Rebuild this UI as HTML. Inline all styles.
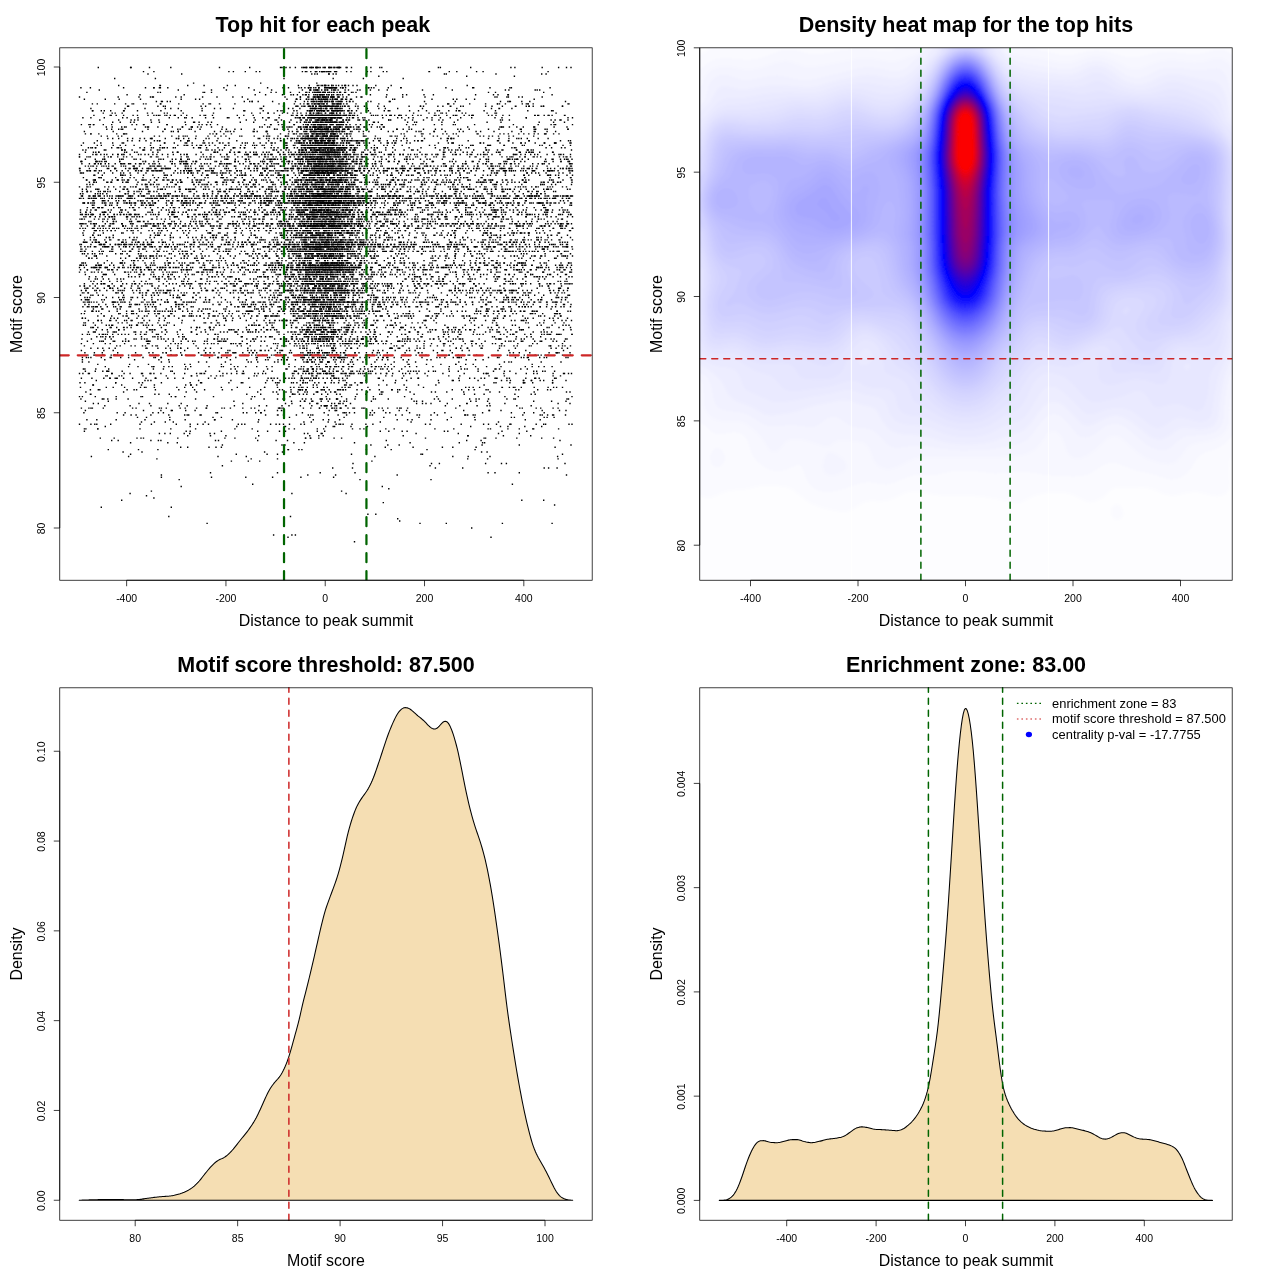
<!DOCTYPE html>
<html><head><meta charset="utf-8"><title>Motif enrichment plots</title>
<style>html,body{margin:0;padding:0;background:#fff}svg{display:block;will-change:transform}text{font-family:"Liberation Sans", sans-serif;fill:#000}</style>
</head><body>
<svg width="1280" height="1280" viewBox="0 0 1280 1280">
<rect width="1280" height="1280" fill="#fff"/>
<clipPath id="c1"><rect x="59.76" y="47.81" width="532.43" height="532.43"/></clipPath>
<g clip-path="url(#c1)">
<g stroke="#000" stroke-width="1.44" fill="none">
<path d="M294.7 67.58h1.4m5.1 0h1.4m7.5 0h1.4m4.1 0h2.4m6.5 0h1.4m2.6 0h1.4m3.5 0h1.4m3.6 0h1.4m5.6 0h1.4m163.4 0h1.4m2.6 0h1.4M142.8 71.61h1.4m111.3 0h1.4m44.8 0h1.4m3 0h1.4m2.6 0h1.4m3.6 0h1.4m12 0h1.4m0.1 0h1.4m4.5 0h1.4m91 0h1.9m25.9 0h1.4M147.3 73.91h1.4m162.4 0h1.4m4.1 0h1.4M402.5 78.53h1.4M159.2 85.44h1.9m42.3 0h1.4m29.8 0h1.4m72.6 0h1.4m10.5 0h1.4m0.1 0h1.4m4.1 0h1.9m6 0h1.4m8.1 0h1.4m44.2 0h1.4M89.7 87.75h1.4m67.6 0h2.4m6 0h1.4m139.6 0h1.4m0.6 0h1.4m6.6 0h1.4m4.5 0h1.4m1.6 0h1.4m0.1 0h1.4m0.1 0h5.3m0.1 0h1.4m5.1 0h1.4m24.4 0h1.4m30.9 0h1.9m70.1 0h2.4m14.9 0h1.4M210.8 90.05h1.4m13.5 0h1.4m82 0h2.4m4.1 0h1.4m4 0h1.4m4.1 0h1.4m28.9 0h1.4m1.1 0h1.4m9 0h1.4m7 0h1.4m72.1 0h1.4M159.7 92.35h1.4m109.3 0h1.4m18 0h1.4m14.9 0h1.4m9.6 0h1.4m1 0h1.4m1.6 0h1.4m15 0h1.4m154.5 0h1.4"/>
<path d="M139.3 94.66h1.4m42.8 0h1.4m117.3 0h1.4m15.4 0h2.9m6.6 0h1.4m3 0h1.4m7.6 0h1.4m62.6 0h1.4m100.4 0h1.4M241.6 96.96h1.4m65.1 0h1.4m7.1 0h2.4m3 0h1.4m4.1 0h1.4m9 0h1.4m21 0h1.4m134.6 0h1.4m23.9 0h1.4M104.6 99.27h1.4m12.5 0h1.4m175.8 0h1.4m2.6 0h1.4m4.5 0h1.4m11.1 0h2.3m2.6 0h1.4m7.1 0h1.4m7.5 0h2.9M160.7 101.58h1.4m4.5 0h1.4m83.5 0h1.4m41.8 0h1.4m19.5 0h1.4m3 0h1.4m2.6 0h1.4m0.1 0h2.4m3.1 0h1.4m5 0h1.4m7.1 0h1.4m2 0h1.4m19.5 0h1.4m135.6 0h1.4m56.2 0h1.4M91.7 103.88h1.4m20.9 0h1.4m17.5 0h1.4m43.8 0h1.4m98.8 0h1.4m20 0h1.4m6.5 0h1.9m4.1 0h1.4m3.6 0h1.4m2.5 0h1.4m2.1 0h1.4m4.6 0h1.4m1 0h1.4m2.1 0h1.4m0.6 0h1.4m105.8 0h1.4m48.3 0h1.4m27.4 0h1.4m0.6 0h1.4m39.3 0h1.4M126.9 106.19h1.4m34.4 0h1.4m0.5 0h1.4m34.4 0h1.4m105.8 0h1.4m0.1 0h1.4m1.6 0h1.4m1.6 0h1.9m7.5 0h1.4m6.1 0h2.8m2.6 0h1.9m44.3 0h1.4m34.8 0h1.4m1.6 0h1.4m13 0h1.4m46.3 0h1.4m28.4 0h1.9m9 0h1.4m15.5 0h1.4m17.9 0h1.4M124.4 108.49h1.4m44.3 0h1.4m127.7 0h1.4m9.5 0h1.4m0.1 0h1.4m1.6 0h1.4m0.1 0h1.4m2.5 0h1.9m3.1 0h2.4m4.1 0h1.4m3.5 0h1.4m11 0h1.4m16.5 0h1.4m16.5 0h1.4m11 0h1.4m23.4 0h1.4m75.1 0h1.9M160.2 110.8h1.4m18.9 0h1.4m80.6 0h1.4m45.7 0h1.4m7.6 0h1.4m1 0h1.4m0.1 0h2.4m1.6 0h1.4m6.5 0h1.9m1.1 0h1.4m0.1 0h1.4m0.1 0h1.4m1.6 0h1.4m2.5 0h2.4m16 0h1.4m0.6 0h1.4m14.5 0h1.4m4.1 0h1.4m57.6 0h1.4m77.6 0h1.4"/>
<path d="M102.6 113.1h1.4m17.5 0h1.4m43.7 0h1.4m14.5 0h1.4m28.9 0h1.4m36.8 0h1.4m21 0h1.4m46.2 0h1.4m9.1 0h1.4m3 0h1.4m11.5 0h1.4m62.7 0h1.4m25.9 0h1.4m113.8 0h1.4M155.7 115.4h1.4m0.6 0h1.4m10.5 0h1.4m2.6 0h1.4m103.8 0h1.4m21.5 0h1.4m6.5 0h1.4m0.1 0h1.4m1.1 0h2.4m0.1 0h1.4m2 0h1.4m0.6 0h1.9m0.6 0h1.4m0.6 0h1.4m1.1 0h1.4m0.6 0h2.4m1 0h1.4m0.1 0h2.4m0.1 0h1.4m0.1 0h1.4m0.6 0h1.4m0.6 0h1.4m45.7 0h1.4m25.4 0h1.4m27.4 0h1.4m21 0h1.4m1.1 0h1.4m0.1 0h1.4m13.9 0h1.4m6.1 0h1.4m37.3 0h1.9M268.4 117.71h1.4m24.9 0h1.9m2.1 0h2.4m2.1 0h1.4m2.5 0h1.4m1.6 0h1.4m0.1 0h3.4m1.1 0h2.9m2.5 0h2.9m1.1 0h1.4m1.6 0h1.4m0.6 0h1.4m4.5 0h1.4m0.1 0h1.9m61.2 0h1.4m23.9 0h1.4m3.6 0h1.4m16.9 0h1.4m74.6 0h1.4m40.3 0h1.4M118 120.01h1.4m38.8 0h1.4m114.8 0h1.4m38.8 0h4.4m2.5 0h1.9m0.6 0h1.4m1.1 0h2.4m0.6 0h1.9m11 0h1.4m2.1 0h1.4m10 0h1.4m0.1 0h1.4m4 0h1.4m24.4 0h1.4m20.5 0h1.4m86.5 0h1.4m58.1 0h1.4M112 122.32h1.4m80.5 0h1.4m44.3 0h1.4m36.3 0h1.4m28.9 0h1.4m0.6 0h1.4m5.1 0h2.4m1 0h1.4m6.6 0h1.4m1.6 0h1.4m2 0h1.4m5.6 0h3.4m33.3 0h1.4m27.9 0h1.4m5.6 0h1.4M93.2 124.62h1.4m36.8 0h1.4m10.5 0h1.4m21.9 0h1.4m17 0h1.4m23.4 0h1.4m5.6 0h1.4m52.2 0h1.4m21.9 0h1.4m7.6 0h1.4m6.5 0h1.4m0.6 0h1.4m6 0h1.4m0.1 0h1.4m0.1 0h1.4m1.1 0h1.4m2.6 0h1.4m0.1 0h1.4m3.5 0h1.4m1.6 0h2.4m4.1 0h1.4m2.5 0h1.4m4.6 0h1.4m24.9 0h1.4m58.2 0h1.4m31.3 0h1.4M89.2 126.93h1.4m15 0h1.4m4.5 0h1.4m11 0h1.4m46.3 0h1.4m9 0h1.4m8.1 0h1.4m66.1 0h1.4m21.4 0h1.4m8 0h1.4m10.1 0h1.4m2 0h1.4m2.1 0h1.4m2.6 0h2.9m1.6 0h3.8m6.6 0h1.4m4.5 0h1.4m1.6 0h1.4m0.1 0h1.4m6.6 0h2.3m3.6 0h1.4m4.1 0h1.4m3.5 0h1.4m14.5 0h1.4m120.3 0h1.4m0.5 0h1.4m4.6 0h1.4m6 0h1.4m5.1 0h1.4M118 129.24h1.4m1.1 0h1.4m12.5 0h1.4m11.5 0h1.4m15.5 0h1.4m55.6 0h1.4m30.9 0h1.4m45.3 0h1.4m5.5 0h1.4m0.6 0h2.4m0.1 0h1.4m1.1 0h1.4m1.6 0h2.4m5 0h1.4m0.1 0h2.9m6.5 0h1.4m1.1 0h1.4m18 0h1.4m0.6 0h1.4m6 0h1.4m12.5 0h1.4m151.5 0h1.4m11.5 0h1.4"/>
<path d="M170.6 131.54h1.4m57.7 0h1.4m35.3 0h1.4m35.4 0h1.4m0.1 0h2.8m2.6 0h2.4m0.1 0h1.4m0.1 0h1.4m6.5 0h1.4m1.1 0h1.9m0.1 0h1.4m0.1 0h1.4m2.6 0h1.9m1 0h1.4m2.1 0h1.9m2.1 0h1.4m6 0h1.4m7.1 0h1.4m27.9 0h1.4m17.4 0h1.4m25.9 0h1.4m40.3 0h1.4m43.8 0h1.4m24.4 0h1.4M84.7 133.85h1.4m38.3 0h1.4m141.1 0h1.4m25.4 0h1.4m0.6 0h1.4m8.5 0h1.4m0.1 0h1.9m3.6 0h1.4m1.6 0h1.9m4.5 0h2.9m1.1 0h2.4m1.6 0h1.4m1.1 0h2.8m13.5 0h1.4m12.5 0h1.4m65.2 0h1.4m11.5 0h1.4m12 0h1.4m42.3 0h1.4m27.4 0h1.4m14.9 0h1.4M121 136.15h1.4m48.7 0h1.4m12 0h1.4m9.5 0h1.4m10.5 0h1.4m11.6 0h1.4m75.5 0h1.4m9 0h1.4m1.6 0h2.4m3.1 0h2.4m3.5 0h1.4m0.1 0h1.4m1.6 0h1.4m2.6 0h1.4m0.1 0h1.9m2.5 0h1.4m8.6 0h1.4m14.9 0h1.4m1.1 0h1.4m27.9 0h1.4m101.9 0h1.4m33.8 0h1.4M126.9 138.45h1.4m36.3 0h1.4m12.1 0h1.4m3.5 0h1.4m81.5 0h1.4m9.5 0h1.4m8.6 0h1.4m13 0h1.4m2.5 0h3.4m1.1 0h1.4m0.6 0h1.4m0.1 0h2.4m0.6 0h1.4m1.5 0h2.9m0.6 0h1.4m4.1 0h2.4m0.6 0h1.9m1 0h1.4m1.1 0h1.4m2.6 0h1.4m32.4 0h1.4m1.5 0h1.4m69.1 0h1.4m2.1 0h1.4m0.6 0h1.4m43.8 0h1.4m8.5 0h1.4m8.5 0h1.4M159.2 140.76h1.4m26.4 0h1.4m14.5 0h1.4m91.4 0h1.4m1.1 0h1.4m10 0h1.4m4.6 0h3.4m0.5 0h2.4m6.1 0h2.4m1.6 0h3.3m11.1 0h1.4m4.5 0h1.4m2.6 0h1.4m56.2 0h1.4m2 0h1.4m2.1 0h1.4m24.4 0h1.4m60.2 0h1.4m18.5 0h1.4m40.3 0h1.4M112 143.06h1.4m9.5 0h1.4m49.3 0h1.4m11 0h1.4m16.5 0h1.4m13.5 0h1.9m1.5 0h1.4m18 0h1.4m22.4 0h1.4m4.6 0h1.4m1.6 0h1.4m9.5 0h1.4m12 0h1.4m0.6 0h1.9m4 0h1.4m1.1 0h1.9m1.1 0h2.4m0.6 0h1.4m11 0h1.4m2.6 0h1.4m14.9 0h1.4m6.6 0h1.4m1.6 0h1.4m3 0h1.4m15.5 0h1.4m6.1 0h1.4m2.5 0h1.4m2.1 0h1.4m56.2 0h1.4m66.1 0h1.4m3.1 0h1.4m43.3 0h1.4M159.7 145.37h1.4m38.3 0h1.4m0.1 0h1.4m2.6 0h1.4m2.5 0h1.4m4.1 0h1.4m12.5 0h1.4m24.4 0h1.4m6.1 0h1.4m29.8 0h1.4m7.6 0h1.4m2 0h1.4m2.6 0h1.4m0.6 0h1.4m4.6 0h1.4m2 0h1.4m2.1 0h1.4m0.1 0h1.4m1.1 0h1.4m2.1 0h5.8m12 0h1.4m6.1 0h1.4m15.5 0h1.4m8 0h1.4m87 0h1.4m14.5 0h3.3m13 0h1.4m43.8 0h1.4M87.7 147.68h1.4m70.1 0h1.4m1.1 0h1.4m0.6 0h1.4m9.5 0h1.4m21.9 0h1.4m0.1 0h1.4m22.9 0h1.4m7.6 0h1.4m0.1 0h1.4m8 0h1.4m18.9 0h1.4m8.1 0h1.4m26.4 0h1.4m0.6 0h1.4m0.1 0h1.4m2 0h1.9m1.6 0h1.9m0.1 0h1.4m4 0h1.4m2.6 0h1.4m3.6 0h3.4m0.1 0h1.4m0.5 0h1.4m2.6 0h2.4m1.1 0h1.4m12 0h1.4m0.6 0h1.4m62.6 0h1.4m22.5 0h1.4m19.9 0h1.4m46.8 0h1.4m35.8 0h1.4m12 0h1.4"/>
<path d="M105.1 149.98h1.4m17.4 0h1.4m147.1 0h1.4m11.5 0h1.4m18 0h1.4m10 0h1.4m1.1 0h1.4m0.5 0h1.4m5.6 0h1.4m0.6 0h1.4m2.5 0h1.4m6.1 0h1.9m0.6 0h1.4m4 0h1.4m17 0h1.4m5.6 0h1.4m35.3 0h1.4m0.1 0h1.4m25.4 0h1.4m10.5 0h1.4m2.6 0h1.4m0.6 0h1.4m29.8 0h1.4m26 0h1.4m10.5 0h1.4m1.5 0h1.4m38.9 0h1.4M84.7 152.29h1.4m6.6 0h1.4m1 0h1.4m1.6 0h1.4m52.7 0h1.4m23.5 0h1.4m21.9 0h1.4m11.5 0h2.4m22.9 0h1.4m9.5 0h1.4m26.9 0h1.4m11.1 0h1.4m9 0h1.4m0.6 0h2.4m1 0h1.4m4.6 0h1.4m1.1 0h1.4m0.6 0h1.4m1.5 0h1.4m1.6 0h2.4m0.6 0h1.4m0.6 0h1.4m2.6 0h3.8m0.1 0h1.4m6.1 0h1.4m47.7 0h1.4m49.3 0h1.4m0.1 0h1.4m41.8 0h1.4m40.3 0h1.4m21.4 0h1.4M78.8 154.59h1.4m14.9 0h1.4m7.1 0h1.4m7 0h1.4m9 0h1.4m5.6 0h1.4m9.5 0h1.4m10.5 0h1.4m26.4 0h1.4m5.1 0h1.4m46.3 0h1.4m8.5 0h1.4m1.1 0h2.4m30.3 0h1.4m10.1 0h1.4m1 0h1.4m1.1 0h1.4m2.6 0h1.4m0.6 0h1.9m1.5 0h1.4m3.6 0h1.4m0.1 0h2.4m0.1 0h2.4m0.6 0h1.4m0.1 0h2.8m0.1 0h3.9m0.1 0h2.9m0.1 0h1.4m1.6 0h1.4m1.5 0h1.4m0.1 0h1.9m1.1 0h1.4m1.6 0h1.4m2.1 0h1.4m0.1 0h1.4m1.5 0h1.4m6.1 0h1.4m28.9 0h3.8m11.1 0h1.4m12.5 0h1.4m8.5 0h1.4m9.5 0h1.4m4.1 0h1.4m15.4 0h1.4m19 0h1.4m1.6 0h1.4m0.1 0h1.4m5.5 0h1.4m31.9 0h1.4m27.4 0h1.4m3.5 0h1.4m3.1 0h1.4m5.6 0h1.4M78.8 156.9h1.4m30.3 0h1.4m11 0h1.4m1.6 0h1.4m29.9 0h1.4m8.5 0h1.4m98.9 0h1.4m35.9 0h1.4m1 0h4.4m2.1 0h1.4m0.6 0h2.4m2.5 0h1.4m2.1 0h1.4m1.6 0h2.4m0.1 0h2.4m1 0h4.4m0.1 0h1.4m14 0h1.4m6.6 0h1.8m1.6 0h1.4m11.5 0h1.4m2.6 0h1.4m10.5 0h1.4m20.5 0h1.4m8.5 0h1.4m7 0h1.4m1.1 0h1.4m37.3 0h2.4m6.1 0h1.4m3.5 0h1.4m29.9 0h1.4m16 0h1.4m28.4 0h1.4M102.1 159.2h1.4m54.7 0h1.4m12 0h1.4m14 0h1.4m37.3 0h1.4m39.3 0h1.4m6.6 0h1.4m1 0h1.4m7.1 0h1.4m14.5 0h2.4m3.5 0h4.9m0.6 0h1.4m1.6 0h1.4m0.1 0h1.4m0.1 0h4.8m0.1 0h1.4m4.6 0h1.9m0.6 0h1.4m2.5 0h1.4m2.1 0h1.4m1.1 0h1.4m2.6 0h1.4m18.4 0h1.4m5.6 0h1.4m7 0h1.4m26.9 0h1.4m15.5 0h1.4m81.5 0h1.4m3.6 0h1.4m35.8 0h2.4m10 0h1.4M80.7 161.5h1.4m13.5 0h1.4m0.1 0h1.4m20.5 0h1.4m24.4 0h1.4m46.2 0h1.4m1.1 0h2.4m36.9 0h1.4m9.5 0h1.4m2.5 0h1.4m11.6 0h1.4m8 0h1.4m15.5 0h1.4m7.5 0h1.4m1.1 0h1.4m1.1 0h1.4m3.5 0h2.4m5.1 0h1.4m1.1 0h1.4m0.5 0h1.9m1.6 0h1.9m1.1 0h1.4m6.5 0h1.4m2.6 0h1.4m1.1 0h3.9m2.6 0h1.4m4 0h1.4m0.1 0h1.4m6.1 0h1.4m25.4 0h1.4m4.5 0h1.4m11 0h1.4m16 0h1.4m63.1 0h1.4m15.5 0h1.4m7.6 0h1.4m28.8 0h1.4m15 0h1.4m5.6 0h1.4M81.2 163.81h1.4m6.1 0h1.4m14.5 0h1.4m8.5 0h1.4m4.1 0h1.4m18.9 0h1.4m10.5 0h1.4m0.6 0h1.4m15.5 0h1.9m12.5 0h1.4m17 0h1.4m20.4 0h1.4m1.1 0h1.9m9 0h1.4m9 0h1.4m12 0h1.4m6.6 0h1.4m1.1 0h1.4m0.6 0h1.4m24.9 0h1.4m4 0h1.4m0.6 0h2.9m1.1 0h1.4m1.1 0h1.4m1.1 0h1.4m0.5 0h1.4m0.1 0h1.4m2.6 0h2.4m13 0h1.4m0.6 0h1.9m0.1 0h1.4m1 0h1.4m0.6 0h1.4m5.1 0h1.4m1.6 0h1.4m5 0h3.4m3.1 0h1.4m7.5 0h1.4m25.4 0h1.4m3.1 0h1.4m7 0h1.4m4.1 0h1.4m17 0h1.4m52.7 0h1.4m11 0h1.4m6 0h1.4m22 0h1.4m0.6 0h1.4m3.5 0h1.4m19 0h1.4M87.7 166.11h1.4m7 0h1.4m60.2 0h1.4m30.9 0h1.4m31.3 0h1.4m1.6 0h1.4m18 0h1.4m22.9 0h1.4m9 0h1.4m10.5 0h1.4m1.6 0h1.4m8.1 0h1.4m7.5 0h1.4m0.1 0h3.9m0.1 0h1.4m1 0h2.4m0.6 0h1.9m0.6 0h2.4m0.1 0h1.4m0.6 0h3.3m4.1 0h1.9m0.1 0h1.4m0.6 0h1.4m5 0h1.4m53.2 0h1.4m25 0h1.4m19.4 0h1.4m5.6 0h1.4m8 0h1.4m23.4 0h1.9m23.9 0h1.4m4.1 0h1.4m41.8 0h1.4"/>
<path d="M79.3 168.42h1.4m8 0h1.4m16.5 0h2.8m4.6 0h1.4m9.5 0h1.4m3.1 0h1.4m3.6 0h1.4m0.1 0h1.4m4.5 0h1.4m4.6 0h1.9m11 0h1.9m2.5 0h1.4m20.5 0h2.4m13 0h1.4m7 0h1.4m12 0h1.4m30.4 0h2.4m8.5 0h1.4m5.6 0h1.4m10 0h1.4m4.5 0h1.4m0.1 0h1.4m2.6 0h1.4m7.5 0h2.4m3.1 0h1.4m1.1 0h1.9m0.1 0h1.4m2.5 0h1.4m1.1 0h2.4m2.6 0h1.4m2.6 0h1.4m0.1 0h1.8m2.6 0h1.4m0.6 0h1.4m1.1 0h1.4m2.1 0h1.4m3 0h1.9m8.1 0h1.4m6 0h1.4m5.6 0h1.4m25.9 0h1.4m7.5 0h1.4m11 0h1.4m27.4 0h1.4m7 0h1.9m3.6 0h1.4m6.6 0h1.4m4 0h1.4m9 0h1.4m1.6 0h2.4m5.1 0h1.4m0.1 0h3.3m0.1 0h1.4m3.6 0h1.4m17.5 0h1.4m36.3 0h1.4m1.1 0h1.4M87.2 170.73h1.4m0.6 0h1.4m4.5 0h1.4m2.1 0h1.4m21.5 0h1.4m17.4 0h1.9m4.1 0h1.4m4.5 0h1.4m29.9 0h1.4m3.1 0h1.4m17 0h1.4m3 0h1.9m17.5 0h1.4m7.5 0h1.4m16 0h1.4m11 0h1.4m0.1 0h1.4m10.5 0h1.4m2.6 0h1.4m14 0h1.4m1.6 0h2.8m6.1 0h1.4m0.6 0h1.9m0.1 0h3.3m0.6 0h1.9m1.6 0h1.4m0.1 0h5.4m1.5 0h2.4m1.1 0h1.4m0.6 0h1.4m1.6 0h1.4m1.1 0h1.4m8 0h1.4m1.1 0h1.4m70.1 0h1.4m5 0h1.4m8.1 0h1.4m4 0h1.4m0.6 0h1.4m4.6 0h1.4m5 0h1.4m5.6 0h1.4m20.4 0h1.4m10 0h1.4m5.6 0h1.4m10.5 0h1.4m8 0h1.4m0.6 0h1.4m13.5 0h1.4m1.6 0h1.4m4.1 0h1.4m12.5 0h1.4M79.8 173.03h2.8m29.4 0h1.4m70.1 0h1.4m2.1 0h1.4m2.1 0h1.4m29.8 0h1.4m51.8 0h1.4m1 0h1.4m21.5 0h1.4m7 0h1.4m2.1 0h1.9m1.1 0h1.4m3 0h1.4m0.6 0h3.4m2.1 0h1.4m0.1 0h2.9m0.1 0h1.9m6 0h2.4m76 0h1.4m39.9 0h1.4m6 0h1.4m28.9 0h1.4m6.5 0h1.4m20.5 0h1.4m34.3 0h1.4m5.6 0h1.4M121.5 175.34h2.3m39.9 0h1.4m26.9 0h1.4m7.5 0h1.4m4.5 0h1.4m8.1 0h1.4m24.4 0h1.4m0.6 0h2.4m14.5 0h2.4m2.5 0h1.4m3.1 0h1.4m6.5 0h1.4m0.6 0h1.4m5.1 0h1.9m6 0h1.4m7.1 0h1.4m3.5 0h2.4m6.1 0h2.4m9 0h1.4m3.5 0h1.4m2.6 0h2.4m2.6 0h1.4m0.6 0h1.4m5 0h1.4m4.6 0h1.4m5 0h1.4m22.5 0h1.4m12 0h1.4m9.5 0h1.4m7.5 0h1.4m10.1 0h1.4m41.7 0h1.4m19.5 0h1.4m17 0h1.4m8 0h1.4m14.5 0h1.4m14.5 0h1.4m15.5 0h1.4M82.7 177.64h1.4m58.2 0h1.4m10 0h1.4m10.5 0h1.4m26.9 0h1.4m26.9 0h1.9m10.1 0h2.3m5.1 0h1.4m36.8 0h1.4m20.5 0h1.4m7.5 0h1.9m4.1 0h1.4m2 0h2.4m7.1 0h2.4m0.1 0h1.4m0.5 0h1.4m4.1 0h2.4m11 0h1.9m22.4 0h1.4m49.8 0h1.4m30.3 0h1.4m4.1 0h1.4m13.5 0h2.4m87.5 0h1.4M94.6 179.95h1.4m20.5 0h1.4m5.5 0h1.4m25 0h1.4m28.8 0h1.4m10.1 0h1.4m10.5 0h1.4m28.4 0h1.4m9.5 0h1.4m8.5 0h1.4m7.5 0h1.4m33.9 0h1.4m0.6 0h1.9m3 0h1.4m0.1 0h4.9m2.1 0h1.4m0.1 0h1.4m0.6 0h1.4m3 0h1.4m3.6 0h1.4m1.1 0h2.4m2.5 0h2.9m3.6 0h1.9m0.6 0h1.4m0.6 0h1.4m8.5 0h1.4m1.1 0h1.4m7 0h1.4m9 0h1.4m13 0h1.4m0.6 0h1.9m16.5 0h1.4m2.1 0h1.4m0.6 0h1.4m36.3 0h1.4m28.9 0h1.4m15.9 0h1.4m8.1 0h1.4m12.5 0h1.4m25.9 0h1.4m8.5 0h1.4m7.1 0h1.9M88.7 182.25h1.4m5.5 0h1.4m56.7 0h1.4m40.8 0h1.4m1.1 0h1.4m8 0h1.4m6.6 0h1.9m15 0h1.4m4 0h1.4m2.6 0h1.4m6 0h1.4m4.6 0h1.4m37.3 0h1.4m5.1 0h1.4m2.1 0h1.4m3.5 0h1.4m0.1 0h1.4m2.6 0h2.4m0.1 0h1.4m1.5 0h1.4m2.6 0h1.4m3.6 0h1.4m0.6 0h1.4m2.5 0h1.4m8.1 0h1.4m5 0h1.4m0.6 0h2.4m11 0h1.4m21.5 0h1.4m17.4 0h1.4m21.5 0h1.4m3 0h1.9m16.5 0h1.4m22.4 0h1.4m3.6 0h1.4m12.5 0h1.4m4.5 0h1.4m15 0h1.4m20.5 0h1.4m11 0h1.4M149.8 184.55h1.4m15.4 0h1.4m6.6 0h1.4m17.4 0h1.4m6.6 0h1.4m22.9 0h1.4m20.5 0h1.4m4 0h1.4m32.4 0h1.4m9.5 0h1.4m3.1 0h2.4m2 0h1.4m0.1 0h1.4m1.6 0h1.9m1.1 0h2.4m0.6 0h2.4m1 0h1.4m1.1 0h1.4m3.1 0h1.4m6 0h1.4m0.6 0h1.4m0.1 0h1.4m6.1 0h1.4m0.5 0h2.4m0.6 0h1.4m0.6 0h2.4m9 0h1.4m10.5 0h2.4m2.1 0h1.4m4.6 0h1.4m0.1 0h1.4m9.5 0h1.9m1.6 0h1.4m17.9 0h1.4m12.5 0h1.4m15.5 0h1.4m3.1 0h1.4m33.8 0h1.4m46.3 0h1.4m2.1 0h1.4"/>
<path d="M78.8 186.86h1.4m9.5 0h1.4m21.9 0h1.4m18 0h1.4m1.1 0h1.4m37.3 0h1.4m4 0h1.4m20 0h1.4m2.6 0h1.9m7 0h1.4m21.4 0h1.4m17.5 0h1.4m5.1 0h1.4m5 0h1.4m10.5 0h1.4m19 0h1.4m5 0h1.4m1.6 0h1.4m1.6 0h1.4m2.1 0h1.4m1.5 0h1.4m0.6 0h1.9m8.1 0h1.4m1 0h1.4m5.6 0h1.4m1.1 0h1.4m1.1 0h1.4m0.1 0h1.4m4 0h1.4m12 0h1.4m14.5 0h1.4m2.1 0h1.4m2.1 0h1.4m16.9 0h1.4m1.6 0h1.4m23.4 0h1.4m11.5 0h1.4m5.6 0h1.4m5 0h1.4m3.1 0h1.4m26.9 0h1.4m51.7 0h1.4m13.5 0h1.4M95.1 189.16h1.4m42.3 0h1.4m2.1 0h1.4m3.6 0h1.4m8.5 0h1.4m1.1 0h1.4m0.6 0h1.4m30.8 0h1.4m21 0h1.4m11 0h1.4m61.6 0h1.4m0.6 0h1.4m4.1 0h2.4m1.1 0h1.4m3 0h1.4m2.6 0h1.4m4.6 0h1.4m1 0h1.4m0.1 0h1.4m0.1 0h1.4m3.6 0h1.4m1.1 0h1.4m0.6 0h1.4m0.5 0h1.9m0.1 0h1.4m1.6 0h1.4m0.1 0h2.9m1.6 0h1.4m6 0h1.4m8.5 0h1.9m90.5 0h1.4m1.1 0h1.4m9 0h1.4m26.4 0h1.4m12 0h1.4m22.9 0h1.4m11.5 0h1.4M81.7 191.47h1.4m3.6 0h1.4m2.1 0h1.4m27.4 0h1.4m17.9 0h1.4m1.1 0h1.4m36.8 0h1.4m31.4 0h1.4m51.2 0h1.4m6.1 0h1.4m2.6 0h2.8m3.1 0h1.4m0.1 0h1.4m8.5 0h1.4m6.1 0h1.4m14.5 0h1.4m0.1 0h1.4m3.5 0h5.9m0.1 0h2.4m2 0h1.4m3.1 0h1.4m6.1 0h2.4m21.4 0h3.4m12 0h1.4m3.5 0h1.4m19 0h1.4m3.6 0h1.4m9 0h1.4m33.8 0h1.4m14 0h1.4m24.9 0h2.4m7.6 0h1.4m17.9 0h1.4M79.8 193.78h1.4m15.9 0h1.4m7.6 0h1.4m19.9 0h1.4m19.5 0h1.4m16.9 0h1.4m25.4 0h1.4m44.8 0h1.4m4.6 0h1.4m4.5 0h2.4m28.4 0h1.4m10 0h1.4m8.1 0h1.4m7.5 0h1.4m2.1 0h1.4m0.6 0h1.4m0.5 0h1.4m8.6 0h1.9m9.5 0h1.4m5 0h1.4m6.6 0h1.4m19.9 0h1.4m9.1 0h1.4m46.7 0h1.4m1.1 0h1.4m42.3 0h1.4m53.2 0h1.4M80.7 196.08h2.4m6.1 0h1.4m20.9 0h1.4m4.6 0h1.4m1.1 0h1.4m0.1 0h1.4m5 0h1.4m0.1 0h2.4m0.1 0h1.4m16.9 0h1.9m6.1 0h1.4m1.1 0h1.4m9.5 0h1.4m2.6 0h1.9m15.4 0h1.4m8.1 0h1.4m0.1 0h1.4m6 0h1.4m3.1 0h1.9m18.4 0h1.4m0.1 0h1.4m2.6 0h1.4m3.6 0h1.4m8 0h1.4m1.1 0h2.4m21.4 0h1.4m2.6 0h1.4m13.5 0h1.4m4 0h1.9m0.1 0h1.4m0.1 0h3.4m1.1 0h6.8m0.6 0h2.4m0.1 0h1.4m1.1 0h2.4m1.1 0h4.8m0.6 0h1.9m0.1 0h1.9m0.6 0h1.9m0.6 0h1.4m0.6 0h1.4m1 0h1.4m4.1 0h1.4m2.6 0h1.9m1.6 0h1.4m0.5 0h2.4m1.1 0h1.4m3.1 0h1.4m9.5 0h1.4m5.6 0h1.4m0.5 0h1.4m4.6 0h1.4m1.6 0h2.4m0.6 0h1.9m21.9 0h1.9m1.1 0h1.4m1.1 0h3.3m24.5 0h1.4m11.5 0h1.4m4.5 0h1.4m0.6 0h1.4m12.5 0h1.4m7.5 0h1.4m5.1 0h1.4m4.6 0h1.4m0.5 0h1.4m5.1 0h1.4m3.1 0h1.4m26.9 0h1.4m2 0h1.4m4.6 0h2.4M88.7 198.39h1.4m4.5 0h1.4m4.1 0h1.4m10 0h1.4m5.1 0h1.4m1.1 0h1.4m4.5 0h1.9m5.6 0h1.4m12 0h1.4m1.5 0h1.4m20.5 0h1.4m3.1 0h1.4m6 0h1.4m21.4 0h1.4m6.1 0h1.4m5.5 0h1.4m8.1 0h1.4m23.9 0h1.4m2.1 0h1.4m3 0h1.4m4.6 0h1.4m9.5 0h1.4m8.6 0h1.4m8 0h1.4m1.6 0h1.4m2 0h1.4m0.6 0h2.4m2.1 0h1.4m0.6 0h1.4m1.6 0h6.8m0.1 0h2.4m0.6 0h4.4m0.1 0h2.3m0.1 0h1.9m1.1 0h1.4m0.1 0h1.4m4.1 0h1.4m1 0h5.4m2.1 0h1.4m0.1 0h4.4m3 0h1.4m0.1 0h1.4m0.6 0h1.9m3.6 0h1.4m0.6 0h1.4m3 0h1.4m3.1 0h1.4m4.1 0h1.4m5.5 0h1.4m0.1 0h1.4m8.5 0h1.4m11.5 0h1.9m0.6 0h1.9m6.1 0h1.4m9 0h1.4m2.6 0h1.8m1.1 0h1.4m6.6 0h1.4m1.6 0h1.4m0.5 0h1.4m3.6 0h1.4m7 0h1.4m5.1 0h1.4m0.1 0h1.4m17 0h1.4m0.5 0h1.4m9.1 0h1.4m0.1 0h1.9m4.5 0h1.4m6.6 0h1.4m18.4 0h1.4m4.1 0h1.4m6 0h1.4m4.6 0h1.4M102.6 200.69h1.4m33.3 0h1.4m7.6 0h1.4m28.9 0h1.4m0.1 0h1.4m1.5 0h1.4m32.4 0h1.4m5.5 0h1.4m2.6 0h1.4m10.5 0h1.4m2.6 0h1.4m17.5 0h1.4m5 0h1.4m1.1 0h1.4m6 0h1.4m0.6 0h1.9m7.1 0h1.4m2 0h1.4m7.1 0h1.4m1.1 0h1.4m6 0h1.4m1.6 0h1.4m1.1 0h1.4m0.6 0h1.9m3 0h1.4m4.1 0h3.4m4 0h1.4m0.6 0h2.4m1.1 0h1.9m2.6 0h1.4m1 0h2.4m1.1 0h1.4m0.6 0h1.4m2.6 0h1.9m44.7 0h1.4m0.6 0h1.4m36.9 0h1.4m0.1 0h1.4m29.3 0h1.4m0.1 0h1.4m21 0h1.4m11.5 0h1.4M83.2 203h1.9m2.1 0h1.4m1.6 0h1.4m0.6 0h1.4m10 0h1.4m11.5 0h1.4m5.5 0h1.4m0.6 0h1.9m1.6 0h1.4m0.6 0h1.4m2.6 0h1.4m13 0h1.4m19.9 0h2.4m7.5 0h1.4m0.6 0h1.4m1.1 0h1.4m12.5 0h2.4m9 0h1.4m1.1 0h1.4m1.1 0h1.4m6.5 0h1.4m2.6 0h1.4m0.1 0h1.4m0.6 0h1.4m28.4 0h1.4m0.6 0h2.3m3.6 0h1.4m8 0h1.4m2.1 0h1.4m1.6 0h1.4m2.6 0h1.4m5.5 0h1.9m1.6 0h1.9m2.1 0h1.9m0.1 0h1.4m2.5 0h3.4m0.6 0h1.4m1.1 0h1.4m1.6 0h1.4m0.5 0h3.9m2.1 0h2.9m0.1 0h2.4m1.1 0h3.3m0.1 0h1.4m0.1 0h3.4m6.1 0h2.8m3.1 0h1.9m2.1 0h1.4m0.6 0h2.4m5.5 0h1.4m0.1 0h1.4m7 0h1.4m33.9 0h1.4m0.6 0h1.4m13.5 0h1.4m0.1 0h2.8m9.6 0h1.4m19.4 0h1.4m14 0h1.4m3.1 0h1.4m0.6 0h1.4m10 0h1.4m7 0h1.4m1.1 0h1.4m0.6 0h1.9m5.5 0h1.4m5.6 0h1.4m13.5 0h1.4m0.1 0h1.4m4 0h2.4"/>
<path d="M91.7 205.3h1.4m23.4 0h1.4m31.9 0h1.4m14.9 0h1.4m14 0h1.4m3.1 0h1.4m72.6 0h1.4m5 0h1.4m0.1 0h1.4m6.1 0h1.4m0.5 0h1.4m14.5 0h2.4m2.6 0h1.4m4.1 0h1.4m0.5 0h1.4m1.6 0h1.9m9.5 0h1.4m2.1 0h2.4m1.1 0h1.9m8.5 0h1.4m3.1 0h1.4m1.1 0h1.4m2 0h1.9m9.1 0h1.4m5.5 0h1.4m27.4 0h1.4m11.5 0h1.4m1.6 0h2.4m19.9 0h1.4m21.5 0h1.4m8 0h1.4m4.6 0h1.4m39.8 0h1.4m8.5 0h1.4m18.5 0h1.4M86.7 207.6h1.4m9 0h1.4m0.1 0h1.4m13 0h1.4m14.5 0h1.4m26.9 0h1.4m11 0h1.4m55.2 0h1.4m67.6 0h1.4m0.6 0h1.4m5.6 0h1.4m3.5 0h1.4m0.6 0h2.4m2.1 0h1.4m2 0h1.4m0.1 0h1.4m2.6 0h1.4m2.1 0h1.4m2.6 0h1.4m0.5 0h1.4m2.1 0h1.4m0.6 0h1.4m5.6 0h1.4m8.5 0h1.4m38.3 0h1.4m14.5 0h1.4m7 0h1.4m3.6 0h1.4m4.6 0h1.4m57.6 0h1.4m69.6 0h1.4M86.2 209.91h1.4m7 0h2.4m23 0h2.9m10.5 0h1.4m30.8 0h1.4m6.6 0h1.4m40.8 0h1.4m15.5 0h1.4m19.9 0h1.4m16.5 0h1.9m6.5 0h1.4m14 0h2.4m0.1 0h1.4m7 0h1.4m5.1 0h1.4m0.1 0h2.4m1.1 0h2.3m0.1 0h1.9m3.6 0h1.4m0.1 0h2.4m3.5 0h1.4m3.1 0h1.4m3.1 0h1.4m1.6 0h1.9m3 0h2.4m1.6 0h1.4m10 0h1.4m27.9 0h1.4m15.5 0h1.4m8.5 0h1.4m0.6 0h1.4m39.8 0h1.4m24.4 0h1.4m2.1 0h1.9m4.6 0h1.4m32.8 0h1.4m4.1 0h1.4m16.9 0h1.4m2.1 0h1.4M89.7 212.21h1.4m12 0h1.4m103.8 0h1.4m19 0h1.4m4.1 0h1.4m5 0h1.4m20 0h1.4m32.3 0h1.4m0.1 0h1.4m0.1 0h1.4m0.6 0h2.4m0.1 0h1.4m4.5 0h3.4m1.1 0h1.4m0.1 0h1.4m0.6 0h4.8m1.1 0h6.4m1.1 0h1.4m0.1 0h1.4m4 0h1.4m0.1 0h1.4m1.1 0h2.4m5.5 0h1.4m6.1 0h1.9m1.6 0h2.3m13 0h2.4m4.1 0h1.4m5.1 0h1.4m8.5 0h1.4m4.5 0h1.4m65.2 0h1.4m73 0h1.4m0.1 0h1.4m3.1 0h1.4m15.5 0h1.4M79.8 214.52h1.4m10 0h1.9m9.5 0h1.4m9.5 0h1.4m11 0h1.4m1.1 0h1.9m4.1 0h1.4m9.5 0h1.4m3.5 0h1.4m35.4 0h1.4m9.5 0h2.9m3.1 0h1.4m0.1 0h1.9m7 0h1.4m23.9 0h1.4m13 0h1.4m8.5 0h1.4m0.6 0h2.4m2.1 0h1.4m1.6 0h1.4m4.5 0h1.4m12 0h1.4m5.1 0h1.4m3.1 0h2.8m0.1 0h1.4m3.1 0h3.4m0.1 0h3.4m3 0h2.4m1.1 0h2.4m0.6 0h1.4m0.1 0h1.4m2.5 0h2.4m0.6 0h1.4m0.1 0h1.4m1.6 0h1.4m4.1 0h1.4m1.5 0h1.9m1.6 0h2.9m2.6 0h1.4m2.5 0h1.4m15 0h1.4m2.1 0h1.9m7.5 0h1.4m3.1 0h1.4m0.6 0h1.4m1.1 0h1.4m5 0h1.4m8.6 0h1.4m10.5 0h1.4m0.6 0h1.4m6 0h1.4m2.6 0h1.4m21.9 0h1.4m22.9 0h1.4m10.6 0h1.4m2 0h1.4m22.5 0h1.4m1.5 0h1.4m13.5 0h1.4m14 0h1.4m7.1 0h1.4M104.6 216.82h1.4m20.9 0h1.4m13.5 0h1.4m30.9 0h2.4m0.1 0h1.4m24.9 0h1.4m26.9 0h1.4m43.8 0h1.4m6 0h1.4m7 0h1.4m1.6 0h1.9m5.1 0h1.4m4.5 0h2.4m1.1 0h1.4m0.1 0h1.4m1.1 0h1.4m4.5 0h3.4m1.6 0h1.4m2.1 0h2.4m2 0h1.4m3.1 0h1.4m1.6 0h1.4m0.1 0h1.4m1.6 0h1.4m5.5 0h1.4m3.6 0h1.4m1.1 0h1.4m1 0h2.4m10 0h2.4m21 0h1.4m16.9 0h1.4m12.1 0h1.4m12 0h1.4m10.5 0h1.4m13.5 0h1.4m14.5 0h1.4m4.5 0h2.4m0.1 0h1.4m1.6 0h1.4m2.5 0h1.4m6.6 0h1.4m14 0h1.4M93.7 219.13h1.4m8.5 0h1.4m24.9 0h1.4m29.4 0h1.4m2.5 0h1.4m12.1 0h1.4m12 0h1.4m15.4 0h1.4m33.9 0h1.4m10 0h1.4m2.1 0h1.9m1.6 0h2.8m5.6 0h1.4m31.4 0h1.4m2 0h2.9m0.1 0h1.4m0.1 0h1.4m2.1 0h2.9m0.1 0h1.4m7 0h3.9m0.1 0h3.4m1 0h2.4m0.1 0h1.9m0.6 0h1.9m7 0h2.4m0.6 0h1.4m3.1 0h1.4m1.1 0h2.9m0.5 0h1.4m3.6 0h1.4m19 0h1.4m4 0h1.4m2.1 0h1.4m9.5 0h1.4m6.6 0h1.4m7.5 0h1.4m1.6 0h1.4m109.8 0h1.4m1.1 0h1.4m15.5 0h1.4M113 221.44h1.4m16 0h1.4m31.9 0h1.4m8.5 0h1.4m20.4 0h1.4m2.1 0h1.4m36.3 0h1.4m41.8 0h1.4m4.6 0h1.4m16.5 0h1.4m0.5 0h2.4m9.1 0h1.4m2 0h3.4m0.1 0h2.4m1.1 0h1.9m0.1 0h1.4m2 0h1.4m4.1 0h1.4m3.6 0h1.9m1.6 0h1.4m3 0h1.4m5.6 0h1.4m8.5 0h1.4m9 0h2.4m5.6 0h1.4m3.5 0h1.4m22.5 0h1.4m4.5 0h1.4m94.9 0h1.4m17.5 0h1.4m28.4 0h1.4"/>
<path d="M94.1 223.74h1.4m16 0h1.4m32.4 0h1.4m13 0h1.4m9 0h1.4m2.6 0h1.4m0.1 0h1.4m17.9 0h1.9m12.5 0h1.4m23.9 0h1.4m12.6 0h1.4m6 0h1.4m1.1 0h1.4m2.6 0h1.4m7 0h1.4m12 0h1.4m1.6 0h1.4m0.1 0h1.4m6 0h1.4m2.1 0h1.4m0.6 0h3.4m4.5 0h1.4m1.6 0h1.4m0.1 0h3.9m3 0h2.4m0.6 0h1.4m0.6 0h4.4m2.5 0h2.4m2.1 0h1.4m2.6 0h1.4m0.1 0h1.4m6.5 0h1.4m5.6 0h1.4m10 0h1.4m5.5 0h1.4m14.5 0h1.4m2.1 0h1.4m31.9 0h1.4m6.5 0h1.4m8.5 0h1.4m19 0h1.4m4.1 0h1.4m3 0h2.4m12 0h1.4m21.5 0h1.9m6.5 0h1.9m4.1 0h1.4m1.5 0h1.4m27.9 0h1.4m4.6 0h1.4M98.6 226.05h1.4m8.5 0h1.4m26.4 0h1.4m7.6 0h1.4m8 0h1.9m8 0h1.4m3.1 0h1.4m7.1 0h1.4m3 0h1.4m19.5 0h1.4m6 0h1.4m1.6 0h1.4m1.6 0h1.4m15 0h1.4m45.7 0h1.4m5.6 0h1.4m3.5 0h1.4m4.6 0h1.4m3.1 0h2.4m2 0h1.4m0.1 0h1.4m0.6 0h1.4m0.6 0h2.4m0.1 0h2.9m2.5 0h4.4m0.6 0h1.4m3.1 0h2.9m1.5 0h1.4m1.1 0h4.9m1.1 0h2.4m9 0h1.4m2.6 0h1.4m2 0h1.4m11.6 0h1.4m6.5 0h1.4m12.5 0h1.4m19.9 0h1.4m3.1 0h1.4m7.6 0h1.4m26.9 0h1.4m15.4 0h1.4m10.1 0h1.4m9 0h1.4m1.1 0h1.4m0.5 0h1.4m16 0h1.4m9.5 0h1.4m7.6 0h1.4m0.1 0h1.4M79.3 228.35h1.4m1.5 0h1.4m8.1 0h1.4m0.1 0h1.4m2.5 0h1.4m10 0h1.4m2.1 0h1.4m2.6 0h1.4m0.6 0h1.4m7.5 0h1.4m22.4 0h1.4m13 0h1.4m45.8 0h1.4m5.1 0h1.4m4.5 0h1.4m1.1 0h1.4m7 0h1.4m32.4 0h1.4m4.1 0h1.4m8.5 0h1.4m2.6 0h3.4m0.5 0h1.4m6.6 0h1.4m3 0h2.4m3.1 0h4.4m0.1 0h1.4m0.1 0h1.4m3.5 0h1.4m0.1 0h1.9m1.1 0h1.4m2.1 0h1.4m0.6 0h1.4m2 0h1.4m0.6 0h1.4m1.1 0h1.4m1.1 0h1.4m1.1 0h1.4m4 0h1.4m1.6 0h1.4m5.1 0h1.4m9 0h1.4m7.5 0h1.4m14 0h1.4m3.1 0h1.4m6.5 0h1.4m8.6 0h2.3m37.4 0h1.4m1.6 0h1.4m8 0h1.4m8.5 0h1.4m10 0h1.4m8.6 0h1.4m51.7 0h1.4m6 0h1.4m10.1 0h1.4M83.2 230.65h1.4m9.1 0h2.3m3.1 0h1.4m6.1 0h1.4m2.5 0h1.4m14.5 0h1.4m20.5 0h1.4m2 0h1.4m8.1 0h1.4m4 0h1.4m8.6 0h1.4m33.8 0h1.4m40.8 0h1.4m28.4 0h1.4m1.6 0h1.4m0.1 0h1.4m5 0h1.4m0.1 0h1.9m6.1 0h1.4m1 0h2.4m0.6 0h1.4m3.6 0h1.4m1.6 0h1.9m4.5 0h1.4m11.5 0h1.4m3.1 0h1.4m3.6 0h1.4m3 0h2.4m1.6 0h1.4m23.9 0h1.4m32.9 0h1.4m26.4 0h1.4m10.5 0h1.4m11 0h1.4m4.1 0h1.4m6 0h1.4m30.9 0h1.4M102.6 232.96h1.4m28.4 0h1.4m6.5 0h1.4m28.9 0h1.4m37.8 0h1.4m23.9 0h1.4m4.1 0h1.4m8.5 0h1.4m23.5 0h1.4m14.4 0h1.4m3.1 0h1.4m5.1 0h1.4m5 0h1.4m0.1 0h1.4m4.6 0h1.4m2 0h1.4m1.1 0h1.4m0.1 0h1.4m1.6 0h1.4m0.1 0h1.4m1.1 0h1.4m1.5 0h1.4m0.1 0h1.4m0.6 0h1.4m1.6 0h1.4m5.6 0h1.4m2.5 0h1.4m13.5 0h1.4m27.4 0h1.4m20.5 0h1.4m18.4 0h1.4m3.1 0h1.4m5.5 0h1.4m36.4 0h2.4m19.4 0h1.4m4.1 0h1.4m13.5 0h1.4M82.7 235.26h1.4m65.7 0h1.4m90.9 0h1.4m42.3 0h1.4m6 0h1.4m1.1 0h1.4m9 0h1.4m4.6 0h1.4m2.6 0h2.9m0.5 0h1.4m2.1 0h1.4m2.1 0h1.4m3.6 0h1.4m9 0h1.4m8.5 0h1.4m17 0h1.4m7.5 0h1.4m21 0h1.4m5.5 0h1.4m12.5 0h1.4m15.5 0h1.4m9.5 0h1.4m3.1 0h1.4m25.9 0h1.9m12 0h1.4m6.5 0h1.4m7.6 0h1.4M108.5 237.57h1.4m2.6 0h1.4m56.2 0h1.4m1.1 0h1.4m18 0h1.4m2 0h1.4m13 0h1.4m1.1 0h1.4m20.5 0h1.4m19.4 0h1.4m20 0h1.4m17.9 0h1.4m3.6 0h1.4m9 0h2.4m2.6 0h1.4m1.5 0h2.9m2.6 0h1.4m8.5 0h1.4m0.6 0h1.4m41.3 0h1.4m9 0h1.4m0.6 0h1.4m9.6 0h1.4m10 0h1.4m38.8 0h1.4m6.5 0h1.4m25.4 0h1.4m70.6 0h1.4M94.6 239.88h1.9m21 0h1.4m6 0h1.4m5.6 0h1.4m17.4 0h1.4m95.5 0h1.4m41.3 0h1.4m11.5 0h3.3m3.1 0h1.4m2.1 0h1.4m0.1 0h1.4m2.1 0h2.3m3.1 0h1.4m0.1 0h1.9m0.6 0h1.4m6.5 0h1.9m2.6 0h1.9m19 0h1.4m21.4 0h1.4m2.1 0h1.4m19.4 0h1.4m15.5 0h1.4m84.5 0h1.4m2.6 0h1.4m6.5 0h1.4m16.5 0h1.4m4.5 0h1.4m11.5 0h1.4m11.1 0h1.4"/>
<path d="M85.2 242.18h2.4m7 0h1.4m1.6 0h1.4m6.6 0h1.4m15.4 0h1.4m1.6 0h1.4m4.6 0h1.4m4.5 0h1.4m4.1 0h1.4m2.6 0h1.4m3.5 0h1.4m33.9 0h1.4m5.5 0h1.4m3.1 0h1.4m25.9 0h1.4m0.6 0h1.4m12.5 0h1.4m5.6 0h1.4m7 0h1.4m10.5 0h1.4m7 0h1.4m2.1 0h1.4m1.6 0h1.4m3.6 0h1.4m2 0h1.4m7.6 0h1.4m0.6 0h1.4m5.5 0h1.9m5.6 0h2.8m4.6 0h1.4m1.6 0h1.4m6 0h1.4m1.6 0h4.9m4.5 0h1.4m0.1 0h1.4m1.1 0h1.4m6.6 0h4.3m8.1 0h1.4m9.5 0h1.4m14 0h2.9m5.5 0h1.4m23 0h1.4m16.9 0h1.4m8.5 0h1.4m36.4 0h1.4m10.5 0h1.4m2.1 0h1.4m9.5 0h1.4m14 0h1.4M98.6 244.49h1.4m0.1 0h1.4m2.1 0h1.4m14 0h1.4m9.5 0h1.4m0.1 0h1.4m7 0h1.4m7.6 0h1.4m11.5 0h1.4m2.5 0h1.4m53.7 0h1.4m5.1 0h1.9m17 0h1.4m5.5 0h1.4m1.1 0h1.4m17 0h1.4m4 0h1.4m2.1 0h1.4m3.1 0h2.4m0.6 0h1.4m2 0h1.4m1.6 0h2.4m7 0h1.4m0.1 0h1.4m3.6 0h1.4m0.6 0h1.4m0.1 0h1.9m0.6 0h3.3m2.1 0h3.9m0.1 0h1.4m1.6 0h2.9m3 0h1.4m0.1 0h1.4m0.1 0h1.4m1.6 0h1.4m0.6 0h1.4m5.5 0h1.4m3.6 0h1.4m3.5 0h1.4m0.1 0h1.4m5.6 0h1.4m2.1 0h1.4m2.5 0h1.4m0.6 0h1.4m9 0h1.4m2.1 0h1.4m7.6 0h1.4m2.5 0h1.4m3.1 0h1.4m0.6 0h2.4m0.1 0h1.4m29.8 0h1.4m5.6 0h1.4m2.1 0h1.4m38.8 0h1.4m1.1 0h1.4m17.9 0h1.4m32.4 0h1.4m5.5 0h1.4M87.2 246.79h1.4m1.1 0h1.4m4 0h1.4m8.1 0h1.4m16.9 0h1.4m1.1 0h1.4m12.5 0h1.4m18 0h1.4m0.1 0h1.4m5 0h2.4m29.4 0h1.4m36.8 0h1.4m3.6 0h2.4m23.4 0h1.4m13 0h1.4m2.1 0h1.4m1.6 0h1.4m2.5 0h1.9m11.5 0h1.4m2.6 0h1.4m1.1 0h2.9m0.6 0h1.4m0.1 0h4.3m1.1 0h1.9m0.6 0h2.9m0.6 0h1.4m3.5 0h1.4m1.1 0h1.4m0.1 0h1.9m1.6 0h2.4m0.1 0h1.4m3.5 0h1.4m8.1 0h1.4m2.5 0h1.4m9.6 0h1.4m6 0h1.4m4.1 0h1.4m5.5 0h1.4m12 0h1.4m14.5 0h1.4m0.6 0h1.4m0.6 0h1.4m0.1 0h1.9m9 0h1.4m0.1 0h1.4m6 0h1.4m5.1 0h1.4m1.1 0h1.4m5 0h1.4m2.6 0h1.4m5.6 0h2.8m16.5 0h1.9m8.5 0h2.4m6.6 0h1.4m8 0h1.9m22.9 0h1.4m7.6 0h1.4m9 0h1.4M131.9 249.1h1.4m85 0h1.4m10.5 0h1.4m21.4 0h1.4m24.4 0h1.4m6.6 0h1.4m20.9 0h2.4m3.6 0h1.4m1.6 0h1.4m8.5 0h1.4m5.5 0h1.4m3.6 0h2.4m2.6 0h1.4m0.1 0h2.3m32.9 0h1.4m13 0h1.4m6 0h1.4m8.6 0h1.4m17.9 0h1.4m23 0h2.4m25.9 0h1.4m14 0h1.4m2.5 0h1.4m35.4 0h2.9M81.2 251.4h1.4m1.1 0h1.9m13 0h1.4m9 0h1.4m14 0h1.4m4.1 0h1.4m14.5 0h1.4m6 0h1.4m2.6 0h2.4m6.5 0h1.4m19 0h1.4m30.4 0h1.9m5.5 0h1.4m55.7 0h1.4m6.6 0h1.4m4 0h2.4m0.1 0h1.4m0.6 0h1.9m0.1 0h1.4m0.6 0h2.8m2.1 0h1.4m2.6 0h1.4m0.1 0h3.4m0.1 0h7.3m0.1 0h1.4m2.6 0h1.4m1.1 0h3.8m0.6 0h2.4m2.1 0h1.4m0.6 0h1.4m8 0h1.4m1.6 0h1.4m9 0h1.4m2.1 0h1.4m1.1 0h1.4m15.9 0h1.4m25.5 0h2.8m34.9 0h1.4m2.1 0h1.4m19.9 0h1.4m34.9 0h1.4m2 0h2.4m31.4 0h1.4m11.5 0h1.4M81.7 253.7h1.4m0.6 0h1.4m16.5 0h1.4m12 0h1.4m3.6 0h1.4m5 0h1.4m10 0h1.4m31.4 0h1.4m14.5 0h1.4m3.1 0h1.4m8 0h1.4m15 0h1.4m28.9 0h1.4m3.5 0h1.4m30.9 0h1.4m14 0h1.4m3.1 0h2.3m3.1 0h3.4m4.1 0h1.4m0.5 0h1.4m3.1 0h1.4m0.6 0h1.4m1.6 0h1.4m3 0h1.4m5.1 0h1.4m1.1 0h1.4m3.6 0h1.4m2 0h1.4m14 0h1.4m33.9 0h1.4m18.9 0h1.4m23.9 0h1.4m6.6 0h1.4m8 0h1.4m79 0h1.4M93.7 256.01h1.4m0.5 0h1.4m61.7 0h1.4m41.3 0h1.4m61.6 0h3.4m9.5 0h1.4m29.4 0h1.4m2.1 0h1.4m1.6 0h1.4m9 0h1.4m1.6 0h1.4m0.6 0h2.4m5.5 0h1.4m1.1 0h2.4m4.1 0h1.4m5 0h1.4m0.1 0h1.4m1.1 0h1.4m15 0h1.4m1 0h1.4m0.1 0h1.4m11.5 0h1.4m13.5 0h1.4m27.9 0h1.4m18.5 0h1.4m7.5 0h1.4m17 0h1.4m14.5 0h1.4m14.5 0h1.4m1.5 0h1.4m26.4 0h1.4m17 0h1.4M120 258.31h1.4m14.5 0h1.8m15.5 0h1.4m78.6 0h1.4m17.9 0h1.4m24.4 0h1.4m1.6 0h1.4m8.1 0h1.4m5.5 0h1.4m6.5 0h2.9m1.1 0h1.4m1.1 0h1.4m9.5 0h1.4m4.6 0h1.4m0.6 0h1.4m9 0h1.4m6 0h1.4m4.6 0h1.4m14.5 0h1.4m27.9 0h1.4m1.1 0h1.4m33.8 0h1.4m9 0h1.4m5.1 0h1.4m22.9 0h1.4"/>
<path d="M130.9 260.62h1.4m5 0h1.4m67.2 0h1.4m78 0h1.4m17.5 0h1.4m3 0h1.4m6.6 0h1.9m13.5 0h1.4m3.5 0h1.4m27.9 0h1.4m8.5 0h1.4m6.1 0h1.4m50.2 0h1.4m47.3 0h1.4m5.5 0h1.4m0.1 0h1.4m20.5 0h1.4m17.4 0h1.4M81.2 262.92h1.4m0.1 0h1.4m0.6 0h1.4m11 0h1.4m21.5 0h2.4m1.5 0h1.4m27.9 0h1.4m9.6 0h1.4m12.9 0h1.4m4.1 0h1.4m4.1 0h1.4m34.3 0h1.4m13.5 0h1.4m16.5 0h1.4m17 0h2.8m9.1 0h1.4m1.5 0h1.4m10.6 0h1.4m4 0h1.9m5.1 0h1.4m4 0h2.9m1.6 0h3.4m1.1 0h2.9m0.5 0h1.4m1.6 0h1.4m2.6 0h1.4m1.1 0h1.4m1.6 0h1.4m6 0h1.4m5.1 0h2.4m51.2 0h1.4m55.2 0h1.4m3 0h1.4m4.1 0h1.4m21.9 0h1.4m12.5 0h1.4m0.1 0h1.4m0.6 0h1.4m0.1 0h2.4m19 0h1.4m0.5 0h1.4M79.8 265.23h1.4m27.8 0h1.4m34.9 0h1.4m3.1 0h1.4m1 0h1.4m0.6 0h1.4m48.3 0h1.4m7 0h1.4m4.6 0h1.4m27.4 0h1.4m22.9 0h2.4m6.5 0h1.4m5.1 0h1.4m4 0h1.4m3.6 0h2.4m5.5 0h1.4m2.1 0h2.4m1.1 0h1.4m0.6 0h1.4m5 0h1.4m1.6 0h5.9m0.1 0h1.4m1.1 0h2.8m0.6 0h5.4m0.1 0h1.4m0.1 0h1.4m1.1 0h1.4m4 0h1.4m0.1 0h1.4m26.4 0h1.4m5.1 0h1.4m25.4 0h1.4m22.4 0h1.4m16.5 0h1.4m2.6 0h1.4m1 0h1.4m1.1 0h1.4m4.6 0h1.4m15.5 0h1.4m3.5 0h1.4m6.6 0h1.4m8.5 0h1.4m10.5 0h1.4m39.3 0h1.4M90.7 267.54h1.4m1.1 0h1.4m10 0h1.4m11.5 0h2.4m2.1 0h1.4m4 0h1.4m39.8 0h1.4m30.9 0h1.4m13 0h1.4m1.6 0h1.9m2.5 0h1.4m20 0h1.4m22.9 0h1.4m5.1 0h1.4m1.5 0h1.4m7.1 0h1.4m4 0h1.4m2.6 0h1.4m0.1 0h1.4m0.6 0h1.4m4.5 0h3.9m0.1 0h1.9m1.1 0h1.4m1.1 0h4.9m0.5 0h6.9m0.1 0h1.9m0.1 0h3.4m1.5 0h1.4m3.1 0h3.9m0.1 0h1.4m5 0h1.4m2.6 0h1.4m1.1 0h2.4m1.1 0h1.4m10 0h1.4m25.4 0h1.4m21.4 0h1.4m9.1 0h1.4m6 0h1.4m3.6 0h1.4m4 0h1.4m1.1 0h1.4m26.9 0h1.4m13.5 0h1.4m41.3 0h1.4m0.1 0h1.4m19.9 0h2.4M86.7 269.84h1.4m8 0h1.4m0.6 0h1.4m12.5 0h1.4m18.5 0h1.4m7 0h1.4m12 0h1.9m31.4 0h1.4m20.9 0h1.4m1.1 0h1.4m17.5 0h1.4m7.5 0h1.4m4.1 0h1.4m1.1 0h1.4m24.9 0h1.4m0.6 0h1.4m8.5 0h1.4m6.5 0h1.4m1.1 0h1.4m1.6 0h1.9m2.1 0h1.4m1 0h1.4m0.1 0h1.4m0.1 0h1.4m0.6 0h1.4m1.1 0h1.4m0.1 0h1.9m2.5 0h1.9m2.1 0h2.9m1.1 0h3.9m0.6 0h1.4m1 0h1.4m1.6 0h2.4m0.1 0h1.4m1.1 0h1.4m0.1 0h1.4m1.1 0h3.3m3.6 0h1.4m7 0h1.9m15.5 0h1.4m11 0h1.4m4.1 0h1.4m1.1 0h1.4m30.9 0h1.4m29.8 0h1.4m14 0h2.4m6.6 0h1.4m2 0h1.4m12.5 0h1.4m0.1 0h1.4m11.5 0h1.4m36.4 0h1.4m1 0h1.4M78.8 272.15h1.4m10.5 0h1.9m34.8 0h1.4m11.5 0h1.4m9.5 0h1.4m9.6 0h1.4m2.5 0h1.4m4.1 0h1.4m27.9 0h1.4m4.1 0h1.4m1.5 0h1.4m41.3 0h1.4m9.1 0h1.8m35.4 0h1.9m3.5 0h1.4m0.1 0h1.4m0.6 0h1.4m0.1 0h1.9m0.1 0h1.4m3.1 0h3.8m1.6 0h1.4m0.6 0h2.9m3.1 0h2.4m6 0h1.4m2.6 0h1.4m4.5 0h1.4m5.6 0h1.4m20.9 0h1.4m17.5 0h1.4m51.7 0h1.4m118.3 0h1.4M170.1 274.45h1.4m13 0h1.4m30.4 0h1.4m4 0h1.4m19 0h1.4m19.4 0h1.4m27.4 0h1.9m4.1 0h2.4m2.1 0h1.4m1.1 0h2.8m0.1 0h2.4m2.1 0h1.4m2.1 0h1.9m3 0h2.4m2.1 0h2.9m2.1 0h4.3m1.1 0h1.4m0.1 0h1.9m1.1 0h1.4m2.1 0h1.4m16 0h2.8m7.1 0h1.4m4 0h1.4m2.6 0h1.4m10 0h1.4m1.6 0h1.4m3.6 0h1.4m82 0h1.4m10 0h1.4m28.9 0h1.4m20.9 0h1.4m8.6 0h1.4m6.5 0h2.4M88.7 276.75h1.4m68.1 0h1.4m14 0h1.4m33.3 0h1.4m8.1 0h1.4m10.5 0h1.4m0.1 0h1.4m26.4 0h1.4m0.1 0h1.4m3 0h1.4m1.1 0h1.4m16 0h1.4m1.1 0h1.4m2.1 0h1.4m10.5 0h1.4m4.5 0h1.4m6.1 0h1.4m5.5 0h1.4m5.6 0h1.9m2.5 0h1.4m0.6 0h1.9m13.5 0h1.4m15 0h1.4m0.6 0h1.4m9 0h1.4m36.8 0h1.4m48.8 0h1.4m9.5 0h1.4m16.5 0h2.4m24.4 0h2.4m6.5 0h1.4m0.6 0h1.4m2.1 0h1.4m27.9 0h1.4"/>
<path d="M94.6 279.06h1.4m0.6 0h1.4m18.5 0h1.4m30.9 0h1.4m5.5 0h1.4m1.6 0h1.4m8 0h1.4m30.4 0h1.4m33.8 0h1.4m19 0h1.4m32.4 0h1.4m13.5 0h1.4m4 0h2.4m1.6 0h1.4m4.5 0h1.4m1.1 0h1.4m4.1 0h1.4m15.5 0h1.4m2 0h1.4m0.6 0h1.4m17 0h1.4m41.8 0h1.4m1.1 0h1.4m22.9 0h1.4m2.6 0h1.4m13.5 0h1.4m15.9 0h1.4m46.3 0h1.4m20.4 0h1.4m20.5 0h1.4M145.3 281.36h1.4m74.5 0h1.4m11.6 0h1.4m3 0h1.4m17.5 0h1.4m14 0h1.4m3 0h1.4m4.1 0h1.4m3.1 0h1.4m4 0h1.4m11.5 0h2.4m2.6 0h1.4m4.1 0h1.4m0.1 0h2.8m1.1 0h1.4m1.1 0h1.9m0.6 0h2.4m8.5 0h1.4m0.6 0h1.4m3.1 0h2.4m5.5 0h1.9m13 0h1.4m33.9 0h1.4m8.5 0h1.4m3.1 0h1.4m18.4 0h1.4m1.6 0h1.4m2.1 0h1.4m65.1 0h1.4m14.5 0h1.4m30.9 0h1.4m1 0h1.4M100.6 283.67h1.4m23.9 0h1.4m11.5 0h1.4m9.1 0h1.4m0.5 0h1.4m10.1 0h1.4m11.5 0h1.4m4.5 0h1.4m8.1 0h1.4m24.9 0h1.4m5 0h1.9m18.5 0h1.9m4.5 0h1.4m5.6 0h1.4m6 0h1.4m14.5 0h1.4m13.5 0h2.4m2.6 0h2.4m0.1 0h1.4m2 0h1.9m0.1 0h3.9m0.1 0h2.4m2.6 0h2.8m0.1 0h2.4m1.1 0h1.4m0.6 0h2.9m0.6 0h1.9m2 0h2.9m1.1 0h1.4m0.1 0h1.4m1.6 0h1.4m7.5 0h2.4m8 0h1.4m0.6 0h1.4m0.1 0h1.4m5.6 0h1.4m4 0h1.4m18.5 0h1.4m1.6 0h1.4m12 0h1.4m21.9 0h1.4m5.1 0h1.4m15.4 0h1.4m1.1 0h1.4m48.8 0h1.4m0.6 0h1.4m53.2 0h1.4m0.6 0h1.4M79.3 285.98h1.4m27.8 0h1.4m69.1 0h1.4m3.6 0h1.4m14 0h1.4m33.4 0h1.4m20.4 0h1.4m33.4 0h1.4m9.5 0h1.4m11 0h1.4m0.1 0h1.4m4.5 0h1.4m1.6 0h2.4m5.1 0h2.3m6.1 0h1.4m3.1 0h1.4m7 0h1.4m7.5 0h1.4m1.1 0h1.4m7.6 0h1.4m7.5 0h1.4m3.6 0h1.4m17.9 0h1.4m11 0h1.4m100.4 0h1.4M87.2 288.28h1.4m15 0h1.4m4 0h1.4m13.5 0h1.4m13.5 0h1.4m64.2 0h1.4m15.9 0h1.4m41.8 0h1.4m0.1 0h1.4m11 0h1.4m9.1 0h1.4m9.5 0h1.4m10.5 0h1.9m3.1 0h1.4m6.5 0h1.4m2.1 0h1.4m4.5 0h1.4m2.1 0h1.4m1.1 0h1.4m15 0h1.4m8.5 0h1.4m2.6 0h1.4m15 0h1.4m12 0h1.4m18.9 0h1.4m47.8 0h1.4m0.6 0h1.4m7 0h1.4m21.4 0h1.4m13.5 0h1.4m47.8 0h1.4M119.5 290.59h1.4m41.8 0h1.4m42.7 0h1.4m26.9 0h1.4m10.1 0h1.4m4.5 0h1.4m10.5 0h1.4m20.5 0h2.4m1.1 0h1.4m0.5 0h1.4m2.1 0h1.9m5.1 0h1.4m0.6 0h2.3m0.1 0h1.4m1.6 0h1.4m9 0h2.4m1.1 0h1.9m0.1 0h2.4m2.6 0h3.8m3.6 0h1.9m1.1 0h1.4m1.1 0h1.9m1.6 0h2.8m4.1 0h1.4m2.6 0h1.4m7 0h1.4m16 0h1.4m14 0h1.4m7.5 0h1.4m45.3 0h1.4m2.1 0h2.8m1.1 0h1.4m2.1 0h1.4m9 0h1.4m27.4 0h1.4m4.1 0h3.4m13 0h1.4m3 0h1.4m25.9 0h1.4M87.2 292.89h1.4m7.5 0h1.4m17.5 0h1.4m5.1 0h1.4m29.3 0h1.4m11.5 0h2.4m18.5 0h1.4m42.3 0h1.4m6.5 0h1.4m39.8 0h1.4m9.1 0h1.4m16.4 0h1.4m2.6 0h1.4m3.1 0h1.4m6 0h1.4m1.1 0h1.4m6 0h1.4m1.1 0h1.4m0.6 0h1.4m2.6 0h1.4m5 0h1.4m6.6 0h1.4m4.5 0h1.4m8.6 0h1.4m24.9 0h1.4m52.2 0h1.4m3.1 0h1.4m9 0h1.4m1.6 0h1.4m29.4 0h1.4m14.9 0h1.4m5.1 0h1.4m0.1 0h1.4m35.3 0h1.4M79.8 295.2h1.4m16.4 0h1.4m83 0h1.4m93.9 0h1.4m1.6 0h1.4m9.1 0h2.3m5.6 0h1.4m9.5 0h1.4m10 0h1.4m2.6 0h1.4m0.1 0h1.4m8.5 0h1.4m7.1 0h1.4m6.5 0h1.4m16.5 0h1.4m74.5 0h1.4m108.4 0h1.4"/>
<path d="M86.7 297.5h1.4m17.5 0h1.4m5 0h1.4m10 0h1.4m7.1 0h1.4m39.3 0h1.4m4.5 0h1.4m12.1 0h1.4m11.5 0h1.4m81 0h1.4m3.5 0h1.4m3.6 0h1.4m0.1 0h1.4m6 0h1.4m4.6 0h1.4m0.6 0h1.4m5.5 0h1.4m12 0h1.4m5.1 0h1.4m0.1 0h1.4m8.5 0h1.4m8 0h1.4m7.1 0h1.4m1.6 0h1.4m2.5 0h1.4m9.1 0h1.4m13.5 0h1.4m13.4 0h1.4m52.3 0h1.4m21.4 0h1.4m8 0h1.4m1.6 0h1.4m4.1 0h1.4m27.9 0h1.4m14 0h1.4m7 0h1.4M80.7 299.8h1.4m2.6 0h1.4m0.1 0h1.4m13.5 0h1.4m18 0h1.4m29.3 0h1.4m4.6 0h1.4m8 0h1.4m103.4 0h1.4m8 0h1.4m13.5 0h1.4m6.1 0h2.4m0.5 0h2.4m8.6 0h1.4m0.1 0h2.3m5.6 0h1.4m14.5 0h1.4m8.5 0h1.4m16 0h1.4m17.5 0h1.4m23.4 0h1.4m10 0h1.4m10.5 0h1.4m2.6 0h1.4m17.4 0h1.4m19.5 0h1.4m39.8 0h1.4m7.5 0h1.4m5.6 0h1.4M86.7 302.11h1.4m0.1 0h1.4m24.4 0h1.4m4.6 0h1.4m3 0h1.4m25.9 0h1.4m1.6 0h1.4m11.5 0h1.4m5.6 0h1.9m6 0h1.4m2.1 0h1.4m7 0h1.4m8.1 0h1.4m3 0h1.9m31.4 0h1.4m14.5 0h1.4m1.1 0h1.4m1.1 0h1.4m5.5 0h1.4m17 0h1.4m2.5 0h1.4m2.6 0h2.4m0.1 0h1.4m3.1 0h1.4m3 0h1.4m4.6 0h2.9m1.1 0h1.4m1 0h2.9m0.6 0h1.9m1.1 0h1.4m1.6 0h1.4m3 0h1.4m0.1 0h1.4m1.6 0h2.4m0.6 0h1.4m1.1 0h1.4m1.6 0h2.3m0.1 0h1.9m0.1 0h1.4m4.6 0h1.4m0.1 0h1.4m15.4 0h1.4m5.6 0h1.4m3.6 0h1.4m6.5 0h1.4m25.9 0h1.4m17 0h2.4m28.9 0h1.4m34.8 0h1.4m1.6 0h1.4m2.6 0h1.4m4 0h1.4m6.6 0h1.4m15.9 0h1.4m20 0h1.4M128.9 304.41h1.4m44.8 0h1.4m4 0h1.4m0.1 0h1.4m28.9 0h1.4m16.5 0h1.4m9.5 0h1.4m19.5 0h1.4m1.5 0h1.4m19 0h1.4m15.5 0h1.4m4 0h1.4m2.6 0h1.4m1.1 0h1.4m2.6 0h1.4m1.5 0h1.4m2.6 0h1.4m6.1 0h1.4m2.5 0h1.4m0.6 0h1.4m2.6 0h1.4m3.5 0h1.4m2.6 0h1.4m1.6 0h1.4m5.1 0h1.4m9.5 0h1.4m0.1 0h1.4m4 0h1.4m3.6 0h1.4m11 0h1.4m22.4 0h1.4m19.5 0h1.4m5 0h1.4m6.6 0h1.4m15.5 0h1.4m12 0h1.4m59.6 0h1.4m16 0h1.4m5.1 0h1.4M82.2 306.72h1.4m7.6 0h1.4m3 0h2.4m2.1 0h1.4m18 0h1.4m7.5 0h1.4m18 0h1.4m41.3 0h1.4m34.3 0h1.4m51.2 0h2.4m18.5 0h1.4m9 0h1.4m5.6 0h1.4m1 0h1.4m1.1 0h2.4m2.1 0h1.4m0.6 0h2.4m2.5 0h1.4m0.1 0h1.9m2.6 0h1.4m3.6 0h1.4m0.1 0h1.9m4 0h1.4m8.5 0h1.4m16.5 0h2.4m8.5 0h1.4m25 0h1.4m16.9 0h1.4m25.4 0h1.4m76.1 0h1.4M101.1 309.02h1.4m17 0h1.4m44.7 0h1.4m4.6 0h1.4m25.4 0h1.4m2.6 0h1.4m21.4 0h1.4m27.4 0h1.4m7.5 0h1.4m4.6 0h1.4m26.4 0h1.4m5.1 0h1.4m0.1 0h1.4m14.4 0h1.4m6.1 0h1.4m0.6 0h1.4m8 0h1.4m4.1 0h1.9m38.3 0h1.4m101.8 0h1.4M92.2 311.33h1.4m4.5 0h1.4m31.4 0h1.4m0.1 0h1.4m11 0h1.4m18 0h1.4m21.4 0h1.4m36.3 0h1.4m2.6 0h1.4m16.5 0h1.4m2.5 0h1.4m48.8 0h2.4m0.1 0h1.4m11 0h1.4m3 0h1.4m0.1 0h1.4m4.6 0h1.4m3.1 0h1.9m2 0h1.9m0.1 0h2.4m3.1 0h1.4m1.6 0h1.9m27.8 0h2.4m50.3 0h1.4m10 0h1.4m15 0h1.4m3.5 0h1.4m41.8 0h1.4m14 0h1.4m1.6 0h2.4m8 0h1.4M100.6 313.64h1.4m45.8 0h1.4m8 0h1.4m11.5 0h1.4m17.5 0h1.4m12.5 0h1.4m3.5 0h1.4m12.5 0h1.4m8.6 0h1.4m15 0h1.4m54.2 0h1.4m3 0h1.4m0.6 0h1.4m0.6 0h1.4m4.1 0h1.4m1.5 0h1.4m4.1 0h1.4m1.1 0h1.4m1.1 0h1.4m1 0h1.4m11.1 0h1.4m6 0h1.4m18.5 0h1.4m12 0h1.4m5.5 0h1.4m7.6 0h1.4m3.5 0h1.4m0.1 0h1.4m66.1 0h1.4m2.1 0h1.4m4.6 0h1.4m42.3 0h1.4m11 0h1.4m11.5 0h1.4m0.1 0h1.4m1.5 0h1.4"/>
<path d="M103.1 315.94h1.9m41.3 0h1.4m34.3 0h1.9m12 0h1.4m2.1 0h1.4m37.3 0h1.4m11.5 0h1.4m12 0h1.4m0.1 0h1.4m4.6 0h1.4m1.6 0h1.4m2 0h1.4m13 0h1.4m0.1 0h1.4m2.1 0h1.4m9 0h1.4m15 0h2.4m0.6 0h1.4m6 0h1.4m3.1 0h1.4m6.1 0h1.4m16.9 0h1.4m8.5 0h1.9m2.6 0h1.4m28.9 0h1.4m16.5 0h1.4m2.5 0h1.4m2.6 0h1.4m28.9 0h1.4m16 0h1.4m2.6 0h1.4m8 0h1.4m39.8 0h1.4m20.9 0h1.4M81.7 318.25h1.4m53.2 0h1.4m101.9 0h1.4m23.9 0h1.4m29.4 0h2.4m2.1 0h1.4m8.5 0h1.4m2.6 0h1.4m11 0h1.4m7.5 0h2.4m2.1 0h1.4m8.5 0h1.4m79.1 0h1.4m61.6 0h1.4m2.1 0h1.4m4.5 0h1.4m20.5 0h1.4m22.9 0h1.4m2.1 0h1.4m3.6 0h1.4M100.6 320.55h1.4m123.2 0h1.4m5.1 0h1.4m12.5 0h1.4m16.4 0h1.4m4.1 0h1.4m8.5 0h1.4m1.1 0h1.4m31.9 0h1.4m6 0h1.4m1.6 0h1.4m5.1 0h2.4m19.4 0h1.4m22.4 0h1.4m44.8 0h1.4m0.1 0h1.4m99.4 0h1.4m16.5 0h1.4m16.4 0h1.4m8.1 0h1.4M84.7 322.85h1.4m35.4 0h1.4m14.9 0h1.4m1.1 0h1.4m0.1 0h1.4m73.6 0h1.4m79.5 0h1.4m7 0h1.4m18.5 0h2.4m4.1 0h1.4m23.4 0h1.4m3 0h1.4m48.3 0h1.4m57.7 0h1.4m67.1 0h1.4M130.9 325.16h1.4m4.5 0h1.4m9.6 0h1.4m16.4 0h1.4m48.3 0h1.4m31.4 0h1.4m1.5 0h1.4m6.6 0h1.4m11 0h1.4m30.4 0h1.4m4.5 0h1.9m2.6 0h1.4m0.6 0h1.4m12.5 0h1.9m22.9 0h1.4m16.5 0h1.4m18.4 0h1.4m71.1 0h1.4m15.5 0h1.4m68.6 0h1.4m9.5 0h1.4m1.6 0h1.4m1.6 0h1.4M91.7 327.46h2.4m21.9 0h1.4m79 0h1.4m11 0h1.4m35.4 0h1.4m69.1 0h1.4m0.6 0h1.4m2 0h2.4m6.1 0h1.4m1.1 0h1.4m10.5 0h1.4m7 0h1.4m21.9 0h1.4m7.6 0h1.4m13.5 0h2.4m16.9 0h1.4m5.1 0h1.4m19.4 0h1.4M118 329.77h1.4m29.4 0h1.4m14.4 0h1.4m43.8 0h1.4m19.5 0h1.9m5 0h1.4m16.5 0h1.4m3.6 0h1.4m5 0h1.4m5.6 0h1.4m23.9 0h1.4m1.1 0h1.4m0.6 0h1.4m4 0h1.4m2.6 0h1.4m2.6 0h1.4m4.5 0h1.9m0.6 0h1.9m3.1 0h1.4m15 0h1.4m50.7 0h1.4m28.9 0h1.4m39.3 0h1.4m38.8 0h1.4m7.5 0h1.4m0.6 0h1.4m0.1 0h1.4M107.1 332.08h1.4m26.4 0h1.4m9.5 0h1.4m4.5 0h1.4m13 0h1.4m23.5 0h1.4m54.7 0h1.4m3.5 0h1.4m23 0h1.4m0.5 0h1.4m7.6 0h1.4m5 0h1.4m10 0h1.4m6.6 0h1.4m8 0h1.4m6.6 0h1.4m0.6 0h1.4m5 0h1.4m20 0h1.4m56.1 0h1.4m8.1 0h1.4m16 0h1.4m5.5 0h1.4m0.6 0h1.4m5.5 0h1.4m11.1 0h1.4m40.8 0h2.3m15 0h1.4m6.6 0h1.4m1.6 0h1.4"/>
<path d="M86.7 334.38h1.4m55.7 0h1.4m36.8 0h1.4m12.5 0h1.4m105.9 0h1.4m0.1 0h1.4m3.5 0h1.9m0.1 0h1.4m1.6 0h1.9m0.6 0h1.4m1 0h1.4m0.6 0h1.4m0.6 0h1.4m1.1 0h1.4m5.1 0h1.4m11.5 0h1.4m26.4 0h2.4m4 0h1.4m40.8 0h1.4m20 0h1.4m3 0h1.4m23.5 0h1.4m5 0h1.4m22.9 0h1.4m5.1 0h1.4m1.1 0h1.4m10.5 0h1.4m23.4 0h2.4m9 0h1.4M100.1 336.69h1.4m3.6 0h1.4m2.5 0h1.4m106.9 0h1.4m21.9 0h1.4m66.1 0h1.4m1.6 0h1.4m6.5 0h1.4m1.1 0h1.9m0.6 0h1.4m2.6 0h1.4m0.6 0h1.4m1.1 0h1.4m7 0h1.4m32.8 0h1.9m10.1 0h1.4m31.8 0h1.4m26.4 0h1.4M81.2 338.99h1.4m8.1 0h1.4m41.3 0h1.4m11.5 0h1.4m15.5 0h1.4m20.9 0h1.4m26.9 0h1.4m8.5 0h1.4m21 0h1.4m4.5 0h1.4m1.6 0h1.4m28.9 0h1.4m9.5 0h1.4m10 0h1.4m2.6 0h1.4m4.6 0h1.4m0.5 0h1.4m5.1 0h1.4m5.1 0h1.4m6 0h1.4m11 0h1.4m7.1 0h1.4m12 0h1.4m31.3 0h1.4m5.1 0h1.4m14.5 0h1.4m7.5 0h1.4m19 0h1.4m37.8 0h2.4m66.1 0h1.4M122 341.3h1.4m1.5 0h1.4m1.6 0h1.4m91 0h1.4m1 0h1.4m17.5 0h1.4m17.5 0h1.4m23.4 0h1.4m16.5 0h1.9m2 0h1.4m13 0h1.4m3.1 0h1.4m0.6 0h1.4m7.5 0h1.4m10 0h1.4m6.1 0h1.4m23.9 0h1.4m3.1 0h1.4m22.4 0h1.4m4.6 0h1.4m22.9 0h1.4m9 0h1.4m53.2 0h1.4m2.1 0h1.4m3.6 0h1.4m24.9 0h1.4M80.7 343.6h1.4m27.4 0h1.4m35.9 0h1.4m0.1 0h1.4m43.2 0h1.4m19 0h1.4m15.5 0h1.4m1.1 0h1.4m5 0h1.4m67.1 0h1.4m20.5 0h2.9m0.5 0h1.4m0.1 0h1.4m7.6 0h1.4m9 0h1.4m0.6 0h1.4m13 0h1.4m11 0h1.4m6.5 0h1.4m31.4 0h1.4m6.1 0h1.4m10.5 0h1.4m31.3 0h1.4m4.1 0h1.4m18.5 0h1.4m59.6 0h1.4M167.6 345.9h1.4m91 0h1.4m15.4 0h1.4m21 0h1.4m5.5 0h1.4m12.5 0h1.4m2.1 0h1.4m4.6 0h1.4m33.3 0h1.4m30.4 0h1.4m4.1 0h1.4m79 0h1.4M90.2 348.21h1.4m16.9 0h1.4m4.6 0h1.4m49.2 0h1.4m20.5 0h1.4m115.3 0h1.4m1 0h1.4m10.1 0h1.4m12 0h1.4m17.9 0h1.9m4.6 0h1.4m39.3 0h1.4M112.5 350.51h1.4m56.2 0h1.4m57.7 0h1.4m16.5 0h1.4m25.9 0h1.4m3.5 0h1.4m9.1 0h1.4m27.4 0h1.4m88.9 0h1.4m22.4 0h1.4"/>
<path d="M84.2 352.82h1.4m16 0h1.4m49.2 0h1.4m8.6 0h1.4m69.6 0h1.4m7.5 0h1.4m56.7 0h1.4m0.6 0h1.4m3.5 0h1.4m1.1 0h1.4m7.6 0h1.4m2 0h1.4m0.6 0h1.4m1.1 0h1.9m29.9 0h1.4m18.9 0h1.4m37.8 0h1.4m17.5 0h1.4m91 0h1.4m17.9 0h1.4m6.6 0h1.4M102.1 355.12h2.4m44.8 0h1.4m4.5 0h1.4m19 0h1.9m22.9 0h1.4m5 0h1.4m6.1 0h1.4m14 0h1.4m13 0h1.4m29.4 0h1.4m30.3 0h1.4m2.6 0h1.4m3.1 0h1.4m1.1 0h1.4m7 0h1.4m5.5 0h1.4m3.1 0h1.4m1.1 0h1.4m25.9 0h1.4m0.1 0h1.4m2.1 0h1.4m2.5 0h1.4m71.1 0h1.4m7.6 0h1.4m47.7 0h1.4m19 0h1.4M81.7 357.43h1.4m4.6 0h1.4m21.4 0h1.4m30.4 0h1.4m9.5 0h1.4m112.3 0h1.4m0.6 0h1.4m30.9 0h1.4m9.5 0h1.4m9.5 0h1.4m0.1 0h1.4m14 0h1.4m0.1 0h2.4m2.6 0h1.4m11.5 0h1.4m3.5 0h1.4m17 0h1.4m3.1 0h1.4m47.7 0h1.4m108.3 0h1.4M133.9 359.74h1.4m175.3 0h1.4m7 0h1.4m15 0h1.4m4.1 0h1.4m8.5 0h1.4m29.4 0h1.4m4.1 0h1.4m19.4 0h1.4M88.2 362.04h1.4m167.4 0h1.4m48.7 0h1.4m2.6 0h1.4m8 0h1.4m5.6 0h1.4m11 0h1.4m10.5 0h1.4m53.2 0h1.4m7.1 0h1.4m144 0h1.4M147.8 364.35h1.4m40.3 0h1.4m97.4 0h1.4m35.8 0h1.4m57.7 0h1.4m4.5 0h1.4m16.5 0h1.4m45.3 0h1.4m8.5 0h1.4m65.1 0h1.4M127.9 366.65h1.4m23.9 0h1.4m30.4 0h1.4m21.9 0h1.4m27.4 0h1.4m72.1 0h1.4m13 0h1.4m0.1 0h1.4m6.5 0h1.4m7.1 0h1.4m19.4 0h1.4m5.6 0h1.4m3.5 0h1.4m16.5 0h1.4m21 0h1.4m31.3 0h1.4m74.6 0h1.4m17.5 0h1.4M95.1 368.95h1.4m90.5 0h1.4m97.9 0h1.4m24.4 0h1.4m2.6 0h1.4m11.5 0h1.4m10.5 0h1.4m17.5 0h1.4m25.4 0h1.4m72.5 0h1.4m2.1 0h1.4m1.1 0h1.4m52.2 0h1.4"/>
<path d="M94.6 371.26h1.4m6.1 0h1.4m66.6 0h1.4m33.4 0h1.4m65.1 0h1.4m34.3 0h1.4m13.5 0h1.4m1.1 0h1.4m2.6 0h1.4m6 0h1.4m0.1 0h1.4m76.6 0h1.4m15.9 0h1.4m14.5 0h1.4m7.6 0h1.4m74 0h1.4M87.7 373.56h1.4m22.4 0h1.4m83 0h1.4m2.1 0h1.4m0.1 0h1.4m39.3 0h2.9m20.4 0h1.4m26.9 0h1.4m7.6 0h1.4m7 0h1.4m5.1 0h1.4m6.5 0h1.4m14 0h2.4m2.1 0h1.4m4 0h1.4m12.5 0h1.4m0.1 0h1.4m1.1 0h1.4m10.5 0h1.4m23.4 0h1.4m79.1 0h1.4m16.4 0h1.4m28.4 0h1.4m33.4 0h1.4m1.6 0h1.4M118.5 375.87h1.4m45.7 0h1.4m29.4 0h1.4m24.4 0h1.4m29.9 0h1.4m1.1 0h1.4m134.1 0h1.4m55.2 0h1.4m38.8 0h1.4m70.1 0h1.4M80.7 378.18h1.4m21 0h1.4m5 0h1.4m3.6 0h1.4m0.1 0h1.9m5 0h1.4m21 0h1.4m35.8 0h1.4m30.4 0h1.4m69.1 0h1.4m7.5 0h1.4m11 0h1.4m2.6 0h1.4m1.6 0h1.4m1.1 0h1.4m1.1 0h1.4m14.9 0h1.4m144.6 0h1.4m2.1 0h1.4m9 0h1.4m38.3 0h1.4M95.6 380.48h1.4m50.3 0h1.4m1.5 0h1.4m114.8 0h1.4m76.6 0h1.4m36.8 0h1.4m74.6 0h1.4m40.8 0h1.4m7.5 0h1.4m40.8 0h1.4M84.2 382.79h1.4m29.4 0h1.4m21.9 0h1.4m21 0h1.4m27.4 0h1.4m10 0h1.4m76 0h1.4m22.5 0h1.4m20.9 0h1.4m12 0h1.4m21.9 0h1.4m75.6 0h1.4m53.7 0h1.4m27.9 0h1.4M92.7 385.09h1.4m26.9 0h1.4m62.6 0h1.4m4.1 0h1.4m120.7 0h1.4m72.1 0h1.4m47.7 0h1.4M123.9 387.4h1.4m20 0h1.4m29.4 0h1.4m86.4 0h1.4m27.9 0h1.4m54.7 0h1.4m55.2 0h1.4m61.2 0h1.4m9 0h1.4"/>
<path d="M89.7 389.7h1.4m6.5 0h1.4m132.2 0h1.4m46.2 0h1.4m19 0h1.4m1.1 0h1.4m2 0h1.4m14 0h1.4m6.6 0h1.4m7 0h1.4m0.1 0h1.4m2.6 0h1.4m53.2 0h1.4m89 0h1.4m29.3 0h1.4M122.9 392h1.4m61.2 0h1.4m98.4 0h1.4m17.5 0h1.4m10 0h2.4m48.7 0h1.4m78 0h1.4m15.5 0h1.4M246.1 394.31h1.4m29.8 0h1.4m48.3 0h1.4m11 0h1.4m38.3 0h1.4m150 0h1.4M81.7 396.61h1.4m92 0h1.4m149 0h1.4m77 0h1.4m98.9 0h1.4M80.2 398.92h1.4m33.9 0h1.4m165.4 0h1.4m0.1 0h1.4m19.9 0h1.4m4.1 0h1.4m14 0h1.4m8.5 0h1.4m100.4 0h1.4m29.9 0h1.4m5 0h1.4m37.9 0h1.4m50.2 0h1.4M84.7 401.22h1.4m204.7 0h1.4m11.5 0h1.4m40.8 0h1.4m66.1 0h1.4m24.4 0h1.4m34.8 0h1.4m74.1 0h1.4M92.7 403.53h1.4m148 0h1.4m72.6 0h1.4m20.4 0h1.4m0.1 0h1.4m9 0h1.4m79.1 0h1.4m14.9 0h1.4m56.2 0h1.4M129.4 405.84h1.4m150.5 0h1.4m17 0h1.4m29.4 0h1.4m144.5 0h1.4"/>
<path d="M90.2 408.14h1.4m0.1 0h1.4m42.3 0h1.4m28.8 0h1.4m12.5 0h1.4m40.3 0h1.4m7.1 0h1.4m22.9 0h1.4m23.4 0h1.4m1.1 0h1.4m56.7 0h2.4m5.5 0h1.4m12.5 0h1.4m1.6 0h1.4m169.9 0h1.4m15.5 0h1.4M142.8 410.45h1.4m16 0h1.4m10 0h1.4m85 0h1.4m4.5 0h1.4m17.5 0h1.4m50.2 0h1.4m127.2 0h1.4m24.4 0h1.4m10.1 0h1.4m39.8 0h1.4m15.9 0h1.4M162.7 412.75h1.4m90.9 0h1.4m4.1 0h1.4m82 0h1.4m8.5 0h1.4m14.5 0h1.4m73.1 0h1.4m65.1 0h1.4m31.4 0h1.4M130.4 415.05h1.4m36.3 0h1.4m138.1 0h1.4m3.1 0h1.4m123.2 0h1.4m103.4 0h1.4M220.7 417.36h1.4m87 0h1.4m107.8 0h1.4m54.2 0h1.4m78.1 0h1.4M231.7 419.66h1.4m79.5 0h1.4m82.5 0h1.4m76.5 0h1.4m63.7 0h1.4M327.5 421.97h1.4m5.5 0h1.4m43.8 0h1.4M175.6 424.28h1.4m30.8 0h1.4m60.7 0h1.4m32.4 0h1.4m190.7 0h1.4m38.3 0h1.4"/>
<path d="M541 426.58h1.4M83.7 428.89h1.4m231.5 0h1.4m5 0h1.4m165.4 0h1.4M83.7 431.19h1.4m135.6 0h1.4m44.8 0h1.4M169.6 433.5h1.4m150.5 0h1.4m92.5 0h1.4m40.8 0h1.4m38.8 0h1.4m19.4 0h1.4M187 435.8h1.4m314.3 0h1.4M140.3 438.1h1.4m35.4 0h1.4m55.7 0h1.4m69.5 0h1.4m34.4 0h1.4m141.1 0h1.4m56.2 0h1.4M160.2 440.41h1.4m53.2 0h1.4m40.8 0h1.4m207.6 0h1.4M167.1 442.71h1.4m240.9 0h1.4"/>
<path d="M208.3 447.32h1.4m11 0h1.4M107.6 449.63h1.4m48.2 0h1.4m267.7 0h1.4M263.9 451.94h1.4M129.9 454.24h1.4m104.3 0h1.4m39.8 0h1.4m72.6 0h1.4M90.7 456.55h1.4m35.8 0h1.4M564.3 463.46h1.4M429.3 465.76h1.4M332 468.07h1.4m101.3 0h1.4"/>
<path d="M319.5 472.68h1.4m173.4 0h1.4M160.7 474.99h1.4M300.2 477.29h1.4M430.3 479.6h1.4M388.1 488.81h1.4M150.7 491.12h1.4M291.2 493.42h1.4M145.8 495.73h1.4"/>
<path d="M170.6 507.25h1.4M168.1 516.48h1.4M206.4 523.39h1.4m293.9 0h1.4m48.3 0h1.4M272.9 534.92h1.4M287.3 537.22h1.4m201.6 0h1.4"/>
<path d="M129.9 67.58h1.4m17.5 0h1.4m19.9 0h1.4m113.8 0h1.4m18.4 0h1.4m13 0h1.4m1.6 0h1.4m0.1 0h1.4m2.6 0h1.4m0.6 0h1.4m2 0h1.4m2.6 0h1.4m31.4 0h1.4m7.5 0h1.4m161 0h1.4m22.9 0h1.4M259 71.61h1.4m22.9 0h1.4m29.9 0h1.4m3 0h1.4m1.1 0h1.9m2.1 0h1.4m19 0h1.4M314.1 73.91h1.4m12.5 0h1.4m36.3 0h1.4m178.3 0h1.4M466 76.22h1.4M332.5 78.53h1.4M192.9 83.14h1.4M318.1 85.44h1.4m4.5 0h2.4m4.6 0h1.4m134.1 0h1.4M80.2 87.75h1.4m41.3 0h1.4m20.5 0h1.4m7 0h1.4m68.6 0h1.4m57.7 0h1.4m20.5 0h1.4m2 0h1.4m17 0h1.4m1.6 0h1.4m12 0h1.4m29.4 0h1.4m174.8 0h1.4"/>
<path d="M270.9 90.05h1.4m37.3 0h1.4m5.6 0h1.4m9 0h1.4m93.4 0h1.4m113.3 0h1.4M203.9 92.35h1.4m5.5 0h1.4m92.9 0h1.4m5.6 0h1.4m1.6 0h1.4m6.5 0h1.4m0.1 0h1.4m3.1 0h1.4m3 0h1.4m5.1 0h1.4m146.5 0h1.4M254.5 94.66h1.4m36.8 0h1.4m19 0h1.4m2.1 0h1.4m4 0h1.4m2.6 0h1.4m3.6 0h1.4m7 0h1.4m82.5 0h1.4M78.8 96.96h1.4m37.3 0h1.4m19.4 0h1.4m10.1 0h1.4m23.9 0h1.4m25.4 0h1.4m28.9 0h1.4m50.7 0h1.4m14 0h1.4m6 0h1.4m5.1 0h1.4m1.6 0h1.9m6 0h1.4m4.6 0h3.8m4.1 0h1.4m6.1 0h1.4m147 0h1.4m22.4 0h1.4M180.5 99.27h1.4m17 0h1.4m95.4 0h1.4m9 0h1.4m5.1 0h1.4m3.6 0h1.4m5 0h1.4m1.1 0h1.9m3.6 0h1.4m1 0h1.4m0.6 0h1.4m3.6 0h1.4m51.2 0h1.4m70.1 0h1.4m66.6 0h1.4M155.7 101.58h1.4m86.5 0h1.4m6.5 0h1.4m4.6 0h1.4m54.2 0h2.4m0.6 0h1.4m3 0h2.4m4.1 0h1.4m3.1 0h2.4m5 0h1.4m0.1 0h1.4m7 0h1.4m2.1 0h1.4m13.5 0h1.4m20.9 0h1.4m138.2 0h1.4M131.4 103.88h1.4m10 0h1.4m15.5 0h1.4m47.2 0h1.4m0.1 0h1.4m23 0h1.4m75.5 0h1.9m3.1 0h2.4m0.5 0h1.4m0.1 0h1.4m1.1 0h1.4m9 0h1.4m1.6 0h1.4m1.6 0h1.4m128.2 0h1.4m26.4 0h1.4m0.6 0h1.4m4.5 0h1.4M295.2 106.19h1.4m0.6 0h1.4m2.6 0h1.4m10 0h1.4m4.6 0h2.3m2.1 0h1.4m0.6 0h2.4m2.6 0h1.4m10.5 0h1.4m5 0h1.4m5.1 0h1.4m7.5 0h1.4m12 0h1.4m29.9 0h1.4m50.2 0h1.4m29.9 0h1.4m35.9 0h1.4m2.5 0h1.4"/>
<path d="M164.6 108.49h1.4m35.4 0h1.4m29.9 0h1.4m53.7 0h1.4m24.4 0h1.4m24.9 0h1.4m0.1 0h1.4m113.3 0h1.4M92.2 110.8h1.4m16.4 0h1.4m12 0h1.4m118.3 0h1.4m62.1 0h1.4m2.6 0h1.4m1.6 0h1.4m1.6 0h1.4m5 0h1.4m2.6 0h1.4m3.6 0h2.3m1.1 0h1.4m0.6 0h1.4m1.6 0h1.4m5.5 0h1.4m2.1 0h1.9m56.2 0h1.4m26.4 0h1.4m0.6 0h1.4M163.7 113.1h1.4m102.3 0h1.4m13 0h1.4m13.5 0h1.4m11.5 0h1.4m2.1 0h1.4m1.1 0h1.4m0.1 0h1.4m14.4 0h1.4m1.6 0h1.4m2.1 0h1.4m2.6 0h1.4m120.2 0h1.4m27.9 0h1.4m0.1 0h1.4M110.5 115.4h1.4m3.6 0h1.4m15.5 0h1.4m3 0h1.4m9.1 0h1.4m4.5 0h1.4m50.3 0h1.4m30.3 0h1.4m14.5 0h1.4m46.8 0h1.4m3 0h1.4m2.6 0h1.4m0.1 0h3.4m1.1 0h1.9m0.1 0h1.9m2.5 0h1.4m0.6 0h1.9m1.1 0h1.9m0.1 0h1.4m2.6 0h2.3m1.6 0h1.4m0.1 0h1.4m0.1 0h1.4m2.1 0h1.4m1.1 0h1.4m2 0h2.4m19.5 0h1.4m0.6 0h1.4m3 0h1.4m3.1 0h1.4m2.6 0h1.4m12 0h1.4m34.8 0h1.4m16 0h1.4m2.1 0h1.4m14.5 0h1.4m28.8 0h1.4m39.9 0h1.4m3.5 0h1.4m1.6 0h1.4M90.2 117.71h1.4m12 0h1.4m21.4 0h1.4m9.5 0h1.4m38.9 0h1.4m6.5 0h1.4m39.8 0h1.4m0.1 0h1.4m37.8 0h1.4m9.5 0h1.4m17.5 0h1.4m0.6 0h1.4m1.6 0h1.4m7 0h1.4m1.1 0h1.4m3.6 0h2.8m0.6 0h1.4m1.6 0h1.4m1.6 0h1.4m1.6 0h2.4m1 0h1.4m4.1 0h2.4m11 0h1.4m10 0h1.4m16.5 0h1.4m117.8 0h1.4m69.1 0h1.4M150.2 120.01h1.4m102.9 0h1.4m20 0h1.4m3.5 0h1.4m17.5 0h2.4m14.5 0h1.4m3.5 0h1.9m0.1 0h1.4m1.1 0h1.9m2.1 0h1.4m0.1 0h1.4m12.5 0h1.4m91.4 0h1.4m2.6 0h1.4m58.1 0h1.4m51.3 0h1.4m4.5 0h1.4M119.5 122.32h1.4m9 0h1.4m2.1 0h1.4m49.7 0h1.4m67.1 0h1.4m41.8 0h1.4m6.1 0h1.4m0.5 0h1.4m2.1 0h1.4m1.6 0h2.4m0.1 0h1.4m4.5 0h2.4m7.1 0h2.9m2 0h1.4m2.1 0h1.9m32.4 0h2.4m40.8 0h1.4m36.3 0h1.4m83.5 0h1.4m13 0h1.4m9.5 0h1.4M80.7 124.62h1.4m10.6 0h1.4m104.3 0h1.4m6.1 0h1.4m56.6 0h1.4m41.3 0h2.4m5.1 0h1.9m1.1 0h1.4m0.5 0h1.4m0.6 0h1.4m1.6 0h1.4m0.1 0h1.9m13 0h1.9m63.6 0h1.4m7.6 0h1.4m17.4 0h1.4m19.5 0h1.4m97.4 0h1.4m0.1 0h1.4m15.5 0h1.4"/>
<path d="M121 126.93h1.4m22.4 0h1.4m0.6 0h1.4m52.2 0h1.4m59.7 0h1.4m6 0h1.4m27.9 0h1.4m0.1 0h1.4m3.1 0h3.3m1.6 0h1.9m2.1 0h1.4m0.1 0h1.4m0.1 0h2.4m2.5 0h1.4m0.1 0h1.4m2.1 0h1.4m1.6 0h1.9m2 0h1.4m0.1 0h1.4m3.1 0h1.4m9 0h1.4m7.1 0h1.4m23.4 0h1.4m182.3 0h1.4M122 129.24h1.4m56.1 0h1.4m18.5 0h1.4m24.9 0h1.4m46.8 0h1.4m8.5 0h1.4m15 0h1.4m13 0h2.9m0.1 0h1.4m1 0h3.4m0.6 0h1.9m0.1 0h1.4m0.1 0h1.9m6 0h1.4m0.6 0h1.4m3.1 0h1.4m0.6 0h1.4m1.6 0h2.8m58.7 0h1.4m50.2 0h1.4m36.9 0h1.4m67.6 0h1.4M227.2 131.54h1.4m4.6 0h1.4m17.9 0h1.4m2.6 0h1.4m7.5 0h1.4m24.9 0h1.4m3.1 0h1.4m16.5 0h1.4m4.5 0h2.4m4.1 0h1.4m0.1 0h1.4m1.1 0h2.4m3 0h1.9m0.6 0h1.4m1.6 0h1.4m1.1 0h1.4m47.2 0h1.4m24.4 0h1.4m38.9 0h1.4m74.5 0h1.4m19 0h1.4M98.1 133.85h1.4m123.7 0h1.4m55.2 0h1.4m32.4 0h1.4m1.6 0h1.4m0.1 0h2.8m10.6 0h2.8m0.1 0h1.4m0.6 0h1.4m8.1 0h2.4m2 0h1.4m100.9 0h1.4m83.5 0h1.4m5 0h1.4m0.1 0h1.4m11.5 0h1.4M100.6 136.15h1.4m15.5 0h1.4m34.8 0h1.4m3.6 0h1.4m81 0h1.4m11 0h1.4m8 0h1.4m1.6 0h1.4m10 0h1.4m7.6 0h1.4m11.5 0h1.4m2.6 0h1.4m2.5 0h1.4m1.6 0h1.4m0.1 0h1.9m2.6 0h1.4m6 0h1.4m0.1 0h2.9m2.6 0h1.4m1.5 0h2.9m1.1 0h1.4m3.6 0h1.4m30.9 0h1.4m27.8 0h1.4m16 0h1.4m10 0h1.4m23.5 0h1.4m29.3 0h1.4M112 138.45h1.4m4.6 0h1.4m24.4 0h1.4m4.6 0h2.8m23 0h1.4m17.9 0h1.4m32.4 0h1.4m27.4 0h1.4m0.1 0h1.4m19.4 0h1.4m12.5 0h1.4m6.6 0h1.4m1.1 0h1.9m1.5 0h1.4m2.1 0h1.4m2.1 0h1.4m4 0h3.4m2.6 0h1.4m0.6 0h2.9m2 0h1.9m2.1 0h1.4m3.6 0h1.4m3.6 0h1.4m3 0h1.4m26.9 0h1.4m24.9 0h1.4m16.5 0h1.4m25.4 0h1.4m68.6 0h1.4M96.6 140.76h1.4m28.9 0h1.4m3.1 0h1.4m6 0h1.4m46.8 0h1.4m110.8 0h1.4m2.1 0h1.4m0.1 0h1.4m9 0h1.4m4.5 0h1.4m2.6 0h1.4m2.1 0h1.9m3 0h1.4m15.5 0h2.4m3.6 0h1.4m5 0h1.4m9.1 0h1.4m5 0h1.4m15 0h1.4m9.5 0h1.4m9.5 0h1.4m109.9 0h1.4m29.8 0h1.4M82.7 143.06h1.4m66.1 0h1.4m39.9 0h1.4m34.8 0h1.9m29.9 0h1.4m9.5 0h1.4m27.4 0h2.4m8 0h1.4m2.1 0h1.4m0.6 0h1.4m0.1 0h5.3m1.6 0h2.9m0.1 0h2.9m1.6 0h3.8m7.6 0h1.4m2.1 0h1.4m58.6 0h1.4m44.8 0h1.4m90 0h1.8m8.6 0h1.9"/>
<path d="M112.5 145.37h1.4m5.6 0h1.4m56.2 0h1.4m46.7 0h1.4m25.4 0h1.4m40.8 0h1.4m5.1 0h1.4m0.6 0h1.9m2 0h1.9m1.6 0h1.4m0.1 0h1.4m5.1 0h2.8m0.1 0h1.4m6.6 0h2.4m1.1 0h1.8m5.1 0h1.4m1.1 0h2.4m5 0h1.4m13.5 0h1.4m35.9 0h1.4m31.3 0h1.4m34.4 0h1.4m31.8 0h1.4m19 0h1.4m14 0h1.4m21.9 0h1.4M90.2 147.68h1.4m3.5 0h1.4m24 0h1.4m21.9 0h1.4m47.7 0h1.4m11.6 0h1.4m10 0h1.4m20.9 0h1.4m13 0h1.4m38.3 0h1.4m9.1 0h1.4m1.5 0h1.4m0.6 0h1.4m0.1 0h1.4m8.5 0h1.4m2.6 0h1.4m0.1 0h1.4m2.1 0h3.4m6 0h1.4m2.6 0h2.9m0.1 0h1.4m6.5 0h1.4m15.5 0h1.4m1.6 0h1.4m1.5 0h1.4m56.7 0h1.4m8.6 0h1.4m1 0h1.4m19.5 0h1.4m41.8 0h1.4m2.6 0h1.4m28.8 0h1.4M85.2 149.98h1.4m34.9 0h1.4m1.5 0h1.4m81.5 0h1.4m5.6 0h1.4m3.1 0h1.4m60.1 0h1.4m17 0h1.9m0.6 0h1.4m2.5 0h1.4m3.6 0h1.4m2.6 0h3.4m5 0h1.4m2.6 0h1.9m5.5 0h1.9m1.6 0h1.4m3.1 0h1.4m9 0h1.4m0.6 0h1.4m8.5 0h1.4m19.5 0h1.4m61.6 0h1.4m51.8 0h2.3M98.1 152.29h1.4m24.4 0h1.4m8.6 0h1.4m21.9 0h1.4m75.1 0h1.4m2.5 0h1.4m6.1 0h1.4m16 0h1.4m4.5 0h1.4m28.4 0h1.4m16 0h1.4m8 0h2.4m0.6 0h5.4m0.5 0h1.4m27.4 0h1.4m5.6 0h1.4m3.1 0h1.4m3 0h1.4m39.3 0h1.4m33.9 0h1.4m6.5 0h1.4m2.6 0h1.4m15 0h1.4m13.5 0h1.4m0.1 0h1.4m18.9 0h1.4m18 0h1.4M96.1 154.59h1.4m25.9 0h1.4m13 0h1.4m5.1 0h1.4m40.3 0h1.4m22.9 0h1.4m14.5 0h1.4m26.4 0h1.4m0.6 0h1.4m10 0h1.4m10.5 0h1.4m7.6 0h1.4m3.5 0h1.4m2.6 0h1.4m2.1 0h1.4m1.6 0h2.4m6 0h1.4m6 0h1.4m5.6 0h1.4m0.1 0h1.4m0.1 0h1.4m0.1 0h1.4m1 0h1.4m0.1 0h1.4m0.6 0h1.9m0.1 0h1.9m5.1 0h1.4m1 0h1.4m3.6 0h1.4m28.9 0h1.4m5.5 0h1.4m1.6 0h1.4m4.6 0h1.4m35.8 0h1.4m16.5 0h2.4m19.9 0h1.4m34.4 0h1.4m15.9 0h1.4m5.6 0h1.4M86.2 156.9h1.4m16 0h1.4m5 0h1.4m74.6 0h1.4m0.1 0h1.4m17 0h1.4m6 0h1.4m12 0h1.4m13.5 0h1.4m20.9 0h1.4m7.1 0h1.4m1.6 0h1.4m7.5 0h1.4m0.1 0h1.4m17.9 0h1.4m3.6 0h2.4m1.1 0h1.4m2.6 0h2.8m0.1 0h1.4m7.6 0h1.4m0.6 0h1.4m1.5 0h1.4m2.1 0h1.4m4.6 0h1.4m0.1 0h1.4m1 0h1.4m2.6 0h1.4m10 0h1.4m41.8 0h1.4m1.1 0h1.4m6.6 0h1.4m25.9 0h1.4m23.4 0h1.4m38.8 0h1.4m1.6 0h1.4m11 0h1.4m6.5 0h2.4m30.4 0h1.4M104.1 159.2h1.4m16.9 0h1.4m9.6 0h1.4m0.6 0h1.4m25.9 0h1.4m16.4 0h1.4m6.6 0h1.4m9.5 0h1.4m9 0h1.4m13 0h1.4m1.1 0h1.9m6 0h1.4m26.9 0h1.4m30.9 0h1.4m1.1 0h1.9m1.6 0h1.4m3.5 0h1.4m4.6 0h3.9m0.6 0h1.4m1 0h2.9m0.1 0h1.4m0.6 0h1.4m0.1 0h1.4m0.1 0h4.4m0.6 0h1.4m5 0h1.4m1.6 0h1.4m13 0h1.4m28.4 0h1.4m7 0h1.4m17 0h1.4m6 0h1.4m8.1 0h1.4m11 0h1.4m42.3 0h1.9m0.5 0h1.4m70.6 0h1.4M80.2 161.5h1.4m14 0h1.4m2.1 0h1.4m3.6 0h1.4m0.1 0h1.4m12 0h1.4m51.2 0h1.4m6 0h1.4m2.1 0h1.4m0.6 0h1.4m0.1 0h1.4m26.9 0h1.4m4.6 0h1.4m38.3 0h1.4m8 0h1.4m10.5 0h1.4m9 0h1.4m12 0h1.4m0.6 0h3.4m0.1 0h1.4m1.6 0h1.4m3.1 0h4.8m1.6 0h3.4m2.1 0h1.4m0.6 0h1.4m5.5 0h1.4m15 0h1.4m21.9 0h1.4m18.5 0h1.4m31.8 0h2.4m21 0h1.4m8.5 0h1.4m5.1 0h1.4m5.5 0h1.4m6.1 0h1.4m15.9 0h1.4m1.6 0h1.4m61.2 0h1.4"/>
<path d="M93.7 163.81h1.4m5 0h1.4m6.5 0h1.4m18.5 0h1.4m0.1 0h1.9m12 0h1.4m14 0h1.4m14 0h1.4m4 0h1.9m9.6 0h1.4m26.9 0h1.4m0.5 0h1.4m1.1 0h1.4m52.2 0h1.4m22 0h1.4m5.5 0h1.4m1.1 0h1.9m1.6 0h1.4m0.6 0h1.4m0.1 0h1.4m0.5 0h1.4m1.1 0h1.4m0.6 0h1.9m1.1 0h1.9m1.1 0h4.8m2.1 0h1.4m1.6 0h1.4m0.6 0h1.4m0.1 0h1.4m0.6 0h1.4m10 0h1.4m3.1 0h1.4m80.5 0h1.4m17.9 0h1.4m1.1 0h1.4m11 0h1.4m31.4 0h1.4m20.9 0h1.4M84.7 166.11h1.4m15 0h1.4m3.1 0h1.4m4.5 0h2.4m18.5 0h2.4m4 0h1.4m9.1 0h1.4m9.5 0h1.4m2.6 0h1.4m9 0h1.4m9.5 0h1.4m0.6 0h1.4m12 0h2.4m4.5 0h1.4m17 0h1.4m6.6 0h2.3m11.6 0h1.4m5 0h1.4m0.6 0h1.4m2.1 0h1.4m4.5 0h1.4m4.1 0h1.4m0.6 0h1.4m31.3 0h1.9m2.1 0h1.9m1.1 0h1.4m1.1 0h1.4m0.6 0h2.8m1.1 0h1.9m3.1 0h3.4m1.6 0h1.4m1.5 0h1.4m3.6 0h1.9m1.1 0h1.4m0.1 0h1.4m6.5 0h1.4m13.5 0h1.4m4.1 0h1.4m8 0h1.4m18.5 0h1.4m8 0h1.4m11.5 0h1.4m1.6 0h1.4m1.6 0h1.4m14.4 0h1.4m26.5 0h1.4m2.5 0h1.4m8.1 0h1.4m2 0h1.4m40.3 0h1.4m3.1 0h1.4M114 168.42h1.4m18 0h1.4m1.5 0h1.4m12.5 0h1.4m2.6 0h1.4m11.5 0h1.4m22 0h1.4m33.8 0h1.4m0.6 0h1.4m32.9 0h1.4m3 0h1.4m16 0h1.4m12.5 0h2.4m2.6 0h1.4m1 0h1.4m2.6 0h1.4m0.6 0h1.4m0.1 0h2.9m0.1 0h3.4m0.5 0h2.9m1.6 0h1.4m0.6 0h1.4m0.1 0h4.9m2.5 0h2.4m0.6 0h3.4m0.1 0h1.4m5.5 0h1.4m3.6 0h1.4m3.6 0h1.4m17.4 0h1.4m8.1 0h1.4m8 0h1.4m4.6 0h3.8m26.4 0h1.4m1.6 0h1.4m25.4 0h1.4m4.6 0h1.4m59.2 0h1.4m23.9 0h1.4m13 0h1.4m1.6 0h1.4M93.7 170.73h1.4m20.9 0h1.4m10 0h1.4m12 0h1.4m5.1 0h1.4m8.5 0h1.4m1.1 0h1.4m0.1 0h1.4m26.4 0h1.4m7 0h1.4m6.1 0h1.4m2 0h1.4m26.4 0h1.4m26.9 0h1.4m11.5 0h1.4m0.6 0h1.4m1.6 0h1.4m0.6 0h1.4m5.5 0h1.4m9.1 0h2.4m5.5 0h1.4m1.1 0h1.4m0.1 0h3.9m3.5 0h3.4m0.6 0h3.4m3.6 0h3.3m0.6 0h1.9m0.6 0h1.4m0.6 0h1.4m0.1 0h1.4m1.6 0h3.4m6.5 0h2.4m2.1 0h1.4m3 0h1.4m3.1 0h1.9m5.5 0h1.4m1.6 0h1.4m4.6 0h1.4m0.6 0h1.4m7.5 0h1.4m5.1 0h2.8m9.1 0h1.4m8 0h1.4m3.1 0h1.4m10.5 0h1.4m17 0h1.4m15.9 0h1.4m21.5 0h1.4m4.5 0h2.9m1.6 0h1.4m10 0h1.4m25.4 0h1.4m5.1 0h1.4m14.5 0h1.4M97.6 173.03h1.4m4.6 0h1.4m111.3 0h1.4m5.5 0h1.4m0.6 0h1.4m2.1 0h1.4m10.5 0h1.4m18 0h1.4m31.8 0h1.4m7.1 0h1.4m7 0h1.4m2.6 0h2.4m0.1 0h1.4m0.6 0h1.4m0.5 0h1.4m0.1 0h1.9m0.1 0h1.9m1.1 0h1.9m1.6 0h1.4m1 0h1.4m5.1 0h1.4m8.5 0h1.4m1.1 0h1.4m7.1 0h1.4m21.4 0h1.4m6.5 0h1.4m8.6 0h1.4m14.5 0h1.4m6 0h1.4m25.9 0h1.4m15.5 0h1.4m23.9 0h1.4m0.6 0h1.4m48.2 0h1.4m11.5 0h1.4M120 175.34h1.4m30.8 0h1.4m13 0h1.4m39.3 0h1.4m12.5 0h1.4m7.6 0h1.4m7.5 0h1.4m9.5 0h1.4m7.6 0h1.4m6 0h1.4m11.5 0h1.4m6.1 0h1.4m15.5 0h1.4m1 0h1.9m0.1 0h2.4m7.6 0h1.4m3.5 0h1.9m1.6 0h3.4m3.5 0h1.4m1.6 0h1.4m0.6 0h1.4m2.1 0h1.4m1.6 0h1.4m0.1 0h1.4m2.5 0h1.4m20.5 0h1.4m17.4 0h1.9m41.3 0h1.4m4.6 0h1.4m8 0h1.4m38.8 0h1.4m13.5 0h1.4m41.8 0h1.4M98.1 177.64h1.4m1.1 0h1.4m27.4 0h1.4m2.6 0h1.4m22.9 0h1.4m4.1 0h1.4m42.7 0h1.4m17.5 0h1.4m36.8 0h1.4m2.1 0h1.4m6.6 0h1.4m4.5 0h1.4m8.5 0h1.4m9.1 0h1.4m0.1 0h1.4m0.5 0h1.4m3.1 0h1.4m1.1 0h1.4m4.6 0h1.4m1 0h2.4m2.1 0h1.4m2.6 0h2.4m0.6 0h1.4m3.5 0h1.4m0.6 0h2.4m4.6 0h1.4m2.5 0h1.9m40.3 0h1.4m32.4 0h1.4m35.3 0h1.4m2.6 0h1.4m89.9 0h1.4m10.1 0h1.4M85.7 179.95h1.4m7.5 0h1.4m7.1 0h1.4m12.5 0h1.4m8.5 0h1.4m13 0h1.4m2.6 0h1.4m15.5 0h1.4m31.8 0h1.4m0.1 0h1.4m26.9 0h1.4m0.6 0h1.4m1.1 0h1.4m12 0h1.4m6.5 0h1.4m17 0h1.4m32.4 0h1.4m1 0h1.4m1.6 0h1.4m1.1 0h1.4m2.1 0h1.4m3.5 0h1.4m2.1 0h1.4m0.6 0h1.4m0.6 0h1.4m3.6 0h3.3m1.6 0h3.4m6.6 0h1.4m2 0h1.4m2.1 0h1.4m9.5 0h1.4m7.6 0h1.4m17.4 0h1.4m4.1 0h1.4m4.5 0h1.4m17 0h2.4m7.5 0h1.4m3.1 0h1.4m4.1 0h1.4m5.5 0h1.4m5.1 0h1.4m11 0h1.4m14 0h1.4m0.1 0h1.4m3.5 0h1.4m0.6 0h1.4m57.7 0h1.4"/>
<path d="M93.2 182.25h1.4m15.9 0h1.9m9.6 0h1.4m2 0h1.4m0.6 0h1.4m48.3 0h1.4m1.5 0h1.4m10.6 0h1.4m21.4 0h1.4m6 0h2.4m7.1 0h1.4m4.5 0h1.4m10 0h1.4m22 0h1.4m12 0h1.9m4 0h1.4m2.6 0h1.4m7.6 0h1.4m5 0h1.4m5.1 0h1.9m9 0h1.4m4 0h1.4m0.6 0h1.4m0.1 0h3.4m3.6 0h1.4m2 0h1.4m10.1 0h1.4m4.5 0h1.4m2.1 0h1.4m24.4 0h1.4m37.8 0h1.4m6.1 0h1.4m0.6 0h1.4m34.8 0h1.4m0.6 0h1.4m24.4 0h1.4m5.6 0h1.4m8 0h1.4m0.6 0h1.4m15.5 0h1.4m13 0h1.9M136.3 184.55h1.4m7.1 0h1.4m0.1 0h1.4m45.2 0h1.4m11.1 0h1.4m9.5 0h1.4m4.5 0h1.4m28.9 0h1.4m0.6 0h1.4m47.8 0h1.4m1 0h1.4m4.6 0h1.4m8.5 0h2.4m5.6 0h3.9m2.5 0h1.4m0.1 0h1.4m2.6 0h1.4m46.2 0h1.4m4.1 0h1.4m7.5 0h1.4m31.9 0h1.4m1.1 0h1.4m20.4 0h1.4m37.4 0h1.4m38.3 0h1.4m0.6 0h1.4m11.5 0h1.4M119.5 186.86h1.4m3.5 0h1.4m9.6 0h1.4m34.3 0h1.4m73.6 0h1.4m4 0h1.4m9.1 0h1.9m11 0h1.4m8.5 0h1.4m2.1 0h1.4m6.5 0h2.4m0.1 0h1.4m1.6 0h1.4m2.5 0h1.4m7.1 0h2.9m1.1 0h4.8m2.1 0h1.4m4.1 0h1.4m2.5 0h1.9m4.1 0h1.9m0.1 0h1.4m2.1 0h2.4m2 0h1.4m30.9 0h1.4m17.5 0h1.4m16.9 0h2.4m6.1 0h1.4m32.8 0h1.4m2.6 0h1.4m1.1 0h1.4m15 0h1.4m32.8 0h1.4m3.6 0h1.9M85.7 189.16h1.4m35.3 0h2.4m20.5 0h1.4m14.5 0h1.4m16.9 0h1.4m4.1 0h2.4m5.5 0h1.4m10.6 0h1.4m24.4 0h1.4m0.1 0h1.4m4.5 0h1.4m8.1 0h1.4m10 0h1.4m8 0h1.4m15 0h1.4m2.1 0h1.4m12.5 0h1.4m3 0h1.4m1.6 0h1.4m0.1 0h1.4m2.1 0h1.9m4 0h1.4m0.1 0h1.9m0.1 0h2.9m1.1 0h1.9m0.1 0h1.4m0.6 0h1.4m1 0h1.4m2.6 0h1.4m0.6 0h1.9m5 0h3.4m16 0h1.4m8.5 0h1.4m38.4 0h1.4m15.9 0h2.4m31.9 0h4.4m12 0h1.4m5 0h1.4m2.6 0h1.4m6 0h1.4m3.1 0h1.4m1.6 0h1.4m2.6 0h1.4m35.3 0h1.4M99.6 191.47h1.4m32.4 0h1.4m1.5 0h1.4m10.6 0h1.4m3.5 0h1.4m41.3 0h1.4m27.4 0h1.4m21 0h1.4m0.5 0h1.4m1.6 0h1.4m36.9 0h1.4m3.5 0h1.4m9 0h2.4m0.6 0h1.4m0.6 0h1.4m0.1 0h1.4m8 0h1.4m0.1 0h1.9m0.1 0h1.4m5.1 0h2.8m1.6 0h1.4m1.1 0h1.4m0.1 0h1.4m0.1 0h1.9m15.5 0h1.4m8.5 0h1.4m20.4 0h1.4m25 0h1.4m83 0h1.4m24.4 0h2.4m25.4 0h1.4M82.2 193.78h1.4m11 0h1.4m3.6 0h1.4m23.9 0h1.4m7.1 0h1.4m5 0h1.4m5.1 0h1.4m20.4 0h1.4m12 0h1.4m42.8 0h1.9m6.6 0h1.4m3.5 0h1.4m12 0h1.4m11 0h1.4m2.1 0h1.4m17 0h1.4m2.1 0h1.4m10.5 0h1.4m0.6 0h2.3m4.1 0h1.4m1.1 0h1.4m0.1 0h1.4m1.1 0h1.4m0.5 0h1.4m0.1 0h1.4m0.1 0h1.4m1.1 0h1.4m0.6 0h1.4m0.1 0h1.4m6.5 0h1.4m0.1 0h1.4m120.3 0h1.4m13 0h1.4m12.5 0h1.4m2.5 0h1.4m43.8 0h1.4M88.2 196.08h1.4m4.5 0h1.4m11.1 0h1.4m7.5 0h1.4m5.5 0h1.4m14 0h1.4m3.1 0h1.4m0.1 0h1.4m15 0h1.4m1.6 0h2.8m2.1 0h1.4m5.6 0h1.4m10 0h1.4m18.9 0h1.4m12.1 0h2.3m2.1 0h1.4m1.1 0h1.4m4.6 0h1.4m6 0h1.4m12 0h2.4m3.1 0h1.4m1.6 0h1.4m7 0h1.4m2.6 0h1.4m4 0h1.4m1.1 0h1.4m4.1 0h1.4m0.1 0h1.4m0.5 0h1.4m1.1 0h2.4m1.1 0h1.4m1.6 0h1.4m0.6 0h1.4m1 0h1.4m0.1 0h1.4m0.1 0h1.4m2.1 0h1.4m0.1 0h2.9m0.1 0h7.8m0.1 0h1.4m0.1 0h1.4m1.1 0h1.9m1.6 0h3.3m0.6 0h1.9m2.1 0h3.4m1.6 0h2.4m0.1 0h2.8m0.1 0h1.4m0.6 0h1.9m2.6 0h1.4m18.9 0h1.4m0.6 0h1.4m1.6 0h1.4m1.6 0h1.4m9.5 0h1.4m1.6 0h1.4m9 0h1.4m0.1 0h1.4m24.9 0h1.4m2.1 0h1.9m1.1 0h1.9m3 0h1.4m5.6 0h1.4m20.4 0h1.4m4.1 0h1.4m16 0h1.4m3 0h2.4m22 0h2.4m0.5 0h1.4m3.1 0h1.4m0.6 0h1.4m5 0h1.4m0.6 0h1.4m18.5 0h1.4m3.1 0h2.4M78.8 198.39h1.4m10.5 0h1.9m0.6 0h1.4m13.9 0h1.4m1.1 0h1.4m19 0h1.4m12.5 0h1.4m40.8 0h1.4m2.1 0h1.4m23.4 0h1.4m6.5 0h1.4m8.1 0h1.4m5.5 0h1.4m5.6 0h2.4m1 0h1.4m7.6 0h1.9m4.5 0h1.4m25.4 0h1.4m0.6 0h1.9m0.1 0h1.4m1.1 0h1.4m1.1 0h1.4m0.1 0h1.4m4.5 0h2.4m0.6 0h2.9m0.6 0h1.9m0.6 0h3.3m2.6 0h2.9m0.1 0h2.4m0.6 0h1.4m1.5 0h1.4m0.6 0h1.4m1.6 0h1.4m0.1 0h3.9m2.1 0h1.4m1.5 0h1.4m4.6 0h1.4m2.6 0h1.4m0.1 0h2.4m2 0h1.9m3.1 0h1.4m2.6 0h1.4m7 0h1.4m0.6 0h1.4m11 0h1.4m1.1 0h1.4m4.5 0h1.4m2.1 0h1.4m1.6 0h1.4m2.1 0h1.4m1.5 0h1.4m19 0h1.4m2.1 0h1.4m5.5 0h1.4m8.1 0h1.4m5.5 0h1.9m5.6 0h1.9m2.5 0h1.4m5.1 0h1.4m32.3 0h1.4m7.6 0h1.4m3 0h1.4m8.6 0h1.9m4.5 0h1.4m7.1 0h1.4m5.5 0h1.4m5.6 0h1.4"/>
<path d="M101.6 200.69h1.4m15 0h1.4m5 0h1.4m3.1 0h1.4m10 0h1.4m0.6 0h1.4m8 0h1.4m28.4 0h1.4m3.1 0h1.4m17.5 0h1.4m6.5 0h1.4m3.1 0h1.4m1.6 0h1.4m0.5 0h1.4m17 0h1.4m12 0h1.4m8 0h1.9m5.1 0h1.4m0.6 0h1.4m31.3 0h3.4m0.1 0h1.9m7.6 0h3.8m0.6 0h1.4m0.1 0h1.9m0.1 0h1.4m2.1 0h1.4m3 0h1.4m3.6 0h1.4m3.1 0h1.4m0.6 0h1.4m4 0h1.4m10.5 0h1.4m0.1 0h1.4m7.1 0h1.4m24.9 0h1.4m38.8 0h1.4m2.6 0h1.4m1.5 0h1.4m10.1 0h1.4m2.5 0h2.4m21 0h1.4m73.5 0h1.4M87.7 203h1.4m4.6 0h1.4m46.7 0h1.4m1.1 0h1.4m2.1 0h1.4m3 0h1.4m0.6 0h1.4m27.9 0h1.4m24.4 0h1.4m6.1 0h1.4m11 0h1.4m9.5 0h1.4m1.1 0h1.4m4.6 0h2.8m13.5 0h1.4m11.5 0h1.4m0.6 0h1.4m10 0h1.4m0.6 0h1.4m0.6 0h1.4m0.6 0h1.4m0.6 0h1.9m3.1 0h2.8m4.6 0h1.4m0.6 0h2.4m0.6 0h1.4m0.6 0h2.8m0.1 0h3.9m0.1 0h1.4m0.1 0h3.9m0.6 0h2.4m1 0h1.4m0.1 0h1.4m1.6 0h5.9m2 0h1.4m2.1 0h1.9m0.6 0h3.4m6.5 0h1.4m1.6 0h2.4m2.1 0h1.4m2.6 0h1.4m7.5 0h1.4m18 0h1.4m14.9 0h1.9m7.6 0h1.4m11 0h1.4m1.6 0h1.4m16.4 0h1.4m26.4 0h1.4m0.1 0h1.4m6.1 0h1.4m6.5 0h1.4m5.1 0h1.4m21.9 0h2.4m3.6 0h1.4m9.5 0h1.4m3.5 0h1.4m11.1 0h1.4M93.2 205.3h1.4m10 0h1.4m24.4 0h1.4m10.5 0h1.4m90.5 0h1.4m29.8 0h1.4m14 0h1.4m20 0h1.9m3 0h1.4m1.6 0h2.4m3.6 0h2.4m5 0h1.4m5.6 0h3.4m1 0h1.4m1.1 0h1.4m9 0h1.4m1.1 0h1.4m6.1 0h1.4m6 0h1.4m3.6 0h1.4m2.6 0h1.4m18.9 0h1.4m1.1 0h1.4m15.5 0h1.4m17.4 0h1.4m9.6 0h1.4m27.9 0h1.4m13.9 0h2.4m2.6 0h1.4m17 0h1.4m4.5 0h1.9m24 0h1.4M101.6 207.6h1.9m34.8 0h1.4m22.5 0h1.4m33.3 0h1.4m75.1 0h1.4m4.5 0h1.4m5.1 0h1.4m8.5 0h1.9m27.4 0h1.4m4.6 0h1.4m5 0h1.4m0.1 0h1.4m12 0h1.4m14 0h1.4m2.6 0h1.4m18.9 0h1.4m23.5 0h1.4m1 0h1.4m14 0h1.4m33.4 0h1.4m21.9 0h1.4m5.6 0h1.4m4.5 0h1.9m37.3 0h1.4M90.2 209.91h1.4m18.9 0h1.4m22.5 0h1.4m15.9 0h1.4m34.4 0h2.4m1.1 0h1.4m27.4 0h1.4m10.5 0h1.4m49.7 0h1.4m0.6 0h1.4m3.1 0h1.4m0.5 0h1.4m5.1 0h1.4m0.1 0h1.4m2.1 0h1.4m0.1 0h1.4m6 0h1.9m0.6 0h1.4m0.1 0h1.4m0.1 0h1.4m1 0h1.9m2.1 0h1.4m0.6 0h1.9m0.1 0h1.4m1.1 0h2.4m3.5 0h1.4m4.6 0h1.4m3.6 0h1.4m10.5 0h1.4m27.4 0h1.4m2.5 0h1.4m1.6 0h1.4m0.6 0h1.4m1.1 0h1.4m9.5 0h1.4m26.9 0h1.4m12.5 0h1.4m43.8 0h1.4m10.5 0h1.4m12 0h1.4m22.9 0h1.4M79.8 212.21h1.4m4 0h1.4m17.5 0h1.4m43.8 0h1.4m1 0h1.4m18.5 0h1.4m0.1 0h2.4m2.1 0h1.4m6.5 0h1.4m25.9 0h1.4m4.6 0h1.4m3.5 0h1.4m3.1 0h1.4m15 0h1.4m7.5 0h1.4m15 0h1.4m3.6 0h1.4m2.5 0h1.4m10.6 0h1.4m6.5 0h1.4m3.6 0h1.4m4.5 0h1.4m0.6 0h2.4m2.6 0h5.3m0.6 0h1.4m0.6 0h1.4m4.1 0h5.8m0.6 0h1.4m1.1 0h1.4m9 0h1.4m22 0h1.4m2.5 0h1.4m0.1 0h2.4m20 0h1.4m19.9 0h1.4m10 0h1.4m4.6 0h1.4m1.1 0h1.4m6.5 0h1.4m7.6 0h1.4m5 0h1.4m0.6 0h1.4m1.1 0h1.4m22.9 0h1.4m0.1 0h1.4m4.1 0h1.4m1 0h1.4m0.6 0h1.4m18.5 0h1.4m17.4 0h1.4m21 0h1.4M81.2 214.52h1.4m24.5 0h1.4m11.5 0h1.4m8 0h1.4m6.5 0h2.4m13 0h1.4m3.6 0h1.4m8.5 0h1.4m2.6 0h1.4m0.1 0h1.4m7 0h1.4m11.5 0h1.4m20 0h1.4m1.1 0h1.4m44.7 0h2.4m12 0h1.4m10.1 0h1.4m8.5 0h2.9m9 0h2.9m5 0h2.4m0.1 0h1.4m3.6 0h2.4m0.1 0h1.4m0.1 0h1.4m0.5 0h1.9m1.1 0h1.4m0.1 0h1.4m1.6 0h1.4m0.1 0h1.4m0.6 0h1.9m1 0h1.4m3.1 0h1.4m4.6 0h1.4m3.5 0h1.4m8.1 0h1.4m0.6 0h1.4m14.4 0h1.4m11.6 0h1.4m10.5 0h1.4m15.9 0h1.4m34.9 0h1.4m10 0h1.4m2.6 0h1.4m5.5 0h1.4m3.1 0h1.4m20.9 0h1.4m19 0h1.4m5.5 0h1.4m11.6 0h1.8M83.2 216.82h1.4m23.9 0h1.4m2.1 0h1.4m0.6 0h1.4m10.5 0h1.4m11.5 0h1.4m16 0h1.4m29.9 0h1.4m14.5 0h1.4m12 0h1.4m3.5 0h1.4m16 0h1.9m4.6 0h1.4m15.5 0h2.3m26.4 0h1.4m4.1 0h1.4m2.1 0h1.4m4.5 0h1.9m0.6 0h1.4m2.6 0h3.4m0.6 0h1.4m3.5 0h1.9m1.6 0h1.4m3.1 0h1.4m7 0h1.4m0.1 0h1.4m0.6 0h1.4m10.5 0h1.4m10 0h1.4m4.6 0h1.4m12 0h1.4m28.9 0h1.4m28.9 0h2.8m7.6 0h1.4m38.3 0h1.4m6 0h1.4m63.2 0h1.4m3.6 0h1.4"/>
<path d="M81.2 219.13h1.4m1.1 0h1.4m13 0h1.4m7.6 0h1.4m3.5 0h1.4m92.5 0h1.4m4.5 0h1.4m5.6 0h1.4m32.3 0h1.4m0.1 0h1.4m16 0h1.4m15.5 0h1.4m1.1 0h1.4m2.5 0h1.4m2.1 0h1.4m9 0h1.4m1.6 0h1.4m8.5 0h2.4m7.1 0h2.4m42.2 0h1.4m8.6 0h1.4m35.3 0h1.4m3.1 0h1.4m6 0h1.4m10.5 0h1.9m6.6 0h1.4m20.9 0h1.4m9.5 0h1.4m22 0h1.4m18.9 0h1.4m10.6 0h1.4m15.9 0h1.9M102.1 221.44h1.4m9 0h1.4m17 0h1.4m10.5 0h1.9m2.6 0h1.4m44.2 0h1.4m4.6 0h1.4m6.5 0h1.4m9.1 0h1.4m13.5 0h1.4m44.7 0h1.4m14.5 0h1.4m5.6 0h1.4m4.5 0h1.4m2.1 0h1.4m3.6 0h1.4m2 0h3.4m1.6 0h2.4m3.1 0h2.4m0.6 0h2.3m0.6 0h1.4m1.6 0h1.4m10 0h1.4m0.1 0h1.4m3.6 0h1.4m0.6 0h1.4m3.5 0h1.4m12 0h1.4m7.1 0h1.4m3.5 0h1.4m23 0h1.4m2 0h1.4m8.1 0h1.4m56.7 0h1.4m13.5 0h1.4m29.3 0h1.4m24 0h1.4M83.2 223.74h1.4m5.6 0h1.4m29.9 0h1.4m8.5 0h1.4m14.5 0h1.4m1.5 0h1.4m1.1 0h1.4m13.5 0h1.4m20.5 0h1.4m10.5 0h1.4m2.1 0h1.4m1.5 0h1.4m10.1 0h1.4m0.5 0h1.4m5.6 0h1.4m0.1 0h1.4m0.6 0h1.4m5.5 0h1.4m2.6 0h1.4m2.1 0h1.4m1.5 0h1.4m10.1 0h1.4m9.5 0h1.4m7.5 0h1.4m0.1 0h1.4m1.1 0h1.4m2.1 0h2.4m2.5 0h1.4m5.1 0h1.9m3.1 0h3.3m2.1 0h2.4m1.1 0h1.4m2.6 0h1.4m0.1 0h3.8m1.6 0h1.4m0.1 0h1.9m0.1 0h2.4m1.6 0h2.8m2.1 0h1.4m1.6 0h1.4m0.1 0h1.9m0.6 0h1.4m0.1 0h1.4m1 0h1.4m0.1 0h1.4m5.6 0h1.4m2.6 0h1.4m5.5 0h1.4m23.9 0h1.4m0.6 0h1.4m31.4 0h1.4m26.4 0h1.4m4.5 0h1.4m4.1 0h1.4m9 0h1.4m17.5 0h1.4m32.9 0h1.4m13.9 0h1.4m1.1 0h1.4m11 0h1.4M93.7 226.05h1.4m14.4 0h1.4m11.5 0h1.4m29.4 0h1.4m3.1 0h1.4m25.4 0h1.9m15 0h1.4m17 0h1.4m31.3 0h1.4m11.5 0h1.4m14 0h1.9m5.6 0h1.4m2.5 0h1.4m4.1 0h1.9m1.1 0h1.4m0.6 0h3.4m1 0h1.4m0.1 0h2.4m1.6 0h2.4m2.1 0h1.4m2.5 0h3.9m4.1 0h4.4m2.5 0h1.4m0.6 0h3.4m4.1 0h1.9m9.5 0h2.4m0.6 0h3.3m5.6 0h1.4m13 0h1.4m2.1 0h1.4m15 0h2.8m12 0h1.4m21 0h1.4m1.1 0h1.4m18.9 0h1.4m17.5 0h1.4m5 0h1.4m4.6 0h1.4m8 0h1.4m10.6 0h1.4m0.5 0h1.4m2.6 0h2.4m4.1 0h1.4m11.5 0h1.4m6 0h1.4M93.2 228.35h1.4m8 0h1.4m9.5 0h1.4m9 0h1.4m3.6 0h1.4m0.6 0h1.4m39.8 0h1.4m19.4 0h1.4m3.1 0h1.4m12.5 0h1.4m7.1 0h1.4m18.4 0h1.4m4.6 0h1.4m15.9 0h1.4m24.5 0h1.4m5 0h1.4m0.1 0h1.4m16.5 0h1.4m2.6 0h1.4m1.5 0h2.4m3.6 0h1.4m1.1 0h1.9m0.6 0h1.8m0.6 0h1.4m1.1 0h2.4m0.1 0h2.9m2.1 0h1.4m6.5 0h2.4m8 0h2.4m10.5 0h2.4m28.9 0h1.4m6.1 0h1.4m0.6 0h1.4m15.9 0h1.4m49.8 0h1.4m13.5 0h1.4m7.5 0h1.4m49.7 0h1.4m0.1 0h1.4m8.6 0h1.4M102.1 230.65h1.4m28.9 0h1.4m48.2 0h1.4m1.6 0h1.4m2.6 0h1.4m5 0h1.4m52.7 0h1.4m15 0h1.4m19 0h1.4m2.6 0h1.4m12 0h3.3m0.1 0h1.4m4.6 0h1.4m9.5 0h1.4m17.5 0h1.4m2.1 0h2.8m9.1 0h1.9m15.9 0h1.4m0.1 0h1.4m12.5 0h1.4m11.5 0h1.4m143.6 0h1.4M122.4 232.96h1.4m29.9 0h1.4m2.1 0h1.4m1.1 0h1.4m21.9 0h1.4m3.6 0h1.4m19.4 0h1.4m7.6 0h1.4m49.2 0h1.4m9.5 0h1.4m16.5 0h1.4m4.1 0h1.9m0.5 0h1.4m0.6 0h1.4m0.1 0h1.4m0.6 0h2.4m2.1 0h1.4m2.1 0h1.8m4.1 0h1.4m3.1 0h2.4m6 0h1.4m1.1 0h1.4m2.1 0h1.4m3.5 0h1.4m0.6 0h1.4m5.6 0h2.4m6.5 0h1.4m7.5 0h1.4m8.1 0h1.4m0.6 0h1.4m35.3 0h1.4m28.4 0h1.4m65.1 0h1.4m2.6 0h1.9m18.4 0h1.4m12.1 0h2.8M92.2 235.26h1.4m6 0h1.4m11.5 0h1.4m87.5 0h1.4m21.4 0h1.4m0.6 0h1.4m25.9 0h1.4m24.9 0h1.4m15 0h1.4m1.1 0h1.4m1.1 0h1.4m2.5 0h1.4m3.6 0h3.4m0.1 0h2.4m1.6 0h2.8m1.1 0h1.4m5.1 0h3.4m0.1 0h1.4m1.5 0h1.9m2.6 0h1.9m0.6 0h1.9m7 0h1.4m10.5 0h1.4m8.1 0h1.4m10.5 0h1.4m108.3 0h1.4m0.6 0h1.4m3.1 0h1.4m55.2 0h1.4"/>
<path d="M109 237.57h1.4m23 0h1.4m14.5 0h1.4m18.9 0h1.4m41.8 0h1.4m1.1 0h1.4m5.5 0h1.4m32.9 0h1.4m25.9 0h1.4m1.6 0h1.4m9 0h1.4m0.1 0h1.4m4.1 0h2.8m1.1 0h1.4m0.1 0h1.4m3.1 0h2.4m2.1 0h1.4m2 0h1.4m0.1 0h2.9m1.6 0h1.4m1.6 0h1.4m5 0h1.4m19.5 0h1.4m10 0h1.4m15 0h1.4m10.5 0h1.9m96.9 0h1.4m1.1 0h1.9m36.3 0h1.4m8.5 0h1.4M83.7 239.88h1.4m8.1 0h1.4m9.5 0h1.4m3.5 0h2.4m24 0h1.4m60.1 0h1.4m1.6 0h1.4m5.1 0h1.4m13.4 0h1.4m7.6 0h1.4m15.5 0h1.4m10.5 0h1.4m0.1 0h1.4m11 0h1.4m11.5 0h1.4m0.1 0h1.4m4.5 0h1.4m25.4 0h1.4m0.1 0h1.4m4.1 0h1.4m0.1 0h2.9m1.1 0h1.4m3.5 0h1.4m1.1 0h1.4m0.1 0h1.4m1.6 0h1.4m3 0h1.4m2.6 0h1.4m2.1 0h1.9m101.3 0h1.4m2.1 0h1.4m20.5 0h1.4m23.4 0h1.4m5.5 0h1.4m4.1 0h1.4m27.4 0h1.4m6 0h1.4M82.7 242.18h1.4m7.6 0h1.4m27.9 0h1.4m12.5 0h1.4m2 0h1.4m13 0h1.4m4.1 0h1.4m2.1 0h2.4m8 0h1.4m11 0h1.4m16.5 0h1.4m69.1 0h1.4m21.9 0h1.4m5.1 0h1.4m0.1 0h3.3m3.6 0h1.9m0.6 0h1.4m0.1 0h1.4m4.5 0h1.9m2.1 0h1.9m0.6 0h2.4m0.6 0h1.4m2 0h1.4m0.1 0h1.4m1.1 0h2.4m2.1 0h1.4m6.5 0h1.9m2.1 0h1.9m3.6 0h1.4m39.3 0h1.4m23.9 0h1.4m23.9 0h1.4m29.9 0h1.4m9 0h1.4m9 0h1.9m15.5 0h1.4m44.8 0h1.4M80.7 244.49h1.4m18.5 0h1.4m13 0h1.4m1.1 0h1.4m5 0h1.4m0.6 0h1.4m15.5 0h1.4m2.6 0h1.4m24.4 0h1.4m9.5 0h1.4m8.5 0h1.4m4.6 0h1.4m2.6 0h1.4m5 0h1.4m0.6 0h1.4m27.9 0h1.4m0.1 0h1.4m6.5 0h2.4m23 0h1.4m6.5 0h1.4m0.6 0h1.4m8 0h1.4m4.6 0h1.4m1.1 0h2.8m1.1 0h1.4m0.6 0h1.9m0.6 0h1.9m1.1 0h1.9m2 0h1.9m1.6 0h1.4m0.1 0h2.4m0.1 0h1.4m3.1 0h2.4m1.5 0h1.4m0.6 0h1.4m0.6 0h2.9m4.1 0h2.8m2.6 0h1.4m7.6 0h1.4m1 0h1.4m6.6 0h2.4m4 0h1.4m12 0h1.4m42.3 0h1.4m15 0h1.4m53.7 0h1.9m4.6 0h1.4m1.6 0h1.4m8 0h1.9m12 0h1.4m11 0h1.9m1.6 0h1.4m11 0h1.4M84.2 246.79h1.4m21 0h1.4m16.9 0h1.4m2.6 0h1.4m6.5 0h1.4m12.5 0h2.4m1.1 0h1.4m9 0h1.4m8.1 0h1.4m1.1 0h1.4m6 0h1.4m0.6 0h1.4m2.1 0h1.4m16.9 0h1.4m1.6 0h1.4m5.1 0h1.4m0.6 0h1.4m42.2 0h1.4m3.6 0h1.9m2.6 0h2.4m0.1 0h1.4m9 0h1.4m5 0h1.4m0.6 0h1.4m0.1 0h1.4m2.6 0h1.4m1.6 0h2.9m2.5 0h3.9m0.1 0h1.4m0.1 0h2.4m0.6 0h1.4m0.1 0h1.4m1 0h1.4m0.1 0h1.9m0.1 0h1.4m0.1 0h2.4m0.1 0h1.4m0.1 0h1.4m3 0h1.9m0.1 0h1.4m1.1 0h1.4m0.1 0h1.9m0.1 0h1.4m0.1 0h1.4m3.5 0h1.4m0.6 0h1.4m15 0h1.4m6.6 0h1.4m11 0h1.4m5.5 0h1.4m8.1 0h1.4m3.5 0h1.4m3.1 0h1.4m21.9 0h1.4m16 0h1.4m1.6 0h1.4m16.9 0h1.4m6.1 0h1.4m4.1 0h1.4m4.5 0h1.4m14.5 0h1.4m5.1 0h1.4m12 0h1.4m8.5 0h1.4m1.1 0h1.4m2 0h1.4m1.1 0h1.4m4.1 0h1.4m17 0h1.4M80.2 249.1h2.4m2.6 0h1.4m44.8 0h1.4m22.9 0h1.4m2.1 0h1.4m13.5 0h1.4m49.7 0h1.4m44.3 0h1.4m6.5 0h1.4m13 0h1.4m2.6 0h1.4m0.1 0h2.4m2.1 0h2.4m8.5 0h3.4m2 0h1.4m6.6 0h1.4m0.1 0h1.4m1.1 0h1.4m1.5 0h1.4m0.1 0h1.9m0.6 0h1.4m3.6 0h1.4m1.6 0h2.3m1.1 0h1.4m21.5 0h2.4m8 0h1.4m15.5 0h1.4m7 0h1.4m11.5 0h1.4m44.3 0h1.4m36.3 0h1.4m0.1 0h1.4m9.5 0h1.4m25 0h1.4m2 0h1.4M84.2 251.4h1.4m17 0h1.4m24.9 0h2.4m26.9 0h1.4m18.5 0h1.4m13.9 0h1.4m18 0h1.4m13.5 0h1.9m22.9 0h1.9m9.5 0h1.4m8.1 0h1.4m6 0h1.4m5.6 0h1.4m2 0h2.4m0.6 0h1.4m0.1 0h1.9m1.6 0h1.4m1.1 0h1.4m2 0h1.9m0.1 0h1.4m0.6 0h2.4m1.6 0h1.4m0.6 0h1.4m4 0h3.4m0.6 0h7.4m1.5 0h2.4m3.6 0h1.4m3.6 0h1.4m0.6 0h1.4m1 0h1.4m0.6 0h2.4m6.6 0h1.4m4 0h1.4m0.6 0h1.4m2.6 0h1.4m17.9 0h1.4m0.1 0h1.4m10.5 0h1.4m48.8 0h1.4m14 0h1.4m33.8 0h1.4m0.1 0h1.4m1.1 0h1.4m0.1 0h1.4m0.6 0h1.4m23.4 0h1.9m19.4 0h1.4M87.2 253.7h1.4m10.5 0h1.4m68.1 0h1.4m9 0h1.4m1.6 0h1.4m7.1 0h1.4m35.3 0h1.4m10.5 0h1.4m4.6 0h1.4m45.2 0h1.4m3.1 0h1.4m18.5 0h1.4m6.5 0h1.4m4.1 0h1.4m1.1 0h1.9m1 0h1.4m0.6 0h1.4m0.6 0h1.4m54.7 0h1.4m1.6 0h1.4m70.6 0h1.4m51.7 0h1.4"/>
<path d="M95.6 256.01h1.4m31.9 0h1.4m8.5 0h3.4m13.5 0h1.4m3.6 0h1.4m2.1 0h1.4m8.5 0h1.4m8 0h1.4m2.6 0h1.4m19.4 0h1.4m38.9 0h1.4m11.5 0h1.4m24.9 0h1.9m8 0h2.4m8 0h1.4m7.6 0h2.4m2 0h1.4m1.1 0h2.4m4.1 0h1.4m11 0h2.4m6 0h1.4m13.5 0h1.4m6.1 0h1.4m56.6 0h1.4m11.6 0h1.4m8 0h1.4m15.5 0h2.4m57.6 0h1.4m2.1 0h1.4m4.1 0h1.4m19.9 0h1.4M124.9 258.31h1.4m29.9 0h1.4m9 0h1.9m12 0h1.4m14.5 0h1.4m21.5 0h1.4m32.3 0h1.4m33.9 0h1.4m5.5 0h1.4m2.6 0h1.4m4.1 0h1.4m1 0h1.4m4.1 0h1.4m3.1 0h1.4m5 0h1.4m1.6 0h1.9m5.5 0h3.4m1.1 0h2.4m6.1 0h1.4m9.5 0h1.4m2 0h1.4m0.6 0h1.4m28.4 0h1.4m37.8 0h1.4m11.6 0h1.4m74.5 0h1.4m43.8 0h1.4M133.9 260.62h1.4m7 0h1.4m22.9 0h1.4m8.1 0h1.4m18.4 0h1.4m0.1 0h1.4m11 0h1.4m31.9 0h1.4m48.2 0h1.9m1.1 0h1.4m5.1 0h1.4m3 0h1.4m16 0h1.9m12.5 0h1.4m2.1 0h1.4m17.5 0h1.4m1.5 0h1.4m28.9 0h1.4m4.1 0h1.4m2.5 0h1.4m91.5 0h1.4M121.5 262.92h1.4m27.8 0h1.4m39.4 0h1.4m16.4 0h1.4m21.5 0h1.4m10 0h1.4m8.5 0h1.4m17 0h1.4m5 0h1.9m0.6 0h1.4m20.5 0h2.4m4 0h2.9m10.5 0h2.4m1.1 0h1.4m0.1 0h2.4m1.1 0h2.4m1 0h1.4m0.1 0h1.4m1.6 0h1.4m0.6 0h3.4m1.1 0h1.4m0.5 0h2.9m0.1 0h1.4m2.1 0h1.4m5.1 0h1.4m9.5 0h1.4m2.1 0h1.4m12 0h1.4m14.4 0h1.4m48.3 0h1.4m27.9 0h1.4m11.5 0h1.4m13 0h1.4m7.5 0h1.4M80.7 265.23h1.4m0.6 0h1.4m1.6 0h1.4m13 0h1.4m11.5 0h1.4m8 0h1.4m40.8 0h1.4m1.6 0h1.4m33.4 0h1.4m22.9 0h1.4m8 0h1.4m10.1 0h1.4m25.9 0h1.4m1.5 0h1.4m1.1 0h1.4m6.1 0h1.4m1.1 0h1.4m4.5 0h1.4m1.6 0h1.4m2.1 0h1.4m1 0h1.4m1.6 0h2.9m1.6 0h1.4m6 0h1.4m0.1 0h1.4m1.1 0h2.4m0.1 0h2.4m0.6 0h5.3m2.1 0h2.9m3.1 0h1.4m0.1 0h1.4m1.1 0h1.4m10.5 0h1.4m43.2 0h1.4m9.6 0h1.4m6.5 0h1.4m8 0h1.4m26 0h1.4m23.4 0h1.4m7.5 0h1.4m22.4 0h1.4m4.1 0h1.4m7.5 0h1.9m25.9 0h1.4M78.8 267.54h1.4m12 0h1.4m5 0h1.4m6.6 0h1.4m15.4 0h1.4m12 0h1.4m1.6 0h1.4m18 0h1.4m1.1 0h1.4m6.5 0h1.4m7.1 0h1.4m6.5 0h1.4m12 0h1.4m11 0h1.4m0.1 0h1.4m22.9 0h1.4m2.6 0h1.4m28.4 0h1.4m13.5 0h1.4m2.6 0h1.9m12.5 0h1.4m3.5 0h1.4m3.6 0h2.4m0.6 0h1.4m0.5 0h1.4m0.1 0h2.9m1.1 0h1.4m1.1 0h3.4m2 0h2.4m0.6 0h1.9m0.6 0h1.9m1.6 0h1.4m0.6 0h1.9m0.6 0h1.4m0.5 0h1.4m1.6 0h2.4m0.1 0h1.4m0.1 0h1.4m1.1 0h1.4m7.5 0h1.4m25.4 0h1.4m0.1 0h1.4m9 0h1.4m5.1 0h1.4m10 0h1.4m8 0h1.4m9.1 0h1.4m11.5 0h1.4m2.5 0h1.4m10.6 0h1.4m20.4 0h1.4m0.6 0h1.9m12.5 0h1.4m10.5 0h1.4m16.5 0h1.4m0.1 0h1.4m5 0h1.4m7.1 0h1.4m8 0h1.4m2.6 0h1.4M107.1 269.84h1.4m23.4 0h1.4m2.1 0h1.4m21.9 0h1.4m0.6 0h1.4m18.9 0h1.4m28.9 0h1.4m34.9 0h1.4m4 0h1.4m1.6 0h1.4m8.5 0h1.4m4.6 0h1.4m17 0h1.4m5 0h1.4m0.6 0h2.4m0.1 0h1.4m0.6 0h4.3m0.1 0h1.9m1.6 0h1.4m4.1 0h2.4m6 0h2.4m1.6 0h2.4m0.1 0h1.4m2.5 0h1.9m0.1 0h1.4m2.1 0h1.4m2.6 0h1.9m4.5 0h1.4m0.6 0h1.4m15 0h1.4m30.4 0h1.4m19.4 0h1.4m40.3 0h1.4m11.5 0h1.4m27.4 0h1.4m6.1 0h1.4m15 0h1.4M101.1 272.15h1.4m21.9 0h1.9m3.6 0h1.4m43.3 0h1.4m5 0h1.4m15 0h1.9m12.5 0h1.4m3.1 0h1.4m36.8 0h1.4m18.5 0h1.4m10 0h1.4m10 0h1.4m6.5 0h1.9m4.6 0h1.4m1.1 0h1.4m0.6 0h1.4m1.1 0h1.4m1 0h1.4m0.1 0h1.4m3.1 0h1.9m2.1 0h1.4m3.5 0h2.4m7.1 0h4.3m0.1 0h1.4m0.6 0h1.4m20.5 0h1.4m14.9 0h1.4m46.3 0h1.4m15.5 0h1.4m34.3 0h1.4m7.6 0h1.4m17.9 0h2.4"/>
<path d="M102.6 274.45h1.4m46.2 0h1.4m69.6 0h1.4m54.7 0h1.4m6.1 0h1.4m0.6 0h1.4m4.5 0h2.4m10 0h1.4m5.1 0h3.4m0.1 0h1.9m6 0h1.4m2.1 0h1.4m0.1 0h2.4m1.6 0h1.4m10 0h2.4m7 0h1.4m6.1 0h1.4m5.5 0h1.4m20.9 0h1.4m12.5 0h1.4m7.1 0h1.4m0.6 0h1.4m9.5 0h1.4m3.1 0h1.4m24.9 0h1.4m11 0h1.4m17 0h1.4m16.9 0h1.4m23.9 0h1.4M130.9 276.75h1.4m20.4 0h1.4m0.6 0h1.4m5.6 0h1.4m5 0h1.4m42.3 0h1.4m1.1 0h1.4m11.5 0h1.4m0.6 0h1.4m26.4 0h1.4m33.8 0h1.9m1.1 0h1.4m2.1 0h1.4m4.6 0h1.4m3 0h1.4m2.1 0h2.9m3.5 0h1.4m2.1 0h1.4m2.1 0h1.4m5.5 0h1.9m1.6 0h1.4m5.6 0h1.4m1.1 0h1.4m4 0h1.4m19 0h1.4m11 0h1.9m30.9 0h1.4m12.5 0h2.8m10.6 0h1.4m91.4 0h1.4m3.6 0h1.4M157.7 279.06h1.4m5.1 0h1.4m17.9 0h1.4m3.1 0h1.4m35.8 0h1.4m49.3 0h1.4m11.5 0h2.4m4.5 0h1.4m4.1 0h1.4m0.1 0h1.4m0.6 0h1.4m1 0h1.4m1.6 0h1.4m11 0h1.4m1.1 0h1.4m6.1 0h2.3m4.6 0h1.4m11.5 0h1.4m2.1 0h2.4m2.1 0h1.4m8.5 0h1.4m32.8 0h1.4m14.5 0h1.4m4.6 0h1.4m77 0h1.4M90.2 281.36h1.4m9 0h1.4m14.5 0h1.4m2.6 0h1.4m65.1 0h1.4m6.5 0h1.4m10.1 0h1.4m20.4 0h1.4m56.2 0h1.4m10 0h1.9m7 0h1.4m1.1 0h1.4m1.1 0h1.4m17 0h1.4m163.4 0h1.4m12 0h1.4m55.2 0h1.4M83.7 283.67h1.4m7.1 0h1.4m17.9 0h1.4m9.1 0h1.4m11.5 0h1.4m8 0h1.4m26.4 0h1.4m14.5 0h1.4m9 0h1.4m1.6 0h1.4m30.4 0h1.4m12.5 0h1.4m15.9 0h1.4m3.6 0h1.4m6.5 0h1.4m9.6 0h1.4m12.5 0h1.4m1.1 0h1.4m1.5 0h1.4m1.1 0h1.4m0.1 0h1.4m0.6 0h1.4m2.1 0h2.4m1.5 0h1.4m2.1 0h2.4m0.6 0h1.4m0.6 0h2.9m2 0h1.4m0.1 0h1.9m1.1 0h1.4m1.1 0h1.4m0.1 0h5.8m1.6 0h1.4m1.1 0h1.4m0.1 0h1.4m0.1 0h2.4m16.5 0h1.4m8 0h1.4m1.1 0h1.4m2.5 0h1.4m35.9 0h1.4m7 0h1.4m2.6 0h1.4m2.6 0h1.4m7 0h1.4m4.6 0h1.4m2 0h1.4m0.6 0h1.4m7.6 0h1.4m55.6 0h1.4m15 0h1.4m1.1 0h1.4m3.1 0h1.4M89.2 285.98h1.4m22.9 0h1.4m6.1 0h1.4m14.9 0h1.4m2.6 0h1.4m8.5 0h1.9m5.1 0h1.4m66.6 0h1.4m5.1 0h1.4m0.1 0h1.4m9.5 0h1.4m9.5 0h1.4m10 0h2.4m10.5 0h3.9m9 0h1.4m21 0h1.4m2 0h1.4m9.1 0h1.4m0.6 0h1.4m5.5 0h1.4m6.1 0h1.4m6 0h1.4m14.5 0h1.4m30.9 0h1.4m51.7 0h1.4m6.5 0h1.4m11 0h1.4m23 0h1.4m38.3 0h1.4m7.5 0h1.4M86.2 288.28h1.4m21.9 0h1.4m26.4 0h1.4m100.9 0h1.4m72.6 0h2.9m7 0h1.4m2.1 0h2.4m1.6 0h1.4m4.5 0h1.9m2.1 0h2.4m28.9 0h1.4m19.4 0h1.4m22 0h1.4m4 0h1.4m14.5 0h1.4m15.5 0h1.4m33.8 0h1.4m68.6 0h1.4m6.1 0h1.4M95.6 290.59h1.4m9.1 0h1.4m15.9 0h1.4m14.5 0h1.4m7.1 0h1.4m11 0h1.4m5 0h1.4m1.1 0h1.4m90 0h1.4m7.5 0h1.9m3.1 0h1.4m7.5 0h1.4m19 0h1.4m3 0h1.4m0.6 0h1.4m1.6 0h2.4m2.1 0h4.8m2.1 0h1.4m2.6 0h1.4m2.1 0h1.4m1.5 0h1.4m0.1 0h2.4m0.6 0h2.9m0.1 0h3.4m1.1 0h1.4m2.5 0h1.4m12 0h1.4m11.5 0h1.4m0.6 0h1.4m18.5 0h1.4m26.4 0h1.4m60.1 0h1.4m7.1 0h1.4m0.6 0h1.4m0.1 0h1.4m2 0h1.4m7.6 0h1.4m8 0h1.4m29.4 0h1.4m3.6 0h1.4"/>
<path d="M81.7 292.89h1.4m32.9 0h1.4m21.4 0h1.4m5.1 0h1.4m12.5 0h1.4m2.1 0h1.4m1 0h1.4m2.6 0h1.4m10 0h1.4m11 0h1.4m3.1 0h2.4m19.5 0h1.4m21.4 0h1.4m3.6 0h1.4m2.5 0h1.4m6.1 0h1.4m13 0h1.4m7 0h1.4m7.6 0h1.4m11.5 0h2.4m7 0h1.4m2.6 0h1.4m3.5 0h1.4m1.1 0h1.4m2.1 0h1.4m4.5 0h1.4m0.6 0h1.4m3.1 0h1.4m1.1 0h2.9m1.6 0h1.4m0.5 0h1.4m2.6 0h1.4m2.1 0h1.9m23.9 0h1.4m1.1 0h1.4m90.9 0h1.4m5.1 0h1.4m4.5 0h1.4m0.1 0h1.4m25.4 0h1.4m8.6 0h2.4m19.9 0h1.4m3.1 0h1.4M90.2 295.2h1.4m10.5 0h1.4m54.2 0h1.4m114.3 0h1.4m17.9 0h1.4m1.1 0h1.4m3.1 0h1.4m0.6 0h1.4m8.5 0h1.4m2.6 0h1.4m4 0h1.4m0.6 0h1.4m5.6 0h1.4m2.5 0h1.4m3.6 0h1.4m18 0h1.4m8.5 0h1.4m3.6 0h1.4m43.7 0h1.4m107.9 0h1.4M118 297.5h1.4m11 0h1.4m10 0h1.4m8 0h1.4m24.5 0h1.4m13.9 0h1.4m5.6 0h1.4m19.9 0h1.4m11.1 0h1.4m42.2 0h1.4m6.6 0h1.4m7 0h1.4m0.1 0h1.4m7.1 0h1.4m0.1 0h1.4m4 0h1.4m0.1 0h1.4m0.6 0h1.4m3.6 0h1.4m0.5 0h1.4m0.6 0h1.4m0.6 0h1.4m0.1 0h1.4m2.6 0h1.4m43.3 0h2.3m16 0h1.4m12 0h1.4m23.9 0h1.4m0.6 0h1.4m33.9 0h1.4m9.5 0h1.4m24.9 0h1.4m53.7 0h1.4m3.6 0h1.4M103.6 299.8h1.4m75.5 0h1.4m13.5 0h1.4m12 0h1.4m35.4 0h1.4m28.9 0h1.4m2.5 0h1.4m4.1 0h1.4m2.1 0h1.4m13 0h1.4m4 0h1.4m2.6 0h1.4m1.1 0h1.9m5.5 0h2.4m5.1 0h1.4m0.1 0h1.4m2.5 0h1.4m3.1 0h1.4m0.1 0h1.9m0.6 0h1.4m30.3 0h1.4m28.4 0h1.4m98.4 0h1.4m9.5 0h1.4M84.2 302.11h1.4m5.1 0h1.4m1.1 0h1.4m7.5 0h1.4m11.5 0h1.4m12.5 0h1.4m10.5 0h1.4m24.4 0h1.4m6.6 0h1.4m11.5 0h1.4m14 0h1.4m1.6 0h1.4m19.4 0h1.4m1.6 0h1.4m8 0h1.4m12.5 0h1.4m9 0h1.4m11.1 0h1.4m1 0h1.4m7.6 0h1.4m2.1 0h1.8m1.1 0h2.9m0.1 0h1.4m2.1 0h1.4m2.1 0h2.4m3.5 0h1.4m2.6 0h1.4m1.1 0h2.9m4.5 0h1.4m5.6 0h1.4m1 0h1.4m1.6 0h1.4m0.1 0h1.9m8 0h1.9m1.6 0h1.4m0.6 0h1.4m0.6 0h1.4m6 0h1.4m3.1 0h1.4m10 0h1.4m12.5 0h1.4m3.6 0h1.4m5.5 0h1.4m7.1 0h1.4m7.5 0h1.4m5.1 0h1.4m25.9 0h1.4m3 0h1.4m3.6 0h1.4m21.5 0h1.4m1 0h1.4m11 0h1.9m3.6 0h1.4m24.4 0h1.9M84.2 304.41h1.4m19.5 0h1.4m6 0h1.4m20.5 0h1.4m3 0h1.4m4.1 0h1.4m4.1 0h1.4m1.5 0h1.4m65.2 0h1.4m30.3 0h1.4m0.6 0h1.4m16.5 0h1.4m36.8 0h1.4m4.6 0h1.4m7 0h1.4m2.1 0h1.4m5 0h1.4m5.1 0h1.4m35.8 0h1.4m1.1 0h1.4m22.9 0h1.4m80.6 0h1.4m75.5 0h1.4M92.7 306.72h1.4m61.1 0h1.4m26.4 0h1.4m8 0h1.4m40.4 0h1.4m1.5 0h1.4m15.5 0h1.4m7.5 0h1.4m7.1 0h1.4m4.5 0h1.4m5.1 0h1.4m26.4 0h5.4m2.5 0h1.9m0.6 0h3.4m2.1 0h1.4m1.1 0h1.4m6.5 0h1.4m5.1 0h1.4m0.1 0h3.3m0.6 0h1.4m0.6 0h1.4m23.9 0h2.4m11.5 0h1.4m7.6 0h1.4m14 0h1.4m4 0h1.4m14 0h1.4m0.1 0h1.4m5.6 0h1.4m56.6 0h1.4m5.6 0h1.4m13 0h1.4m5 0h1.4m19.5 0h1.4m2.1 0h1.4M116.5 309.02h1.4m68.6 0h1.4m17 0h1.4m74.5 0h1.4m2.6 0h1.4m4.1 0h1.4m6 0h1.4m15 0h1.4m3.5 0h1.4m0.6 0h1.4m11.5 0h1.4m1.1 0h1.4m3.6 0h1.4m8.5 0h1.4m6.1 0h1.4m1 0h1.4m4.1 0h1.4m3.6 0h1.4m113.3 0h1.4m15.4 0h1.4m45.8 0h1.4"/>
<path d="M84.2 311.33h1.4m5.6 0h1.4m3 0h1.4m19.5 0h1.4m20.9 0h1.4m8.1 0h1.4m4.5 0h1.4m6.1 0h1.4m4.5 0h1.4m0.6 0h1.4m20.5 0h1.4m8 0h1.4m13.5 0h1.4m20.9 0h1.4m9.5 0h1.4m0.6 0h2.4m5.1 0h1.4m3 0h1.4m5.1 0h1.4m8 0h1.4m3.1 0h1.4m5.1 0h1.4m1.5 0h1.4m0.6 0h1.9m1.6 0h1.4m1.6 0h1.9m3.5 0h1.4m2.1 0h1.4m1.1 0h1.4m0.1 0h1.4m0.6 0h2.4m0.5 0h1.4m4.1 0h1.4m3.1 0h2.4m2 0h1.9m2.6 0h1.4m4.6 0h1.4m6.5 0h2.4m1.1 0h1.4m0.6 0h1.4m10 0h1.4m4.6 0h1.4m11 0h1.4m62.1 0h1.4m34.9 0h1.4m9.5 0h1.4m15 0h1.4m19.9 0h2.4m18.5 0h1.4M83.7 313.64h1.4m34.4 0h1.4m5 0h1.4m43.8 0h1.4m18.5 0h1.4m26.4 0h1.4m24.4 0h1.4m37.8 0h1.4m5.1 0h1.4m1 0h1.4m2.1 0h2.4m4.1 0h2.4m9.5 0h2.4m3.5 0h1.4m2.1 0h1.4m3.1 0h1.9m7.5 0h1.4m1.1 0h1.4m93.9 0h1.4m0.6 0h1.9m90.9 0h1.4M162.7 315.94h1.4m3.5 0h1.4m15 0h1.4m7 0h1.4m5.6 0h1.4m12.5 0h1.4m16 0h1.4m11.5 0h1.4m22.4 0h1.4m1.6 0h1.4m4.6 0h1.4m21.4 0h1.4m0.6 0h1.4m5 0h1.9m0.6 0h1.4m3.6 0h1.4m0.6 0h1.4m5.5 0h2.4m3.1 0h2.4m0.6 0h1.4m0.5 0h1.9m1.6 0h1.4m0.6 0h2.4m6.5 0h2.4m2.1 0h1.4m26.9 0h1.4m5.6 0h1.4m13.9 0h1.4m2.1 0h1.4m37.3 0h1.4m21.5 0h1.4m73.5 0h1.4M113.5 318.25h1.4m26.9 0h1.4m34.9 0h1.4m23.9 0h1.4m19.9 0h1.4m76.6 0h1.4m8 0h1.4m0.6 0h1.4m1.6 0h1.4m1.5 0h1.4m1.6 0h1.4m17 0h1.4m18 0h1.4m32.8 0h1.4m0.6 0h1.4m9.5 0h1.4m1.6 0h1.4m51.2 0h1.4m5.1 0h1.4m0.6 0h1.4m1 0h1.4m19 0h1.4M87.7 320.55h1.4m8.5 0h1.4m26.9 0h1.4m4.1 0h1.4m16 0h1.4m8 0h1.4m4.1 0h1.4m90.9 0h1.4m28.9 0h1.4m2.1 0h1.4m27.4 0h1.4m2 0h1.4m3.6 0h1.4m17 0h1.4m26.4 0h1.4m15.9 0h1.4m33.4 0h1.4m58.2 0h1.4m7.5 0h1.4m25.4 0h1.4m1.1 0h1.4M83.2 322.85h1.4m8.1 0h1.4m7 0h1.4m43.8 0h1.4m9.5 0h1.4m44.8 0h1.4m0.1 0h1.4m59.1 0h1.4m44.8 0h1.4m5.6 0h1.4m8 0h1.4m18.9 0h1.4m16 0h1.9m7.1 0h1.4m41.2 0h1.4M82.7 325.16h1.4m24.4 0h1.4m26 0h1.4m14.4 0h1.4m6.1 0h1.4m2.6 0h1.4m9 0h1.4m48.7 0h1.4m26.4 0h1.4m63.2 0h1.4m4.5 0h1.4m5.6 0h1.4m17.4 0h1.4m0.6 0h1.4m12.5 0h1.4m25.4 0h1.4m119.8 0h1.4m1.6 0h1.4M146.3 327.46h1.4m13 0h1.4m33.8 0h1.4m11.5 0h1.4m73.1 0h1.4m6.1 0h1.4m3 0h1.4m4.6 0h1.4m4 0h1.4m6.1 0h1.4m4.5 0h3.4m1.6 0h1.4m1.1 0h1.4m12 0h1.4m5 0h2.9m102.9 0h1.4m7.5 0h1.4m55.2 0h1.4m8.1 0h1.4m16.9 0h1.4m0.6 0h1.4"/>
<path d="M101.6 329.77h1.4m20.4 0h1.4m26.9 0h1.4m12 0h1.4m37.9 0h1.4m27.4 0h1.4m78 0h1.4m1.6 0h2.4m0.1 0h3.8m16 0h1.4m6.1 0h1.4m21.9 0h1.4m44.3 0h1.4m18.9 0h1.4m12 0h1.4m1.6 0h1.4m6.6 0h1.4m4.5 0h1.4m2.6 0h1.4m18.9 0h1.4m29.9 0h1.4m21 0h1.4M92.7 332.08h3.3m18 0h1.4m18 0h1.4m41.8 0h1.4m22.4 0h1.4m18 0h1.4m2 0h1.4m10.5 0h1.4m5.6 0h1.4m46.8 0h2.3m2.6 0h1.4m10 0h1.4m13.5 0h1.4m0.1 0h1.9m6.1 0h2.4m2 0h1.4m8.6 0h1.9m3.5 0h1.4m17.5 0h1.4m17.5 0h1.4m18.4 0h1.9m86 0h1.4m53.2 0h1.4M88.7 334.38h1.4m14.5 0h1.4m11.5 0h1.4m5.5 0h1.4m9.1 0h1.4m19.4 0h1.4m7.5 0h1.4m51.3 0h1.4m64.6 0h1.4m12.5 0h1.9m5.1 0h2.8m1.6 0h1.4m24.4 0h1.4m8.6 0h1.4m20.9 0h1.4m21.9 0h1.4m52.3 0h1.4m13.5 0h1.4m81 0h1.4m28.9 0h1.4M109 336.69h1.4m30.4 0h1.4m10 0h1.4m0.6 0h1.4m1.6 0h1.4m83 0h1.4m47.8 0h1.4m11.5 0h1.9m21.4 0h1.4m1.1 0h1.4m0.1 0h1.4m0.5 0h1.4m15.5 0h1.4m18 0h1.4m50.7 0h1.4m15 0h1.4m52.7 0h1.4m13 0h1.4M110.5 338.99h1.4m48.8 0h1.4m44.7 0h1.4m8.6 0h1.4m8.5 0h1.4m24.9 0h1.4m36.4 0h1.4m9.5 0h1.4m4.5 0h1.4m6.6 0h1.4m2.5 0h1.4m0.6 0h1.4m3.1 0h1.9m3.1 0h1.4m24.4 0h1.4m2.6 0h2.8m7.1 0h1.4m29.9 0h1.4m13.9 0h1.4m14 0h1.4m11.1 0h1.4m8.5 0h1.4m5.5 0h1.4m35.9 0h2.4m13.5 0h1.4m36.8 0h1.4M99.1 341.3h1.4m27.4 0h1.4m16.5 0h2.9m38.8 0h1.4m28.4 0h1.4m0.1 0h1.4m4 0h2.4m80.5 0h1.4m3.1 0h1.4m3.6 0h1.4m4.5 0h2.9m6.6 0h1.4m8.5 0h1.4m6 0h1.4m6.1 0h2.4m10.5 0h1.4m4 0h1.4m9.6 0h1.4m10.5 0h2.4m18.4 0h1.4m50.3 0h1.4m12.5 0h1.4m24.4 0h1.4m22.4 0h1.4m17 0h1.4M92.7 343.6h1.4m80.5 0h1.4m27.4 0h1.4m2 0h1.4m2.6 0h1.4m22.9 0h1.4m3.6 0h1.4m4.6 0h1.9m24.9 0h1.4m15 0h1.4m4.5 0h1.4m11.5 0h1.4m13.5 0h1.4m2.1 0h1.4m34.3 0h1.4m7.1 0h1.4m0.6 0h1.4m30.3 0h1.4m38.4 0h1.4m18.9 0h1.4m51.2 0h1.4m18 0h1.4M151.7 345.9h1.4m2.1 0h1.4m84 0h1.4m7.5 0h1.4m30.4 0h1.4m2.6 0h1.4m7 0h1.4m7.1 0h1.4m30.3 0h1.4m67.2 0h1.4m25.9 0h1.4m5.5 0h1.4m11 0h1.4m21 0h1.4m6 0h1.4m20.5 0h1.4m1.5 0h1.4m25.4 0h1.4m26 0h1.4m2.5 0h1.4"/>
<path d="M102.1 348.21h1.4m42.8 0h1.4m29.4 0h1.4m1.5 0h1.4m39.3 0h1.4m25 0h1.4m21.9 0h1.4m4.6 0h1.4m21.4 0h1.4m15.5 0h1.4m32.8 0h1.4m37.4 0h3.8m26.4 0h1.4m34.9 0h1.4m3 0h1.4m19 0h1.4m73.6 0h1.4M184 350.51h1.4m18 0h1.4m49.2 0h1.4m4.1 0h2.4m6 0h1.4m62.2 0h2.4m11 0h1.4m31.3 0h1.4m26.9 0h1.4m42.3 0h1.4m10.5 0h1.4m45.3 0h1.4m15.5 0h1.4M93.7 352.82h1.4m53.2 0h1.4m15.9 0h1.4m13 0h1.4m27.9 0h1.4m21.5 0h1.4m22.4 0h1.4m31.4 0h1.4m26.4 0h1.4m10.5 0h1.4m1.6 0h1.4m11 0h1.4m9 0h1.4m10 0h1.4m4.6 0h1.4m13.5 0h1.4m16.4 0h1.4m45.8 0h1.4m56.2 0h1.4m8 0h1.4m35.4 0h1.4M101.6 355.12h1.4m7.5 0h1.4m2.6 0h1.4m54.2 0h1.4m13.5 0h1.4m15 0h1.4m52.2 0h1.4m19 0h2.4m2.5 0h1.9m0.6 0h1.9m0.6 0h1.4m10 0h1.4m0.1 0h1.4m15 0h1.4m17.9 0h1.4m1.6 0h1.4m6.1 0h2.9m1 0h1.4m17.5 0h1.4m79.5 0h1.4m18 0h1.4m54.7 0h1.4m15.5 0h1.4m2.5 0h1.4M109.5 357.43h1.4m49.3 0h1.4m64.6 0h1.4m7.5 0h1.4m63.7 0h1.4m0.6 0h1.4m0.1 0h1.4m12 0h1.4m0.5 0h1.4m1.1 0h1.4m2.1 0h1.4m12.5 0h1.4m3.1 0h1.4m8 0h1.4m67.1 0h1.4m16.5 0h1.4m16 0h1.4m29.8 0h1.4m7.6 0h1.4m24.9 0h1.4m3.1 0h1.4M81.7 359.74h1.4m75.1 0h1.4m105.3 0h1.4m14.5 0h1.4m4.1 0h1.4m34.3 0h1.4m20 0h1.4m12 0h1.4m17.9 0h1.4m150.6 0h1.4M205.9 362.04h1.4m17.4 0h1.4m21.5 0h1.4m1.5 0h1.4m22 0h1.4m36.3 0h1.4m6.5 0h1.4m7.6 0h1.4m19.9 0h1.4M335.4 364.35h1.4m10.5 0h1.4m77.1 0h1.4"/>
<path d="M104.6 366.65h1.4m46.7 0h1.4m14 0h1.4m2.1 0h1.4m17 0h1.4m29.3 0h1.4m0.6 0h1.4m41.8 0h1.4m21 0h1.4m11 0h1.4m16.5 0h1.4m10 0h1.4m16.9 0h1.4m21.5 0h1.4m5.5 0h1.4m52.7 0h1.4m41.3 0h1.4m9.6 0h1.4m13 0h1.4m29.8 0h1.4M82.7 368.95h1.4m68.6 0h1.4m80.5 0h1.4m76.1 0h1.4m134.6 0h1.4m77.1 0h1.4M218.8 371.26h1.4m22.4 0h1.4m58.7 0h2.4m0.5 0h1.4m0.1 0h1.4m4.1 0h1.4m1.6 0h1.4m5.5 0h1.4m0.1 0h1.4m7.1 0h1.4m16.4 0h1.4m11 0h1.4m34.4 0h1.4m10 0h1.4m81.5 0h1.4m9.5 0h1.4m36.9 0h1.4M78.8 373.56h1.4m2 0h1.4m5.1 0h1.4m20.9 0h1.4m28.4 0h1.4m8 0h1.4m1.6 0h1.4m19 0h1.4m28.4 0h1.9m25.4 0h1.4m4 0h1.4m20 0h1.4m38.8 0h1.4m9 0h1.4m1.6 0h1.4m13.5 0h1.4m2.1 0h1.4m12.5 0h1.4m0.6 0h1.4m3.5 0h1.4m10.5 0h1.4m28.4 0h1.4m8.6 0h1.4m13 0h1.4m24.4 0h1.4m39.3 0h1.4m1.6 0h1.4m0.1 0h1.4m26.4 0h1.4m47.2 0h1.4M105.1 375.87h1.4m35.8 0h1.4m46.8 0h1.4m18.4 0h1.4m8.1 0h1.4m71 0h1.4m37.4 0h1.4m0.5 0h1.4m14.5 0h1.4m34.9 0h1.4m72.6 0h1.4M91.2 378.18h1.4m16.4 0h1.4m44.3 0h1.9m113.8 0h1.9m1.1 0h1.4m2 0h1.4m22.5 0h1.4m2.1 0h1.4m7.5 0h1.4m15.5 0h1.4m46.2 0h2.4m21.5 0h1.4m14.4 0h1.4m55.2 0h1.4m20 0h2.4m37.3 0h1.4M197.9 380.48h1.4m80 0h1.4m28.4 0h1.4m95.4 0h1.4m70.1 0h1.4m27.4 0h1.4m15.5 0h1.4m18.5 0h1.4M79.3 382.79h1.4m61.1 0h1.4m56.7 0h1.4m26.9 0h1.4m12.5 0h1.4m58.7 0h1.4m1.1 0h1.4m27.3 0h1.4m26.4 0h1.4m3.1 0h1.4m128.2 0h1.4m55.2 0h1.4"/>
<path d="M92.2 385.09h1.4m47.2 0h1.4m157.5 0h1.4m15 0h1.4m85.9 0h1.4M139.8 387.4h1.4m95.4 0h1.4m25.9 0h1.4m35.4 0h1.4m20.9 0h1.4m2.1 0h1.4m94.9 0h1.4m90 0h1.4m37.3 0h1.4m1.6 0h1.4M126.4 389.7h1.4m66.1 0h1.4m64.7 0h1.4m20.4 0h1.4m14.5 0h1.4m2.6 0h1.4m20.4 0h1.4m53.7 0h1.4m11.5 0h1.4m6.1 0h1.4m67.6 0h1.4m45.8 0h1.4m20.4 0h1.4m11.5 0h1.4M195.9 392h1.4m59.7 0h1.4m58.7 0h1.4m11.5 0h1.4m2.5 0h1.4m95.5 0h1.4m101.3 0h1.4m34.4 0h1.4M89.7 394.31h1.9m66.6 0h1.4m100.4 0h1.4m30.3 0h1.4m5.6 0h1.4m2.6 0h1.4m9 0h1.4m41.8 0h1.4m116.2 0h1.4m38.9 0h1.4M78.8 396.61h1.4m14.4 0h1.4m19.5 0h1.4m23.4 0h1.4m231 0h1.4m143.5 0h1.4M103.1 398.92h1.4m158.9 0h1.4m12 0h1.4m41.3 0h1.4m0.6 0h1.4m13 0h1.4m37.4 0h1.4m11.5 0h1.4m62.6 0h1.4m34.8 0h1.4m17 0h1.4M304.2 401.22h1.4m6.5 0h1.4m25.9 0h1.4m81 0h1.4"/>
<path d="M180.5 403.53h1.4m109.3 0h1.4m38.4 0h1.4m1.5 0h1.4m7.1 0h1.4m78 0h1.4m2.1 0h1.4M150.2 405.84h1.4m26.9 0h1.4m108.4 0h1.4m21.4 0h1.4m11.5 0h1.4m0.1 0h2.4m6.5 0h1.4m123.3 0h1.4m55.6 0h1.4M80.7 408.14h1.4m6.1 0h1.4m13 0h1.4m54.7 0h1.4m0.6 0h1.4m33.8 0h1.4m8.1 0h1.4m35.3 0h1.4m7 0h1.4m30.9 0h1.4m18.5 0h1.4m6 0h1.4m7.5 0h1.4m5.6 0h1.4m3.6 0h1.4m7.5 0h1.4m40.3 0h1.4m13.5 0h1.4m1.1 0h1.4m0.1 0h1.4m53.2 0h1.4m83.5 0h1.4M170.6 410.45h1.4m13 0h1.4m90.4 0h1.4m120.3 0h1.4M116.5 412.75h1.4m6.5 0h1.4m89.5 0h1.4m25.9 0h1.4m104.8 0h1.4m23.5 0h1.4m58.6 0h1.4m88.5 0h1.4m8 0h1.4M122.9 415.05h1.4m62.2 0h1.4m94.9 0h1.4m43.3 0h1.4m66.1 0h1.4m33.9 0h1.4M169.1 417.36h1.4m340.2 0h1.4M144.3 419.66h1.4m23.4 0h1.4m43.8 0h1.4m112.3 0h1.4m82 0h1.4m17.5 0h1.4"/>
<path d="M410.4 421.97h1.4M139.3 424.28h1.4m10 0h1.4m37.4 0h1.4m6 0h1.4m4.1 0h1.4m33.8 0h1.4m49.8 0h1.4m48.2 0h1.4m11.5 0h1.4m19.5 0h1.4m136.6 0h1.4m31.4 0h1.4m0.5 0h1.4m22 0h1.4M283.8 426.58h2.4m46.3 0h1.4m16.4 0h1.4m148.1 0h1.4m6 0h1.4M97.1 428.89h1.4m71.6 0h1.4m23.4 0h1.4m55.2 0h1.4m40.8 0h1.4m64.2 0h1.4m92.4 0h1.4m52.7 0h1.4m23.4 0h1.4M278.8 431.19h1.4m4.6 0h1.4m37.8 0h1.4m81 0h1.4m35.9 0h1.4m2 0h1.4M209.3 433.5h1.4m3.1 0h1.4M309.1 435.8h1.4m7.6 0h1.4m83 0h1.4m63.6 0h1.4M113.5 438.1h1.4m195.2 0h1.4m173.4 0h1.4"/>
<path d="M286.8 440.41h1.4M458.6 442.71h1.4m23.9 0h1.4M387.1 445.02h1.4M187 447.32h1.4m366 0h1.4M137.8 449.63h1.4m226.5 0h1.4M480.9 451.94h1.4M266.4 454.24h1.4m294 0h1.4M374.2 456.55h1.4"/>
<path d="M156.2 458.85h1.4m399.8 0h1.4M371.2 461.15h1.4M352.3 463.46h1.4m77.1 0h1.4M221.7 465.76h1.4M543.5 468.07h1.4m11.5 0h1.4M334.9 474.99h1.4M160.7 477.29h1.4m83 0h1.4m25.4 0h1.4M180.5 486.51h1.4m199.7 0h1.4"/>
<path d="M129.4 493.42h1.4M543 500.34h1.4M367.2 514.17h1.4M289.8 516.48h1.4M399 521.08h1.4M471 528h1.4"/>
<path d="M249 67.58h1.4m29.4 0h1.4m0.1 0h1.4m6.6 0h1.4m12 0h1.4m2 0h1.4m1.6 0h1.4m0.6 0h1.4m2.6 0h1.4m0.1 0h1.4m17.4 0h1.4m2.1 0h2.4m5.1 0h1.4m89.9 0h1.4m0.6 0h1.4m28.9 0h1.4m98.9 0h1.4M244.6 71.61h1.4m75.5 0h2.9m2.1 0h1.4m0.1 0h1.4m4.5 0h1.4m15 0h1.4m15 0h1.4m2.1 0h1.4m11 0h1.4m2.1 0h1.4m159.9 0h1.4M328.5 73.91h1.4m2.6 0h1.4m161.4 0h1.4M378.1 76.22h1.4M362.7 78.53h1.4M316.1 83.14h1.4M187 85.44h1.4m38.3 0h1.4m88.5 0h1.4m6 0h1.4m7.1 0h1.4m10.5 0h1.4m29.3 0h1.4M153.2 87.75h1.4m93.5 0h1.4m17.4 0h1.4m32.4 0h1.4m8 0h1.4m1.6 0h1.4m3.6 0h1.4m11 0h1.4m0.1 0h1.4m1.5 0h1.4m5.6 0h1.4m1.6 0h1.4m21.9 0h1.4m18 0h1.4m121.7 0h1.4"/>
<path d="M98.6 90.05h1.4m77.6 0h1.4m122.7 0h1.4m10 0h1.4m0.1 0h1.4m0.6 0h1.4m6 0h2.4m4.6 0h1.4m0.5 0h1.4m13.5 0h1.4m37.4 0h1.4m120.2 0h1.4m29.4 0h1.4M157.2 92.35h1.4m100.4 0h1.4m53.2 0h1.4m1.1 0h1.4m0.6 0h1.4m0.5 0h1.4m3.1 0h1.4m5.1 0h1.4m11.5 0h2.4m6 0h1.4m1.6 0h1.4m186.3 0h1.4M264.9 94.66h1.4m39.3 0h1.4m1.1 0h1.4m10 0h1.9m64.7 0h1.4m45.2 0h1.4m40.8 0h1.4m21 0h1.4m8.5 0h1.4M152.7 96.96h1.4m26.4 0h1.4m34.4 0h1.4m82 0h1.4m11.5 0h1.4m1.1 0h1.4m3 0h1.4m1.6 0h2.4m0.1 0h1.4m1.1 0h1.4m1.1 0h1.9m29.3 0h1.4m145.1 0h1.4M83.7 99.27h1.4m109.8 0h1.4m111.8 0h1.4m1.1 0h1.4m0.1 0h1.9m1.1 0h1.4m4 0h1.9m0.1 0h1.4m1.6 0h2.4m1.6 0h1.4m14 0h2.4m44.7 0h1.4m62.7 0h1.4m16.4 0h1.4M169.6 101.58h1.4m78 0h1.4m53.3 0h1.4m2 0h1.4m4.1 0h1.4m3.6 0h4.3m0.1 0h1.4m0.6 0h1.4m1.6 0h1.4m0.6 0h1.4m1.6 0h1.9m1.5 0h1.4m87 0h1.4m74.6 0h1.4m7.5 0h1.4m11 0h1.4M96.6 103.88h1.4m26.9 0h1.4m176.9 0h1.4m2 0h1.4m6.6 0h1.4m2.1 0h1.4m7 0h1.4m8.5 0h3.4m3.1 0h1.4m11 0h1.4m90.4 0h1.4m4.6 0h1.4m67.1 0h1.4m9.5 0h1.4M157.2 106.19h1.4m104.3 0h1.4m47.8 0h1.4m1.6 0h1.4m2.1 0h1.8m0.1 0h1.4m1.6 0h2.4m1.6 0h2.4m1.1 0h1.9m3 0h1.4m6.6 0h1.4m2 0h1.4m8.6 0h1.4m61.1 0h1.4m21 0h1.4m6 0h1.9m11 0h1.4"/>
<path d="M90.2 108.49h1.4m52.7 0h1.4m31.9 0h1.4m40.8 0h1.4m38.3 0h1.4m0.1 0h1.4m29.8 0h1.4m18 0h4.4m3 0h1.4m0.1 0h1.4m0.6 0h1.4m0.6 0h2.4m2.6 0h2.4m0.1 0h1.4m1 0h1.9m3.1 0h1.4m37.3 0h1.4m131.7 0h1.4M103.6 110.8h1.4m17.9 0h1.4m119.8 0h1.4m36.8 0h1.4m9.5 0h1.4m14 0h1.4m1.6 0h1.4m3.1 0h1.4m6.5 0h1.4m5.6 0h1.9m0.5 0h1.4m2.1 0h1.4m3.6 0h1.4m44.3 0h1.4m28.8 0h1.4m6.6 0h1.4m30.9 0h2.4m22.9 0h1.4m66.1 0h1.4m0.1 0h1.4M114.5 113.1h1.4m30.9 0h1.4m111.3 0h1.4m6.5 0h1.4m18 0h1.4m4 0h1.4m16.5 0h1.4m6.1 0h3.3m4.1 0h1.4m2.6 0h2.4m0.1 0h2.8m5.1 0h1.4m10 0h1.4m89.5 0h1.4m2.5 0h1.4m39.4 0h1.4M109.5 115.4h1.4m55.2 0h1.4m7.1 0h1.4m4.5 0h1.4m110.3 0h1.4m14.5 0h1.4m0.1 0h2.4m0.6 0h1.4m3.6 0h1.4m0.5 0h2.9m0.1 0h1.4m1.1 0h1.4m3.1 0h3.4m2 0h1.9m3.1 0h1.4m2.6 0h2.9m1.5 0h1.4m2.1 0h1.4m0.1 0h1.9m33.9 0h2.3m2.6 0h1.4m2.6 0h2.4m5 0h1.4m5.1 0h1.4m41.3 0h1.4m35.3 0h1.4m44.3 0h2.4m8 0h1.4m15 0h1.9M82.2 117.71h1.4m38.4 0h1.4m45.2 0h1.4m21.5 0h1.4m19.9 0h1.4m24.4 0h1.4m67.6 0h2.9m1.6 0h1.4m5.1 0h1.4m3 0h2.4m0.1 0h1.9m2.1 0h3.9m0.5 0h1.9m1.1 0h1.4m1.1 0h1.4m8 0h1.4m109.8 0h1.4M99.1 120.01h1.4m29.9 0h1.4m133.6 0h1.4m38.3 0h2.9m9.6 0h3.3m0.1 0h1.4m0.1 0h2.4m4.1 0h1.4m0.1 0h1.4m10.5 0h1.4m5 0h1.4m18 0h1.4m18.5 0h1.4m14.9 0h1.4m25.5 0h1.4m24.4 0h1.4m50.2 0h1.4m40.3 0h1.4m15.5 0h1.4M158.7 122.32h1.4m32.8 0h1.4m16.5 0h1.4m76.6 0h1.4m24.4 0h1.4m0.1 0h1.4m3.5 0h1.4m2.1 0h2.9m0.6 0h2.4m2.1 0h2.3m0.6 0h1.4m3.6 0h1.4m24.4 0h1.4m73.6 0h1.4m43.8 0h1.4m12.5 0h1.4M201.4 124.62h1.4m3.1 0h1.4m62.6 0h1.4m6.5 0h1.4m3.6 0h1.4m9 0h1.4m10.5 0h1.4m1.1 0h1.4m4.6 0h1.4m2.6 0h2.8m0.1 0h1.4m4.1 0h1.4m9 0h2.9m3.1 0h1.4m2.1 0h1.4m24.4 0h1.4m7.5 0h1.4m30.4 0h1.4m38.8 0h1.4m58.7 0h1.4m23.4 0h1.4m11.5 0h1.4"/>
<path d="M196.9 126.93h1.4m99.4 0h1.4m7.5 0h1.4m3.6 0h1.4m1.6 0h1.9m2.1 0h1.8m3.6 0h1.4m0.1 0h2.4m0.1 0h1.4m0.1 0h1.4m5 0h1.9m1.6 0h1.9m3.6 0h1.4m3.5 0h1.9m31.9 0h1.4m82 0h1.4m30.9 0h1.4m32.3 0h1.4m19 0h1.4M111 129.24h1.4m51.8 0h1.4m11.5 0h1.4m55.7 0h1.4m60.6 0h1.4m6.1 0h1.4m0.5 0h1.4m10.6 0h1.9m4.5 0h1.4m1.1 0h2.4m1.1 0h1.4m1.5 0h1.4m1.1 0h3.9m3.6 0h1.4m3.5 0h1.4m6.6 0h1.4m39.3 0h1.4m4.6 0h1.4m37.3 0h1.4m14.5 0h1.4m29.3 0h1.4m30.4 0h2.4M177.6 131.54h1.4m15.4 0h1.4m29.4 0h1.4m70.6 0h1.4m11 0h1.4m0.1 0h1.4m0.6 0h3.4m4 0h1.4m3.6 0h1.4m0.1 0h3.4m0.6 0h1.4m0.1 0h1.4m7.5 0h1.4m8.5 0h1.4m15.5 0h1.4m63.6 0h1.4m10.1 0h1.4m16.4 0h1.4m16 0h1.4m12 0h1.4m16.5 0h1.4M90.2 133.85h1.4m31.3 0h1.4m88 0h1.4m2.1 0h1.4m13.5 0h1.4m55.7 0h1.4m3.5 0h1.4m9.6 0h1.4m6 0h1.9m2.6 0h1.4m0.1 0h1.4m1.5 0h1.4m0.1 0h2.4m0.1 0h1.4m4.6 0h1.4m2 0h2.4m3.6 0h1.4m3.1 0h1.4m58.1 0h1.4m41.3 0h1.4m28.9 0h1.4m55.7 0h1.4m18 0h1.4M182.5 136.15h1.4m2.6 0h1.4m37.3 0h1.4m42.3 0h1.4m14.5 0h1.4m1.6 0h1.4m13 0h1.4m1.5 0h1.4m1.1 0h1.4m1.6 0h2.4m3.1 0h1.4m0.6 0h1.4m3.5 0h2.9m0.1 0h1.9m1.1 0h2.4m4 0h1.4m0.1 0h1.9m7.1 0h1.4m2.5 0h1.4m38.3 0h1.4m0.1 0h1.4m22 0h1.4m20.9 0h1.4m10 0h1.4m29.9 0h1.4m2.1 0h1.4m28.4 0h1.4M139.3 138.45h1.4m10.5 0h1.4m25 0h1.4m29.3 0h1.4m58.7 0h1.4m21.9 0h1.4m3.1 0h2.4m6.5 0h1.4m1.1 0h1.4m0.6 0h1.9m0.1 0h2.4m0.1 0h3.9m3 0h3.4m1.1 0h1.4m0.1 0h1.4m5.5 0h1.4m7.6 0h2.4m21.9 0h1.4m81.5 0h1.4m64.6 0h1.4m20 0h1.4M145.3 140.76h1.4m12 0h1.4m26.9 0h1.4m107.8 0h1.4m11 0h1.4m5.1 0h1.4m0.6 0h1.4m2.5 0h2.4m3.6 0h1.4m0.1 0h1.4m0.1 0h1.4m1.5 0h1.4m7.6 0h1.4m0.6 0h1.4m1.1 0h1.4m10.5 0h1.4m5.5 0h1.4m20 0h1.4m108.8 0h2.4m8.5 0h1.4m58.7 0h1.4M93.7 143.06h1.4m69.1 0h1.4m18.9 0h1.4m67.1 0h1.4m29.9 0h1.4m12 0h1.4m4.6 0h1.4m11.5 0h1.4m2.5 0h2.4m0.6 0h1.4m0.6 0h1.9m1.6 0h2.4m0.1 0h1.4m1 0h1.4m0.6 0h2.4m4.6 0h1.4m1.6 0h1.4m10 0h2.4m78 0h1.4m40.8 0h1.4m1.6 0h1.4m15 0h1.4m53.2 0h1.4"/>
<path d="M80.7 145.37h1.4m14.5 0h1.4m2.6 0h1.4m47.8 0h1.4m34.3 0h1.4m4.6 0h1.4m70.5 0h1.4m6.1 0h1.4m31.4 0h2.4m7 0h1.4m0.1 0h1.4m0.1 0h2.4m5 0h3.4m0.6 0h2.4m0.6 0h1.9m0.1 0h1.4m1.5 0h1.4m2.6 0h1.4m5.1 0h1.4m4 0h1.4m0.1 0h1.4m12 0h1.4m19 0h1.4m40.8 0h1.4m28.4 0h1.4m1.5 0h1.4m24 0h1.4m1.5 0h1.4m30.4 0h1.4m46.8 0h1.4M91.7 147.68h1.4m1.5 0h1.4m15 0h1.4m4.1 0h1.4m21.4 0h1.4m10 0h1.4m10.1 0h1.4m3 0h1.4m31.9 0h1.4m42.8 0h1.4m24.9 0h1.4m14 0h1.4m17.5 0h1.4m0.5 0h1.4m1.1 0h1.4m2.1 0h1.4m0.1 0h1.4m3.1 0h2.8m0.1 0h1.4m1.6 0h1.4m0.6 0h2.4m0.6 0h2.4m0.6 0h1.4m2 0h2.4m0.1 0h2.9m1.6 0h1.4m1.1 0h1.9m2.5 0h1.4m2.6 0h1.4m36.8 0h1.4m65.2 0h1.4m100.8 0h1.4M82.2 149.98h1.4m20 0h1.4m16 0h1.4m19.9 0h1.4m6.5 0h1.4m7.6 0h1.4m44.8 0h1.4m23.4 0h1.4m41.8 0h1.4m27.4 0h1.4m1.1 0h1.4m4 0h1.4m5.1 0h2.4m3.5 0h1.9m0.1 0h1.4m1.1 0h1.4m2.6 0h1.4m5 0h1.9m1.1 0h1.4m2.1 0h1.4m4.5 0h1.4m1.6 0h1.4m0.6 0h1.4m17 0h1.4m28.8 0h1.4m55.2 0h1.4m11.6 0h1.4m11 0h1.4m10 0h1.4m17.9 0h1.4m9.1 0h1.4M125.9 152.29h1.4m9 0h1.4m34.4 0h1.4m43.3 0h1.4m11 0h1.4m8.5 0h1.4m12.5 0h1.4m1.1 0h1.4m20.4 0h1.4m26.9 0h1.4m1.1 0h1.4m1.6 0h1.9m2.1 0h1.4m3 0h1.4m0.1 0h1.4m2.1 0h1.4m0.6 0h1.4m0.1 0h1.4m0.1 0h1.4m3 0h2.4m0.1 0h1.4m0.6 0h1.4m2.1 0h2.4m1.6 0h1.4m6.5 0h1.4m6 0h1.4m87.5 0h1.4m100.9 0h1.4M92.2 154.59h1.4m23.9 0h1.4m2.1 0h1.4m25.4 0h1.4m7 0h1.4m15 0h1.4m21.4 0h1.4m29.4 0h1.4m18 0h1.4m9.5 0h1.4m3.1 0h1.4m1.5 0h1.4m6.1 0h1.4m18.9 0h1.4m5.6 0h1.4m7 0h1.4m0.6 0h1.9m10.5 0h1.4m0.1 0h1.4m0.1 0h4.9m4 0h1.4m0.1 0h1.4m1.1 0h2.9m3.1 0h2.9m3 0h1.4m4.6 0h1.4m4.1 0h1.4m8.5 0h1.4m26.9 0h1.4m9.5 0h1.4m13.5 0h1.4m5.1 0h1.4m19.4 0h1.4m13 0h1.4m3.1 0h1.4m14 0h1.4m11.5 0h1.4m12.5 0h1.4m0.1 0h1.4m4 0h1.4m12.5 0h1.4m11 0h1.4M89.7 156.9h1.4m16.5 0h1.4m71.5 0h1.4m18.5 0h1.4m8.5 0h1.4m9.5 0h1.4m5.6 0h1.4m18 0h1.4m9.5 0h1.4m5 0h1.4m23 0h1.4m7 0h1.4m0.1 0h1.4m2.1 0h1.4m1.5 0h2.4m0.6 0h1.9m2.1 0h1.4m2.6 0h1.9m1 0h1.4m0.1 0h2.4m5.6 0h1.4m5 0h1.4m0.6 0h1.4m0.1 0h1.9m1.6 0h1.9m1.1 0h1.4m3.5 0h1.4m10.5 0h1.4m79.1 0h1.4m80 0h1.4m14.5 0h1.4M84.7 159.2h1.4m8.5 0h1.4m23 0h1.4m84.5 0h1.4m3.5 0h1.4m33.4 0h1.4m2.1 0h1.4m21.4 0h1.4m8 0h1.4m13 0h1.4m2.1 0h1.4m1.6 0h1.4m3 0h1.4m4.6 0h2.4m2.1 0h2.9m2.5 0h1.4m5.1 0h1.4m2.1 0h1.4m2 0h1.4m6.6 0h1.4m3.5 0h1.4m0.1 0h1.4m2.1 0h1.4m2.1 0h1.4m1.6 0h1.4m0.5 0h1.4m4.6 0h1.4m35.3 0h1.4m0.6 0h1.4m45.3 0h1.4m25.4 0h1.4m26.9 0h1.4m7.5 0h1.9m9.1 0h1.4m36.8 0h1.4m0.1 0h1.4M81.2 161.5h1.4m12.5 0h1.4m4.6 0h1.4m55.2 0h1.4m21.4 0h1.4m3.6 0h1.4m28.9 0h1.4m17 0h1.4m2 0h1.4m23 0h1.4m0.5 0h1.4m23 0h1.9m16.9 0h1.4m4.1 0h1.4m0.6 0h1.4m0.6 0h4.3m2.1 0h1.4m5.6 0h1.4m0.6 0h2.8m1.1 0h2.4m0.6 0h1.4m1.1 0h1.9m1.1 0h2.4m4.5 0h1.4m0.1 0h1.4m1.6 0h1.9m17 0h1.4m12 0h1.9m8 0h1.4m32.3 0h1.4m18.5 0h1.4m67.1 0h1.4m38.8 0h1.4m6.6 0h1.4"/>
<path d="M94.6 163.81h1.4m4.1 0h1.4m19.5 0h1.4m60.6 0h1.4m0.1 0h1.4m0.6 0h1.4m6.5 0h1.4m4.6 0h1.4m8 0h1.4m8.1 0h1.4m6 0h1.4m2.1 0h1.4m11 0h1.4m10 0h1.4m2.1 0h1.9m7 0h1.4m10 0h1.4m12 0h1.4m1.6 0h1.4m2.1 0h1.9m0.1 0h1.4m0.6 0h1.4m5.5 0h3.9m2.1 0h1.4m2.6 0h2.3m1.1 0h1.4m0.6 0h1.4m2.1 0h2.4m2.1 0h3.8m2.6 0h1.4m2.1 0h1.4m1.6 0h1.4m0.6 0h1.4m2 0h1.4m2.6 0h1.4m18.5 0h1.4m21.4 0h1.4m87 0h1.4m3.5 0h1.4m22.5 0h1.4m26.4 0h1.4M90.2 166.11h1.4m0.6 0h1.9m9 0h1.4m3.5 0h1.4m11.1 0h1.4m1 0h1.4m32.4 0h1.4m0.6 0h1.4m24.4 0h1.4m13 0h1.4m14.5 0h1.4m38.3 0h1.4m3.6 0h1.4m18.9 0h1.4m13.5 0h1.4m0.6 0h1.4m6.1 0h1.4m2 0h1.4m2.1 0h1.4m2.6 0h1.9m0.6 0h1.4m1 0h1.9m1.6 0h2.9m3.1 0h3.4m0.5 0h1.4m3.1 0h1.4m5.6 0h2.4m27.8 0h1.4m3.6 0h1.4m37.3 0h1.4m6.1 0h1.4m9.5 0h1.4m4.6 0h1.4m0.6 0h1.4m14.9 0h1.4m33.9 0h1.4m0.6 0h1.4m15 0h1.4m54.2 0h1.4M78.8 168.42h1.4m15.4 0h1.4m35.9 0h2.4m19.4 0h1.9m4.6 0h1.4m2.5 0h2.4m0.6 0h1.4m0.1 0h1.4m14 0h1.4m8.5 0h1.4m17 0h1.4m20.4 0h1.4m7.6 0h1.4m3.1 0h1.4m12 0h1.4m2 0h1.4m17.5 0h1.4m1.1 0h1.9m1.1 0h1.4m1.5 0h1.4m3.6 0h1.4m1.6 0h1.4m6.5 0h1.4m1.1 0h4.4m2.1 0h2.8m0.6 0h1.4m0.1 0h5.9m0.6 0h8.3m2.6 0h2.4m2.6 0h1.4m0.6 0h2.3m2.1 0h2.4m9.5 0h2.4m5.1 0h1.4m11 0h1.4m3.1 0h2.4m9.5 0h1.4m13 0h2.9m2.5 0h1.4m16 0h1.4m11 0h2.4m6.1 0h1.4m16.9 0h1.4m11 0h1.4m21 0h1.4m9 0h1.4m0.6 0h1.4m11 0h1.9m24.9 0h1.4m2.1 0h1.4M137.8 170.73h1.4m17 0h1.4m1.1 0h1.4m14.5 0h1.4m7 0h1.4m5.6 0h2.4m4 0h1.4m14.5 0h1.4m22.9 0h1.4m2.6 0h1.4m11.5 0h1.4m9.5 0h1.4m31.9 0h1.4m1.6 0h1.4m0.6 0h1.4m1.5 0h1.4m0.1 0h1.4m2.6 0h1.4m4.6 0h1.4m0.1 0h1.4m2 0h1.4m0.6 0h4.4m2.1 0h2.4m1 0h1.4m0.1 0h1.9m0.1 0h1.4m1.6 0h1.4m3.1 0h2.4m11.5 0h1.4m3 0h1.4m3.6 0h1.4m13.5 0h1.4m12.5 0h1.4m8.5 0h1.4m6.1 0h1.4m23.4 0h1.4m29.9 0h1.4m11 0h1.4m6.5 0h1.4m18.5 0h1.4m0.6 0h1.4m0.6 0h1.4m15.4 0h1.4m10.1 0h1.4m4 0h1.4m1.1 0h1.4m19.5 0h1.4M120 173.03h1.4m1.5 0h1.4m5.1 0h1.4m14.5 0h1.4m26.4 0h1.4m2.6 0h1.4m12 0h1.4m27.9 0h1.4m13 0h1.4m9 0h1.4m14 0h1.4m6 0h1.4m9.5 0h1.4m18.5 0h1.4m1.1 0h1.4m8.5 0h2.4m2.6 0h3.4m4 0h1.4m0.1 0h2.9m2.1 0h2.4m1 0h1.9m0.1 0h1.9m7.6 0h1.4m1.1 0h2.3m12 0h1.4m38.4 0h1.4m21.9 0h1.4m2.1 0h1.4m25.9 0h1.4m74.5 0h1.4m5.6 0h1.4M94.1 175.34h1.4m24.5 0h1.4m3 0h1.4m95.4 0h1.4m18.5 0h1.4m2.1 0h1.4m31.3 0h1.4m25.5 0h1.4m1 0h1.4m0.6 0h1.4m0.6 0h5.4m2.1 0h2.3m0.6 0h1.4m1.1 0h1.4m3.6 0h1.4m24.4 0h1.4m34.3 0h1.4m14.5 0h1.4m0.6 0h1.4m34.9 0h1.4m1 0h1.4m11.5 0h1.4m67.2 0h1.4m17.4 0h1.4m1.6 0h1.4m15 0h1.4M99.1 177.64h1.4m14.5 0h1.4m70.6 0h1.4m114.8 0h1.4m4 0h1.4m3.1 0h2.4m3.5 0h1.4m2.1 0h1.4m0.6 0h1.4m0.1 0h1.4m2.6 0h1.4m9.5 0h1.4m0.1 0h1.4m1.6 0h1.4m1.5 0h1.4m5.1 0h1.4m7.5 0h1.4m29.9 0h1.4m20.9 0h1.4m105.4 0h1.4m32.4 0h1.4M86.2 179.95h1.4m23.9 0h1.4m15 0h1.4m6.1 0h1.4m5.5 0h2.4m11 0h1.4m9.5 0h1.4m0.1 0h1.4m2.1 0h1.9m6 0h1.4m18.5 0h1.4m22.9 0h1.4m6.1 0h1.4m11 0h1.4m10.5 0h1.4m4.1 0h1.4m15.4 0h1.4m15 0h1.4m0.1 0h1.9m0.1 0h1.4m13 0h2.4m0.1 0h1.4m4.5 0h1.9m3.1 0h2.9m0.1 0h1.4m2.1 0h1.9m0.5 0h1.4m2.6 0h1.4m0.1 0h1.4m0.1 0h1.4m3.1 0h1.4m17.9 0h1.4m19.5 0h1.4m4.5 0h1.4m24.9 0h1.4m8.1 0h1.4m7.5 0h1.4m8 0h1.4m30.4 0h1.4m42.8 0h1.4m25.4 0h1.4"/>
<path d="M106.1 182.25h2.4m2 0h1.4m14.5 0h1.4m9.5 0h1.4m9.6 0h1.4m21.9 0h1.4m8 0h1.4m84 0h1.4m2.6 0h1.4m22.9 0h1.4m1.1 0h1.4m2.1 0h1.4m4.5 0h1.9m8.6 0h1.4m0.1 0h1.8m2.1 0h1.9m1.1 0h1.4m2.6 0h1.4m1.1 0h2.3m1.1 0h1.4m0.6 0h1.4m1.1 0h1.4m0.6 0h1.4m0.6 0h1.4m15.5 0h1.4m2 0h1.4m24.4 0h1.4m12 0h1.4m5.1 0h1.4m12.5 0h1.4m20.4 0h1.4m38.4 0h1.4m3 0h1.4m61.2 0h1.4m6 0h1.4M86.2 184.55h1.4m1.6 0h1.4m1.6 0h1.4m47.7 0h1.4m2.1 0h1.4m12 0h1.4m16 0h1.4m20.9 0h1.4m4.1 0h1.4m33.8 0h1.4m3.1 0h1.4m1.1 0h1.4m24.9 0h1.9m7 0h1.4m9 0h1.4m0.6 0h1.4m2.6 0h1.4m1.1 0h1.4m1.6 0h1.4m1 0h1.4m0.1 0h1.4m2.6 0h1.4m2.6 0h1.4m0.1 0h1.4m4.5 0h1.4m4.1 0h1.4m2.1 0h2.9m0.5 0h1.4m1.6 0h1.4m10 0h1.4m1.1 0h1.9m13 0h1.4m27.4 0h1.4m4.6 0h1.4m19.4 0h1.4m1.1 0h1.4m18.5 0h1.4m23.4 0h1.4m10.5 0h1.4m13.5 0h1.4m23.9 0h1.4m48.3 0h1.4M86.2 186.86h2.4m15.5 0h1.4m24.4 0h1.4m15.5 0h1.4m5.5 0h1.4m39.8 0h1.4m11 0h1.4m31.9 0h1.4m8 0h1.9m17 0h1.4m0.1 0h2.4m11 0h1.4m13 0h2.4m4.1 0h1.4m0.5 0h1.4m2.1 0h1.4m2.6 0h1.4m2.6 0h1.4m1.5 0h1.4m0.1 0h1.4m2.1 0h1.4m1.1 0h1.4m3.5 0h1.4m3.1 0h1.4m6.1 0h1.4m1.5 0h2.4m1.6 0h1.4m1.6 0h2.4m20.9 0h1.4m1.1 0h1.4m11 0h1.4m54.7 0h1.4m1.1 0h1.4m12.5 0h1.4m12 0h1.4m3.1 0h1.4m10 0h1.4m20.9 0h1.4m16 0h1.4m13 0h1.4m1.1 0h1.4M96.6 189.16h1.4m28.9 0h1.4m50.2 0h1.4m11.6 0h1.4m32.8 0h1.4m2.6 0h1.4m34.8 0h1.4m3.1 0h1.4m3.6 0h1.4m18.4 0h1.4m1.1 0h1.4m2.1 0h1.4m0.6 0h1.9m1 0h1.4m0.1 0h1.4m6.1 0h3.9m1 0h1.4m2.1 0h1.9m6.1 0h1.4m9 0h1.4m3.1 0h2.3m4.1 0h1.4m2.1 0h1.4m0.1 0h1.9m1.5 0h1.4m18.5 0h1.4m1.6 0h1.4m6.5 0h1.4m6.6 0h1.4m8 0h1.4m11.5 0h1.4m3.6 0h1.4m20.9 0h1.4m5.1 0h1.4m15.5 0h1.4m10 0h1.4m15.5 0h1.4m22.9 0h1.4m19.9 0h1.4m18.5 0h1.4M86.7 191.47h1.4m9.5 0h1.4m4.1 0h1.4m0.1 0h1.4m1.1 0h1.4m1 0h1.4m17 0h1.4m26.9 0h1.4m17 0h1.4m12.5 0h1.4m0.1 0h1.4m20.4 0h1.4m4.1 0h1.4m5.5 0h1.4m39.3 0h1.4m7.6 0h1.4m18.9 0h1.4m4.6 0h1.4m7.5 0h1.9m0.6 0h1.4m11 0h1.9m0.6 0h1.9m1.1 0h1.9m1.1 0h1.4m0.5 0h1.4m1.6 0h1.4m0.1 0h1.9m3.1 0h1.4m1.6 0h1.4m14.4 0h1.4m31.4 0h1.4m9.5 0h2.4m9.5 0h1.4m2.1 0h1.4m31.4 0h1.4m20.9 0h1.4m8.1 0h1.4m14.4 0h1.4M124.4 193.78h1.4m37.4 0h1.4m47.2 0h1.4m4.1 0h1.4m31.8 0h1.4m45.3 0h1.4m2.1 0h1.4m3 0h1.4m10.6 0h2.4m0.5 0h1.9m1.1 0h1.4m7.1 0h1.4m1 0h1.4m2.1 0h1.4m5.6 0h1.4m0.1 0h1.4m1.5 0h2.4m35.9 0h1.4m5.5 0h1.4m18 0h1.4m7 0h1.4m21.5 0h1.4m9 0h1.4m6.5 0h1.4m24.9 0h1.4m0.6 0h1.4m14 0h1.4m6.1 0h1.4m7 0h1.4m6.5 0h1.4m8.1 0h1.9m2.5 0h1.4M81.7 196.08h1.4m9.6 0h1.4m0.5 0h1.4m2.6 0h1.4m17.5 0h1.4m0.1 0h1.4m17.4 0h1.4m3.6 0h1.4m12 0h1.4m1.1 0h1.4m5.5 0h1.4m0.6 0h1.4m12 0h2.4m13 0h1.4m9.5 0h1.4m6.6 0h1.4m11 0h1.4m14.5 0h1.4m1.6 0h1.4m6 0h1.4m14 0h1.4m6 0h1.4m8.1 0h1.4m3.1 0h2.3m2.6 0h1.4m0.6 0h4.9m2.5 0h3.4m0.1 0h1.4m3.6 0h1.4m0.1 0h2.4m0.1 0h1.4m0.5 0h1.4m0.1 0h1.4m0.1 0h1.4m2.6 0h4.4m0.6 0h4.8m4.1 0h1.9m1.1 0h1.4m1.1 0h2.8m0.6 0h2.4m0.1 0h1.4m0.6 0h1.4m3.1 0h1.4m2 0h1.4m4.1 0h1.4m0.6 0h2.4m11.5 0h1.4m1.6 0h1.4m2 0h1.4m2.1 0h1.4m5.1 0h1.4m18.9 0h1.4m23 0h1.4m18.9 0h1.4m0.6 0h1.4m1.1 0h1.4m4.5 0h1.4m3.1 0h1.9m34.8 0h2.4m8.1 0h1.4m0.6 0h1.4m1.5 0h1.4m1.1 0h3.4m10.5 0h1.4m3.6 0h1.4m3.1 0h1.4m3.5 0h1.4m0.6 0h1.4m4.1 0h1.4M80.2 198.39h1.4m9.1 0h1.4m1.1 0h1.4m1 0h1.4m4.6 0h1.4m12 0h1.4m1.6 0h1.4m10.5 0h1.4m15.5 0h1.4m2.5 0h2.4m2.1 0h1.4m3.1 0h1.4m1.1 0h1.9m1 0h1.4m4.6 0h1.4m11.5 0h1.4m0.1 0h1.4m2.1 0h1.4m3.5 0h1.4m0.1 0h1.4m0.6 0h1.4m17 0h1.4m7.5 0h1.4m0.6 0h1.4m1.1 0h2.4m10 0h1.4m1.6 0h1.4m1.1 0h1.4m0.1 0h1.4m3.5 0h1.4m11.5 0h1.4m5.6 0h1.4m0.6 0h1.4m5 0h1.4m3.6 0h1.4m0.6 0h1.4m2 0h2.4m4.6 0h1.4m1.1 0h1.4m0.6 0h1.9m1.5 0h2.4m2.1 0h4.4m0.1 0h1.9m2 0h1.9m0.6 0h2.4m1.6 0h1.9m0.6 0h2.9m2 0h2.9m4.1 0h1.4m0.1 0h1.4m0.1 0h1.4m1.1 0h2.8m2.6 0h1.9m5.6 0h1.4m0.5 0h1.4m0.6 0h3.4m9.5 0h2.4m0.6 0h1.4m8.1 0h1.4m1.5 0h1.4m5.6 0h1.4m2.1 0h1.4m13 0h1.4m2 0h1.4m14.5 0h1.9m7.6 0h1.4m2.5 0h1.4m2.6 0h1.4m1.1 0h1.4m8.5 0h1.4m7.5 0h1.4m14.5 0h1.4m5.6 0h1.9m5 0h1.4m1.6 0h2.4m9.5 0h1.4m0.1 0h1.4m9 0h1.4m2.1 0h1.4m2.1 0h1.4m4.1 0h1.4m7 0h1.4m0.6 0h1.4m10.5 0h1.4m1.6 0h1.4"/>
<path d="M92.2 200.69h2.4m45.2 0h1.4m10.5 0h1.4m15 0h1.4m11.5 0h1.4m2.1 0h1.4m7 0h1.4m36.4 0h1.4m0.6 0h1.4m5 0h1.4m11.5 0h1.4m12.5 0h1.4m0.6 0h1.9m1.1 0h1.4m6 0h1.4m3.1 0h1.4m8 0h1.4m1.6 0h1.4m0.6 0h1.4m10 0h1.4m0.1 0h1.9m2.1 0h1.4m1.1 0h1.4m1 0h2.4m0.1 0h1.4m0.1 0h1.4m3.6 0h1.4m1.6 0h1.4m2 0h1.4m2.6 0h1.4m0.6 0h1.4m1.1 0h1.4m5.5 0h1.4m5.6 0h2.4m0.1 0h1.9m8.5 0h1.4m3.1 0h1.4m19.9 0h1.4m12.5 0h1.4m17 0h1.4m70.6 0h1.4m24.4 0h1.4m19.4 0h1.4m19.5 0h1.4M82.2 203h1.4m0.1 0h1.4m24.4 0h1.4m6.1 0h1.4m8 0h1.4m1.1 0h1.4m4.1 0h1.4m18.9 0h1.4m14 0h1.4m12 0h1.4m1.1 0h1.4m0.1 0h1.9m2.6 0h1.8m5.1 0h1.4m0.6 0h1.4m1.6 0h1.9m26.4 0h1.4m10.5 0h1.9m8.5 0h1.4m4.1 0h1.4m9 0h1.9m13.5 0h1.4m3.1 0h1.4m1 0h1.9m4.1 0h1.4m0.6 0h3.9m0.5 0h2.4m0.6 0h3.4m1.1 0h1.4m2.6 0h1.4m0.1 0h1.4m0.5 0h2.4m0.6 0h3.9m1.1 0h3.9m0.6 0h4.3m0.1 0h2.9m0.6 0h1.4m0.1 0h1.4m0.1 0h2.4m0.1 0h1.4m1.5 0h1.4m3.1 0h2.4m5.1 0h1.4m0.5 0h1.4m3.1 0h1.4m2.6 0h1.4m8.5 0h1.4m4.6 0h1.4m8 0h1.4m15.5 0h1.4m21.4 0h1.4m0.6 0h1.4m1.6 0h1.4m11 0h1.4m0.6 0h1.4m2.1 0h1.4m5 0h1.4m11 0h1.4m2.6 0h2.4m17 0h1.4m27.8 0h1.4m0.6 0h1.4m4.1 0h1.4m2.1 0h1.4m6.5 0h2.4m18 0h1.4M109 205.3h1.4m24 0h1.4m10 0h1.4m4 0h1.4m18.5 0h1.4m10 0h1.4m5.6 0h1.4m6 0h1.4m19 0h1.4m0.1 0h1.4m18.4 0h1.4m38.8 0h1.4m16.5 0h1.4m9.5 0h1.4m0.1 0h1.4m3.6 0h3.9m3 0h1.4m2.6 0h1.4m0.6 0h1.4m0.1 0h1.9m2.1 0h1.4m1.5 0h1.4m2.6 0h1.4m2.6 0h1.4m8 0h1.4m11 0h1.4m17.5 0h1.4m7.5 0h1.4m36.4 0h1.4m22.4 0h1.4m10 0h1.4m5.1 0h1.4m15.4 0h1.4m12 0h1.4m45.3 0h1.4m20 0h1.4M92.2 207.6h1.4m4.5 0h1.4m1.6 0h1.4m17 0h1.4m11 0h2.4m10.5 0h1.4m26.4 0h1.4m0.1 0h1.4m8.5 0h1.4m16 0h1.4m11 0h1.4m19.9 0h1.4m21.5 0h1.4m1.6 0h1.4m18.4 0h1.4m1.6 0h1.4m6 0h1.4m6.6 0h1.4m0.1 0h1.4m2.6 0h2.8m2.1 0h1.4m1.1 0h3.4m2.1 0h1.4m2.5 0h2.4m3.6 0h1.9m3.1 0h1.4m0.5 0h1.4m0.1 0h1.4m5.1 0h1.4m0.1 0h2.9m2 0h1.4m24 0h1.4m7.5 0h1.4m26.4 0h1.4m5 0h1.4m46.3 0h1.4m3.1 0h1.4m5 0h1.4m56.2 0h1.4M107.6 209.91h1.4m15.9 0h1.4m24.9 0h1.4m41.8 0h1.4m15.5 0h1.4m10 0h1.4m7.1 0h1.4m1.1 0h1.4m23.4 0h1.4m3.5 0h2.4m7.1 0h1.4m0.1 0h1.4m6 0h1.4m10 0h1.4m7.1 0h1.4m1.6 0h1.4m7.5 0h1.4m0.6 0h1.4m3.5 0h1.4m0.1 0h1.9m0.1 0h1.4m1.1 0h1.4m14.5 0h1.4m0.6 0h1.4m5.5 0h1.4m17.5 0h1.4m17.9 0h1.4m9.1 0h1.4m25.9 0h1.4m16.9 0h1.4m9.6 0h2.4m6 0h1.4m17.5 0h1.4m7 0h1.4m0.1 0h1.4m1.1 0h1.4m15 0h1.4m2.5 0h1.9m7.1 0h1.4m18.9 0h1.4m0.1 0h1.4m15.5 0h1.4m1.1 0h1.4M101.6 212.21h1.4m1.1 0h2.4m3 0h1.4m10.1 0h1.4m46.2 0h1.4m1.6 0h1.4m30.9 0h1.4m3.5 0h1.4m4.6 0h1.4m9 0h1.9m15.5 0h1.4m4.6 0h1.4m3.5 0h1.4m6.6 0h1.4m8.5 0h2.4m8.5 0h1.4m16.5 0h1.4m1.1 0h1.4m8 0h1.4m2.1 0h2.4m6 0h1.4m1.1 0h1.4m0.1 0h1.4m0.1 0h2.4m0.6 0h1.4m0.5 0h3.4m5.6 0h1.4m4 0h1.4m11 0h1.4m2.6 0h1.4m22.5 0h1.4m4 0h1.4m5.6 0h1.4m16.9 0h1.4m25.4 0h1.4m30.9 0h1.4m2.1 0h1.4m8.5 0h1.4m1.6 0h1.4m21.9 0h1.4m42.8 0h1.4M91.7 214.52h1.4m6.5 0h1.4m2.6 0h1.4m8.5 0h1.4m4.6 0h1.4m2 0h1.9m46.3 0h1.4m20.9 0h1.4m47.8 0h1.4m1.1 0h1.4m10.5 0h1.4m18 0h1.4m1.5 0h1.4m3.6 0h1.4m0.1 0h1.4m10.5 0h1.9m0.1 0h1.4m0.6 0h1.4m0.6 0h1.4m1 0h1.9m1.1 0h1.4m0.6 0h2.4m2.1 0h3.4m0.5 0h1.9m1.1 0h1.9m1.6 0h4.4m0.1 0h2.4m0.5 0h2.4m0.1 0h2.4m0.1 0h2.9m4.1 0h2.9m25.9 0h1.4m4 0h1.4m2.6 0h1.4m1.1 0h1.4m0.6 0h1.4m5.5 0h1.4m4.1 0h1.9m24.9 0h1.4m38.3 0h1.4m0.6 0h1.4m5.5 0h1.4m2.6 0h1.4m4.1 0h1.4m29.8 0h1.9m2.6 0h1.4m4.1 0h1.4m1.6 0h1.4m11.5 0h1.4m1 0h1.4m23.5 0h1.4M94.6 216.82h1.4m3.1 0h1.4m8 0h1.4m16 0h1.4m9 0h1.4m36.4 0h1.4m11.5 0h1.4m3.1 0h1.4m55.2 0h1.4m41.3 0h1.4m10.5 0h1.4m3 0h1.4m6.6 0h1.4m2.5 0h1.9m3.1 0h1.4m5.1 0h1.4m3 0h1.9m1.1 0h1.4m11.5 0h1.4m1.1 0h1.4m15.5 0h1.4m32.3 0h1.4m31.4 0h1.4m16.5 0h1.4m4 0h1.4m0.1 0h1.4m17 0h1.4m43.8 0h1.4m11 0h1.4m7.5 0h1.4"/>
<path d="M79.3 219.13h1.4m0.5 0h1.4m30.9 0h1.4m35.8 0h2.4m3.1 0h1.4m11.5 0h1.4m23.9 0h1.4m8.6 0h1.4m0.1 0h1.4m13 0h1.4m19.4 0h1.4m2.1 0h1.4m12.5 0h1.4m16 0h1.4m5.5 0h1.4m1.1 0h1.4m7 0h1.9m2.1 0h1.4m9 0h1.4m2.1 0h3.9m3.5 0h1.4m3.6 0h1.4m0.1 0h1.4m0.1 0h2.4m1.6 0h2.4m1.5 0h1.4m3.6 0h1.4m1.6 0h1.9m2.1 0h1.4m2.5 0h2.4m4.1 0h1.4m5.5 0h1.4m18 0h1.4m46.3 0h1.4m5.5 0h1.4m5.1 0h1.9m23.9 0h1.4m20.4 0h1.4m43.8 0h1.4m22.9 0h1.4M88.2 221.44h1.4m0.6 0h1.4m23.9 0h1.4m12 0h1.4m6.5 0h3.9m30.4 0h1.4m7.5 0h1.4m20 0h1.4m3.6 0h1.4m34.3 0h1.4m5.5 0h1.4m2.6 0h1.4m7.6 0h1.4m16.4 0h2.4m17 0h1.4m7.5 0h1.4m4.1 0h1.9m10 0h1.4m2.1 0h1.4m3 0h1.4m2.1 0h1.4m3.1 0h1.4m4.5 0h1.4m1.6 0h1.4m9.1 0h1.4m4 0h1.4m3.6 0h1.4m7.5 0h1.4m3.6 0h1.4m12 0h1.4m16 0h1.4m17.4 0h1.4m28.4 0h1.4m6.1 0h1.4m27.9 0h1.4m22.9 0h1.4m19.9 0h1.4M79.3 223.74h3.8m2.1 0h1.4m6.1 0h2.4m14.4 0h1.4m2.1 0h1.4m6.6 0h1.9m7 0h1.4m1.1 0h1.4m15.5 0h1.4m7 0h1.4m9.5 0h1.4m9.5 0h1.4m8.6 0h1.4m8.5 0h1.4m26.9 0h1.4m24.4 0h1.4m7.6 0h1.4m6.5 0h2.9m3.5 0h1.4m0.6 0h1.4m2.1 0h1.4m3.1 0h1.4m4.5 0h1.4m4.1 0h1.4m0.1 0h1.4m2.1 0h1.4m6.5 0h1.4m0.6 0h1.9m1.1 0h1.4m1.5 0h1.9m0.1 0h2.4m0.6 0h1.4m1.1 0h2.4m2.1 0h1.4m11.5 0h2.4m1 0h2.9m2.1 0h1.4m0.6 0h1.4m2.6 0h2.4m1 0h1.4m19 0h1.4m0.1 0h1.4m5 0h1.9m0.6 0h1.4m4.1 0h1.4m11.5 0h1.4m10 0h1.4m0.6 0h1.4m4.1 0h1.4m9.5 0h2.9m1.6 0h1.4m5 0h1.4m3.6 0h1.4m5 0h1.4m5.6 0h1.4m5.5 0h1.4m5.1 0h1.4m3 0h1.4m2.1 0h1.4m2.6 0h1.4m12.5 0h1.4m0.6 0h1.4m3.1 0h1.4m2 0h1.4m3.1 0h1.4m25.4 0h1.4m2.6 0h1.4m1.6 0h1.4m1 0h1.9m0.6 0h1.4m2.6 0h1.4m0.1 0h1.4M94.1 226.05h1.4m6.1 0h1.4m0.1 0h1.4m17.9 0h1.4m7.6 0h1.4m11.5 0h1.4m0.6 0h1.4m26.9 0h1.4m7 0h1.4m6.6 0h1.4m8 0h1.9m33.8 0h1.4m10.6 0h1.4m4 0h1.4m11.5 0h1.9m15.5 0h1.4m3.6 0h1.4m3 0h1.4m6.1 0h1.4m2.6 0h1.4m2 0h2.4m0.6 0h1.4m2.1 0h2.4m0.6 0h1.9m1 0h1.9m0.6 0h1.4m3.1 0h1.4m1.6 0h4.8m0.6 0h1.4m1.6 0h2.4m3.6 0h1.4m0.6 0h1.4m1 0h2.9m5.1 0h1.4m3.5 0h1.4m17 0h1.4m14.5 0h1.4m6 0h1.4m3.1 0h1.4m1.6 0h1.4m14 0h1.4m11 0h1.4m5 0h1.4m2.6 0h2.4m15.5 0h1.4m21.4 0h1.4m26.9 0h1.4m23.5 0h1.4m14.4 0h1.4m5.1 0h1.4M105.1 228.35h1.4m34.3 0h1.4m14.5 0h1.4m4.6 0h1.4m9.5 0h1.4m4.5 0h1.4m7.1 0h1.4m5 0h1.4m30.4 0h1.4m7 0h1.4m13 0h1.4m1.1 0h1.4m16.5 0h1.4m1.6 0h1.4m9 0h1.4m16 0h1.4m4 0h2.4m1.6 0h1.4m0.1 0h2.9m2.1 0h2.4m0.1 0h2.3m1.1 0h1.4m1.1 0h1.4m0.1 0h1.4m0.6 0h1.9m1.1 0h1.4m0.5 0h2.9m0.1 0h1.9m2.1 0h1.4m12 0h1.4m10 0h1.4m2.1 0h1.4m37.8 0h1.4m17.5 0h1.4m0.1 0h1.9m27.4 0h1.4m18.9 0h1.4m7.6 0h1.4m2 0h1.4m12 0h1.4m11.5 0h1.4m9.1 0h1.4m9.5 0h2.4m12.5 0h1.4M95.6 230.65h1.4m17.5 0h1.4m21.4 0h1.4m22 0h1.4m95.9 0h1.4m24.9 0h1.4m0.1 0h1.4m4 0h1.4m9.6 0h1.4m6.5 0h1.4m6.6 0h1.4m5.5 0h1.9m0.6 0h1.4m0.1 0h1.4m1.1 0h1.4m1 0h1.4m2.6 0h1.4m1.6 0h2.4m0.6 0h1.4m11.5 0h1.4m8 0h1.4m17.5 0h1.4m11 0h1.4m6 0h1.4m45.3 0h1.4m1.1 0h2.4m27.4 0h1.4m49.7 0h1.4m33.4 0h1.4M93.2 232.96h1.4m26.4 0h1.4m96.9 0h1.4m13 0h1.4m51.7 0h1.4m10 0h2.4m6.5 0h1.4m1.1 0h1.4m0.6 0h1.4m3.1 0h1.4m0.1 0h1.4m3.5 0h1.4m3.6 0h1.4m6 0h1.4m2.6 0h1.4m0.6 0h1.4m3.1 0h2.4m4 0h1.4m0.1 0h1.4m29.4 0h1.4m23.4 0h1.4m11 0h1.4m61.7 0h2.4m3.5 0h1.4m19.5 0h1.4m1.1 0h1.4m5 0h1.4m6.6 0h1.4m9.5 0h1.4M92.2 235.26h1.4m61.1 0h1.4m59.7 0h1.4m7 0h1.4m28.9 0h1.4m44.8 0h1.4m9.5 0h1.4m3.1 0h1.9m9 0h2.9m19.4 0h1.4m3.6 0h1.4m0.6 0h1.4m16.5 0h1.4m8 0h1.4m3.1 0h1.4m43.7 0h2.4m5.6 0h1.4m8 0h1.4m38.8 0h1.4m35.9 0h1.4m17.4 0h1.4m18.5 0h1.4"/>
<path d="M93.7 237.57h1.4m10.5 0h1.4m21.9 0h1.4m6 0h1.4m41.8 0h1.4m6.6 0h1.4m12 0h1.4m13 0h1.4m4.5 0h1.4m4.6 0h1.4m45.3 0h1.4m6 0h1.4m8.1 0h1.4m2.5 0h1.4m4.1 0h1.9m0.1 0h1.4m0.1 0h2.4m0.5 0h2.4m1.1 0h1.4m1.1 0h3.4m4 0h3.4m3.6 0h1.4m0.1 0h1.4m0.1 0h1.9m0.6 0h1.4m8.5 0h1.4m0.1 0h1.4m10 0h1.4m68.1 0h1.4m27.9 0h1.4m6.5 0h1.4m3.6 0h1.4m21.4 0h1.9m31.9 0h1.4m15.5 0h1.4M132.9 239.88h1.9m78.5 0h1.4m11 0h1.4m7.5 0h1.4m26.9 0h1.4m7.1 0h1.4m4 0h1.4m11.1 0h1.4m9.5 0h1.4m0.1 0h1.4m0.1 0h2.4m2 0h1.4m7.6 0h1.4m3 0h3.4m2.1 0h1.9m2.1 0h1.4m0.6 0h1.4m1 0h1.4m3.1 0h1.4m2.1 0h1.4m5.5 0h1.9m0.1 0h1.4m5.6 0h2.4m1 0h2.4m2.6 0h1.4m3.1 0h1.4m2 0h1.4m10.6 0h1.4m60.1 0h1.4m14.5 0h1.4m4.6 0h1.4m11.5 0h1.4m4.5 0h1.4m4.1 0h1.4m3.1 0h1.4m35.3 0h1.4m0.1 0h1.4m5.5 0h1.4M98.6 242.18h1.4m5.1 0h1.4m44.2 0h1.4m12.5 0h1.4m41.8 0h1.4m2.1 0h1.4m16 0h1.4m3.1 0h1.4m3 0h1.4m5.1 0h2.4m3 0h1.4m2.6 0h1.4m4.6 0h1.4m3.5 0h1.4m10.6 0h1.4m20.9 0h1.4m10 0h1.4m0.6 0h2.4m1.6 0h1.4m5.5 0h2.4m0.1 0h1.9m5.1 0h2.8m4.6 0h1.4m1.1 0h1.4m2.6 0h2.3m7.6 0h1.4m7.5 0h1.4m8.5 0h1.4m26.5 0h1.4m9.5 0h1.4m7.5 0h2.4m3.1 0h1.4m1.6 0h1.4m4 0h1.4m11.5 0h1.4m26.4 0h1.4m1.6 0h1.4m0.6 0h1.4m4.5 0h1.4m5.6 0h1.4m12 0h1.4m6 0h1.4m21.5 0h1.4m4 0h1.4m2.1 0h1.4m10 0h1.4m1.1 0h1.4m1.1 0h1.4M90.2 244.49h1.4m11 0h1.4m5.5 0h1.4m3.6 0h1.4m4.6 0h1.4m2.5 0h1.4m2.6 0h1.4m6.5 0h1.4m4.1 0h1.4m0.1 0h1.4m3.6 0h1.4m29.8 0h1.4m0.6 0h1.4m8.1 0h1.4m13.5 0h1.4m24.9 0h1.4m17.9 0h1.4m0.1 0h1.4m22 0h2.8m5.1 0h1.4m3.6 0h1.4m1.5 0h1.4m0.1 0h1.4m8.6 0h4.3m6.6 0h1.9m0.1 0h4.3m3.1 0h1.4m0.6 0h1.4m0.6 0h2.4m0.6 0h3.8m2.1 0h2.4m6.1 0h1.4m0.5 0h1.9m1.6 0h1.4m6.1 0h2.9m1.5 0h1.4m2.6 0h1.4m9 0h1.4m0.6 0h1.4m13.5 0h1.4m3.1 0h1.4m0.1 0h1.4m2.5 0h1.4m5.1 0h1.4m36.3 0h1.4m1.1 0h1.4m9 0h2.4m1.1 0h1.4m18.5 0h1.4m15 0h1.9M93.7 246.79h1.4m8.5 0h1.9m0.6 0h1.4m4 0h1.4m20 0h1.4m10.5 0h1.9m2.6 0h1.4m15.9 0h1.4m50.3 0h1.4m19.9 0h1.4m21.5 0h1.4m1 0h1.4m14.5 0h1.4m3.1 0h1.4m1.6 0h1.4m3.5 0h2.4m6.1 0h2.9m0.5 0h2.4m0.1 0h1.4m0.1 0h1.4m2.6 0h3.9m0.1 0h9.8m0.6 0h1.4m1.6 0h4.8m0.6 0h1.4m1.6 0h1.4m1.1 0h1.4m0.1 0h1.4m3 0h3.4m0.1 0h1.4m2.1 0h1.4m2.6 0h2.4m3.5 0h1.4m0.6 0h1.4m0.6 0h1.4m8 0h2.4m2.6 0h1.4m9 0h1.4m0.6 0h1.4m1.6 0h1.4m1.6 0h1.4m3 0h1.4m2.6 0h1.4m8.5 0h1.4m12 0h1.4m7.6 0h2.9m3.5 0h1.4m5.6 0h1.4m7 0h1.4m2.1 0h1.4m13 0h1.4m5 0h1.9m0.1 0h1.4m2.1 0h2.4m22.9 0h1.9m5.6 0h1.4m7 0h1.4m0.6 0h1.9m5.5 0h1.4m1.6 0h1.4m9.1 0h1.4m5.5 0h1.4m1.1 0h1.4M100.1 249.1h1.4m9.5 0h2.4m6.6 0h1.4m16.9 0h1.4m2.6 0h1.4m35.8 0h1.4m76.1 0h1.4m18.4 0h1.4m8.1 0h1.4m2.6 0h2.8m1.6 0h1.4m3.6 0h1.4m2.6 0h1.4m1 0h1.4m4.6 0h1.4m2.1 0h1.9m0.1 0h4.8m0.6 0h1.4m1.6 0h2.4m1.6 0h1.4m1.1 0h1.8m0.1 0h1.9m0.6 0h1.4m2.6 0h2.4m0.6 0h1.4m12 0h1.4m0.1 0h1.4m9 0h1.4m20.9 0h1.4m11 0h1.4m16 0h1.4m25.9 0h1.4m17.5 0h1.4m50.2 0h1.4m14.5 0h1.4m5.6 0h1.4M79.8 251.4h1.4m30.8 0h1.4m8.6 0h1.4m14.4 0h1.9m23.5 0h1.4m8 0h1.4m7.5 0h1.4m1.6 0h1.9m26.9 0h1.4m14.5 0h1.4m10 0h1.4m2.1 0h1.4m7.5 0h1.4m14.5 0h1.4m6.1 0h1.4m5 0h1.4m15.5 0h1.4m2.1 0h1.4m3 0h1.4m7.1 0h2.4m0.5 0h2.4m1.6 0h2.9m0.1 0h1.9m2.1 0h1.4m0.6 0h2.3m0.1 0h1.4m0.6 0h2.9m2.1 0h1.4m5 0h1.4m0.1 0h1.4m3.1 0h1.4m14 0h1.4m1.6 0h1.4m3 0h1.4m4.1 0h4.9m3.5 0h1.4m6.6 0h1.4m7.5 0h1.4m3.6 0h1.4m9 0h1.4m5.1 0h1.4m2.5 0h1.4m35.4 0h1.4m2.5 0h1.4m3.1 0h1.4m12 0h1.9m11.5 0h1.4m1.1 0h1.4m13.5 0h1.4m28.9 0h1.4m3.1 0h2.3m7.6 0h1.4M156.2 253.7h1.4m107.8 0h1.4m16.5 0h1.4m3.6 0h1.4m3.5 0h1.9m9.1 0h3.3m4.1 0h1.4m5.6 0h2.8m0.1 0h1.4m1.1 0h1.4m3.6 0h2.9m9.5 0h1.4m10.5 0h2.4m1.6 0h1.4m0.6 0h1.4m7 0h1.4m31.9 0h1.4m18.4 0h1.4m54.2 0h1.4m3.1 0h1.4m43.8 0h1.4m42.3 0h1.4"/>
<path d="M95.6 256.01h1.4m9.1 0h1.4m37.8 0h1.4m2.6 0h2.3m32.4 0h1.4m44.3 0h1.4m19.4 0h1.4m24.5 0h1.4m5.5 0h1.4m8 0h1.4m1.6 0h2.4m0.6 0h1.4m0.1 0h1.4m5 0h1.4m8.6 0h2.4m1 0h1.4m0.1 0h2.4m0.1 0h1.4m0.1 0h1.4m0.6 0h1.4m0.1 0h1.9m0.6 0h2.4m1.5 0h1.4m3.1 0h2.9m18 0h1.4m1.5 0h1.4m4.6 0h1.4m68.1 0h1.4m5.5 0h1.4m54.7 0h1.4m19 0h1.4m17 0h1.4m14.5 0h1.4m6 0h1.4m1.1 0h1.4M88.2 258.31h1.4m6.5 0h1.4m41.8 0h1.4m3.1 0h1.4m0.6 0h1.4m23.4 0h1.4m11.5 0h1.4m1.6 0h1.4m74.6 0h1.4m25.4 0h1.4m10.5 0h1.4m2.5 0h1.4m3.6 0h1.9m0.1 0h1.4m5.5 0h1.4m2.1 0h1.4m0.6 0h1.9m2.1 0h1.4m3 0h1.4m4.1 0h1.4m7.5 0h1.9m8.1 0h1.4m14 0h1.4m13 0h1.4m5 0h1.4m35.4 0h1.4m72.5 0h1.4m24 0h1.4m22.9 0h1.4m0.1 0h1.4M153.2 260.62h1.4m52.7 0h1.4m2.6 0h1.4m3.1 0h1.4m0.6 0h1.4m1.5 0h1.4m2.6 0h1.4m22 0h1.4m26.4 0h2.8m2.6 0h1.4m10 0h1.4m5.1 0h1.4m3.1 0h1.9m11.5 0h1.4m6 0h1.4m1.1 0h1.4m12.5 0h1.4m3.1 0h1.4m0.1 0h1.4m8 0h1.4m2.1 0h1.4m62.1 0h1.4m7.5 0h1.4m35.9 0h1.4m4.5 0h1.4M144.3 262.92h1.4m21.9 0h1.4m0.6 0h1.4m2.1 0h1.4m7 0h1.4m10 0h1.4m4.1 0h1.4m54.2 0h1.4m15 0h1.4m18.5 0h1.9m3 0h1.4m1.6 0h1.9m0.6 0h1.4m0.1 0h1.4m15 0h1.4m5 0h1.9m3.6 0h1.4m0.1 0h2.8m5.6 0h1.4m5.1 0h1.4m10.5 0h1.4m3.5 0h1.9m2.6 0h1.4m5.1 0h2.8m23.5 0h1.4m6.5 0h1.4m21 0h1.4m46.2 0h1.4m15 0h1.4m7 0h1.4m16 0h1.4m2.1 0h1.4m42.3 0h1.4m0.6 0h1.4M79.3 265.23h1.4m17.9 0h1.4m0.6 0h1.4m27.9 0h1.4m2.1 0h1.9m46.2 0h1.4m47.8 0h1.4m1.1 0h1.4m2.5 0h1.4m11.5 0h1.4m0.6 0h1.4m10 0h1.4m5.1 0h1.4m10.5 0h1.4m4.1 0h1.4m7.5 0h3.9m2.6 0h1.4m5.5 0h1.4m0.6 0h1.9m3.1 0h2.4m2.5 0h4.9m9.5 0h3.4m1.6 0h1.4m8 0h1.9m2.6 0h1.4m1.6 0h1.4m32.8 0h1.4m52.2 0h1.4m0.1 0h1.4m26.9 0h1.4m8.6 0h1.4m19.9 0h1.4m8 0h1.4m6.6 0h1.4m15 0h1.4m13 0h1.4m14.5 0h1.4M93.7 267.54h1.4m0.5 0h1.9m1.6 0h2.4m4.6 0h1.4m6 0h1.4m15 0h1.4m1.6 0h1.4m1.6 0h1.4m0.5 0h1.4m8.1 0h1.4m8 0h1.4m5.1 0h1.4m10 0h1.4m0.1 0h1.4m14.5 0h1.4m10.5 0h1.4m35.8 0h1.4m38.3 0h1.4m4.6 0h2.4m1.6 0h2.8m4.6 0h1.4m2.6 0h1.4m1.5 0h1.4m1.1 0h2.9m0.1 0h1.4m0.1 0h2.4m0.1 0h1.4m1.1 0h3.8m1.1 0h1.9m0.6 0h2.4m1.6 0h1.9m0.6 0h3.3m0.1 0h2.4m2.6 0h1.4m1.1 0h1.4m0.6 0h1.4m4 0h1.4m7.6 0h1.4m0.1 0h1.4m9 0h1.4m0.1 0h1.4m8 0h1.4m25.4 0h1.4m31.4 0h1.4m28.4 0h1.4m23.4 0h1.4m3.1 0h1.4m12 0h1.4m21.4 0h1.4m8 0h1.4m15.5 0h1.4M79.8 269.84h1.4m5.5 0h1.4m20.4 0h1.4m6.6 0h1.4m21.9 0h1.4m2.6 0h1.4m2.6 0h1.4m15 0h1.4m17.4 0h1.4m1.6 0h1.4m3.1 0h1.4m11 0h1.4m3 0h1.4m1.1 0h1.4m45.3 0h1.4m9 0h1.4m11 0h1.4m11 0h1.9m1.1 0h1.4m0.1 0h1.4m3.6 0h1.4m7.5 0h1.4m2.1 0h2.9m0.1 0h1.4m1 0h1.4m1.6 0h4.4m0.1 0h1.4m3.1 0h1.4m0.5 0h1.4m1.1 0h1.4m2.6 0h2.4m1.1 0h1.4m4.5 0h1.4m5.6 0h1.4m39.8 0h1.4m11 0h1.4m7 0h1.4m4.1 0h1.4m0.1 0h1.4m0.1 0h1.4m1.6 0h1.4m17.9 0h1.4m17.5 0h1.4m2.1 0h1.4m1.5 0h1.4m41.3 0h1.4m2.6 0h1.4m21.9 0h1.4m3.1 0h1.4m9 0h1.4m4.1 0h1.4M84.2 272.15h1.4m12 0h1.4m13.5 0h1.4m20 0h1.4m0.6 0h1.4m3.5 0h1.4m30.9 0h1.4m12 0h1.4m8 0h1.4m4.6 0h2.4m12 0h1.4m2.1 0h1.4m1.5 0h1.4m6.1 0h1.4m1.6 0h1.4m9 0h1.4m4 0h1.4m5.1 0h1.4m6.5 0h2.4m7.6 0h1.4m16 0h1.4m7.5 0h1.4m8 0h1.4m2.6 0h1.4m1.6 0h1.4m0.6 0h1.4m1 0h1.4m2.1 0h1.9m0.6 0h1.4m2.1 0h1.4m5.5 0h1.4m0.6 0h1.4m1.6 0h1.4m1.1 0h1.4m3.5 0h1.4m12.5 0h1.4m6.6 0h1.4m11.5 0h1.4m18.9 0h1.4m16.5 0h1.4m13 0h1.4m14 0h1.4m1.6 0h1.4m10 0h1.4m29.4 0h1.4m27.9 0h1.4m14 0h2.4m15.9 0h1.4m0.1 0h1.4m6.1 0h1.4"/>
<path d="M103.6 274.45h2.4m8 0h1.4m22.9 0h2.4m2.1 0h1.4m18.5 0h1.4m3.5 0h1.4m18.5 0h1.4m2.6 0h1.4m0.5 0h1.4m6.6 0h1.4m41.3 0h1.4m29.9 0h1.4m13.5 0h1.4m8.5 0h1.4m5 0h2.4m1.6 0h1.4m3.1 0h1.4m0.1 0h3.8m6.1 0h1.4m2.1 0h1.4m20.4 0h2.4m4.6 0h1.4m6.5 0h1.4m14.5 0h1.4m41.3 0h1.4m18 0h2.3m0.1 0h1.4m19 0h1.4m4.1 0h1.4m5.5 0h1.4m26.9 0h1.4m4.1 0h1.4m16.9 0h1.4m16.5 0h1.4M101.6 276.75h1.4m24.9 0h1.4m9.5 0h1.4m26.9 0h1.4m16.5 0h1.4m24.9 0h1.4m50.7 0h1.4m2.1 0h1.4m3.6 0h1.4m4 0h1.4m6.6 0h1.4m11.5 0h1.4m9 0h1.4m6.1 0h1.4m2.5 0h1.4m0.1 0h1.9m2.6 0h1.4m14 0h3.4m16.4 0h1.4m33.4 0h1.4m16.5 0h1.4m0.1 0h1.4m2.5 0h1.4m17.5 0h1.4m16 0h1.4m39.3 0h1.4m54.7 0h1.4m6 0h1.4m10.1 0h1.4M122.9 279.06h1.4m45.8 0h1.4m3.1 0h1.4m24.9 0h1.4m35.8 0h1.4m27.9 0h1.4m20.5 0h1.4m8.5 0h1.4m5.5 0h1.4m2.1 0h1.4m2.1 0h1.4m0.6 0h1.4m5 0h1.9m1.6 0h1.4m1.1 0h1.4m0.1 0h1.4m0.1 0h1.9m4.5 0h1.4m7.6 0h1.4m17.9 0h2.4m52.2 0h1.4m46.3 0h1.4m0.6 0h1.4m0.6 0h1.4m13 0h1.4m7.5 0h1.4m7.5 0h1.4m5.1 0h1.4m26.9 0h1.4M93.2 281.36h1.4m14.4 0h1.4m23 0h1.4m6 0h1.4m16 0h1.4m6.5 0h1.4m13.5 0h1.4m0.6 0h1.4m29.4 0h1.4m24.9 0h1.4m34.9 0h1.4m19.4 0h1.4m3.1 0h1.4m0.6 0h2.4m4 0h1.4m0.6 0h1.4m2.6 0h1.4m1.5 0h1.4m1.6 0h1.9m2.1 0h1.4m0.6 0h1.9m1.1 0h1.4m3 0h1.4m1.1 0h1.4m1.1 0h1.4m1.1 0h1.4m4.5 0h1.4m1.6 0h1.4m2.1 0h1.4m56.2 0h1.4m6 0h1.4m10.5 0h1.4m16 0h1.4m5.6 0h1.4m12 0h1.4m23.9 0h1.4m40.8 0h1.4m27.4 0h1.4M102.6 283.67h2.9m77.5 0h1.4m5.1 0h1.4m14 0h1.4m2.5 0h1.4m19.5 0h1.4m5 0h1.4m10.6 0h1.4m13.9 0h1.4m3.6 0h1.4m6.6 0h1.4m0.5 0h1.4m5.1 0h1.4m3.1 0h1.4m0.1 0h1.4m2 0h1.4m7.1 0h1.4m6 0h1.4m0.1 0h1.4m7 0h2.4m0.1 0h2.9m0.6 0h3.9m0.6 0h4.8m1.6 0h1.4m2.6 0h1.4m0.6 0h1.4m25.9 0h1.4m6.5 0h1.4m7.6 0h1.4m1 0h1.4m0.1 0h1.4m8.1 0h1.4m15.9 0h1.4m7.6 0h2.4m5.5 0h1.4m10 0h1.4m26 0h1.4m3.5 0h1.4m3.6 0h1.4m18.4 0h2.4m4.1 0h1.4m9 0h1.4m17 0h1.4m20.4 0h1.4m4.6 0h1.4m0.6 0h1.4M83.7 285.98h1.4m80.5 0h1.4m22.5 0h1.4m87.9 0h1.4m9.6 0h1.4m13.5 0h1.4m0.5 0h2.4m5.1 0h2.4m1.6 0h2.3m9.1 0h1.4m2.5 0h1.9m2.1 0h1.4m2.6 0h1.9m5.5 0h1.4m36.9 0h1.4m25.9 0h1.4m10 0h1.4m48.2 0h1.4m64.7 0h1.4m17.9 0h1.4M84.2 288.28h1.4m31.4 0h1.4m12 0h1.4m22.4 0h1.4m1.6 0h1.4m33.4 0h1.4m7 0h1.4m13 0h1.4m4.1 0h1.4m2 0h1.4m70.6 0h1.4m4.1 0h1.4m1.1 0h1.4m3.5 0h1.4m2.1 0h1.4m4.6 0h2.8m2.6 0h1.4m2.6 0h1.4m2.6 0h2.4m5.5 0h1.4m3.6 0h1.9m14.5 0h1.4m0.5 0h1.4m2.6 0h1.4m1.6 0h1.4m3.6 0h1.4m14.4 0h1.4m23.5 0h1.9m40.3 0h1.4m27.9 0h1.4m48.2 0h1.4m10.5 0h1.4M80.7 290.59h1.4m3.1 0h1.4m7.5 0h1.4m62.7 0h1.4m7 0h2.4m1.1 0h1.4m29.4 0h1.4m3.1 0h1.4m5 0h2.4m3.1 0h1.4m21.4 0h1.4m45.3 0h2.4m1.6 0h2.3m3.6 0h1.4m2.1 0h1.4m2.6 0h2.8m4.6 0h1.4m0.1 0h1.9m2.1 0h4.3m4.1 0h1.4m1.6 0h1.9m2.5 0h1.4m0.6 0h1.4m3.1 0h1.4m0.6 0h1.4m4.1 0h1.4m2.5 0h1.4m0.1 0h1.4m8 0h1.4m8.6 0h1.4m3.5 0h1.4m24.5 0h1.4m45.2 0h1.4m0.1 0h1.4m20.5 0h1.4m4 0h1.4m2.6 0h1.4m2.1 0h1.4m5.5 0h1.4m4.6 0h1.4m5 0h1.4m2.6 0h1.4m4.1 0h1.4m33.3 0h1.9"/>
<path d="M83.2 292.89h1.4m3.1 0h1.4m32.4 0h1.4m16.4 0h1.4m1.1 0h1.4m10 0h1.4m2.1 0h1.4m74.6 0h1.4m13.5 0h1.4m0.5 0h1.4m15.5 0h1.4m7.6 0h1.4m3.5 0h1.4m24.4 0h1.9m1.1 0h1.4m10 0h1.4m2.1 0h1.9m1.6 0h1.4m6 0h1.4m4.1 0h1.9m1.1 0h1.4m7.5 0h1.9m5.6 0h1.4m2 0h1.4m27.9 0h1.4m5.6 0h1.4m11.5 0h1.4m1.1 0h1.4m11 0h1.4m12 0h1.4m18.4 0h1.4m22 0h1.4m11 0h1.4m2.1 0h1.4m0.1 0h1.4m8.5 0h1.4m25.4 0h1.4m10.5 0h1.4m12.5 0h1.4M92.2 295.2h1.4m60.1 0h1.4m14.5 0h1.4m12 0h2.4m32.9 0h1.4m50.2 0h1.4m64.6 0h1.4m3.1 0h1.4m12.5 0h1.9m97.9 0h1.4m26.4 0h1.4m6.5 0h1.4m30.9 0h1.4m1.6 0h1.4m16.5 0h1.4M89.2 297.5h1.4m88.4 0h1.4m32.9 0h1.4m23.4 0h1.4m11 0h1.4m9.6 0h1.4m5.5 0h1.4m4.1 0h1.4m10 0h1.4m1.1 0h1.4m13.5 0h2.4m6.5 0h1.4m3.6 0h1.4m1 0h1.4m1.6 0h1.9m2.6 0h1.4m2.6 0h1.4m1.5 0h2.9m0.6 0h1.4m1.1 0h1.4m3.1 0h1.4m36.8 0h1.4m2.6 0h1.4m7 0h1.4m4.1 0h1.4m13.5 0h1.4m10.5 0h1.4m7.5 0h1.4m19.5 0h1.4m55.7 0h2.4m12 0h1.4m25.9 0h1.4m1.1 0h1.4M87.2 299.8h1.4m55.2 0h1.4m15.5 0h1.4m42.8 0h1.4m2.5 0h1.4m27.4 0h1.4m6.6 0h1.4m51.2 0h1.4m0.6 0h1.4m1.6 0h1.4m3.5 0h1.4m0.1 0h2.4m3.1 0h2.4m0.1 0h1.9m4 0h1.4m7.6 0h1.8m4.1 0h3.9m10 0h1.4m3.1 0h1.4m9 0h1.4m4.6 0h1.4m0.5 0h1.4m5.6 0h1.4m2.1 0h1.4m13.5 0h1.4m32.8 0h1.4m6.6 0h1.4m6.5 0h1.4m33.4 0h1.4m9 0h1.4m14 0h1.4m52.2 0h1.4M111.5 302.11h1.4m0.1 0h1.4m2.6 0h1.4m5 0h1.4m21.5 0h1.4m0.6 0h1.4m5 0h1.4m8.1 0h1.4m1.5 0h1.4m6.6 0h1.4m12.5 0h1.4m0.6 0h1.4m0.5 0h1.4m23 0h1.4m25.9 0h1.4m7 0h1.4m4.6 0h1.4m4 0h1.4m9.1 0h1.4m8 0h1.9m10 0h1.4m4.6 0h1.4m1.5 0h1.9m1.1 0h1.4m1.1 0h1.9m0.6 0h2.4m0.1 0h1.4m2 0h2.9m0.1 0h1.4m1.1 0h4.4m0.6 0h1.4m0.1 0h1.4m1.5 0h1.4m0.6 0h2.4m4.1 0h1.4m0.1 0h1.4m1.1 0h2.3m4.6 0h1.9m6.5 0h1.4m6.6 0h1.4m1.6 0h1.4m27.4 0h1.4m15.9 0h1.4m0.1 0h1.4m2.6 0h1.9m19.9 0h1.4m4.1 0h2.4m0.1 0h1.4m22.9 0h1.4m8.5 0h1.4m9.6 0h1.4m0.6 0h2.8m29.4 0h1.4m3.6 0h1.4m12 0h1.4m0.1 0h1.4m0.6 0h1.4M118 304.41h1.4m16 0h2.8m21.5 0h1.4m14.5 0h1.4m41.3 0h1.4m11 0h1.4m11 0h1.4m2.1 0h1.4m7 0h1.4m16.5 0h1.4m16.9 0h1.4m0.1 0h1.4m2.6 0h1.4m5.6 0h1.4m6.5 0h1.4m0.1 0h1.9m5.5 0h1.4m0.1 0h1.9m1.1 0h1.4m2.6 0h2.4m1.5 0h1.4m18.5 0h1.4m11.5 0h1.9m24.9 0h1.4m3.1 0h1.4m124.7 0h1.4m1.6 0h1.4m27.9 0h1.4M86.7 306.72h1.4m0.1 0h1.4m17 0h1.4m12.5 0h1.4m8 0h1.4m13.5 0h1.4m24.4 0h1.4m66.1 0h1.4m25.9 0h1.9m17 0h1.4m7 0h1.4m4.6 0h2.4m9 0h1.4m11 0h1.9m1.6 0h1.4m1.6 0h1.4m0.1 0h1.4m1 0h1.4m0.6 0h1.9m18 0h1.4m9.5 0h1.4m4.6 0h1.4m17.4 0h1.4m13 0h1.4m1.6 0h2.4m34.4 0h1.4m1 0h1.4m32.9 0h1.4m8.5 0h1.4m25.4 0h1.9m4.6 0h1.4m1.6 0h1.4m31.3 0h1.4m1.6 0h1.4M102.1 309.02h1.4m41.8 0h1.4m8.5 0h1.4m52.7 0h1.4m45.3 0h1.4m3.6 0h1.4m28.8 0h1.4m0.6 0h1.4m3.6 0h1.4m23.4 0h1.4m4.6 0h1.4m9.5 0h1.4m14 0h1.4m25.4 0h1.4m116.8 0h2.8"/>
<path d="M125.9 311.33h1.4m14 0h1.4m11 0h1.4m4.1 0h1.4m11 0h1.4m9 0h1.4m17.5 0h1.4m43.3 0h1.4m0.6 0h1.4m14.4 0h1.4m13 0h1.4m3.1 0h1.4m16 0h1.4m1.1 0h1.4m3 0h1.4m0.6 0h1.4m2.6 0h1.4m2.1 0h1.9m2.5 0h1.4m3.1 0h1.4m2.6 0h1.4m6.5 0h1.4m7.6 0h1.4m12 0h1.4m0.5 0h1.4m9.6 0h1.4m5.5 0h1.4m38.3 0h1.4m44.8 0h1.4m9.5 0h1.4m0.6 0h1.4m6.1 0h1.4m6.5 0h1.4m2.1 0h1.4m12.5 0h1.4m19.4 0h1.4m23.5 0h1.4m9.5 0h1.4M80.7 313.64h1.4m35.9 0h1.4m11.5 0h1.4m0.1 0h1.9m1.6 0h1.4m20.9 0h1.4m49.2 0h1.4m37.4 0h1.4m9.5 0h1.4m12.5 0h1.4m3 0h1.4m24.5 0h1.4m0.1 0h1.4m2.5 0h1.4m2.6 0h1.9m0.1 0h1.4m0.6 0h1.4m18.4 0h1.9m1.1 0h1.4m0.1 0h1.4m4.6 0h1.4m9 0h1.4m0.6 0h1.9m0.1 0h1.4m0.5 0h2.4m3.1 0h1.4m17.5 0h1.4m8 0h1.4m7.5 0h1.4m27.4 0h1.4m7.1 0h1.4m29.8 0h1.4m40.4 0h1.4m39.3 0h1.4M97.1 315.94h1.4m12.5 0h1.4m10 0h1.4m14 0h1.4m29.4 0h1.4m18.5 0h1.4m0.6 0h1.4m22.4 0h1.4m1.6 0h1.4m7.5 0h1.4m28.4 0h2.4m6 0h1.4m4.6 0h1.4m4.1 0h1.4m15.4 0h1.4m10.1 0h1.4m7 0h1.4m0.1 0h2.4m3 0h1.4m11.1 0h2.8m7.1 0h1.4m13.5 0h1.4m22.4 0h1.4m15.5 0h1.4m6.5 0h1.4m3.1 0h1.4m25.4 0h1.4m30.4 0h1.4m33.8 0h1.9m16.5 0h1.4m30.4 0h1.4m4.5 0h1.4M110 318.25h1.4m5.6 0h1.4m185.8 0h1.4m36.8 0h1.4m1.1 0h1.4m4 0h1.4m4.1 0h1.4m1.1 0h1.4m7 0h1.4m26.4 0h1.4m39.3 0h1.4m38.8 0h1.4m50.3 0h1.4M97.1 320.55h1.4m31.9 0h1.4m49.7 0h1.4m10.5 0h1.4m79.1 0h1.9m10 0h1.4m9 0h1.4m15.5 0h1.4m2.1 0h1.4m1 0h1.4m3.6 0h1.4m37.8 0h1.4m1.6 0h1.4m15.5 0h1.4m48.7 0h1.4m34.4 0h1.4m21.9 0h1.4m17 0h1.4m2.1 0h1.4m37.3 0h1.4M126.4 322.85h1.4m38.8 0h1.4m13 0h1.4m27.9 0h1.9m6.1 0h1.4m49.7 0h1.4m0.6 0h1.4m0.6 0h1.4m15 0h1.4m1 0h1.4m14.5 0h1.4m3.6 0h1.4m13.5 0h2.4m0.6 0h1.4m1.5 0h1.4m1.6 0h1.4m16 0h1.4m0.6 0h1.4m36.8 0h1.4m3.6 0h1.4m20.9 0h1.4m131.2 0h1.4M84.7 325.16h1.4m24.9 0h2.4m15.5 0h1.4m15 0h1.4m119.7 0h1.4m46.3 0h1.4m1.6 0h1.4m0.1 0h1.8m37.9 0h1.4m10.5 0h1.4m1.1 0h1.4m15.4 0h1.4m53.3 0h1.4m28.3 0h1.4m20.5 0h2.4M90.2 327.46h1.4m5.5 0h1.4m12 0h1.4m11 0h1.9m5.6 0h1.4m58.7 0h1.4m17.4 0h1.4m52.2 0h1.4m31.9 0h1.4m10 0h1.4m4.6 0h1.4m9 0h1.4m18 0h1.4m20.4 0h1.4m34.4 0h1.4m0.1 0h1.4m6.5 0h1.4m35.8 0h1.4m28.9 0h1.4m8.1 0h1.4m14.4 0h1.4m53.7 0h1.4m10.1 0h1.4"/>
<path d="M118 329.77h1.4m30.8 0h1.4m2.1 0h1.9m23.9 0h1.4m14.5 0h1.4m15.5 0h1.4m14.5 0h1.4m19 0h1.4m15.9 0h1.4m2.6 0h1.4m4.6 0h1.4m28.3 0h2.9m0.1 0h1.4m6.6 0h1.4m1.5 0h1.4m4.1 0h1.4m8 0h1.9m1.6 0h1.4m8.5 0h1.4m24.5 0h1.4m60.1 0h1.4m37.3 0h1.4m16.5 0h1.4m12 0h1.4m63.7 0h1.4M87.7 332.08h1.4m51.2 0h1.4m63.2 0h1.4m27.9 0h1.4m27.8 0h1.4m41.3 0h1.4m3.1 0h1.4m2.1 0h1.4m6 0h1.4m4.6 0h1.4m0.6 0h1.4m1.6 0h3.8m7.1 0h1.4m29.9 0h1.4m15.4 0h1.4m49.8 0h1.4m13.5 0h1.4m25.9 0h1.4m3 0h1.4m16 0h1.4m38.3 0h1.4M106.6 334.38h1.4m4 0h1.4m7.6 0h1.4m5.5 0h1.4m10.5 0h1.4m16 0h1.9m18 0h1.4m17.9 0h1.4m16.5 0h1.4m62.6 0h1.4m12.5 0h1.4m1.1 0h1.4m3.1 0h1.4m5 0h1.4m8.1 0h1.4m2.1 0h3.3m9.1 0h1.4m1 0h1.4m2.1 0h1.4m3.1 0h1.4m1.1 0h1.4m6 0h1.4m15 0h1.4m35.3 0h1.9m11 0h1.4m57.7 0h1.4m4.6 0h1.4m16 0h1.4m12 0h1.4m15.4 0h1.4m16 0h1.4m7.6 0h1.4m0.1 0h1.4m12 0h1.4M96.1 336.69h1.4m86 0h1.4m71.6 0h1.4m2.6 0h1.4m3 0h1.4m5.1 0h1.4m22.9 0h1.4m8.5 0h3.4m4.6 0h1.4m0.6 0h1.4m5.5 0h2.9m0.1 0h1.4m9 0h1.9m19 0h1.4m98.9 0h1.4m67.6 0h1.4m12.5 0h1.4M104.6 338.99h1.4m18.9 0h1.4m9.1 0h1.4m4 0h1.4m15 0h1.4m14 0h1.4m8 0h1.4m29.9 0h1.4m65.6 0h1.4m2.1 0h1.4m0.6 0h1.4m4.5 0h1.4m2.6 0h1.4m4.6 0h1.4m8 0h1.4m1.1 0h3.4m1.1 0h2.8m3.6 0h1.4m6.1 0h1.4m11.5 0h1.4m2.5 0h1.4m12.5 0h1.4m10.6 0h1.4m28.3 0h1.4m3.6 0h1.4m67.6 0h1.4m15.5 0h1.4m23.9 0h1.4m1.6 0h1.4m7.5 0h1.4m16.5 0h1.4m13 0h1.4M102.6 341.3h1.4m10 0h1.4m49.7 0h1.4m25.5 0h1.4m1 0h1.4m8.1 0h1.4m48.2 0h1.4m9 0h1.4m22.5 0h1.4m4.5 0h1.4m7.6 0h1.4m7 0h2.4m1.1 0h1.4m4 0h1.4m7.1 0h1.4m15 0h1.4m19.4 0h1.4m0.1 0h1.4m7.5 0h1.4m19.5 0h1.4m3.1 0h1.4m3.5 0h1.4m16 0h1.4m22.4 0h1.4m23 0h1.4m47.2 0h1.4m0.1 0h1.4m40.3 0h1.4M104.6 343.6h1.4m64.1 0h1.4m6.1 0h1.4m95.9 0h1.4m17.9 0h1.4m2.6 0h1.4m6 0h1.4m6.1 0h1.4m2.6 0h1.4m14.9 0h1.4m4.6 0h1.4m4.1 0h4.8m1.1 0h1.4m7.6 0h1.4m7.5 0h1.4m15 0h1.4m56.7 0h1.4m8 0h1.4m21.4 0h1.4m18 0h1.4m5.1 0h1.4m29.3 0h1.4M83.7 345.9h1.4m45.3 0h1.4m2.6 0h1.4m6 0h1.4m93.4 0h1.4m28.4 0h1.4m28.4 0h1.4m5.6 0h1.4m12.5 0h1.4m2 0h1.4m4.1 0h1.4m12.5 0h1.4m3.1 0h1.4m2.5 0h1.4m66.7 0h1.4m5.5 0h1.4m18.5 0h1.4m68.6 0h1.4m35.3 0h1.4m13 0h1.4"/>
<path d="M97.1 348.21h1.4m46.8 0h1.4m22.9 0h1.4m9 0h1.4m16 0h1.4m6.1 0h1.4m3.5 0h1.4m91 0h1.4m14 0h1.4m12 0h1.4m0.1 0h1.4m1 0h1.4m10.1 0h1.4m60.6 0h1.4m6.6 0h1.4m5.5 0h1.4m41.8 0h1.4m13.5 0h1.4m67.6 0h1.4m15 0h1.4M227.2 350.51h1.4m77.5 0h1.4m2.1 0h1.4m10 0h1.4m10.1 0h2.8m59.2 0h1.4m18.5 0h1.4m52.7 0h1.4m92.9 0h1.4M134.9 352.82h1.4m29.3 0h1.4m30.9 0h1.4m5.6 0h1.4m20.9 0h1.4m23.4 0h1.9m22.9 0h1.4m12.6 0h1.4m15.4 0h1.9m2.1 0h1.4m0.6 0h1.4m2.6 0h1.4m5.5 0h1.4m10 0h1.4m39.3 0h1.4m178.4 0h1.4m11.5 0h1.4M113.5 355.12h1.4m21.9 0h1.4m2.6 0h1.4m28.4 0h1.4m9 0h1.4m24.9 0h1.4m42.3 0h1.4m14 0h1.4m30.4 0h1.4m3.6 0h1.4m0.1 0h3.3m0.6 0h3.4m3.6 0h2.4m9.5 0h1.9m5 0h1.4m66.7 0h1.4m58.1 0h1.4m12.5 0h1.4m57.2 0h1.4m25.9 0h1.4M85.7 357.43h1.4m3.1 0h1.4m9 0h1.4m106.8 0h1.4m7.1 0h1.9m1.5 0h1.4m34.4 0h1.4m50.2 0h1.4m3.1 0h1.9m6.5 0h1.4m8.1 0h1.4m1.5 0h1.9m1.6 0h1.4m0.1 0h2.4m12 0h1.4m23.4 0h1.4m7.1 0h1.4m6 0h1.4m49.3 0h1.4m13 0h1.4m66.6 0h1.4m37.3 0h1.4m0.6 0h1.4M104.1 359.74h1.4m62.6 0h1.4m86.5 0h1.4m37.3 0h1.4m18.5 0h1.4m49.2 0h1.4m35.9 0h1.4m71 0h1.4M168.6 362.04h1.4m27.9 0h1.4m78 0h1.4m24.5 0h1.4m1 0h1.4m6.6 0h1.4m6.5 0h1.4m4.1 0h1.4m6 0h1.4m122.3 0h1.4m81 0h1.4M128.9 364.35h1.4m90.4 0h1.4m93 0h1.4m54.2 0h1.4m68.1 0h1.4m13.5 0h1.4m42.3 0h1.4"/>
<path d="M137.3 366.65h1.4m95 0h1.4m36.3 0h1.4m21.4 0h1.4m7.6 0h1.4m11.5 0h1.4m9 0h1.4m1.6 0h1.4m3 0h1.4m2.6 0h1.4m2.6 0h1.4m7.5 0h1.4m22.5 0h1.4m4.5 0h1.4m2.1 0h1.4m152.5 0h1.4M84.2 368.95h1.4m22.4 0h1.4m75.1 0h1.4m44.3 0h1.4m35.3 0h1.4m17 0h1.4m19.9 0h2.4m3.6 0h1.4m5.5 0h1.4m0.6 0h1.4m10 0h1.4m29.9 0h1.4m1.6 0h1.4m5.6 0h1.4m4.5 0h1.4m9.5 0h1.4m101.9 0h1.4m3.1 0h1.4M84.7 371.26h1.4m20 0h1.4m0.5 0h1.4m12.1 0h1.4m48.7 0h1.4m120.7 0h1.4m47.3 0h1.4m15 0h1.4m7.5 0h1.4m38.3 0h1.4m19 0h1.4m5.5 0h1.4m73.1 0h1.4m33.8 0h1.4m8.1 0h1.4M123.4 373.56h1.4m4.6 0h1.4m11 0h1.4m6.1 0h1.4m9.5 0h1.4m22.4 0h1.4m36.8 0h1.4m2.6 0h1.4m26.4 0h1.4m36.3 0h1.4m4.6 0h1.4m9.5 0h1.4m2.1 0h1.4m6.5 0h1.4m4.6 0h1.4m1.1 0h1.4m3 0h1.4m14.5 0h1.4m2.1 0h1.4m16.5 0h1.4m3.5 0h1.4m9.1 0h1.4m37.3 0h1.4m99.9 0h1.4m25.4 0h1.4m9 0h1.4M106.6 375.87h1.4m83 0h1.4m23.4 0h1.4m98.4 0h1.4m15 0h2.3m10.6 0h1.4m0.6 0h1.4m15.4 0h1.4m61.7 0h1.4M131.9 378.18h1.4m74.5 0h1.4m38.9 0h1.4m17.9 0h1.4m32.9 0h1.4m4.5 0h1.4m13.5 0h1.4m9.5 0h1.4m1.1 0h1.4m0.6 0h1.4m2.6 0h1.4m3.1 0h1.4m70 0h1.4m38.9 0h1.4m49.2 0h1.4m15 0h1.4m12 0h1.4m14 0h1.4m0.1 0h1.4M230.2 380.48h1.4m71.1 0h1.4m7.5 0h1.4m18 0h1.4m6 0h1.4m2.6 0h1.4m107.8 0h1.4m69.6 0h1.4m7 0h1.4m7.1 0h1.4M240.6 382.79h1.4m50.7 0h1.4m12.5 0h1.4m6.1 0h1.4m30.4 0h1.4m12.5 0h1.4m162.9 0h1.4m26.4 0h1.4"/>
<path d="M190 385.09h1.4m4.5 0h1.4m146.6 0h1.4m0.1 0h1.4m2.5 0h1.4M143.8 387.4h1.4m8.5 0h1.4m36.9 0h1.4m55.6 0h1.4m47.8 0h1.4m2.6 0h1.4m19.4 0h1.4m17 0h1.4m1.6 0h1.4m2 0h1.4m115.8 0h1.4m67.1 0h1.4m12.5 0h1.4m13 0h1.4M133.4 389.7h1.4m19.9 0h1.4m47.8 0h1.4m93.9 0h1.4m20.9 0h1.4m0.6 0h1.4m15 0h1.4m3.6 0h1.4m10 0h1.4m3.5 0h1.4m28.4 0h1.4m59.2 0h1.4m8 0h1.4m84.5 0h1.4M272.4 392h1.4m2.1 0h1.4m13 0h1.4m14.9 0h1.4m126.7 0h1.4m53.2 0h1.4m75.1 0h1.4M154.2 394.31h1.4m136.6 0h1.4m71.6 0h1.4m14.5 0h1.4m81 0h1.4M289.3 396.61h1.4m64.1 0h1.4M107.1 398.92h1.4m18.9 0h1.4m121.7 0h1.4m77.1 0h1.4m6.5 0h1.4m16 0h1.4M107.6 401.22h1.4m124.2 0h1.4m181.3 0h1.4m148 0h1.4"/>
<path d="M167.1 403.53h1.4m116.3 0h1.4m22.9 0h1.4m246.9 0h1.4m10.5 0h1.4M186.5 405.84h1.4m18.5 0h1.4m50.7 0h1.4m60.6 0h1.4m1.6 0h1.4m0.6 0h1.4M277.8 408.14h1.4m0.1 0h1.4m37.9 0h1.4m15.9 0h1.4m15 0h1.4m0.1 0h1.4m7.5 0h1.4m42.8 0h1.4m110.8 0h1.4m1.1 0h1.4M84.7 410.45h1.4m194.7 0h1.4m46.3 0h1.4m52.7 0h1.4m21.9 0h1.4m81 0h1.4m75.6 0h1.4M83.2 412.75h1.4m132.2 0h1.4m27.9 0h1.4m12.5 0h1.4m62.1 0h1.4m17.5 0h1.4m1.6 0h1.4m135.1 0h1.4M135.4 415.05h1.4m13.4 0h1.4m36.4 0h1.4m11 0h1.4m63.1 0h1.4m29.4 0h1.4m13 0h1.4m25.9 0h1.4m32.9 0h1.4m28.4 0h1.4m13.5 0h1.4m1 0h1.4m43.8 0h1.4m7.1 0h1.4m90.9 0h1.4M136.8 417.36h1.4m74.1 0h1.4m75.1 0h1.4m53.2 0h1.4m105.8 0h1.4m91.5 0h1.4M96.1 419.66h1.4m18 0h1.4m141.1 0h1.4m63.1 0h1.4"/>
<path d="M153.7 421.97h1.4m102.4 0h1.4m44.3 0h1.4m193.2 0h1.4M94.1 424.28h1.4m14.5 0h1.4m132.7 0h1.4m29.9 0h1.4m65.6 0h1.4m85.5 0h1.4m52.2 0h1.4m87 0h1.4M189.5 426.58h1.4m45.2 0h1.4m87.5 0h1.4m7.5 0h1.4m188.8 0h1.4M85.2 428.89h1.4m52.7 0h1.4m147.6 0h1.4m62.1 0h1.4m10 0h1.4m154 0h1.4m13 0h1.4m23.5 0h1.4M316.6 431.19h1.4m61.6 0h1.4M158.7 433.5h1.4m4.1 0h1.4m17.9 0h1.4m4.1 0h1.4m113.3 0h1.4m2 0h1.4M209.8 435.8h1.4m14 0h1.4m31.4 0h1.4m270.6 0h1.4M136.3 438.1h1.4m117.3 0h1.4m48.3 0h1.4m3.5 0h1.4m22.4 0h1.4m160.5 0h1.4"/>
<path d="M117.5 440.41h1.4m31.3 0h1.4m6.1 0h1.4m321.3 0h1.4M129.9 442.71h1.4m172.4 0h1.4M398.5 445.02h1.4m81.5 0h1.4m35.8 0h1.4m50.3 0h1.4M384.6 447.32h1.4m26.4 0h1.4m27.9 0h1.4M287.3 449.63h1.4m9.5 0h1.4m90.9 0h1.4M122.4 451.94h1.4m17.5 0h1.4m139.1 0h1.4m203.2 0h1.4M420.3 454.24h1.4M217.3 456.55h1.4m270.6 0h1.4m66.2 0h1.4"/>
<path d="M276.8 458.85h1.4m208.7 0h1.4M247.6 461.15h1.4m10 0h1.4M484.9 463.46h1.4m14.5 0h1.4M351.8 468.07h1.4m108.8 0h1.4m84.5 0h1.4M276.8 472.68h1.4M396.5 474.99h1.4M252 484.2h1.4M340.9 491.12h1.4"/>
<path d="M153.2 498.04h1.4M121 500.34h1.4M382.6 502.65h1.4M553.9 504.95h1.4M397 518.78h1.4M419.3 523.39h1.4m24.9 0h1.4M291.2 534.92h1.4m2.1 0h1.4M353.8 541.83h1.4"/>
<path d="M97.6 67.58h1.4m31.4 0h1.4m87 0h1.4m63.1 0h1.4m19 0h1.4m0.5 0h1.4m4.1 0h1.4m0.1 0h1.4m1.6 0h1.4m1.1 0h1.4m9.5 0h1.4m0.6 0h1.4m4.5 0h1.4m0.1 0h1.4m11 0h1.4m28.9 0h1.4m175.4 0h1.4M153.2 71.61h1.4m73.6 0h1.4m3.1 0h1.4m70.6 0h1.4m10 0h1.4m3.5 0h1.4m1.6 0h1.4m9.5 0h1.4m112.3 0h1.4m25.9 0h1.4m5.1 0h1.4M181 73.91h1.4m153 0h1.4m106.9 0h1.4m0.5 0h1.4m94 0h1.4M513.7 76.22h1.4M114 78.53h1.4m39.3 0h1.4m127.2 0h1.4M260 83.14h1.4M118 85.44h1.4m178.3 0h1.4m25.4 0h1.9m4.6 0h1.4m5.5 0h1.4m2.1 0h1.4m1.1 0h1.4m2.5 0h1.4m3.1 0h1.4m2.6 0h1.4M287.8 87.75h1.4m9 0h1.4m8.5 0h1.4m5.6 0h1.4m1.6 0h1.4m5 0h1.9m2.1 0h1.4m0.6 0h1.4m2 0h3.4m2.6 0h1.4m24.4 0h1.4m3.6 0h1.4m73.1 0h1.4m62.6 0h1.4"/>
<path d="M253.5 90.05h1.4m63.2 0h1.4m14.4 0h2.4m1.1 0h1.4m5.6 0h1.4m158.9 0h1.4m28.4 0h1.4M86.2 92.35h1.4m114.8 0h1.4m71.6 0h1.4m21.9 0h1.4m8.5 0h1.4m4.1 0h1.4m1.6 0h2.9m2 0h1.4m0.6 0h1.4m1.6 0h1.4m0.1 0h1.4m3 0h1.4m2.1 0h1.4m1.6 0h1.4m10 0h1.4M126.4 94.66h1.4m154 0h1.4m7.1 0h1.4m5 0h1.4m6.6 0h1.4m8.5 0h1.9m0.6 0h1.4m3.5 0h1.4m0.1 0h1.4m2.6 0h1.4m2.1 0h1.4m4 0h2.4m9 0h1.9m20 0h1.4m30.9 0h1.4m89.4 0h1.4m57.2 0h1.4M151.7 96.96h1.4m161 0h1.4m2.1 0h2.8m1.1 0h3.4m1.1 0h1.4m4.6 0h2.8m2.1 0h1.4m4.1 0h1.4m12 0h1.4m28.4 0h1.4m15 0h1.4m20.9 0h1.4m80.5 0h1.4m33.9 0h1.4M139.8 99.27h1.4m105.9 0h1.4m37.8 0h1.4m8.5 0h1.4m17 0h1.4m2.1 0h1.4m1 0h1.4m3.1 0h1.4m5.6 0h1.4m1 0h3.4m12 0h2.4m79.1 0h1.4m19.9 0h1.4M161.7 101.58h1.4m108.8 0h1.4m37.3 0h1.4m0.1 0h1.4m11.5 0h1.4m5.1 0h1.4m4.5 0h1.4m1.1 0h2.9m45.8 0h1.4m64.6 0h1.4m53.7 0h1.4M145.3 103.88h1.4m13.5 0h1.4m40.8 0h1.4m15 0h1.4m73.5 0h1.4m12 0h1.4m5.1 0h1.9m2.1 0h1.4m2.5 0h1.4m0.6 0h1.4m6.6 0h2.8m2.1 0h1.4m2.6 0h1.4m4.1 0h1.9m30.3 0h1.4m45.8 0h1.4m21.4 0h1.4m35.4 0h1.4m40.8 0h1.4m38.8 0h1.4M127.9 106.19h1.4m75.6 0h1.4m76.5 0h1.9m11.5 0h1.4m5.6 0h2.4m3 0h1.4m0.1 0h1.4m8 0h1.4m0.6 0h1.4m3.6 0h3.4m2.6 0h1.4m0.5 0h1.9m0.1 0h2.4m1.1 0h1.4m3.1 0h1.4m155.9 0h1.4m25 0h1.4m11 0h1.4m1.1 0h1.4m17.4 0h1.4"/>
<path d="M213.8 108.49h1.4m94.4 0h1.4m4.1 0h1.4m1.1 0h1.4m1.5 0h1.4m4.1 0h1.4m3.6 0h1.4m2 0h1.4m0.1 0h2.4m0.1 0h1.4m17.5 0h1.4m132.1 0h1.4M91.7 110.8h1.4m7.5 0h1.4m34.8 0h1.4m63.2 0h1.4m74 0h1.4m2.1 0h1.4m1.6 0h1.4m11.5 0h1.4m11 0h1.4m0.1 0h1.4m6.1 0h4.8m0.6 0h1.4m3.6 0h1.4m3.5 0h1.4m2.1 0h1.4m18 0h1.4m98.4 0h1.4m37.8 0h1.4M111.5 113.1h1.4m38.8 0h1.4m147.1 0h1.4m4 0h1.4m2.1 0h1.4m2.1 0h1.4m3.6 0h1.4m5.5 0h1.4m4.6 0h1.4m17.4 0h1.4m3.1 0h1.4m5.1 0h1.4m8 0h1.4m57.2 0h1.4m4.5 0h1.4m25.9 0h1.4M93.2 115.4h1.4m28.3 0h1.4m34.9 0h1.4m3.6 0h1.4m20.4 0h1.4m12 0h1.4m2.6 0h1.4m7 0h1.4m29.9 0h1.4m46.3 0h1.4m3.5 0h2.4m8 0h1.4m3.6 0h1.4m2.6 0h1.9m0.1 0h2.9m1 0h1.9m4.1 0h2.4m1.6 0h3.8m1.6 0h1.9m7.6 0h1.4m9.5 0h1.4m16.9 0h1.4m24 0h1.4m18.4 0h1.4m12 0h1.4m3.1 0h1.4m23.9 0h1.4m43.8 0h1.4M184 117.71h1.4m19.5 0h1.4m47.2 0h1.4m7.1 0h1.4m40.3 0h1.4m9 0h1.9m3 0h2.4m0.1 0h1.4m2.1 0h1.4m3.6 0h4.8m0.1 0h1.4m3.1 0h1.4m0.1 0h1.4m4.1 0h1.4m4 0h1.4m4.1 0h1.4m3.5 0h1.4m33.4 0h1.4m9.5 0h1.4m3.1 0h1.4m25.9 0h1.4m29.9 0h1.4m21.9 0h1.4m29.9 0h1.4M133.9 120.01h1.4m2 0h1.4m106.9 0h1.4m43.3 0h1.4m17.4 0h1.4m0.1 0h1.4m12 0h1.4m0.1 0h1.4m2.6 0h1.4m5 0h1.9m10 0h1.4m13.5 0h1.4m24 0h1.4m33.3 0h1.4M150.7 122.32h1.4m46.3 0h1.4m7.5 0h1.4m91 0h1.4m3.1 0h1.4m10 0h1.4m0.6 0h1.4m0.5 0h1.4m1.6 0h1.4m0.6 0h1.9m0.1 0h1.4m1.6 0h1.9m0.6 0h1.4m0.5 0h1.4m0.1 0h2.4m1.6 0h1.4m0.1 0h1.4m0.6 0h1.4m2.6 0h1.4M88.2 124.62h1.4m0.1 0h1.4m11.5 0h1.4m7 0h1.4m23.5 0h1.4m5.5 0h1.4m21.9 0h1.4m113.8 0h1.4m24.4 0h1.4m4.1 0h1.4m0.6 0h1.4m0.6 0h1.9m1 0h1.4m2.1 0h1.4m5.1 0h1.4m0.6 0h2.4m2 0h1.4m0.1 0h2.4m2.6 0h1.4m16 0h1.4m7.5 0h1.4"/>
<path d="M125.4 126.93h1.4m21 0h1.4m8 0h1.4m22.9 0h1.4m7.6 0h2.4m17.9 0h1.4m9.5 0h1.4m43.8 0h1.4m18 0h1.4m0.6 0h2.4m9.5 0h1.4m3.5 0h1.4m6.1 0h2.9m4 0h2.9m6.6 0h1.9m8.5 0h1.4m0.6 0h1.4m3.1 0h1.4m9 0h1.4m6.5 0h1.4m5.1 0h1.4m4.5 0h1.4m30.4 0h1.4m91.5 0h1.4m31.3 0h1.4M106.1 129.24h1.4m81 0h1.4m0.6 0h1.4m48.7 0h1.4m31.9 0h1.4m1.1 0h1.4m4.5 0h1.4m3.6 0h1.4m12 0h1.4m12 0h1.4m1.6 0h4.3m0.6 0h1.4m0.1 0h1.4m0.6 0h1.4m0.6 0h1.4m1.6 0h1.4m0.6 0h2.3m0.6 0h1.4m1.6 0h1.4m4.1 0h1.4m8 0h1.4m25.9 0h1.4m14 0h1.4m13.5 0h1.4m10.5 0h1.4m10.5 0h1.4m32.4 0h1.4m65.1 0h1.4m8 0h1.4m21.5 0h1.4M83.7 131.54h1.4m27.4 0h1.4m27.9 0h1.4m19 0h1.4m9 0h1.4m3.6 0h1.4m34.8 0h1.4m4.6 0h1.4m32.3 0h1.4m11 0h1.4m21 0h1.4m20.4 0h1.4m4.1 0h1.4m0.1 0h3.8m0.1 0h1.4m0.1 0h3.4m0.6 0h1.4m2.6 0h1.4m0.6 0h2.3m1.1 0h1.4m1.6 0h1.4m22.4 0h1.4m51.3 0h1.4m3.5 0h1.4m111.8 0h1.4M90.2 133.85h1.4m24.4 0h1.4m6 0h1.4m1.1 0h1.4m82 0h1.4m5.1 0h1.4m82 0h1.4m0.1 0h1.9m2.5 0h1.4m5.6 0h1.4m2.1 0h1.4m1.6 0h1.4m1.5 0h1.4m0.6 0h1.4m0.6 0h1.4m3.6 0h1.4m1 0h1.4m6.1 0h1.4m4.1 0h1.4m53.2 0h1.4m18.9 0h1.4m0.1 0h1.4m53.7 0h1.4m24.4 0h1.4m3.1 0h1.4m9 0h1.4m3.6 0h1.4M106.6 136.15h1.4m70.1 0h1.4m34.8 0h1.4m23.4 0h1.4m26.9 0h1.4m16 0h1.4m19.9 0h1.9m4.1 0h1.4m1.1 0h1.9m0.6 0h2.4m0.5 0h1.4m0.1 0h2.4m0.6 0h1.4m0.6 0h1.4m2.1 0h2.9m1 0h1.4m1.1 0h2.4m24.9 0h1.4m31.4 0h1.4m93.9 0h1.4m15 0h1.4M107.1 138.45h1.4m23.4 0h1.4m54.7 0h1.4m16 0h1.4m10.5 0h1.4m54.7 0h1.4m15.5 0h1.4m8.5 0h1.4m0.1 0h2.4m0.1 0h1.4m1 0h3.4m3.6 0h1.9m0.1 0h1.4m4 0h1.9m2.1 0h1.4m1.6 0h1.9m0.1 0h1.4m1.1 0h2.3m1.6 0h1.4m2.1 0h1.4m2.6 0h1.4m50.7 0h1.4m5.6 0h1.4m35.8 0h1.4m5 0h1.4m39.8 0h1.4m37.4 0h1.4m19.4 0h1.4M153.7 140.76h1.4m1.6 0h1.4m21.9 0h1.4m7.1 0h1.4m26.4 0h1.4m18.4 0h1.4m30.4 0h1.4m10.5 0h1.9m8.6 0h1.4m7 0h1.4m3.1 0h1.4m5 0h1.4m0.1 0h1.4m1.6 0h1.9m0.1 0h1.4m3 0h1.4m0.1 0h3.4m16 0h1.4m5.5 0h1.4m4.6 0h1.4m1.1 0h1.4m2.1 0h2.3m0.6 0h1.4m13.5 0h1.4m13.5 0h1.4m6.1 0h1.4m19.9 0h1.4m44.3 0h1.4M100.1 143.06h1.4m20 0h1.4m40.8 0h1.4m37.3 0h1.4m4.5 0h1.4m2.1 0h1.4m31.4 0h1.4m0.6 0h1.4m38.3 0h1.4m6.5 0h1.4m0.6 0h1.4m5.1 0h1.4m2 0h1.4m2.1 0h1.4m0.6 0h1.4m1.6 0h1.9m1.6 0h2.3m1.1 0h1.4m1.1 0h1.4m0.1 0h1.9m4.1 0h3.3m5.1 0h1.9m7 0h1.4m15.5 0h1.4m1.6 0h1.4m16.5 0h1.4m6 0h1.4m14 0h1.4m36.8 0h1.4m2.1 0h1.4m26.9 0h1.4m31.4 0h1.4m7 0h1.4m12.5 0h1.4m8 0h1.4m9.6 0h1.9m13.5 0h1.4"/>
<path d="M124.9 145.37h1.4m7.1 0h1.4m48.7 0h1.4m2.1 0h1.4m7.5 0h1.4m26.9 0h1.4m14.5 0h1.4m3.1 0h1.4m10 0h1.4m27.9 0h2.4m13.5 0h1.4m5 0h1.4m1.1 0h1.4m2.6 0h2.4m1.1 0h2.8m1.6 0h3.4m0.1 0h1.9m2.6 0h1.4m1.5 0h2.4m2.1 0h1.4m12 0h1.4m6.6 0h1.4m33.3 0h1.4m77.6 0h1.4m67.6 0h1.4M118 147.68h1.4m33.3 0h1.4m18.5 0h1.4m58.7 0h1.4m43.2 0h1.4m7.1 0h2.4m8.5 0h1.4m2.6 0h1.4m8 0h1.4m2.6 0h1.4m0.1 0h1.9m0.6 0h2.8m2.6 0h3.9m0.1 0h1.4m3.1 0h1.4m2.5 0h1.4m2.1 0h2.4m0.1 0h1.4m0.1 0h1.4m6 0h1.4m1.6 0h1.4m21.4 0h1.4m7.1 0h1.4m21.9 0h1.4m33.4 0h1.4m40.3 0h1.4M131.4 149.98h1.4m10 0h2.4m11.5 0h1.9m52.7 0h1.4m9 0h1.4m52.8 0h1.4m11 0h1.4m8.5 0h1.4m1.6 0h2.4m2 0h1.4m3.1 0h2.4m0.1 0h2.9m1.1 0h4.3m0.6 0h1.4m1.6 0h1.4m3.6 0h2.4m0.1 0h2.8m1.1 0h1.9m0.6 0h2.4m3.6 0h1.4m8 0h1.4m39.3 0h1.4m21 0h1.4m24.9 0h1.4m41.3 0h1.4m45.2 0h1.4M176.6 152.29h1.9m35.8 0h1.4m1.1 0h1.4m11 0h1.4m35.3 0h1.4m15.5 0h1.4m3.6 0h1.4m5.5 0h1.4m2.6 0h1.4m1.6 0h1.4m6 0h1.4m2.1 0h2.4m0.1 0h1.4m2.1 0h3.3m0.1 0h2.4m0.6 0h2.4m1.1 0h2.4m0.1 0h1.9m4 0h1.9m0.6 0h1.4m1.6 0h1.4m2.1 0h1.4m5 0h1.4m26.9 0h1.4m89.5 0h1.4m22.9 0h1.4m21.4 0h1.4m5.6 0h1.4m1.1 0h1.4m1.5 0h1.4m0.1 0h1.4M100.1 154.59h1.4m4.6 0h1.4m9.5 0h1.4m43.3 0h1.4m4 0h1.4m15 0h1.4m17.5 0h1.4m16 0h1.4m25.9 0h1.4m4.5 0h1.4m0.6 0h1.4m8 0h1.4m4.1 0h2.4m10.5 0h1.4m0.1 0h1.4m14 0h1.9m3.1 0h1.4m0.5 0h1.9m13 0h1.4m0.6 0h1.4m0.6 0h2.4m0.1 0h2.4m0.6 0h1.4m0.5 0h1.9m2.1 0h1.4m6.1 0h1.9m7 0h1.4m6.1 0h1.4m2.5 0h3.4m3.6 0h1.4m0.1 0h1.4m0.5 0h1.4m26 0h1.4m3.5 0h1.4m5.1 0h1.4m6 0h1.4m12.5 0h1.4m6.6 0h1.4m24.9 0h1.4m45.2 0h1.4m42.3 0h1.9M78.8 156.9h1.4m8 0h1.4m27.4 0h1.4m13 0h1.4m17 0h2.3m3.6 0h1.4m45.8 0h1.4m5 0h1.4m13 0h1.4m12 0h1.4m11 0h1.9m28.9 0h1.4m8.1 0h1.4m2.5 0h1.4m2.6 0h1.4m3.1 0h2.4m5 0h1.4m0.1 0h1.9m2.1 0h1.4m1.1 0h1.4m0.5 0h2.9m0.6 0h1.9m1.1 0h1.9m0.6 0h1.4m7.5 0h1.4m1.1 0h1.9m2.1 0h1.9m4.5 0h1.4m4.6 0h2.4m3 0h1.4m10.6 0h1.4m5 0h1.4m6.6 0h1.4m15.9 0h1.4m94.5 0h1.4m3.5 0h1.4m3.1 0h1.4m46.7 0h1.4m2.6 0h1.4m5.6 0h1.4M103.6 159.2h1.4m16 0h1.4m17.4 0h1.4m19 0h1.4m13.5 0h1.4m3.5 0h1.4m25.9 0h1.4m36.9 0h1.4m21.4 0h1.4m0.1 0h1.4m1.1 0h1.4m0.1 0h1.4m9.5 0h1.4m8.5 0h1.4m0.1 0h1.9m1.6 0h2.9m2.5 0h1.4m4.1 0h1.4m2.6 0h1.4m0.1 0h1.9m1.5 0h2.9m1.1 0h1.4m1.1 0h2.4m1.6 0h1.4m0.1 0h1.4m8.5 0h2.4m2.1 0h1.4m59.1 0h1.4m98.9 0h1.4m0.1 0h1.4m2.1 0h1.4m2.6 0h2.3m3.6 0h1.4m21.9 0h1.4m25 0h1.4M142.3 161.5h1.4m1.1 0h1.4m7 0h1.4m15 0h1.4m10 0h1.4m13 0h1.4m37.8 0h1.4m33.9 0h1.4m15 0h1.4m0.6 0h1.4m10 0h1.4m1.1 0h1.4m3.5 0h1.4m3.6 0h1.4m8 0h1.4m2.1 0h1.9m1.6 0h1.9m1.1 0h1.4m2.5 0h1.4m2.6 0h1.9m11 0h1.4m6.1 0h1.4m2.5 0h1.4m15.5 0h1.4m67.1 0h1.4m22 0h1.4m50.2 0h1.4m19.9 0h1.4m5.6 0h1.4"/>
<path d="M97.6 163.81h1.4m23.4 0h1.4m0.1 0h1.4m9.6 0h1.4m2.5 0h1.9m7.6 0h1.4m37.3 0h1.4m18 0h1.4m42.7 0h1.4m1.1 0h1.4m12.5 0h1.4m16 0h1.4m2.1 0h1.4m6 0h1.4m2.1 0h1.4m1.1 0h1.4m1.1 0h1.4m2.5 0h1.4m5.6 0h1.9m1.1 0h2.8m0.6 0h1.4m1.6 0h2.4m0.6 0h1.4m1.6 0h1.4m1.1 0h1.4m1 0h1.4m1.6 0h1.4m0.1 0h1.4m0.1 0h1.4m2.1 0h1.4m0.1 0h1.4m12 0h1.4m14.4 0h1.4m45.8 0h1.4m29.4 0h1.4m11 0h1.4m15.5 0h1.4m1.1 0h1.4m5 0h1.4m7.1 0h1.4m2.5 0h1.4m0.6 0h1.4m30.4 0h1.4m30.9 0h1.4m0.1 0h1.4M124.9 166.11h1.4m7.1 0h1.4m15.4 0h1.4m0.6 0h1.4m0.1 0h1.4m63.2 0h1.4m14 0h1.4m34.3 0h1.4m0.6 0h1.4m8.5 0h1.4m10 0h1.4m5.6 0h1.9m1.6 0h1.4m2.5 0h2.4m4.1 0h1.4m1.6 0h1.9m9.5 0h1.4m0.6 0h2.4m0.5 0h1.4m2.1 0h4.4m8 0h1.4m3.1 0h1.4m4.1 0h1.4m1 0h1.9m0.6 0h1.4m7.1 0h1.4m27.9 0h1.4m10.5 0h1.4m10.5 0h1.4m6.5 0h1.4m6.1 0h1.4m3.1 0h1.4m6 0h1.4m3.1 0h1.4m4 0h1.4m13 0h1.4m12.5 0h1.4m2.6 0h1.4m7 0h1.4m5.6 0h1.4m18 0h1.4m15.4 0h1.4m9.6 0h1.4m11 0h1.4M115 168.42h1.4m12 0h1.4m6.5 0h1.4m8.6 0h1.4m0.1 0h1.4m14 0h1.4m12.5 0h1.4m6 0h1.4m14 0h1.9m7.5 0h1.4m36.9 0h1.4m4.5 0h1.4m1.6 0h1.4m5.5 0h1.4m1.1 0h1.4m23.9 0h1.4m4.6 0h2.4m4.1 0h1.4m7 0h1.4m0.6 0h1.4m1.1 0h1.9m0.5 0h1.9m0.1 0h2.9m0.6 0h1.4m0.6 0h1.4m0.6 0h2.4m0.6 0h2.8m0.6 0h1.4m0.1 0h2.4m1.6 0h1.9m0.6 0h1.4m0.6 0h1.9m4.5 0h1.4m5.6 0h1.4m0.1 0h1.4m29.8 0h1.4m0.1 0h1.4m1.1 0h1.4m5.6 0h1.4m5.5 0h1.4m6.1 0h3.3m2.6 0h1.4m25.4 0h2.4m24.9 0h1.4m23 0h1.4m6 0h1.9m1.1 0h1.4m14 0h1.4m3.5 0h1.4m14 0h1.4m1.6 0h1.4m8.5 0h1.4m1.1 0h1.4m5.6 0h1.4M79.3 170.73h1.4m5.5 0h1.4m2.1 0h1.4m9.5 0h1.4m8 0h1.4m23.5 0h1.9m14.4 0h1.4m0.6 0h1.4m0.6 0h1.4m23.4 0h1.4m4.6 0h1.4m1.1 0h1.4m9 0h1.4m12 0h1.4m6.6 0h1.4m4.5 0h1.4m1.1 0h1.4m19.9 0h1.4m12.5 0h1.4m7.1 0h1.4m1.6 0h1.4m4 0h1.4m5.1 0h1.4m12 0h1.4m1.1 0h1.4m1 0h1.4m0.6 0h1.4m0.6 0h1.4m2.6 0h1.4m0.6 0h4.4m0.5 0h3.4m1.6 0h2.9m1.6 0h4.3m0.1 0h3.9m3.6 0h2.9m2.5 0h1.4m2.6 0h1.4m2.1 0h2.9m24.9 0h1.9m1.6 0h1.4m20.4 0h1.4m21 0h1.4m3.5 0h1.9m14.5 0h1.4m10 0h1.4m31.9 0h1.4m5 0h1.4m0.6 0h1.4m19 0h1.4m6.5 0h1.4m13 0h1.4m0.6 0h1.4m17.5 0h1.4M82.7 173.03h1.4m53.2 0h1.4m24.5 0h1.4m15.4 0h1.4m6.1 0h1.4m3.5 0h1.4m3.1 0h1.4m3.6 0h1.4m7.5 0h1.4m0.1 0h1.4m0.1 0h1.9m45.8 0h1.4m47.2 0h1.4m3.1 0h1.4m0.6 0h2.9m0.5 0h3.4m4.1 0h1.4m1.1 0h1.4m15.5 0h1.4m1 0h2.4m15.5 0h1.4m4.1 0h1.4m5.5 0h1.4m17 0h1.4m19.4 0h1.4m15 0h1.4m54.2 0h1.4m33.9 0h1.4m7.5 0h1.4M93.2 175.34h1.4m7 0h1.4m26.9 0h1.4m11.5 0h1.4m20.9 0h1.4m4.1 0h1.4m33.9 0h1.4m29.3 0h1.4m34.4 0h1.4m4.5 0h1.4m3.1 0h1.9m14 0h1.4m3.1 0h1.4m0.1 0h2.8m2.6 0h1.4m2.1 0h1.4m1.6 0h1.4m8 0h1.4m0.6 0h1.4m4.5 0h1.4m1.6 0h1.4m1.6 0h1.4m3.1 0h2.4m3.5 0h1.4m0.1 0h1.4m0.6 0h2.4m7.5 0h1.4m4.6 0h1.4m5.5 0h1.4m34.4 0h1.4m45.7 0h1.4m21.5 0h1.4m3.1 0h1.4m35.3 0h1.4m24.4 0h1.4m7.1 0h1.4M100.6 177.64h1.4m19.5 0h1.4m81.5 0h1.4m14.5 0h2.8m29.4 0h1.4m42.8 0h1.4m11 0h1.4m1.6 0h2.4m3.6 0h1.4m0.5 0h1.4m3.1 0h1.4m3.6 0h2.4m5 0h1.4m1.6 0h2.4m0.6 0h2.4m6 0h1.4m25.4 0h1.4m43.8 0h1.4m20.5 0h1.4m10.5 0h1.4m4.5 0h1.4m59.7 0h1.4m23.9 0h1.4M92.7 179.95h2.4m22.4 0h1.4m2.6 0h1.4m33.3 0h1.4m5.6 0h1.4m7.5 0h1.4m2.1 0h1.4m23.9 0h1.4m63.1 0h1.4m22.5 0h1.4m9 0h1.4m0.1 0h1.4m4 0h1.4m4.6 0h1.4m2.1 0h1.4m2 0h2.4m4.6 0h1.9m0.6 0h1.4m5 0h1.4m2.6 0h2.4m2.6 0h1.4m10.5 0h1.4m39.3 0h1.4m3.1 0h1.4m2.5 0h1.4m51.8 0h1.9m6.5 0h1.4m1.1 0h1.4m17.4 0h1.4m1.6 0h1.9m12 0h2.4m14 0h1.9m4.6 0h1.4"/>
<path d="M93.2 182.25h1.4m75.5 0h1.4m9.5 0h1.4m9.1 0h1.4m6.5 0h1.4m15 0h1.4m8.5 0h1.4m28.4 0h1.4m14 0h1.4m8 0h1.4m3.6 0h1.4m9 0h1.4m22.9 0h3.9m2.1 0h1.4m1.1 0h1.4m2.1 0h1.4m2.5 0h1.4m1.1 0h1.4m1.1 0h1.4m2.1 0h1.4m0.1 0h1.4m24.9 0h1.4m1.1 0h1.4m0.5 0h1.9m42.3 0h1.4m3.6 0h1.4m20.9 0h1.4m0.6 0h1.9m7.1 0h1.4m15.4 0h1.4m2.6 0h1.4m2.1 0h1.4m5.5 0h1.4m4.6 0h1.4m13.5 0h1.4m12 0h1.4m17.5 0h1.4m2.5 0h1.4m11 0h1.4m10.1 0h1.4M150.2 184.55h1.4m1.1 0h1.4m2.1 0h1.4m49.2 0h1.4m2.1 0h1.4m41.3 0h1.4m4.1 0h1.4m14.5 0h1.4m7.5 0h1.4m17 0h2.4m1 0h1.4m5.1 0h2.4m0.1 0h2.4m2.5 0h1.4m1.1 0h1.4m4.1 0h2.9m6.5 0h1.9m11 0h1.4m3.6 0h1.4m19 0h1.4m6.5 0h1.4m0.6 0h1.4m2.6 0h1.4m13.4 0h1.4m16 0h1.4m29.9 0h2.4m39.3 0h2.4m10 0h1.4m43.3 0h1.4M108 186.86h1.4m14 0h1.4m20.5 0h2.4m9 0h1.4m5.1 0h1.4m1.5 0h1.4m1.1 0h1.4m8.5 0h1.4m50.8 0h1.4m13 0h1.4m7.5 0h1.4m29.9 0h1.4m3.1 0h1.4m3.5 0h1.9m5.6 0h1.4m9 0h1.4m1.6 0h1.9m0.6 0h1.4m1.5 0h1.4m5.1 0h1.4m2.1 0h2.4m2.5 0h2.9m7.1 0h1.4m9.5 0h1.9m1.6 0h1.4m11.5 0h1.4m28.4 0h1.4m9 0h1.4m48.2 0h1.4m11 0h1.4m24.5 0h1.4m12 0h1.4m6.5 0h1.4m7 0h1.4m3.1 0h1.4m0.6 0h1.4m26.9 0h1.4M81.7 189.16h1.4m15 0h1.4m7.6 0h1.4m6.5 0h1.4m10 0h1.4m12 0h1.4m23.4 0h1.4m22 0h1.4m0.1 0h1.4m12 0h1.4m4 0h1.4m9.6 0h1.4m13.9 0h1.4m0.6 0h1.4m1.6 0h1.4m6.6 0h1.9m18.4 0h1.4m2.1 0h1.4m11 0h1.9m2.6 0h1.4m16.9 0h1.4m0.1 0h1.4m4.1 0h1.4m3.6 0h2.8m0.6 0h1.4m0.6 0h1.4m1.1 0h1.4m0.6 0h1.9m0.1 0h1.4m0.6 0h1.4m5.5 0h1.4m1.1 0h1.4m1.6 0h1.4m1.5 0h2.4m7.6 0h1.4m2.5 0h1.4m1.1 0h1.4m5.6 0h1.4m8.5 0h1.4m0.1 0h1.4m12.5 0h1.4m1.6 0h1.4m48.7 0h1.4m2.1 0h1.4m9 0h1.4m18.5 0h1.4m1.6 0h1.4m16.9 0h1.4m14 0h1.4m21.5 0h1.4m3.5 0h1.4m20 0h1.4M86.2 191.47h1.4m39.8 0h1.4m19 0h1.4m0.1 0h1.4m67.6 0h1.4m0.1 0h1.4m2 0h1.4m4.1 0h1.4m10 0h1.4m15 0h1.4m12.5 0h1.4m0.1 0h1.4m4.5 0h1.4m11.6 0h1.4m1.5 0h1.4m3.1 0h1.9m3.1 0h1.4m1 0h1.9m0.6 0h1.4m7.6 0h1.4m5 0h1.9m5.1 0h1.4m0.6 0h1.8m2.1 0h1.4m7.1 0h1.4m3 0h1.4m6.1 0h2.9m8 0h1.4m0.6 0h1.4m25.9 0h1.4m18.9 0h2.4m13.5 0h1.4m7.1 0h1.4m13 0h1.4m33.3 0h1.4m26.4 0h1.4m16 0h1.4m0.1 0h1.4m5 0h1.4m7.6 0h1.4M102.1 193.78h1.4m54.7 0h1.4m10 0h1.4m31.9 0h1.4m2.1 0h1.4m36.3 0h1.4m24.9 0h1.4m18 0h2.8m3.1 0h1.4m12 0h1.4m1.6 0h2.4m2.1 0h3.8m2.1 0h1.4m0.1 0h3.9m1.1 0h2.9m11.5 0h1.4m0.6 0h1.4m10.5 0h1.4m67.1 0h1.4m26.4 0h1.4M92.7 196.08h1.4m3.5 0h1.4m0.6 0h1.4m2.6 0h1.4m4 0h1.4m19 0h1.4m10 0h1.4m10.5 0h1.9m18.5 0h1.4m2.1 0h1.4m0.5 0h1.4m4.1 0h1.4m12.5 0h1.4m4.1 0h1.4m15.9 0h1.4m2.6 0h1.4m7.1 0h1.4m10.5 0h2.4m1.1 0h2.3m0.1 0h1.4m1.6 0h1.4m1.6 0h1.4m7.5 0h1.4m0.1 0h1.4m11.5 0h1.4m7.6 0h1.4m1 0h1.4m3.6 0h1.4m1.1 0h4.9m0.6 0h2.3m4.6 0h2.9m0.6 0h7.8m0.6 0h1.4m1.6 0h1.4m0.6 0h1.4m0.6 0h6.3m0.6 0h1.9m0.1 0h2.9m1.6 0h3.4m1 0h1.4m12 0h1.4m1.6 0h1.4m0.6 0h1.4m2.6 0h1.4m10 0h1.4m4.6 0h2.4m1.5 0h1.9m0.1 0h1.4m0.1 0h1.4m12.5 0h1.4m12.5 0h1.4m5.6 0h1.4m4.5 0h1.4m3.1 0h1.4m3.1 0h1.4m2.5 0h1.4m0.1 0h1.9m2.6 0h1.4m34.3 0h2.4m3.6 0h1.4m5 0h1.4m13.5 0h1.4m11.5 0h1.4m1.1 0h1.4m3.6 0h1.4m14.5 0h2.4m5.5 0h1.4m3.6 0h1.4M82.7 198.39h1.4m3.6 0h1.4m14.5 0h1.4m22.4 0h4.4m17 0h1.4m3.5 0h1.4m0.1 0h1.4m0.1 0h1.4m2.1 0h1.4m0.1 0h1.9m19.9 0h1.4m14 0h1.4m3.1 0h1.4m5 0h1.4m0.6 0h1.4m2.6 0h1.4m3.5 0h1.4m2.6 0h1.4m13.5 0h1.4m15 0h1.4m6 0h1.4m0.6 0h1.4m1.1 0h1.4m3.6 0h1.9m8.5 0h1.4m4.1 0h1.4m4.5 0h1.9m0.1 0h1.4m2.1 0h1.4m0.1 0h1.9m1.1 0h2.8m1.1 0h2.9m2.1 0h3.9m1.1 0h2.3m4.1 0h1.4m0.1 0h3.4m2.1 0h5.3m0.1 0h1.4m2.1 0h1.4m1.1 0h2.9m5 0h1.9m0.1 0h1.4m3.1 0h1.4m2.5 0h1.4m1.6 0h1.4m13.5 0h1.4m6.6 0h1.4m3 0h2.4m2.6 0h1.4m7.5 0h1.4m1.1 0h1.4m0.1 0h1.4m20.4 0h1.4m7.1 0h1.9m0.1 0h1.4m2.5 0h1.4m9.6 0h1.4m1.5 0h1.4m4.6 0h1.4m8 0h1.4m2.1 0h1.4m3.1 0h1.4m5 0h1.4m4.6 0h1.4m0.6 0h2.4m5.5 0h1.4m1.1 0h1.4m5.1 0h1.4m9 0h1.4m8 0h1.4m9 0h1.4m6.6 0h1.4m0.1 0h1.4"/>
<path d="M104.1 200.69h1.4m2.1 0h1.4m6.5 0h1.4m6 0h1.4m33.4 0h1.4m7 0h1.4m4.6 0h1.4m16 0h1.4m1.5 0h1.4m44.8 0h1.4m20 0h1.4m8 0h1.4m18 0h1.4m2 0h1.9m0.6 0h1.4m2.6 0h1.4m4.1 0h2.3m5.6 0h1.4m2.1 0h2.4m0.1 0h2.3m0.1 0h3.9m1.1 0h1.4m1.1 0h1.4m4 0h1.4m1.1 0h1.4m0.6 0h1.4m0.1 0h2.4m8.5 0h1.4m0.6 0h2.4m5.1 0h1.4m1 0h1.4m11.5 0h1.4m8.1 0h1.4m15.5 0h1.4m12 0h1.4m2 0h1.4m5.1 0h1.4m11 0h1.4m56.2 0h1.4m28.4 0h1.4m36.8 0h1.4M101.6 203h1.4m2.1 0h1.4m5 0h1.4m16 0h1.4m3.1 0h1.4m6 0h1.4m1.6 0h1.4m9.5 0h1.4m9.5 0h1.4m22.5 0h1.4m4 0h1.4m16.5 0h1.9m9.5 0h1.4m1.6 0h1.4m6 0h1.4m22 0h1.4m4.5 0h2.4m2.1 0h1.4m5.1 0h1.4m4 0h1.4m2.1 0h1.9m1.1 0h1.4m6 0h1.9m0.6 0h2.4m2.6 0h1.4m4.5 0h2.4m4.1 0h1.4m0.1 0h2.4m2 0h5.9m0.1 0h1.4m0.1 0h3.9m0.6 0h2.3m0.1 0h2.4m1.1 0h3.4m1.6 0h1.4m2.1 0h2.8m0.1 0h1.4m0.1 0h1.4m5.6 0h1.4m11.5 0h1.4m20.9 0h2.4m2.6 0h2.9m9 0h1.4m7.5 0h1.4m11.5 0h1.4m9.6 0h1.4m1.5 0h1.4m2.6 0h1.4m5.6 0h1.4m0.1 0h1.4m0.5 0h1.4m0.1 0h1.9m9.1 0h1.4m6 0h1.4m1.6 0h1.4m0.1 0h1.4m6 0h1.4m7.6 0h1.4m5.5 0h1.4m8.5 0h2.4m9.1 0h1.4m8.5 0h1.9m14 0h1.4m7.5 0h1.4M105.1 205.3h1.4m4.5 0h1.4m28.4 0h1.4m6.6 0h2.4m1.5 0h1.4m44.3 0h1.4m11.5 0h1.4m2.6 0h1.4m31.4 0h1.4m17.9 0h1.4m38.8 0h5.9m4.1 0h2.8m10.6 0h3.3m0.1 0h1.4m2.6 0h1.4m5.6 0h2.4m5.5 0h1.9m0.1 0h1.4m2.1 0h1.4m1.5 0h1.4m62.2 0h1.4m0.1 0h1.9m29.4 0h1.4m25.4 0h1.4m3.5 0h1.4m15 0h1.4m61.7 0h1.4M92.2 207.6h2.4m23.4 0h1.4m30.4 0h1.4m11 0h1.4m14.9 0h1.4m32.4 0h1.4m30.4 0h1.4m32.3 0h1.4m0.6 0h1.4m10.5 0h1.4m10.1 0h1.4m3.5 0h3.4m1.1 0h1.9m1.1 0h1.4m3.5 0h1.9m2.1 0h1.4m0.1 0h1.4m0.1 0h1.4m0.6 0h1.4m8 0h1.4m1.1 0h1.4m3.1 0h2.4m6.5 0h1.4m9.5 0h1.4m12.5 0h1.4m9 0h1.4m35.9 0h1.4m25.9 0h1.4m0.1 0h1.4m7.5 0h1.4m1.1 0h1.4m12.5 0h1.4m18 0h1.4m13 0h1.4m9.5 0h1.4m15.5 0h2.8M79.8 209.91h1.4m79.5 0h1.4m6 0h1.4m25.9 0h1.4m19 0h1.4m16 0h1.4m12 0h1.4m2 0h1.4m49.3 0h1.4m3 0h3.4m1.1 0h1.4m1.1 0h2.9m3.1 0h3.8m1.6 0h1.4m2.6 0h1.4m0.6 0h1.4m5.5 0h1.4m2.6 0h1.4m1.1 0h1.4m1.1 0h1.4m0.5 0h1.4m0.1 0h1.4m0.1 0h1.4m0.1 0h1.4m4.6 0h1.4m7 0h1.4m3.1 0h1.4m20.9 0h1.4m12.5 0h1.4m66.6 0h1.4m26.4 0h1.4m40.8 0h1.4m5.6 0h1.4M85.2 212.21h1.4m32.4 0h1.4m7 0h1.4m18.5 0h1.4m9.5 0h1.4m12 0h1.4m9.5 0h1.4m1.6 0h1.4m28.9 0h1.4m20.9 0h1.4m15.5 0h1.4m10 0h1.4m10 0h1.4m18 0h1.4m4.1 0h1.4m6.5 0h1.4m1.6 0h1.4m2.6 0h1.4m6 0h1.4m0.6 0h1.4m2.6 0h2.9m0.5 0h1.9m8.6 0h1.4m2 0h2.4m2.6 0h1.4m12 0h1.4m18.5 0h1.4m0.1 0h1.4m45.7 0h1.4m0.6 0h1.4m74.1 0h1.4m7 0h1.4m40.3 0h1.4M81.7 214.52h1.4m1.6 0h2.4m0.6 0h1.4m1.1 0h1.4m1.1 0h1.4m5.5 0h1.4m15.5 0h1.4m12 0h1.9m2.1 0h1.4m0.1 0h1.4m17.9 0h1.4m2.1 0h1.4m42.3 0h1.4m3.5 0h1.4m2.6 0h1.4m4.1 0h1.4m1.6 0h1.4m3.5 0h1.4m18 0h1.4m22.4 0h1.4m20 0h1.4m7 0h1.9m0.1 0h2.4m2.1 0h5.3m0.1 0h3.4m0.6 0h2.9m4 0h2.4m0.6 0h1.9m1.1 0h1.4m0.1 0h1.4m0.1 0h2.4m0.6 0h1.4m2 0h2.4m2.6 0h1.4m1.6 0h2.9m2.5 0h1.9m1.1 0h1.4m18.5 0h1.4m0.1 0h1.4m6.5 0h1.4m2.1 0h1.4m4 0h1.4m2.6 0h1.4m31.9 0h1.4m2.6 0h1.4m8 0h1.4m3.1 0h1.4m14.4 0h1.4m8.1 0h1.4m0.6 0h1.4m13.9 0h1.4m0.1 0h1.4m34.9 0h1.4m0.1 0h1.4m5.5 0h1.4m24.4 0h1.4m6.6 0h1.4M85.2 216.82h1.4m2.6 0h1.9m17.9 0h1.4m0.6 0h1.4m19 0h1.4m0.6 0h1.4m34.3 0h1.4m3.1 0h1.4m13 0h1.4m6 0h1.4m9.1 0h1.4m26.4 0h1.4m2.5 0h1.4m11.5 0h1.4m36.9 0h1.4m15.9 0h1.4m1.6 0h2.4m2.1 0h1.4m0.6 0h1.4m0.1 0h1.4m2 0h1.4m3.1 0h1.9m1.6 0h1.4m0.6 0h1.4m2.5 0h1.4m0.1 0h1.4m0.1 0h1.9m1.6 0h1.4m0.6 0h1.4m0.1 0h1.9m0.6 0h2.3m3.1 0h1.4m4.1 0h1.4m78 0h1.4m17 0h1.4m40.3 0h1.4m4 0h1.4m30.4 0h1.4m14.5 0h1.4m3.6 0h1.4"/>
<path d="M102.1 219.13h1.4m10.5 0h1.4m11 0h1.4m7.6 0h1.4m111.3 0h1.4m39.3 0h1.4m6 0h1.4m1.6 0h1.4m1.6 0h1.9m0.1 0h1.4m1.5 0h1.4m0.1 0h1.4m1.6 0h2.9m5 0h1.4m2.1 0h1.4m7.6 0h3.8m3.1 0h1.4m20 0h1.4m9 0h1.4m39.3 0h1.4m1.1 0h1.4m1.6 0h1.4m3 0h2.4m0.6 0h1.4m12.5 0h2.4m17.5 0h1.4m32.3 0h1.4m7.6 0h1.4m0.5 0h1.4m1.6 0h1.4m0.1 0h1.9M106.6 221.44h1.4m82 0h1.4m24.9 0h1.4m66.1 0h1.4m2.1 0h1.4m12 0h1.4m0.1 0h1.4m6.5 0h1.4m1.6 0h2.4m2.1 0h1.4m2.5 0h1.4m2.1 0h1.4m3.6 0h1.4m0.1 0h4.8m4.1 0h2.4m44.3 0h1.4m14.9 0h1.4m25 0h1.4m1 0h1.4m24 0h1.4m52.7 0h1.4m39.3 0h1.4M95.6 223.74h1.4m7.6 0h1.4m38.8 0h1.4m7 0h1.4m2.1 0h1.9m3.6 0h1.9m6 0h1.4m13 0h1.4m46.3 0h2.4m1 0h1.4m6.6 0h1.4m13.5 0h1.4m6 0h1.4m0.1 0h1.4m8 0h1.4m4.1 0h1.4m5.6 0h1.4m13 0h1.4m2.5 0h1.4m1.1 0h1.9m3.1 0h2.4m0.1 0h1.4m1.5 0h1.9m0.1 0h1.4m0.1 0h1.4m0.6 0h1.4m1.1 0h1.4m0.1 0h2.9m0.5 0h1.4m0.1 0h1.4m1.6 0h1.9m0.1 0h1.4m3.6 0h2.4m1.5 0h1.4m3.6 0h1.4m0.6 0h1.4m1.1 0h1.9m14.5 0h1.8m16.5 0h1.4m10 0h1.4m5.1 0h1.4m22.4 0h1.4m12 0h1.4m3.6 0h1.4m0.6 0h1.4m3.5 0h2.4m4.1 0h1.4m3.1 0h1.4m0.1 0h1.4m6.5 0h1.4m34.3 0h1.4m9.1 0h1.4m42.8 0h1.4M80.7 226.05h1.4m4.6 0h1.4m33.9 0h1.4m1.5 0h1.4m14.5 0h1.4m0.6 0h1.4m8 0h1.4m0.1 0h1.4m8.1 0h1.4m23.4 0h1.4m7 0h1.4m12 0h1.4m1.1 0h1.4m5.1 0h1.4m7 0h1.4m9.5 0h1.4m14 0h1.4m0.1 0h1.4m13 0h1.4m6.5 0h1.9m5.6 0h1.4m3.6 0h1.4m8 0h1.4m0.1 0h1.4m1.6 0h1.4m1.5 0h1.4m0.1 0h2.9m0.1 0h1.4m0.1 0h2.4m0.1 0h1.4m0.6 0h4.3m1.1 0h1.4m0.1 0h1.4m2.6 0h2.4m0.6 0h3.3m0.1 0h1.9m7.6 0h1.4m1.1 0h2.3m1.6 0h1.9m5.1 0h1.4m1.6 0h1.4m4 0h1.4m13 0h1.9m25.4 0h1.4m44.8 0h1.4m14 0h1.4m8 0h1.4m16 0h1.4m19.4 0h1.4m25.9 0h1.9m3.1 0h1.4m9 0h2.4m0.1 0h1.4m2.1 0h1.4M84.7 228.35h1.4m13.5 0h1.4m33.4 0h1.4m0.5 0h1.9m20 0h2.4m5 0h1.4m6.1 0h1.4m5.5 0h1.4m36.9 0h1.4m37.3 0h1.4m0.1 0h1.4m18.9 0h1.4m2.6 0h1.4m6.1 0h1.4m3 0h1.4m11 0h1.4m3.6 0h1.4m0.6 0h1.4m7 0h1.4m1.6 0h1.4m0.6 0h2.4m1.6 0h3.3m0.6 0h2.4m0.1 0h2.4m11 0h2.4m6.1 0h1.4m2.5 0h1.4m23 0h1.4m28.8 0h1.4m0.6 0h1.4m4.1 0h1.4m6 0h1.4m36.4 0h1.4m3.5 0h1.9m5.1 0h1.4m2.6 0h1.4m4 0h1.4m0.1 0h1.4m13.5 0h1.4m12.5 0h1.4m12 0h1.4m4.6 0h1.4m20.9 0h1.4m6.1 0h1.4M110.5 230.65h1.4m18.5 0h1.9m25.9 0h1.4m46.3 0h1.4m28.3 0h1.4m4.6 0h1.4m22.4 0h1.4m2.6 0h2.4m21.9 0h1.4m4.1 0h1.9m1.6 0h1.4m2 0h1.4m1.1 0h2.4m5.1 0h1.4m5.5 0h1.4m1.6 0h1.4m8 0h1.4m10.1 0h2.3m5.1 0h1.4m43.8 0h1.4m86 0h1.4m11.5 0h1.4m15.9 0h1.4m24 0h1.4m24.9 0h1.4M82.2 232.96h1.4m123.7 0h1.4m1.1 0h1.4m15.5 0h1.4m52.7 0h1.4m8.6 0h1.4m9 0h1.4m13 0h1.4m3.5 0h1.4m1.1 0h1.9m0.6 0h1.4m0.6 0h1.4m2.6 0h1.4m2 0h1.4m0.6 0h2.9m7.1 0h2.3m0.1 0h1.4m5.6 0h1.4m4 0h1.4m23 0h1.4m9.5 0h1.4m55.7 0h1.4m9.5 0h1.4m16.5 0h1.4m5.5 0h1.4m24.9 0h1.4m3.6 0h1.4m6.1 0h1.4m6 0h1.4M97.6 235.26h1.4m57.7 0h3.4m4.1 0h1.4m4 0h1.4m15 0h1.4m24.4 0h1.4m0.1 0h1.4m35.8 0h1.4m28.9 0h1.4m0.1 0h1.4m6.1 0h1.4m3 0h1.4m0.1 0h1.4m3.1 0h1.9m16 0h1.4m0.5 0h1.4m1.1 0h1.4m3.6 0h2.4m11.5 0h1.9m82 0h1.4m19.9 0h1.4m38.9 0h1.4m15.9 0h1.4m3.6 0h1.4m39.8 0h1.9"/>
<path d="M89.7 237.57h1.4m62.6 0h1.4m46.3 0h1.4m1.6 0h1.4m28.8 0h1.4m12.6 0h1.4m10.5 0h1.4m30.8 0h1.4m18 0h1.4m5.5 0h1.4m3.6 0h1.4m1.1 0h1.9m2.1 0h1.4m16.9 0h1.4m24.9 0h1.4m2.1 0h1.4m8.1 0h1.4m8.5 0h1.4m16 0h1.4m26.9 0h1.4m90.9 0h1.4m32.4 0h1.4M89.7 239.88h1.4m4.5 0h1.4m21.5 0h1.4m2.5 0h1.4m21.5 0h1.4m14.5 0h1.4m7 0h1.4m21.9 0h1.4m11.1 0h1.4m15.4 0h1.4m37.9 0h1.4m1.5 0h1.4m9.1 0h1.4m8.5 0h1.4m1.1 0h1.4m16.9 0h1.4m6.6 0h1.4m11 0h1.9m3.6 0h1.9m2 0h1.9m3.6 0h1.9m2.1 0h1.9m0.5 0h1.4m1.1 0h1.9m14 0h1.4m3.6 0h1.4m12.5 0h1.4m2.1 0h1.4m2 0h1.4m1.6 0h1.4m31.4 0h1.4m45.2 0h1.4m6.6 0h1.4m9 0h1.4m30.4 0h1.4m2.1 0h1.4m1.5 0h1.4m5.6 0h1.4M83.2 242.18h2.4m9.5 0h1.9m25 0h1.4m14.4 0h1.4m53.7 0h1.4m47.3 0h1.4m46.3 0h1.4m1 0h1.4m11.1 0h2.3m7.1 0h1.9m5.5 0h3.4m2.1 0h1.4m0.1 0h1.4m1.6 0h1.4m4 0h1.4m0.1 0h1.4m1.1 0h1.4m2.1 0h1.9m9 0h1.4m3.1 0h1.4m2.5 0h1.4m4.1 0h1.4m40.3 0h1.4m37.8 0h1.4m4.1 0h1.4m14.5 0h1.4m18.9 0h1.4m13 0h1.4m2.6 0h1.4m2.6 0h1.4m0.6 0h1.4m6 0h1.4m9.5 0h1.4M79.3 244.49h1.4m18.9 0h1.9m2.6 0h1.4m12 0h1.4m4 0h2.4m8.6 0h1.4m12 0h1.4m1.5 0h1.9m16.5 0h1.4m6.6 0h1.4m0.5 0h1.4m9.6 0h1.9m10 0h1.4m2.6 0h1.4m16.9 0h2.4m3.1 0h1.4m7 0h1.4m29.4 0h1.4m0.1 0h1.4m5.1 0h1.4m0.5 0h1.4m8.6 0h1.4m8 0h1.9m2.1 0h1.4m1.6 0h1.4m1.5 0h2.9m0.6 0h1.4m5.1 0h5.8m0.6 0h6.4m2.1 0h2.3m0.6 0h1.4m0.1 0h1.4m2.6 0h2.4m3.1 0h1.4m1 0h1.4m1.1 0h4.4m2.1 0h1.4m1.6 0h1.4m1 0h1.4m0.1 0h1.4m1.1 0h1.4m6.1 0h1.4m3.5 0h1.4m1.1 0h1.4m3.1 0h1.4m44.2 0h1.4m1.1 0h1.4m0.6 0h1.4m0.1 0h1.4m16 0h1.4m2.1 0h1.4m20.9 0h1.4m5.5 0h1.4m9.6 0h1.4m10.5 0h1.4m16 0h1.4m4 0h1.4m13.5 0h1.4m11.5 0h1.4m2.6 0h1.4M80.2 246.79h1.4m20.5 0h1.4m4.5 0h1.4m2.6 0h1.4m5.1 0h1.4m16.9 0h2.4m4.6 0h1.4m6.5 0h1.4m11.1 0h1.4m5 0h1.4m2.1 0h1.4m17.4 0h1.4m3.1 0h1.4m13 0h1.4m19 0h1.4m17.4 0h1.9m10.5 0h1.4m2.1 0h1.4m13 0h1.4m5.1 0h1.4m7.5 0h1.4m0.1 0h1.4m6 0h6.9m0.1 0h2.4m0.1 0h5.3m0.1 0h1.4m2.1 0h1.4m1.6 0h5.4m3 0h1.9m4.6 0h2.4m1.6 0h1.9m2 0h1.9m1.6 0h1.4m3.6 0h1.4m10.5 0h1.4m3.1 0h1.4m3 0h1.4m2.6 0h1.4m3.6 0h1.4m7 0h1.4m11.5 0h1.4m1.6 0h2.4m15 0h1.4m18.4 0h1.4m23.9 0h1.4m0.1 0h1.4m8.1 0h1.4m7 0h1.4m13 0h1.4m0.1 0h1.4m50.7 0h1.4m2.6 0h1.9M142.3 249.1h1.4m0.6 0h1.4m25.4 0h1.4m2.6 0h1.4m13.5 0h1.4m8 0h1.4m5.1 0h1.4m7 0h2.4m9.5 0h1.4m0.6 0h1.4m5 0h1.4m21 0h1.4m1.1 0h1.4m8 0h1.4m16.5 0h1.4m1.1 0h1.4m6 0h1.4m3.1 0h1.9m0.6 0h3.3m1.6 0h2.4m0.1 0h3.4m0.1 0h1.4m0.6 0h1.4m1 0h4.4m4.1 0h1.4m0.6 0h3.4m1 0h1.4m0.6 0h2.4m0.6 0h1.4m1.6 0h1.4m6.5 0h1.4m1.1 0h1.4m4.6 0h1.4m1.1 0h1.4m37.3 0h1.4m3 0h1.4m16.5 0h1.4m20 0h1.4m2.5 0h1.4m6.6 0h1.4m11 0h1.4m14.5 0h1.4m2.1 0h1.4m2.5 0h1.4m31.9 0h1.4m17.5 0h1.4m27.4 0h1.4M91.7 251.4h1.4m8 0h1.4m8 0h1.4m17 0h1.4m26.4 0h1.4m23.9 0h1.4m10 0h1.4m7.1 0h1.4m19.4 0h1.4m1.1 0h1.4m41.8 0h1.4m11 0h1.4m5.1 0h2.4m0.1 0h2.8m0.6 0h1.4m0.1 0h1.4m2.6 0h1.4m4.6 0h1.4m1.5 0h1.4m0.1 0h1.4m0.6 0h1.9m1.1 0h1.4m1.1 0h1.9m0.1 0h4.3m1.1 0h1.9m2.1 0h1.4m0.1 0h1.9m0.6 0h2.8m0.6 0h2.4m0.1 0h2.9m5.1 0h3.3m20.5 0h1.4m2.6 0h1.4m23.9 0h1.4m24.4 0h1.4m4.1 0h1.4m1 0h1.4m6.1 0h1.4m2.1 0h1.4m21.9 0h1.4m1.1 0h1.4m15.5 0h1.4m2 0h1.4m0.1 0h1.4m5.6 0h1.4m4 0h1.4m7.1 0h1.4m11.5 0h1.4m2.1 0h1.4m1.5 0h1.9m0.6 0h1.4m8.1 0h1.4m4.5 0h1.4m5.6 0h1.4m6 0h1.4M91.7 253.7h1.4m1 0h1.4m26 0h1.4m17.4 0h1.4m43.8 0h1.4m40.3 0h1.4m18 0h1.4m7 0h1.4m1.6 0h2.4m15 0h1.4m4.5 0h1.4m12.5 0h1.4m1.6 0h1.4m5.5 0h1.4m1.1 0h2.4m0.6 0h1.4m0.6 0h1.4m3.1 0h2.9m4 0h1.4m1.6 0h1.4m2.1 0h1.4m1 0h1.4m5.1 0h1.4m6.5 0h1.4m0.6 0h1.4m1.1 0h1.4m5.6 0h1.4m14 0h1.4m27.8 0h1.4m50.3 0h1.4m22.4 0h1.4m3.6 0h1.4m35.3 0h1.4m38.3 0h1.9"/>
<path d="M85.7 256.01h1.4m41.3 0h1.4m13 0h1.4m5.6 0h1.4m0.5 0h2.4m41.8 0h1.4m7.1 0h1.4m14 0h1.4m13.4 0h1.4m20.5 0h1.4m7 0h1.4m9.6 0h1.4m21.9 0h1.4m4.1 0h1.4m4.5 0h1.9m0.1 0h2.9m0.6 0h1.4m0.1 0h1.4m2 0h1.4m6.1 0h1.9m1.6 0h2.8m0.6 0h1.4m0.1 0h1.4m1.1 0h2.4m0.1 0h1.4m7 0h1.4m3.6 0h1.4m13.5 0h1.4m24.9 0h1.4m112.3 0h1.4m2.1 0h1.4m18.4 0h1.4m29.9 0h1.4m5.6 0h1.4M88.2 258.31h1.4m1.6 0h1.4m47.2 0h1.4m8.1 0h1.4m43.2 0h1.9m5.1 0h1.4m0.1 0h1.4m18.9 0h1.4m32.9 0h1.4m10 0h1.9m33.4 0h1.4m3 0h2.4m1.6 0h1.4m7.5 0h1.4m3.6 0h2.4m2.1 0h1.4m2 0h1.4m4.1 0h1.4m9 0h1.4m20 0h1.4m1.6 0h1.4m17.4 0h1.4m13.5 0h1.4m66.6 0h1.4m6.1 0h1.4m3.5 0h1.4m28.4 0h1.4m20 0h1.4M106.6 260.62h1.4m14 0h1.4m9.5 0h1.4m107.8 0h1.4m12.5 0h1.4m19.4 0h1.4m20.5 0h1.4m10 0h1.4m3.6 0h2.4m0.6 0h1.4m17.4 0h2.9m4.1 0h2.4m87.9 0h1.4m8.6 0h1.4m7.5 0h1.4m7.5 0h1.4m62.2 0h1.4m20.9 0h1.4M103.6 262.92h1.4m6 0h1.4m7.1 0h1.4m12 0h1.4m34.3 0h1.4m32.9 0h1.4m14 0h1.4m13 0h1.4m11.5 0h1.4m18.4 0h1.4m7.6 0h1.4m24.9 0h1.4m1.6 0h1.9m1.5 0h1.4m1.1 0h1.9m5.1 0h1.4m2 0h2.4m1.6 0h3.9m6 0h2.4m0.1 0h1.9m0.1 0h2.4m1.6 0h1.4m4.5 0h1.4m37.9 0h1.4m0.5 0h1.4m3.1 0h1.4m4.1 0h1.4m2.5 0h1.4m7.1 0h1.4m3.6 0h1.4m11 0h1.4m22.4 0h1.4m9.5 0h1.4m9.5 0h1.4m7.6 0h1.4m3 0h1.4m6.6 0h1.9m1.1 0h1.4m38.8 0h1.4m19.4 0h1.4m6.1 0h1.4M95.1 265.23h1.9m0.6 0h1.4m34.9 0h1.4m44.7 0h1.4m5.1 0h1.4m0.1 0h1.4m64.1 0h1.4m1.1 0h1.4m7 0h2.4m1.1 0h2.4m8.5 0h1.4m18.5 0h1.4m3.6 0h1.4m1 0h1.4m3.1 0h2.4m0.6 0h2.9m1.6 0h1.4m1 0h2.9m1.6 0h1.4m0.6 0h1.4m1.1 0h1.4m0.1 0h1.4m2 0h1.9m4.6 0h1.9m16 0h1.4m0.1 0h1.4m16.4 0h1.9m9.1 0h1.4m33.3 0h1.4m3.1 0h1.4m15.5 0h1.4m3 0h1.4m0.6 0h1.4m33.9 0h1.4m9.5 0h1.4m14 0h1.9m10 0h1.4m19.4 0h1.4m13 0h1.4m5.1 0h1.4M83.7 267.54h1.4m9.5 0h1.4m8.6 0h1.4m27.4 0h1.4m11 0h1.4m0.1 0h1.9m0.6 0h1.4m8.5 0h1.4m0.6 0h1.4m2 0h1.4m6.1 0h1.4m7.5 0h1.4m7.1 0h1.4m35.8 0h1.4m13.5 0h1.4m30.4 0h1.4m10.5 0h1.4m2.6 0h1.4m10.5 0h1.9m6.5 0h3.4m0.1 0h1.4m0.1 0h1.4m2.5 0h1.4m0.6 0h1.9m0.6 0h1.4m0.6 0h1.4m0.1 0h1.9m0.1 0h1.4m2.5 0h1.4m0.6 0h5.9m0.1 0h1.4m3.1 0h2.9m0.5 0h1.4m0.6 0h1.4m1.6 0h1.4m2.1 0h1.4m23.9 0h1.9m0.1 0h1.4m2.1 0h1.4m24.9 0h1.4m14.5 0h1.4m4.5 0h1.4m4.1 0h1.4m1.6 0h2.8m30.4 0h1.4m58.7 0h1.4M111 269.84h1.4m36.4 0h1.4m0.5 0h1.4m12.5 0h1.4m14.5 0h1.4m3.6 0h1.4m1.6 0h1.4m14.5 0h2.9m4 0h1.4m11 0h1.4m14.5 0h1.4m17.5 0h1.4m10 0h1.4m0.6 0h1.4m6.5 0h1.4m5.1 0h1.9m7 0h1.4m8.1 0h1.4m0.5 0h2.4m3.6 0h1.4m4.6 0h1.4m1 0h1.4m0.1 0h2.9m1.6 0h2.4m0.1 0h1.4m4.5 0h2.4m0.6 0h3.9m4.6 0h2.8m0.6 0h1.9m0.1 0h1.4m10 0h1.4m5.6 0h1.4m8.5 0h1.4m16.5 0h1.4m13 0h1.4m3 0h1.4m58.2 0h1.4m17.5 0h1.4m18.5 0h2.8m5.1 0h1.4m5.5 0h1.4m3.6 0h1.4m26.4 0h1.4m6.1 0h1.4M93.7 272.15h1.4m28.8 0h1.4m27.4 0h1.4m14.5 0h1.4m6.6 0h1.4m19.4 0h1.4m18 0h1.4m19.4 0h1.4m10.5 0h1.4m20 0h1.4m12.5 0h1.4m3.6 0h1.4m6.5 0h1.4m8.5 0h1.9m4.1 0h1.9m0.6 0h1.4m0.6 0h1.4m1 0h1.4m6.6 0h1.4m1.6 0h4.8m0.6 0h1.4m1.1 0h1.4m2.1 0h1.4m0.6 0h1.4m4.5 0h1.4m0.1 0h1.4m5.1 0h1.4m5.5 0h1.4m5.1 0h1.4m7.5 0h1.4m2.6 0h1.4m15.5 0h1.4m10 0h1.4m20.4 0h1.4m18.5 0h1.4m6.5 0h1.4m12 0h1.4m12.5 0h1.4m4.1 0h1.4m23.9 0h1.4m5.1 0h1.4m13.5 0h1.4m9.5 0h1.4m16 0h1.4"/>
<path d="M84.7 274.45h1.4m19.5 0h1.4m20.9 0h1.4m14 0h1.4m8.5 0h1.4m17 0h1.4m33.8 0h1.4m70.6 0h2.4m3.1 0h1.4m19.9 0h1.4m0.1 0h1.4m1.1 0h1.4m8.5 0h1.4m3.6 0h1.4m4.1 0h1.4m3 0h1.4m3.6 0h1.4m1.6 0h1.4m5.5 0h2.4m9.5 0h1.4m8.6 0h1.4m0.6 0h1.9m7.5 0h1.4m24.9 0h1.4m12.5 0h1.4m39.3 0h1.4m43.8 0h1.4m19.9 0h1.4m17.5 0h1.4M95.1 276.75h1.4m37.9 0h1.4m42.7 0h1.4m43.3 0h1.4m39.8 0h1.4m18.5 0h1.4m3.1 0h1.4m15.4 0h1.4m0.6 0h1.4m16.5 0h2.4m4.1 0h2.3m8.6 0h1.4m3 0h1.4m2.1 0h2.4m11 0h1.4m42.3 0h1.4m52.7 0h1.4m29.9 0h1.4m17.5 0h1.4m31.8 0h1.4M88.2 279.06h1.4m13 0h1.4m4 0h1.4m10.6 0h1.4m85 0h1.4m27.8 0h1.4m1.1 0h1.4m10 0h1.4m2.1 0h1.4m29.9 0h1.4m8 0h1.4m4.6 0h1.4m8 0h1.4m9 0h1.4m0.1 0h1.4m31.9 0h1.4m49.7 0h1.4m23.5 0h1.4m10.5 0h1.9m52.7 0h1.4m18.4 0h1.4M181 281.36h1.4m26.9 0h1.4m5.1 0h1.4m23.4 0h1.4m11 0h1.4m9 0h1.4m21.5 0h1.4m7.5 0h1.4m12 0h1.4m2.6 0h1.9m3.1 0h1.4m1 0h1.4m1.1 0h1.4m3.1 0h1.4m5 0h1.4m0.1 0h1.9m1.1 0h1.4m0.6 0h1.4m5.6 0h1.4m9 0h1.4m13.5 0h1.4m64.6 0h1.4m2.1 0h1.4m25.9 0h1.4m34.8 0h1.4m5.1 0h1.4M96.6 283.67h1.4m2.6 0h1.4m29.4 0h1.4m1.1 0h1.4m11.5 0h1.4m20.4 0h1.4m16 0h1.4m12.5 0h1.4m24.4 0h1.4m4.1 0h1.4m3.5 0h1.4m8.1 0h1.4m4.5 0h1.4m2.6 0h1.4m15 0h1.4m14 0h1.4m16.9 0h2.4m1.6 0h5.4m0.6 0h1.4m3 0h1.4m0.6 0h1.4m4.1 0h1.4m1.6 0h1.4m0.6 0h1.8m2.6 0h1.9m2.1 0h1.4m1.1 0h1.4m1.6 0h1.4m14.4 0h1.9m17.5 0h1.4m34.3 0h1.4m0.1 0h1.4m3.1 0h2.4m1.1 0h1.4m8 0h1.4m2.1 0h1.4m70.6 0h1.4m8 0h1.4m0.1 0h1.4m1.1 0h1.4m12.5 0h1.4m9.5 0h1.4m13 0h1.4M83.7 285.98h1.4m9.5 0h1.4m11.1 0h2.8m10.1 0h1.4m9.5 0h1.4m110.3 0h1.4m10 0h1.4m1.1 0h1.4m26.4 0h1.4m1.1 0h1.4m9 0h1.4m0.6 0h1.4m21.9 0h1.4m1.1 0h1.4m5.1 0h1.4m6 0h1.4m6.1 0h1.4m15.9 0h1.4m11.5 0h1.4m7.1 0h1.4m2.1 0h1.4m1 0h1.4m21.5 0h1.4m15.5 0h1.4m9.5 0h1.4m104.3 0h1.4M92.2 288.28h1.4m3 0h1.9m11.5 0h1.4m0.6 0h1.4m59.7 0h1.4m14.5 0h1.4m50.2 0h1.4m14.5 0h1.4m5 0h1.4m40.4 0h1.4m1.5 0h1.4m4.1 0h1.4m8 0h1.4m1.6 0h1.4m2.6 0h1.4m6.5 0h2.4m13 0h1.4m2.1 0h1.4m96.9 0h1.4m24.4 0h1.4m76.1 0h2.3M85.2 290.59h1.4m12.5 0h1.4m12 0h1.4m3.6 0h1.4m2.6 0h1.4m9 0h1.4m2.6 0h1.4m9.5 0h1.4m7 0h1.4m17 0h1.4m2.6 0h1.4m26.9 0h1.4m4.5 0h1.4m13 0h1.4m5.1 0h1.9m5 0h1.4m3.1 0h1.4m13 0h1.4m16.5 0h2.8m5.6 0h1.4m2.1 0h1.4m1.1 0h2.8m3.6 0h1.4m1.1 0h1.4m2.6 0h1.4m2 0h1.4m3.1 0h1.9m4.1 0h1.4m5.5 0h3.9m0.1 0h4.4m4 0h1.4m5.6 0h3.9m6 0h1.4m2.6 0h1.4m0.1 0h1.4m26.4 0h1.4m25.4 0h1.4m33.3 0h1.4m4.1 0h1.4m13.5 0h1.4m15.5 0h1.4m7 0h1.4m15.5 0h1.4m3.1 0h1.4m45.7 0h1.4m2.6 0h1.4"/>
<path d="M117.5 292.89h1.4m14 0h1.4m11.5 0h1.4m9 0h1.4m6.6 0h2.8m16.5 0h1.4m8.5 0h1.4m21 0h1.4m12.5 0h1.4m9.5 0h1.4m0.6 0h1.4m8.5 0h1.4m38.8 0h1.4m6.6 0h1.4m1.6 0h1.4m4.5 0h1.4m0.1 0h1.4m1.1 0h1.4m3.1 0h2.8m6.1 0h1.4m5.5 0h1.4m3.6 0h1.4m4.1 0h2.4m0.1 0h1.4m9 0h1.4m2.1 0h1.4m21.9 0h1.4m22.9 0h1.4m0.1 0h1.4m8 0h1.4m48.3 0h1.4m1.1 0h1.4m27.4 0h1.4m7.5 0h1.4m1.1 0h1.4m16.9 0h1.4m26 0h1.4M122.9 295.2h1.4m17.5 0h1.4m2.1 0h1.4m4 0h1.4m20.5 0h1.4m3.1 0h1.4m16.9 0h1.4m47.8 0h1.4m13.5 0h1.4m17.9 0h1.4m53.2 0h1.4m0.6 0h1.9m3.1 0h1.4m6 0h1.4m18 0h1.4m4.1 0h1.4m58.6 0h1.4m31.4 0h1.4m38.3 0h1.4m27.4 0h1.4m31.9 0h1.4m0.1 0h1.4M84.2 297.5h1.4m36.4 0h1.4m13.4 0h1.4m37.9 0h1.4m86.9 0h1.4m6.1 0h1.4m0.6 0h1.4m18.9 0h1.4m1.6 0h1.4m2.1 0h1.4m0.1 0h1.4m9.5 0h1.9m1.1 0h1.4m10 0h1.4m13.5 0h1.4m0.6 0h1.4m2 0h1.4m9.6 0h1.4m15.9 0h1.4m12.5 0h1.4m37.9 0h1.4m43.2 0h1.4m11.1 0h1.4m19.9 0h1.4m10 0h1.4M88.2 299.8h1.4m29.4 0h1.4m2.5 0h1.4m6.1 0h1.4m92.9 0h1.4m42.3 0h1.4m34.9 0h1.4m8 0h2.4m11.5 0h2.4m4.5 0h1.4m20.5 0h1.4m35.3 0h1.4m6.6 0h1.4m79.5 0h1.4m19.4 0h1.4m3.1 0h1.4m3.6 0h1.4m3.5 0h1.4m21 0h2.4m8.5 0h1.4m8.5 0h1.4M82.7 302.11h1.4m4.6 0h1.4m6 0h1.4m14.5 0h2.4m7.1 0h1.4m19.4 0h1.4m8 0h1.4m0.1 0h1.4m9.6 0h1.4m17.9 0h1.4m5.6 0h1.4m28.8 0h1.4m20 0h1.4m8 0h1.4m20.5 0h1.4m18.4 0h1.4m2.1 0h1.4m1.6 0h1.4m2.6 0h1.4m5.5 0h2.9m1.6 0h1.4m6 0h1.4m7.1 0h1.4m0.5 0h1.4m0.6 0h1.4m2.1 0h1.4m0.1 0h1.4m1.1 0h1.4m0.6 0h1.4m1.1 0h2.8m2.6 0h1.4m0.6 0h1.4m0.6 0h1.4m2.6 0h1.4m2 0h1.4m0.1 0h1.4m7.6 0h1.4m3 0h1.9m2.6 0h2.4m5.5 0h1.4m14 0h1.4m8.1 0h1.4m2 0h1.4m5.6 0h1.4m4 0h1.4m12.5 0h2.4m2.1 0h1.4m8 0h1.4m3.6 0h1.4m5.6 0h1.4m9.5 0h1.4m6.5 0h1.4m21.5 0h1.4m6 0h1.4m1.1 0h1.4m2.6 0h1.4m11.5 0h1.4m5 0h1.4m7.1 0h1.4m0.1 0h1.4m2.5 0h1.4M88.2 304.41h1.4m8.5 0h1.4m30.9 0h1.4m15 0h1.4m29.4 0h2.3m6.1 0h1.4m57.2 0h1.4m4.5 0h1.4m17.5 0h2.4m19 0h2.3m1.6 0h1.4m0.6 0h1.4m10.5 0h1.4m2.1 0h1.4m6.5 0h1.4m5.6 0h1.4m1.1 0h2.4m21.4 0h1.4m7 0h1.4m2.6 0h1.9m59.2 0h2.4m9.5 0h1.4m17 0h1.4m7 0h1.4m18 0h1.4m29.4 0h1.4m15.4 0h1.4M94.6 306.72h1.4m17 0h1.4m0.6 0h1.4m35.3 0h1.4m1.1 0h1.4m19.5 0h1.4m1.6 0h1.4m62.6 0h1.4m0.1 0h1.4m2.6 0h3.8m9.1 0h1.4m26.4 0h1.4m4 0h1.4m9.6 0h1.4m11 0h1.4m8.5 0h2.4m0.1 0h1.4m16 0h2.3m10.6 0h1.4m1 0h1.4m22 0h1.4m93.4 0h1.4m14.5 0h1.4m10.5 0h1.4m12 0h1.4m16.5 0h1.4m5 0h1.4m22.5 0h1.4M92.7 309.02h1.4m44.2 0h1.4m38.4 0h2.8m25.9 0h1.4m15 0h1.4m32.9 0h1.4m31.9 0h1.4m17.4 0h1.9m8.5 0h1.4m4.1 0h1.4m1.1 0h1.4m2.1 0h1.4m32.8 0h1.4m59.2 0h1.4m12.5 0h1.4m34.3 0h1.4m8.6 0h1.4m23.4 0h1.4"/>
<path d="M91.7 311.33h1.4m15.4 0h1.4m36.4 0h1.4m9.5 0h1.4m16 0h1.4m21.4 0h1.4m14 0h1.4m21.9 0h1.4m12 0h1.4m31.9 0h1.4m8 0h1.4m9.1 0h1.4m4 0h1.4m0.1 0h1.4m3.6 0h3.9m7.5 0h1.4m0.1 0h1.4m5 0h2.4m5.1 0h1.4m18.4 0h1.4m1.1 0h1.4m7.1 0h1.4m5 0h1.4m28.9 0h1.4m65.1 0h1.4m3.1 0h1.4m5.1 0h2.4m12.9 0h1.4m7.1 0h1.4m8 0h1.4m11 0h1.4m36.4 0h1.4M118 313.64h1.4m34.8 0h1.4m3.1 0h1.4m47.7 0h1.4m19 0h1.4m12.5 0h1.4m50.7 0h1.4m8.6 0h2.8m8.6 0h1.4m4 0h2.4m3.6 0h1.4m5 0h1.4m77.6 0h1.4m23.9 0h1.4m12 0h1.4m40.3 0h1.4m4.1 0h1.4m12.5 0h1.4m18.4 0h1.4m1.1 0h1.4m18 0h1.4m3.5 0h1.4M125.4 315.94h2.4m16 0h1.4m10.5 0h1.4m16.5 0h1.4m15.5 0h1.4m16.4 0h1.4m2.6 0h1.4m9 0h1.4m41.3 0h1.4m6.6 0h1.4m31.3 0h1.9m0.1 0h1.4m5.6 0h1.4m5 0h1.4m2.6 0h1.4m0.1 0h1.4m0.6 0h1.4m1.1 0h2.8m0.1 0h1.4m0.1 0h1.9m5.6 0h1.4m1.6 0h1.4m6 0h1.4m0.1 0h1.4m1.6 0h1.4m28.4 0h1.4m11 0h1.9m10.5 0h1.4m11 0h1.4m0.1 0h1.4m20.9 0h1.4m2.1 0h1.4m7.5 0h1.4m0.1 0h1.4m20 0h1.4m18.4 0h1.4m3.6 0h1.4m29.4 0h1.4M81.7 318.25h1.4m1.6 0h1.4m41.8 0h1.4m29.4 0h1.4m4.5 0h1.4m41.3 0h1.4m14.5 0h1.4m7.6 0h1.4m16.4 0h1.4m47.3 0h1.4m22.4 0h1.4m7.6 0h1.9m4 0h1.4m3.1 0h1.4m189.2 0h1.4m32.9 0h1.4M109 320.55h2.4m4.1 0h1.4m7 0h1.4m18 0h1.4m71.1 0h1.4m8 0h1.4m55.7 0h1.4m1.6 0h1.4m6.5 0h1.4m0.1 0h1.4m17.5 0h1.4m0.1 0h1.4m1.6 0h2.3m1.6 0h1.4m1.6 0h1.4m1.6 0h1.4m2.1 0h1.4m43.2 0h1.4m96 0h1.4m47.2 0h1.4m41.8 0h1.4M117.5 322.85h1.4m49.7 0h1.4m83.5 0h1.4m14 0h1.4m21.4 0h1.4m16 0h1.4m11 0h1.4m20.5 0h1.9m18.4 0h1.4m29.4 0h1.4m39.8 0h1.4m54.7 0h1.4m2.6 0h1.4m27.9 0h1.4m1.1 0h1.4m14 0h1.4m18.9 0h1.4M94.6 325.16h1.4m9.6 0h1.4m29.3 0h1.4m5.1 0h1.4m74.6 0h1.4m33.3 0h1.4m0.6 0h1.4m1.1 0h1.4m26.4 0h1.4m3.6 0h1.4m13.4 0h1.4m25.5 0h1.4m12.5 0h1.4m16.4 0h1.4m5.6 0h1.4m14 0h1.4m7.5 0h1.4m8 0h1.4m18 0h1.4m110.8 0h1.4m2.6 0h1.4M109.5 327.46h1.4m15.5 0h1.4m71.1 0h1.4m9 0h1.4m2.6 0h1.4m56.7 0h1.4m0.1 0h1.4m33.8 0h1.4m0.6 0h1.9m10.5 0h1.4m5.1 0h1.4m15.5 0h1.4m10.5 0h1.4m3 0h1.4m2.1 0h1.4m25.9 0h1.4m19 0h1.4m5 0h1.4m33.9 0h1.4m34.3 0h1.4m6.1 0h1.4"/>
<path d="M95.6 329.77h1.4m9.6 0h1.4m10 0h1.4m109.8 0h1.4m15.5 0h1.4m7.5 0h1.4m45.8 0h1.4m2.5 0h1.4m10.1 0h1.9m13 0h2.8m2.1 0h2.4m0.6 0h1.4m4.6 0h1.4m4 0h1.9m50.7 0h1.4m25.9 0h1.4m9.1 0h1.4m11 0h1.4m2.1 0h1.4m36.8 0h1.4m65.1 0h1.4M112.5 332.08h1.4m1.6 0h1.4m44.3 0h1.4m27.9 0h1.4m34.8 0h1.4m8 0h1.4m10.6 0h1.4m0.5 0h1.4m3.6 0h1.4m1.6 0h1.4m40.3 0h1.4m0.1 0h1.4m5 0h1.4m0.6 0h1.4m0.6 0h1.4m1.6 0h1.4m4.5 0h1.4m4.6 0h1.4m0.1 0h1.4m1.1 0h1.9m0.1 0h1.4m0.5 0h1.4m11.1 0h1.4m3.5 0h1.4m1.6 0h1.4m9 0h1.4m7.1 0h1.4m12.5 0h1.4m19.9 0h1.4m6.6 0h1.4m11.5 0h1.4m15.9 0h1.4m49.3 0h2.4M81.7 334.38h1.4m15.5 0h1.4m1.6 0h2.4m41.3 0h1.4m60.6 0h1.4m6.1 0h1.4m20.9 0h1.4m65.2 0h1.4m18.9 0h1.4m1.1 0h1.4m5 0h1.4m66.7 0h1.4m57.6 0h1.4m50.8 0h1.4m16.4 0h1.4m12.1 0h1.4m1.5 0h1.4m8.1 0h1.4m1.5 0h1.4M102.1 336.69h1.4m9 0h1.4m46.3 0h1.4m16.5 0h1.4m2.5 0h1.4m85.5 0h2.4m12 0h1.4m7 0h1.4m27.4 0h1.4m15.5 0h1.4m1.6 0h1.4m20.4 0h1.4m1.1 0h1.4m6.6 0h1.4m22.4 0h1.4m9 0h1.4m34.4 0h1.4m49.7 0h1.4m20.5 0h1.4m13.4 0h1.4M143.8 338.99h1.4m22.4 0h1.4m16 0h1.4m34.8 0h1.4m51.3 0h1.4m4.5 0h1.4m18 0h1.4m22.4 0h1.4m2.6 0h1.4m0.6 0h1.4m8 0h1.4m0.6 0h1.4m12 0h1.4m6 0h1.4m7.1 0h1.4m36.3 0h1.4m24.4 0h1.4m18 0h1.4m6 0h1.4m83.5 0h1.4M86.7 341.3h1.4m13 0h1.4m10 0h1.4m33.9 0h1.4m0.1 0h1.4m21.9 0h1.4m6.5 0h1.4m24.5 0h1.4m42.2 0h1.4m34.4 0h1.4m10.5 0h1.4m1.6 0h1.4m16 0h2.8m5.1 0h1.4m1.1 0h1.4m2.1 0h1.4m17.9 0h1.4m22.9 0h1.4m22 0h1.4m3.5 0h1.4m57.2 0h1.4m77.1 0h1.4m13.5 0h1.4M123.9 343.6h1.4m55.2 0h1.4m35.4 0h1.4m12 0h1.4m6.5 0h1.4m37.3 0h1.4m23 0h1.4m2.5 0h1.4m4.1 0h1.4m1.6 0h1.9m14 0h1.4m10.5 0h1.4m3.1 0h1.4m2.5 0h1.4m4.6 0h1.4m4.5 0h1.4m14 0h1.4m64.2 0h1.4m26.4 0h1.4m19.4 0h1.4M116 345.9h1.4m2.1 0h1.4m23.9 0h1.4m10.5 0h1.4m19 0h1.4m16.9 0h1.4m130.7 0h1.4m4 0h1.4m24.5 0h1.4m6 0h1.4m25.9 0h1.4m66.1 0h1.4m36.4 0h1.4m16.4 0h1.4m10.6 0h1.4m18.4 0h1.4m0.1 0h1.4m18.5 0h1.4"/>
<path d="M157.2 348.21h1.4m173.9 0h1.4m56.1 0h1.9m7.1 0h1.4m55.2 0h1.4m10 0h1.4m30.4 0h1.4m14.5 0h1.4m45.2 0h1.4M80.7 350.51h1.4m21 0h1.4m146 0h1.4m12.5 0h1.4m15 0h2.4m89.5 0h1.4m8 0h1.4m57.7 0h2.4m53.7 0h1.4M117 352.82h1.4m86.5 0h1.4m7 0h1.4m3.6 0h1.4m5.5 0h1.4m7.6 0h2.3m12.1 0h1.4m29.3 0h1.4m41.3 0h1.4m2.6 0h1.4m12.5 0h1.4m1.6 0h1.4m10 0h1.4m62.1 0h1.4m2.1 0h1.4m90 0h1.4m44.2 0h1.4M87.2 355.12h1.4m4.6 0h2.3m18 0h1.4m1.6 0h1.4m10 0h1.4m51.7 0h1.4m79.6 0h1.4m7.5 0h1.4m1.1 0h1.4m10 0h1.4m13.5 0h1.4m1.6 0h1.4m0.1 0h1.4m4.5 0h2.4m5.1 0h1.4m3.5 0h2.4m2.1 0h1.4m1.6 0h2.4m2 0h3.9m6.6 0h1.4m18.9 0h1.4m13 0h1.4m34.4 0h1.4m8.5 0h1.4m42.3 0h1.4m67.1 0h1.4m8.5 0h1.4m21 0h1.4M120 357.43h1.4m6.5 0h1.4m25.4 0h1.4m4.6 0h1.4m55.2 0h1.4m36.8 0h1.4m24.9 0h1.4m4.1 0h1.4m14.5 0h1.4m7 0h1.4m20.9 0h1.4m2.6 0h2.4m4.1 0h1.4m22.9 0h1.4m12 0h1.4m17 0h1.4m50.7 0h1.4m4.1 0h1.4m1 0h1.4m36.4 0h1.4m15 0h1.4m4.5 0h1.4m17 0h1.4m3.1 0h1.4M229.7 359.74h1.4m15 0h1.4m19.9 0h1.4m8.5 0h1.4m7.6 0h1.4m14.5 0h1.4m3 0h1.4m1.1 0h1.4m22.4 0h1.4m92 0h1.4m2.6 0h1.4m33.8 0h1.4m15.5 0h1.4M81.7 362.04h1.4m77.6 0h1.4m145 0h1.4m18.5 0h2.4m13.5 0h1.4m17.9 0h1.4m10.6 0h1.4m17.9 0h1.4m108.8 0h1.4m3.1 0h1.4m1.1 0h1.4M97.1 364.35h1.4m85.5 0h1.4m44.8 0h1.4m86.5 0h1.4m28.3 0h1.4m3.6 0h1.4m53.2 0h1.4m63.7 0h1.4"/>
<path d="M151.2 366.65h1.4m10.6 0h1.4m80.5 0h1.4m9.5 0h1.4m53.2 0h1.9m17 0h1.4m5 0h1.4m14.5 0h1.4m34.4 0h1.4m15.4 0h1.4m3.1 0h1.4m49.7 0h1.4m90 0h1.4M162.7 368.95h1.4m134.1 0h1.4m0.6 0h1.4m1.1 0h1.4m7.5 0h1.4m34.8 0h1.4m32.9 0h1.4m17.5 0h1.4m75 0h1.4m16.5 0h1.4M106.6 371.26h1.4m128.1 0h1.4m25.4 0h1.4m29.9 0h1.4m0.1 0h1.4m54.7 0h1.4m3.1 0h1.4m12 0h1.4m0.6 0h1.4m15 0h1.4m23.4 0h1.4m4 0h1.4m57.7 0h1.4m57.2 0h1.4M262 373.56h1.4m41.7 0h1.4m10.1 0h1.4m0.6 0h1.4m3 0h1.4m2.1 0h1.4m2.6 0h1.9m20.9 0h1.4m3.1 0h1.4m0.6 0h1.4m24.9 0h1.4m21.4 0h1.4m53.2 0h1.4m71.6 0h1.4M121 375.87h1.4m178.3 0h1.4m9 0h2.4m2.6 0h1.4m85.5 0h1.4m99.3 0h1.4m47.3 0h1.4M154.7 378.18h1.4m11 0h1.4m5.6 0h1.4m112.8 0h1.4m1.5 0h1.4m8.1 0h1.4m13 0h1.4m10 0h1.4m5.5 0h1.4m75.6 0h1.4m57.2 0h1.4m35.8 0h1.4M144.3 380.48h1.4m126.2 0h1.4m26.4 0h1.4m1.6 0h1.4m61.1 0h1.4m28.4 0h1.4m41.3 0h1.4m13.5 0h1.4m76.5 0h1.4m33.4 0h1.4M115 382.79h1.4m148.5 0h1.4m8.6 0h1.4m0.5 0h1.4m12.6 0h1.4m4 0h1.4m20.5 0h1.4m5 0h1.4m4.6 0h1.4m22.4 0h1.4m38.8 0h1.4m113.3 0h1.4m12.5 0h1.4m7.5 0h1.4"/>
<path d="M153.7 385.09h1.4m121.3 0h1.4m73 0h1.4m4.6 0h1.4m19.9 0h1.4m38.3 0h1.4m64.2 0h1.4M79.8 387.4h1.4m24.4 0h1.4m5.5 0h1.4m70.1 0h1.4m35.3 0h1.4m54.7 0h1.4m11.6 0h1.4m15.4 0h1.4m4.6 0h1.4m2.6 0h1.4m49.2 0h1.4m103.9 0h1.4m27.4 0h1.8m5.6 0h1.4m2.6 0h1.4m6.5 0h1.4M99.1 389.7h1.4m35.4 0h1.4m40.8 0h1.4m42.2 0h1.4m67.2 0h1.4m8 0h1.4m4 0h1.9m35.4 0h1.4m25.4 0h1.4m34.8 0h1.4m66.7 0h1.4m10.5 0h1.4M85.2 392h1.4m210.6 0h1.4m26.4 0h1.4m8.5 0h1.4m44.3 0h1.4m0.1 0h1.4m13.5 0h1.4m11 0h1.4m88 0h1.4M168.6 394.31h1.4m122.2 0h1.4m0.6 0h1.4m10.5 0h1.4m13.5 0h1.4m13.5 0h1.4m76.1 0h1.4m68.6 0h1.4m49.7 0h1.4M141.8 396.61h1.4m27.4 0h1.4m2.6 0h1.4m8 0h1.4m27.4 0h1.4m37.3 0h1.4m1.1 0h1.4m85.5 0h1.4m93.9 0h1.4m133.7 0h1.4M101.6 398.92h1.4m91.9 0h1.4m105.4 0h1.4m17.4 0h1.4m24 0h1.4m25.4 0h1.4m36.8 0h1.4m21.4 0h1.4m43.3 0h1.4m33.4 0h1.4m53.2 0h1.4M299.7 401.22h1.4m10 0h1.4m8 0h1.4m5.6 0h1.4m14.5 0h1.4m25.9 0h1.4m97.9 0h1.4m15.5 0h1.4m44.7 0h1.4"/>
<path d="M97.6 403.53h1.4m39.3 0h1.4m9.1 0h1.4m166.9 0h1.4m97.4 0h1.4m48.7 0h1.9m20.9 0h1.4M104.1 405.84h1.4m128.2 0h1.4m30.8 0h1.4m57.2 0h1.4m10 0h1.4m7.6 0h1.9m97.9 0h1.4m40.3 0h1.4m1.5 0h1.4m39.8 0h1.4M131.9 408.14h1.4m51.2 0h1.4m20 0h1.4m16.4 0h1.4m106.9 0h1.4m0.5 0h1.4m42.8 0h1.4m7.6 0h1.4m168.9 0h1.4M194.4 410.45h1.4m139.6 0h1.9m34.4 0h1.4M152.2 412.75h1.4m4.1 0h1.4m142.6 0h1.4m82 0h1.4m2.6 0h1.4m18.4 0h1.4M184 415.05h1.4m14 0h1.4m76 0h1.9m67.2 0h1.4m21.9 0h1.4m94.4 0h1.4m0.6 0h1.4m6 0h1.4m46.3 0h1.4m16 0h1.4m6 0h1.4m3.6 0h2.4M145.8 417.36h1.4m235.9 0h1.4m129.2 0h1.4m31.3 0h1.4M86.2 419.66h1.4m96.9 0h1.4m27.9 0h1.4m123.7 0h1.4m66.6 0h1.4m38.3 0h1.4m76.6 0h1.4"/>
<path d="M140.8 421.97h1.4m22.4 0h1.4m6.6 0h1.4m30.4 0h1.4m104.8 0h1.4M78.8 424.28h1.4m10 0h1.4m4.5 0h1.4m143.6 0h1.4m36.3 0h1.4m2.6 0h1.4m16 0h1.4m33.8 0h1.4m3.1 0h1.4m23.9 0h1.4m58.2 0h1.4m34.3 0h1.4m25.9 0h1.4m20 0h1.4M104.6 426.58h1.4m260.7 0h1.4m101.9 0h1.4M97.1 428.89h1.4m135.7 0h1.4m149.5 0h1.4m7 0h1.4m39.3 0h1.4m51.8 0h1.4M185.5 431.19h1.4m2.6 0h1.4m66.1 0h1.4m129.7 0h1.4m12 0h1.4m98.4 0h1.4m23.4 0h1.4M320.5 433.5h1.4M322.5 435.8h1.4m143.1 0h1.4M99.6 438.1h1.4m41.8 0h1.4m80 0h1.4m92.5 0h1.4m105.3 0h1.4m89.9 0h1.4m35.4 0h1.4"/>
<path d="M111 440.41h1.4m105.4 0h1.4m56.2 0h1.4m108.8 0h1.4m172.3 0h1.4M176.6 442.71h1.4m115.2 0h1.4m59.2 0h1.4m126.7 0h1.4M221.7 445.02h1.4m58.2 0h1.4m1.6 0h1.4m84.5 0h1.4M180 447.32h1.4m33.9 0h1.4m235.4 0h1.4m21.9 0h1.4M287.8 449.63h1.4m12 0h1.4m171.8 0h1.4M421.8 454.24h1.4M245.6 456.55h1.4m205.1 0h1.4m14 0h1.4M250.5 458.85h1.4m215.1 0h1.4"/>
<path d="M230.7 461.15h1.4M438.7 463.46h1.4m65.6 0h1.4M209.8 472.68h1.4m143.1 0h1.4m131.7 0h1.4m29.8 0h1.4M307.1 474.99h1.4m257.3 0h1.4M210.8 477.29h1.4m120.7 0h1.4M178.5 479.6h1.4m179.4 0h1.4M511.7 484.2h1.4M345.4 493.42h1.4"/>
<path d="M521.1 500.34h1.4M100.6 507.25h1.4M375.1 514.17h1.4"/>
</g>
<path d="M59.76 355.3L592.19 355.3" stroke="#cd2626" stroke-width="2.25" stroke-dasharray="9 9" stroke-linecap="round" fill="none"/>
<path d="M284.02 580.24L284.02 47.81" stroke="#006400" stroke-width="2.25" stroke-dasharray="9 9" stroke-linecap="round" fill="none"/>
<path d="M366.44 580.24L366.44 47.81" stroke="#006400" stroke-width="2.25" stroke-dasharray="9 9" stroke-linecap="round" fill="none"/>
</g>
<rect x="59.76" y="47.81" width="532.43" height="532.43" fill="none" stroke="#000" stroke-width="0.75"/>
<path d="M126.64 580.24H523.82M126.64 580.24v5.98M225.94 580.24v5.98M325.23 580.24v5.98M424.52 580.24v5.98M523.82 580.24v5.98M59.76 528V67M59.76 528h-5.98M59.76 412.75h-5.98M59.76 297.5h-5.98M59.76 182.25h-5.98M59.76 67h-5.98" fill="none" stroke="#000" stroke-width="0.75"/>
<g font-size="10.5" text-anchor="middle">
<text x="126.64" y="601.54">-400</text>
<text x="225.94" y="601.54">-200</text>
<text x="325.23" y="601.54">0</text>
<text x="424.52" y="601.54">200</text>
<text x="523.82" y="601.54">400</text>
<text transform="translate(45.16 528.5) rotate(-90)">80</text>
<text transform="translate(45.16 413.25) rotate(-90)">85</text>
<text transform="translate(45.16 298) rotate(-90)">90</text>
<text transform="translate(45.16 182.75) rotate(-90)">95</text>
<text transform="translate(45.16 67.5) rotate(-90)">100</text>
</g>
<g font-size="15.94" text-anchor="middle">
<text x="325.98" y="625.54">Distance to peak summit</text>
<text transform="translate(22.3 314.02) rotate(-90)">Motif score</text>
</g>
<text x="322.9" y="31.8" font-size="21.5" font-weight="bold" text-anchor="middle">Top hit for each peak</text>
<clipPath id="c2"><rect x="699.76" y="47.81" width="532.43" height="532.43"/></clipPath>
<g clip-path="url(#c2)">
<filter id="hb" x="-5%" y="-5%" width="110%" height="110%"><feGaussianBlur stdDeviation="1.3"/></filter><g fill-rule="evenodd" stroke="none" filter="url(#hb)">
<rect x="693.76" y="41.81" width="544.43" height="544.43" fill="#fdfdff"/>
<path fill="#fafaff" d="M848.8 510.9l-4 0.6 -6 -0.3 -10 -1.8 -10 -2.8 -6 -2.5 -4 -2.2 -16 -12.4 -6 -2.4 -6 -1 -12 -0.9 -6 0.1 -4 0.6 -12 3.2 -16 1.1 -6 1.6 -12 5.3 -4 0.7 -4 -0.5 -2 -0.9 -9 -1.5 0 -438.6 13 -4.7 5.9 -9.8 525.5 0 0 412.1 -7.7 4.9 -1.1 4 -0.3 6 0.9 14 -1.2 6 -2 3.3 -2 1.8 -2 1.1 -4 1 -6 -0.3 -12 -3.3 -6 -0.8 -6 0.7 -12 2.8 -6 0.4 -6 -1.3 -12 -5.1 -6 -1.7 -6 -0.4 -12 0.7 -12 -0.3 -4.7 1.4 -2.7 2 -4.6 4.7 -4 3 -4 2 -4 1.2 -4 0.2 -2 -0.5 -12 -5.9 -6 -1.9 -6 -1.1 -8 -0.3 -10 0.8 -8 1.8 -5.2 2 -8.8 4.8 -2 0.6 -4 0.5 -4 -0.5 -14 -2.9 -18 -3.1 -8 -0.5 -32 -0.4 -8 -1 -14 -3.2 -6 -0.2 -4 0.7 -3.6 1.2 -10.4 5 -6 2.2 -6 0.9 -12 -0.1 -6 1.2 -4 1.9 -8 5.4 -4 1.6zM1118.8 519.6l-2 0.1 -2 -0.7 -2 -1.9 -1.2 -2.3 -0.5 -2 0.4 -4 1.3 -2.4 2 -1.5 2 -0.3 2 0.5 2.1 1.7 1.9 3.9 0.1 4.1 -0.8 2 -1.3 1.8 -2 1z"/>
<path fill="#f7f7ff" d="M834.8 491.2l-6 0.7 -6 -0.1 -6 -1.7 -4 -2.5 -2.9 -2.8 -2.7 -4 -1.8 -4 -2.6 -7.5 -1.5 -2.5 -0.5 -0.7 -2 -1.1 -2 0.1 -10 4.5 -6 1.4 -4 0.1 -4 -0.6 -4 -1.3 -4 -1.9 -6.4 -4.5 -2 -2 -3 -4 -2 -4 -4 -12 -2.6 -4 -2 -1.8 -4 -2.1 -4 -0.6 -5.8 0.5 -8.2 1.8 -4 -0.3 -4 -1.9 -4 -3.2 -4 -4 -11 -5.6 0 -349.4 9 -2.6 4 -3.8 4 -2.6 4 -1.7 4 -1.1 8 -0.5 18 1.8 8 -0.1 4 -0.6 6 -1.7 18 -6.9 4 -0.8 4 -0.2 6 0.6 14 3.7 6 0.7 8 -0.6 20 -3.9 12 -0.8 12 0.2 14 1.8 6 0.3 6 -0.7 6.8 -8.9 123.4 0 15.8 8.2 6 1.1 14 3.5 8 0.8 6 -0.7 16 -3.8 8 -0.7 10 1.2 18 5.1 4 0.8 4 0.3 6 -0.7 14 -3.6 8 -1.4 10 -0.2 18 2.1 6 0.2 6 -0.6 12 -2.8 6 -0.8 4 0.3 4 1.1 2.8 1.6 2.5 2 6.1 0.7 0 378.1 -7.4 3.6 -2.8 3.6 -3.2 3.1 -6 3.9 -4 1.7 -10 3.3 -4 2.2 -3.8 3.8 -6.2 10 -3.3 4 -2.7 2.3 -4 2.4 -6 1.8 -4 0.1 -4 -0.6 -16 -5.1 -16 -3.4 -16 -6.2 -4 -1 -4 -0.1 -4 0.8 -4 1.7 -10 6.4 -4 2.2 -4 1.4 -4 0.8 -8 0.3 -22 -1.1 -6.5 -0.7 -11.5 -2.1 -6 -0.6 -8 0 -24 1.4 -6 -0.5 -15.1 -2.2 -16.9 0 -6 0.8 -14 3.1 -6 0.3 -10 -0.4 -6 0.5 -8 2.3 -14 5.8 -6 1.3 -6 -0.2 -12 -2 -6 0.5 -4 1 -14 4.9 -10 2.5zM718.8 467.1l-2 0.2 -2 -0.4 -2 -1.4 -1.7 -2.7 -0.9 -4 0.4 -4 1.9 -4 2.3 -2.2 2 -0.7 2 0.2 2 1.1 1.5 1.6 1.3 2 1.3 4 -0.1 3.2 -1 2.8 -1.5 2 -1.5 1.3 -2 1z"/>
<path fill="#f4f4ff" d="M890.8 469l-4 0.2 -4 -0.9 -3.2 -1.5 -2.6 -2 -3.1 -4 -3.6 -10 -2.2 -4 -1.9 -2 -3.3 -2 -6.1 -1.4 -12 -1.1 -6 0.3 -4 1.4 -6 4.2 -2 0.6 -4 -0.5 -14 -5 -6 -1.6 -6 -0.8 -4 0.2 -4 1.1 -4 2.4 -6 7.1 -2 1.5 -2 0.6 -2 -0.2 -2 -1 -2 -1.9 -6.6 -9.9 -5.1 -6 -4.3 -4.1 -5.3 -3.9 -4.7 -2.3 -4 -1 -6 -0.4 -10 0.2 -6 -1 -3.5 -1.5 -2.5 -1.7 -2.3 -2.3 -2.6 -4 -2 -6 -0.5 -4 -0.5 -14 -0.9 -4 -8.2 -3.5 0 -288.9 7.9 -5.6 1.3 -4 1.8 -3.8 2 -2.8 2 -2.2 4 -2.9 4 -1.7 4 -0.9 4 -0.2 4 0.2 14 2.8 4 0.4 4 0 8 -1.4 18 -5.7 8 -1.6 6 0.6 14 4.8 6 0.5 12 -1.4 30 -6 8 -1.1 10 0.2 18 3 6 -0.2 4 -1 20 -7.5 9.2 -11.1 74.9 0 7.9 11 6 2.1 6 1.1 16 2.1 18 4 6 0.9 4 0 4 -0.6 18 -5.8 6 -0.8 4 0.1 4 0.5 6 1.8 5.9 2.6 12.1 6.3 4 1.4 4 0.5 6 -0.8 12 -4.9 6 -2 8 -1.4 8 0.1 16 2 6 0.2 6 -0.7 12 -2.9 4 -0.2 4 0.7 4 2.3 2 2.1 2 3.1 7.4 4.9 0 311.8 -8.2 17.5 -0.4 16 -0.6 6 -1.9 6 -2.6 4 -3.7 3.5 -6 3.2 -6 1.6 -12 2 -6 2.1 -2.4 1.6 -2.1 2 -5.7 8 -3.8 4.2 -4 2.3 -4 0.8 -6 -0.4 -6 -1.5 -6 -2 -6 -2.8 -6.9 -4.6 -15.9 -14 -3.2 -2 -4 -1.1 -4 0.6 -4 2.4 -12 11.3 -8 5.8 -6 2.5 -4 0.3 -2 -0.4 -2 -0.7 -2 -1.3 -2.9 -3.4 -1.8 -4 -3.3 -9.5 -2.7 -4.5 -3.3 -2.9 -2 -0.8 -2 -0.1 -2 0.6 -2 1.2 -2 1.9 -8 10.7 -4 4.2 -5.3 3.2 -6.7 2.2 -8 1.1 -22 1.5 -70 -0.6 -4 0.6 -4.4 1.2 -4.8 2 -12.8 6.4 -6 1.8zM836.8 474.8l-4 0.6 -4 -0.3 -2 -0.9 -1.9 -1.4 -1.2 -2 -0.9 -4 0.8 -6 1.2 -3.3 2 -3.6 2 -1.7 2 -0.2 2 0.6 6 3.1 3.8 3.1 1.8 2 1.2 2 0.8 2 0.1 2 -0.7 2 -1.4 2 -2.7 2 -4.9 2z"/>
<path fill="#f1f1ff" d="M1166.8 449.5l-4 0.8 -4 -0.2 -4 -1 -4 -1.8 -6 -3.9 -18 -15.3 -5.9 -3.3 -4.1 -1.1 -4 0 -4 1 -4.1 2.1 -9.9 7.2 -4 2.3 -4 1.3 -4 0 -4 -1.9 -2 -1.7 -10 -12 -4 -4 -4 -2.7 -4 -1.2 -4 0.4 -4.3 2.3 -5.6 6 -10.1 13.5 -4 3.6 -6 3.3 -6 1.6 -24 4.6 -10 0.7 -18 0.4 -18 -1.2 -18 -3.1 -6 -0.7 -8 0.2 -14 2.1 -4 -0.1 -2 -0.3 -4 -1.9 -2 -1.6 -8.6 -9.1 -5.4 -4.4 -2 -1 -4 -1.1 -10 -0.7 -4 -0.9 -4.4 -1.9 -9.6 -6.7 -4 -1.3 -3 0 -3 0.8 -4 2.3 -6.3 4.9 -3.7 1.7 -2 0.4 -6 -0.1 -12 -1.6 -6 -0.3 -14 1.3 -4 0 -4 -0.6 -4 -1.5 -12 -7.5 -6 -2.8 -6 -1.6 -14 -1.9 -4 -1.3 -2 -1.2 -2 -1.8 -2 -3.2 -1.2 -4 -1.6 -10 -1.9 -6 -3.3 -6 -13 -7.9 0 -258.6 11 -9.5 4 -15.2 2.5 -4.8 1.8 -2 3.7 -2.5 2 -0.8 4 -0.7 6 0.7 12 3.9 4 0.8 6 -0.1 18 -3.9 8 -0.6 6 0.6 16 3.5 6 0.5 4 -0.1 6 -0.9 12 -3.3 16 -3.4 16 -4.3 8 -1.2 8 0.6 16 3.4 4 0.3 4 -0.3 4 -1.2 4 -2 27.1 -26 63.3 0 11.6 15.2 4 2.3 6 2.4 8 1.8 34 5.7 6 0.2 4 -0.5 4 -1.2 14 -5.8 6 -1 4 0.1 4 0.7 6 2.4 4.7 2.7 11.9 8 5.4 2.3 4 0.9 4 0 4 -0.8 4 -1.6 12 -5.8 4 -1.3 6 -1.1 8 0.2 16 2.5 6 0.4 6 -0.5 8 -1.4 4 -0.2 2 0.4 3.5 2 3.1 4 1.4 2.9 1.6 5.1 2.8 12 7 11 0 259.7 -8.9 11.3 -2.3 10 -2.3 14 -1 18 -1 4 -2 4 -1.9 2.3 -2 1.7 -2 1.3 -4 1.6 -6 1.3 -14 0.6 -6.3 1.2 -3.7 1.9 -2 1.6 -8 7.1 -4 2.1z"/>
<path fill="#ededff" d="M984.8 443l-8 0.8 -10 0.5 -14 -0.8 -10 -1.9 -14 -4.4 -6 -1.4 -6 -0.9 -14 -0.8 -6 -1.3 -6 -2.9 -4 -3.4 -4.4 -5.7 -5.4 -10 -2.2 -2.3 -4 -1.9 -10 -2.2 -9.9 -3.6 -4.1 -0.8 -4 0 -4 0.5 -22 4.2 -7.5 2.1 -10.5 3.8 -10 2.2 -14 2.2 -4 0.1 -4 -0.7 -4 -1.5 -12 -6.6 -14 -5.2 -4.1 -2.3 -4 -4 -6.1 -12 -2.9 -4 -4.3 -4 -8.6 -6.7 -13 -6.2 0 -244.1 16 -15 5 -9.1 2 -3.1 2 -2.1 2 -1.3 4 -0.8 4 0.5 10 2.5 6 0.4 6 -0.7 14 -2.9 10 -0.7 12 0.5 18 1.5 6 0 6 -0.8 14 -4.3 8 -2 20 -4.1 8 -1 8 0.4 16 3.1 4 0.2 4 -0.3 6 -1.8 6.7 -4.1 14.5 -14 11.7 -17 19.1 0 36.6 0 15.4 20 4 2.9 4 2.1 8 2.7 16 2.8 20 2.5 6 0.2 4 -0.2 6 -1.5 10 -4.8 4 -1.6 4 -0.7 4 0.1 4 0.9 4 1.8 4 2.5 9.6 7.3 4.4 2.6 4 1.7 6 1.4 6 0.2 4 -0.7 4 -1.3 14 -6.6 6 -1.4 6 -0.2 8 1.1 18 4.2 12 1.5 4 1.5 2 1.6 2 2.2 3.5 6.2 2.1 6 3.7 20 8.1 8 0 225 -7.4 7 -5.3 14 -2.4 8 -3 16 -1.7 18 -0.9 4 -2 4 -1.8 2 -2.9 2.1 -6 1.9 -6 0.3 -14 -1.5 -4 0.4 -4 1.7 -8 6 -4 2.4 -4 1.1 -4 -0.1 -4 -1.3 -4 -2.3 -14 -11.6 -6 -4.2 -6 -2.9 -4 -1 -4 -0.2 -4 0.5 -6 2.1 -12 6.1 -4 0.9 -4 -0.5 -2 -0.8 -4 -2.8 -10 -11.1 -6 -5.2 -4 -2.2 -2 -0.6 -4 -0.5 -4 1 -2 1.1 -4 3.3 -4 4.8 -8 11.2 -4 4.3 -4 3 -4 2 -12 3.6 -13 5 -9 2.2z"/>
<path fill="#eaeaff" d="M974.8 437l-12 0.4 -10 -1.1 -8 -2.1 -14 -5.4 -6 -1.8 -6 -1.2 -14 -1.4 -6 -1.6 -4 -2.3 -3.3 -3.7 -2 -4 -3.9 -10 -2.8 -3.2 -4 -2 -14 -2.8 -10 -3.5 -4 -0.9 -4 -0.2 -4 0.5 -14 3.6 -16.6 2.5 -15.4 3.6 -8 1.4 -10 0.7 -4 -0.3 -4 -0.8 -20 -8.8 -3.5 -1.8 -2.5 -2 -2.5 -4 -1.8 -6 -1.8 -4 -1.4 -2 -2.5 -2.3 -3.3 -1.7 -2.7 -0.7 -10 -1.4 -6 -1.6 -6 -3.3 -5.1 -5 -7.9 -1.3 0 -231.4 11 -7.3 4 -5.4 6 -6.4 4 -3.4 4 -2.3 4 -1.2 18 -0.6 16 -3.1 8 -1.2 20 -1.2 20 1 6 -0.3 6 -1.3 12 -4.1 6 -1.6 8 -1.5 8 -1 8 -0.5 6 0.3 16 2.8 6 0.6 4 -0.1 4 -0.7 4 -1.3 4 -2 6 -4.5 5.1 -5 11.8 -14 6.1 -6 4.9 -11 49.7 0 7 13 11.4 11.5 6 4.7 6 2.8 12 2.9 10 1.5 18 1.7 12 0.5 4 -0.6 4 -1.3 8 -4 4 -1.6 4 -0.5 2 0.1 2 0.4 4 1.7 12 8.3 6 3.3 8 2.6 8 1 6 -0.2 4.4 -0.8 5.6 -2 8 -3.4 4 -1.3 4 -0.6 6 0.1 4 0.6 6 1.7 24 8.6 4 2.1 4 3.9 2 3.3 1.2 3 4.7 16 11.5 12.8 0 192 -7.1 15.2 -1.5 8 -2.8 8.9 -7 15.1 -2 6 -3.3 18 -2 14 -1.1 4 -0.9 2 -1.7 2.3 -2 1.5 -2 0.9 -4 0.6 -6 -0.8 -12 -3.4 -4 -0.1 -2 0.3 -4 1.8 -10 7.2 -4 1.1 -2 0 -4 -1.3 -2 -1.1 -12 -9.5 -6 -4.1 -4 -2 -6 -1.7 -4 -0.5 -6 0.3 -6 1.4 -12 4.3 -4 0.6 -4 -0.7 -2 -1 -2.8 -2.1 -11.2 -11.9 -8 -6.9 -6 -3.7 -4 -1.3 -2 -0.2 -4 0.8 -2 1.1 -2 1.8 -4 5.3 -10 16.5 -4 4.6 -4 3.2 -4 1.8 -12 3.9 -12 6.5 -4 1.7 -6 1.8 -8 1.2z"/>
<path fill="#e7e7ff" d="M978.8 428.9l-6 0.8 -6 0.3 -6 -0.1 -6 -0.8 -10 -2.9 -20 -8.2 -6 -1.3 -10 -1.3 -4 -1.1 -4 -2.5 -2.2 -3 -1.5 -4 -1.8 -8 -2 -4 -2.5 -2.3 -4 -1.6 -4 -0.5 -10 -0.4 -4 -0.7 -4 -1.4 -8 -4.2 -2 -0.7 -4 -0.3 -4 0.8 -12 4.1 -8 1.9 -16 1.9 -12 1.8 -6 0.2 -4 -0.5 -4 -1.5 -3.7 -2.6 -6.3 -7.8 -2.9 -2.2 -3.1 -1.4 -12 -3.7 -4 -2 -14 -8.5 -4 -1.4 -4 -0.7 -12 0.8 -6 -0.7 -4 -1.6 -2 -1.4 -3.4 -3.4 -9.6 -4.4 0 -218.1 9 -4.7 2.6 -4.8 3.4 -4.5 4 -4 6 -4.3 4 -1.8 4 -1.1 20 -1.3 16 -3 26 -3.9 8 -0.2 14 0.9 6 -0.3 6 -1.5 16 -5.5 10 -1.7 8 -0.2 6 0.6 16 3.9 6 1 6 0 6 -1.1 4 -1.4 4 -2 4 -2.7 4 -3.5 8 -9 6.7 -9.4 4.9 -6 5.9 -6 4.9 -11 44.6 0 7.1 13 13.9 15.8 4 3.6 4 2.4 4 1.8 12 3.4 10 1.7 34 3 6 -0.8 10 -4 3.6 -0.9 2.4 0 2 0.3 4 1.5 10 5.6 6.5 2.6 9.5 2.2 10 1.1 6 0 6 -0.9 16 -4.4 4 -0.3 4 0.2 4 0.8 6 1.9 18 7.4 6 3.3 4 3.7 3.1 5 5.7 12 14.6 15.9 0 172.4 -8.3 11.7 -2.6 18 -1.9 8 -2.4 6 -2.2 4 -7.4 10 -2.3 4 -1.2 4 -1.1 12 -1.5 8 -2.4 8 -2.1 3.8 -2 1.6 -2 0.7 -2 0 -4 -1 -10 -4.5 -6 -1.4 -6 0.6 -10 3.2 -4 0 -2 -0.8 -2.6 -2.2 -5.1 -8 -2.3 -2.7 -2 -1.6 -4 -1.5 -4 0.3 -12 5.1 -8.6 2.4 -15.4 3.5 -4 0.2 -2 -0.3 -4 -1.6 -4 -3.1 -13.5 -14.7 -4.9 -4 -3.6 -2 -5.1 -2 -4.9 -1.2 -4 -0.2 -4 0.6 -2 0.7 -3.4 2.1 -2.6 2.4 -4 5.6 -6.6 14 -2.3 4 -3.1 4 -2 1.9 -4 2.5 -10 4.6 -7.5 5 -8.5 4.9 -4 1.6 -6 1.6zM866 364.8l2.8 -1.3 2 -1.9 1.4 -2.8 0.2 -2 -0.3 -2 -1.3 -2.9 -2 -1.8 -2 -0.7 -2 0.1 -2 0.8 -2 1.8 -1.8 2.7 -1 4 0.8 4 2 2 2 0.5 3.2 -0.5zM1189.4 368.8l1 -2 -0.9 -2 -0.7 -0.6 -2 -0.5 -2.3 1.1 -0.5 2 0.8 2.2 2 0.8 2.6 -1z"/>
<path fill="#e4e4ff" d="M972.8 422.9l-6 0.3 -6 -0.2 -6 -0.7 -6 -1.6 -8 -3.7 -24.9 -14.2 -2.2 -2 -1.4 -2 -3.5 -10 -2 -3.7 -1.9 -2.3 -2.4 -2 -3.5 -2 -10.2 -4.1 -3 -1.9 -1 -1.4 -1 -2.6 -1 -10 -2.8 -8 -2.5 -4 -2.7 -3 -2 -1.5 -4 -1.8 -4 -0.4 -4 1.3 -2.3 1.4 -3.7 3.9 -3 4.1 -3.3 6 -4.6 12 -3.1 4.2 -4 3 -4 1.9 -4 1.2 -6 0.7 -12 -0.3 -4 -0.3 -4 -0.9 -2 -0.9 -2 -1.8 -3.9 -6.8 -1.8 -2 -4.3 -2.3 -6 -0.9 -14 0.9 -8 -0.5 -4 -1 -4 -1.5 -12 -6.3 -4 -1.5 -6 -0.8 -12 1.6 -4 -0.1 -4 -1.1 -2 -1.1 -3.6 -3.4 -1.3 -2 -1.7 -4 -8.4 -6.6 0 -199.1 9.1 -6.3 2.9 -6 3 -4.2 4 -4.1 6 -4 4 -1.6 4 -1 6 -0.4 12 0.2 6 -0.5 22 -3.8 14 -3.4 6 -0.9 6 -0.2 12 1 6 -0.1 6 -1.3 16 -5.8 8 -1.5 6 -0.2 6 0.7 6 1.5 12 4.1 6 1.2 6 0 6 -1.2 6 -2.2 4 -2.3 4 -2.8 4 -3.7 6 -7.2 11.1 -16.3 4.7 -6 5.8 -6 5.1 -11 40 0 5.1 11 4.1 4 5 6 7.1 9.4 6 5.8 4 2.8 4 2 6 2.3 8 2.3 10 1.8 18 1.4 16 3.2 6 -0.2 12 -2.7 4 -0.2 4 0.6 10 2.8 6 1.2 24 2.7 10 -0.2 14 -2 8 0.2 10 2.6 14 5.6 6 3.6 5.3 5 14.7 20.2 3.6 5.8 7.8 4.8 0 157.5 -11.8 21.7 -4.4 20 -2.4 6 -2.7 4 -2.1 2.1 -2 1.3 -4 1.2 -4 -0.4 -10 -3.3 -6 -1.2 -6 0.2 -4 1.4 -3.2 2.7 -2.3 4 -1.1 4 -1.8 10 -1.6 4.5 -2 2.8 -2 1.4 -4 1.1 -4 -0.4 -12 -3.9 -6 -0.9 -4 0.2 -4 0.7 -16 4.4 -6 0.3 -4 -0.9 -2.4 -1.3 -1.6 -1.6 -1.5 -2.4 -0.6 -2 -0.5 -4 0.4 -12 -0.6 -2 -1.2 -1.4 -2 -0.8 -4 0.7 -4 1.8 -8 4.8 -4 1.7 -4 1 -4 0.3 -4 -0.2 -14 -1.9 -6 0.7 -3.2 1.3 -2.8 1.8 -6 5.7 -4.8 6.5 -8.5 14 -3.4 4 -3.3 3 -18 13.4 -6 3.9 -6 2.4 -8 1.4z"/>
<path fill="#e1e1ff" d="M970.8 416.8l-10 0.1 -8 -1.5 -8 -3.3 -8 -5.3 -6.6 -6 -5.3 -6 -2.9 -4 -6.3 -10 -3.3 -4 -3.6 -3.2 -10 -6 -4 -3.2 -2.6 -3.6 -6.4 -12 -4.3 -6 -2.7 -2.6 -4 -2.9 -6 -2.6 -4 -0.4 -2 0.2 -2 0.4 -4 2.1 -4.1 3.8 -11.9 14.8 -6 6.2 -4 2.7 -2 0.8 -4 0.6 -4 -0.4 -4 -1 -14 -5.9 -8 -2.5 -8 -0.5 -18 2.5 -8 -0.2 -4 -0.9 -4 -1.5 -10 -5.2 -6 -2.3 -6 -0.4 -12 1.9 -4 -0.1 -4 -1.4 -2 -1.5 -1.6 -1.7 -2.1 -4 -1.6 -6 -1.7 -16 -0.6 -10 0.1 -8 1.8 -22 -0.4 -8 -8.9 -12.6 0 -112.9 9.1 -8.5 2.3 -6 3.6 -6.2 4 -4.4 6 -4.1 6 -2 8 -0.5 16 0.8 8 -0.7 16 -2.4 16 -4.9 6 -1.1 6 -0.2 12 1.1 6 -0.3 6 -1.5 14 -5.5 8 -1.6 6 0.1 6 1 16 5.9 6 1.4 6 0.3 6 -1 4 -1.4 6 -3 5.7 -3.8 4.3 -3.9 6 -7.5 13.1 -20.6 2.9 -4 6 -6.6 6.8 -12.4 35.8 0 5.3 11 4.1 4 5 6 7 10.2 4 4.8 4 4 4 3 4 2.4 12 4.9 10 3 6 0.9 12 0.9 14 3.6 4 0.6 6 0.1 14 -2 8 -0.3 22 0.9 24 2.4 18 0 10 1.3 12 3.6 6 2.7 4 2.3 4 3.1 4 3.7 12 12.7 6 8.4 2.4 4.8 7 4.1 0 113.9 -6.5 12 0 16 -0.9 8 -2 7.2 -5.1 12.8 -5.6 16 -1.9 4 -2.8 4 -2.6 2.2 -4 1.4 -4 0.4 -20 0.1 -4 0.8 -4 1.5 -2.4 1.6 -3.4 4 -5.2 12 -2.7 4 -2.3 1.7 -4 1.1 -18 -1.6 -16 1.5 -4 -0.6 -2 -0.9 -2 -1.8 -1.7 -3.4 -0.4 -4 0.2 -8 -1 -4 -1.3 -2 -1.8 -1.4 -2 -0.8 -2 -0.2 -4 0.2 -6 1.7 -5.4 2.5 -12.6 7 -6 1.9 -4 0.5 -4 -0.2 -14 -2.4 -4 0 -2 0.5 -4 1.8 -6 5.3 -6.7 7.6 -9.3 13.3 -3.8 4.7 -18.2 16.6 -6 4.4 -4 2.1 -6 2 -6 0.9z"/>
<path fill="#dedeff" d="M972.8 411l-8 0.6 -8 -0.9 -4 -1.2 -4 -1.6 -6 -3.8 -6 -5.3 -6 -6.6 -4.1 -5.4 -5.9 -9.2 -4 -5.2 -4 -4.1 -14 -11.5 -3.5 -4 -5.5 -8 -3.3 -4 -4.5 -4 -3.2 -2.3 -6 -3.1 -4 -1.3 -6 -0.5 -4 0.8 -2 0.9 -4.8 3.5 -9.2 10.2 -6 5.1 -6 3 -6 1.3 -4 0.1 -6 -0.5 -14.5 -3.2 -7.5 -0.9 -8 0.4 -16 2.6 -6 0 -4 -0.7 -4 -1.3 -12 -6.2 -6 -2 -6 -0.2 -10 1.8 -4 0.2 -4 -1.2 -2 -1.4 -2.3 -3.1 -2.1 -6 -1.6 -9.6 -1.4 -12.4 0.1 -10 1.8 -16 0.4 -8 -0.6 -6 -2.9 -16 -8.4 -10.4 0 -87.3 9 -12.3 3 -10 3 -6.1 2 -2.8 2.9 -3.1 5.1 -3.4 4 -1.5 4 -0.7 6 -0.1 14 1.5 8 0 12 -1.3 8 -1.3 4.3 -1.2 11.1 -4 4.6 -1.1 6 -0.3 12 1.2 6 -0.2 6 -1.4 14 -5.7 4 -1.2 4 -0.6 4 0 6 0.9 4 1.3 12 4.7 6 1.7 4 0.5 4 0.1 6 -1.1 4 -1.5 6 -3.3 6 -4.3 4.1 -3.7 5.9 -7.3 16.2 -26.7 4.8 -6 7 -6.1 2.9 -8.9 31.6 0 5.7 11 5.9 6 4.6 6 5.3 8.3 4 5.5 4 4.8 4 3.8 4 2.9 4 2.4 14 7 8 3.5 6 1.6 10 1.3 10 1.8 6 0.6 10 -0.5 30 -4.2 10 -0.7 8 0.5 18 2.7 16 1.4 10 1.5 12 3.1 6 2.6 4 2.2 12 8.8 6 5.3 4 4.2 4 5.3 2.4 4.3 2.3 6 6.7 5.7 0 36.9 -6.4 19.4 6.4 17.1 0 20.5 -8.1 20.4 -0.6 20 -1.3 8 -1.9 6 -3.5 7.5 -8 14.3 -4 5.3 -3 2.9 -2.7 2 -6.3 2.9 -6 1.5 -14.3 1.6 -3.7 0.9 -4 1.7 -4 2.9 -2.3 2.5 -5.7 9.1 -2 2.3 -2 1.4 -4 1.2 -6 -0.1 -12 -1.9 -4 -1.1 -1.8 -0.9 -2.2 -2.9 -2.7 -9.1 -2.1 -4 -3.7 -4 -3.5 -1.7 -2 -0.4 -6 0.6 -10 3.2 -6 2.6 -14 7.4 -6 2 -4 0.5 -6 -0.5 -14 -3.8 -4 0.1 -2 0.5 -4 2.2 -6.3 5.3 -22.1 28 -15.6 14.8 -4 3.4 -4 2.6 -4 1.8 -6 1.6z"/>
<path fill="#dadaff" d="M974.8 405.2l-4 0.8 -4 0.4 -8 -0.6 -4 -1.1 -4 -1.7 -6 -3.8 -6 -5.1 -4.9 -5.3 -13.1 -19.1 -6 -7.4 -3.1 -3.5 -5 -4 -3.9 -3.8 -8.5 -10.2 -4.4 -4 -5.7 -4 -7.4 -4 -6 -2.2 -4 -0.9 -4 -0.3 -4 0.5 -2.7 0.9 -5.3 3.3 -10 10.2 -4 3.3 -6 3 -4 1 -4 0.5 -8 -0.3 -16 -2.6 -6 -0.4 -8 0.7 -14 2.4 -8 0 -4 -0.8 -4 -1.4 -10 -5.4 -6 -2.3 -6 -0.6 -10 1.5 -4 0.2 -4 -1 -2 -1.6 -2 -2.8 -2 -5.3 -2 -9.1 -1.1 -8.5 0 -10 2.3 -16 0.4 -8 -1 -8 -3.9 -18 -9.7 -19 0 -61.2 9.7 -19.8 2.3 -10 2.2 -6 2.1 -4 2.7 -3.6 2 -2 2 -1.5 4 -2.1 6 -1.3 6 0 14 2 10 0 12 -1 8 -1.3 4.4 -1.2 9.6 -3.3 6 -1.4 6 -0.2 12 1.3 6 -0.4 6 -1.7 14 -6 6 -1.2 4 -0.1 6 1.1 16 5.8 6 1.5 4 0.6 4 0 6 -1.1 4 -1.5 6 -3.4 6 -4.7 6 -5.8 6 -8.3 10.6 -19.2 5 -8 4.9 -6 5.5 -4.8 5.1 -10.2 27.2 0 6.2 11 6.2 6 4.5 6 10.8 16.8 4 5.2 4 4.1 6 4.5 11.8 7.4 10.2 7.2 4 2.3 4 1.7 8 2 4 0.4 6 -0.1 30 -3.8 6 -1.3 12 -3.5 6 -1.2 6 -0.4 8 0.6 18 3.5 22 3.4 8 1.8 6 1.9 6 2.5 10 5.6 8 5.5 6 5.2 4 4.8 3.4 5.9 2.1 6 1.3 8 0.1 18 -1.6 34 1.6 24 0 8 -0.8 8 -2.7 18 -1.1 20 -1.6 8 -2.7 6.5 -4 6.6 -6 8 -4 4.5 -6.9 6.4 -6.5 4 -6.6 2.2 -14 2.1 -6 1.8 -4 1.9 -3 2 -9 7.6 -2 0.9 -2 0.4 -2 -0.1 -2.9 -0.8 -3.1 -1.8 -2 -1.6 -8 -9 -8 -10.8 -2 -2.1 -2 -0.6 -4 1.2 -12.3 6.7 -25.7 12.3 -4 1.7 -4 1.1 -4 0.4 -4 -0.3 -6 -1.8 -10 -4.3 -4 -0.5 -2 0.2 -2.8 1.2 -3.2 2.4 -11.1 11.6 -18.6 24 -7.5 8 -8.8 7.7 -4 2.9 -4 2.3 -4 1.5zM1127.7 312.8l1.5 -2 0.3 -2 -0.7 -1.1 -2 -0.5 -2.7 1.6 -1.2 2 -0.1 2 2 2 2 -1.1 0.9 -0.9z"/>
<path fill="#d7d7ff" d="M970.8 401l-4 0.5 -4 -0.1 -6 -1.2 -6 -2.5 -6 -3.9 -4 -3.4 -5.1 -5.6 -4.3 -6 -12.9 -20 -7.4 -8 -7.2 -10 -3.1 -3.4 -4 -3.2 -6 -3.4 -12 -5.3 -8 -2.7 -4 -0.8 -4 -0.3 -4 0.3 -4 1 -3.8 1.8 -2.8 2 -9.4 9.2 -4 3.1 -6 2.6 -6 1.1 -8 -0.3 -14 -2.4 -6 -0.5 -8 0.6 -16 2.9 -6 0.1 -4 -0.7 -4 -1.4 -12 -6.4 -4 -1.5 -6 -0.9 -14 1.2 -4 -1.1 -2 -1.6 -2 -2.8 -2 -4.6 -1.8 -6.6 -0.9 -6 -0.3 -4 0.3 -6 3.2 -18 0.2 -6 -1.3 -8 -4.3 -16 -3.2 -20 -8.9 -8.5 0 -23.5 0 -22.7 9 -9.3 3 -20 1.4 -6 2.2 -6 2.1 -4 3.3 -4.2 2.1 -1.8 3.9 -2.2 6 -1.4 6 0.2 14 2.1 10 0.2 12 -0.8 8 -1.1 6 -1.3 10 -3 6 -1 4 0 12 1.2 6 -0.3 6 -1.6 14 -5.9 4 -1.2 4 -0.4 4 0.2 4 0.8 16 5.3 6 1.4 8 0.5 6 -1 6 -2.5 6 -4 6 -5.4 6 -6.6 6 -9.1 6.6 -13.1 7 -12 4.5 -6 5.9 -5.6 4 -2.7 3.3 -8.7 22.8 0 6.8 11 6.4 6 5.9 8 12.8 20.6 6 6.9 4 3.4 9.6 7.1 12.4 10.5 5.7 3.5 4.3 2 6 1.9 4 0.6 8 -0.1 14 -2.5 14 -1.5 4 -0.8 4 -1.3 12 -5.3 6 -1.8 6 -0.7 6 0.3 6 1 14 3.4 22 4 14 3.8 10 4.1 8 4.1 6 3.8 6 5.3 4 5.2 2.3 4.5 1.9 6 0.9 6 0.2 16 -1.5 36 1.5 22 0 10 -0.8 8 -3.2 20 -1.4 16 -1.7 8 -1.6 4 -2.6 4.5 -4 5.1 -6 6.5 -10 9.7 -4 2.9 -4 2.1 -6 1.8 -16 2.6 -16 5.2 -4 0 -4 -1.6 -4 -3.1 -2 -2.4 -1.9 -3.3 -0.9 -4 0 -2 1.2 -4 5.6 -10 1.8 -4 0.3 -2 -0.3 -2 -1.3 -2 -2.5 -1.7 -4 -1.3 -6 -0.6 -4 0.4 -4 0.9 -4.5 2.3 -2.1 2 -1.4 2 -1.6 4 -1.8 8 -1.4 4 -2.4 4 -1.7 2 -4.7 4 -4.4 2.8 -18 8.4 -8 3.1 -6 0.7 -6 -1.1 -4 -1.9 -8 -4.5 -4 -1.4 -4 -0.1 -2 0.5 -2.9 1.5 -3.1 2.6 -9.4 11.4 -6 6 -16.3 22 -6.3 7.1 -6 5.2 -6 4.1 -4 2 -6 1.8z"/>
<path fill="#d4d4ff" d="M966.8 396.9l-4 -0.1 -4 -0.6 -6 -2.1 -6 -3.5 -6 -5.2 -6.6 -8.6 -10.8 -18 -7.6 -10 -7 -12.2 -3 -3.8 -3 -2.9 -2 -1.4 -4 -1.9 -22 -6.5 -6 -1.4 -6 -0.6 -6 0.5 -4 1.1 -6 3.1 -10 9 -4 2.8 -4 1.8 -6 1.2 -6 -0.3 -14 -3 -6 -0.6 -8 0.6 -16 3.3 -4 0.3 -4 -0.2 -6 -1.7 -12 -6.4 -4 -1.6 -6 -0.9 -14 0.9 -4 -1.2 -2 -1.4 -2 -2.5 -2.1 -4.1 -1.7 -6 -0.6 -6 0.6 -8 3.9 -16 0.3 -4 -0.4 -4 -0.9 -4 -5.9 -18 -4 -22 -10.2 -12.3 0 -17.7 0 -17.1 10.3 -12.9 4.1 -24 1.8 -6 1.8 -4 2.5 -4 2.5 -2.6 4 -2.5 2 -0.8 4 -0.8 6 0.2 14 2.2 8 0.2 12 -0.5 10 -1 16 -3.4 6 -0.8 4 0 12 1.1 6 -0.3 8 -2 14 -5.7 6 -1.1 4 0 4 0.6 16 4.7 6 1.2 8 0.4 6.3 -1.1 5.7 -2.3 6 -4 6 -5.6 6 -7 6 -9 6.9 -14.1 6.6 -12 4.2 -6 5.7 -6 4.6 -3.3 5.7 -9.7 18 0 4.3 8.9 4 2.5 4.1 3.6 3.6 4 5.4 8 10.9 18.6 4 5.7 4 4.5 10.6 9.2 12.9 12 6.1 4 6.4 2.8 8 2.3 6 0.6 6 -0.5 14 -2 14 -0.8 6 -1.9 10.8 -6.5 5.2 -2.4 6 -1.6 6 -0.2 6 1 16 4.4 22 4.1 16 4.2 8 3 8 3.6 6 3.7 4.9 4.2 3.1 3.8 2.4 4.2 2.1 6 1 6 0.2 14 -1.5 36 0.3 8 1.3 16 0.1 8 -1 10 -3.3 18 -2.1 16 -1.3 6 -1.5 4 -2.3 4 -6.4 7.5 -14 13.8 -4 3.2 -4 2.2 -4 1.5 -4 0.8 -22 2.8 -4 0.1 -4 -1.1 -2 -1.3 -2 -2.7 -0.8 -2.8 0 -2 1.2 -4 2.3 -4 4.1 -6 2.1 -4 0.7 -4 -0.4 -2 -1.3 -2 -2.9 -2 -3 -1.1 -4.2 -0.9 -5.8 -0.6 -10 0.3 -6 1 -4 1.2 -4.3 2.1 -2.3 2 -1.5 2 -1.8 4 -2.6 12 -1.6 4 -2.7 4 -5.2 4.7 -6 3.5 -14 5.8 -6 1.9 -4 0.5 -4 -0.4 -4 -1.5 -10 -6.1 -4 -1.6 -4 -0.7 -2 0.1 -4 1.2 -4 2.6 -2 1.9 -11 14.1 -8.1 8 -14 20 -6.9 7.8 -5.2 4.2 -4.8 2.9 -6 2.3 -6 0.9z"/>
<path fill="#d1d1ff" d="M968.8 392.9l-4 0.2 -4 -0.4 -6 -1.7 -6 -3.2 -5.9 -5 -4.1 -4.9 -4.8 -7.1 -6.7 -12 -6.9 -10 -7.6 -14.5 -4 -6.2 -3.1 -3.3 -2.9 -2.3 -6 -2.5 -28 -4.9 -6 -0.5 -6 0.4 -6 1.4 -5.3 2.4 -3 2 -7.7 6.3 -4 2.6 -4 1.5 -4 0.5 -6 -0.8 -12 -4.3 -6 -0.9 -8 0.8 -17.1 4.3 -6.9 0.4 -6 -1.5 -12 -6.2 -4 -1.4 -6 -0.8 -10 1.2 -4 0.1 -4 -1 -2 -1.3 -2 -2.2 -2 -4 -1.3 -5.3 -0.1 -4 1.3 -8 4.8 -14 0.3 -6 -1.8 -6 -5.2 -11.2 -2.5 -6.8 -1.5 -6.2 -2.9 -15.8 -12.1 -17.9 0 -23.8 12.1 -18.3 3.1 -18 1.8 -7.6 2.5 -6.4 3.5 -4.9 4 -3.1 2 -0.9 4 -0.9 6 0.2 14 2.1 8 0.2 20 -1 22 -3.2 6 -0.1 12 1 6 -0.3 8 -1.7 16 -5.6 6 -1 4 0.1 4 0.6 14 3.4 8 1.3 8 -0.2 6 -1.4 6 -2.8 5.1 -3.8 4.9 -4.7 6 -7.5 6 -8.9 9.1 -18.9 5.5 -10 4.2 -6 3.7 -4 5.5 -4.3 6 -2.9 2.9 -7.8 11.6 0 3.5 8 4 1.9 4 2.6 4 3.6 2.5 2.9 4.3 6 13.2 23.4 6 8.2 22 22.3 6 4.3 8 3.9 8 2.5 8 1 6 -0.3 12 -1.3 14 0.3 2.8 -0.3 3.2 -0.7 4 -1.8 10.3 -7.5 5.7 -3.1 4 -1.2 6 -0.3 6 1.1 14 4.4 22 3.7 20 4.9 8 2.6 6 2.6 6 3.7 4 3.5 3.2 4.1 2.1 4 1.9 6 0.7 6 0.1 12 -1.5 34 0.3 8 1.6 20 -0.6 12 -7 36 -1 4 -1.5 4 -2.2 4 -2.1 2.7 -15.1 15.3 -6.9 6.1 -4 2.3 -4 1.4 -4 0.8 -6 0.3 -6 -0.1 -5.1 -0.8 -3.3 -2 -0.8 -2 0.1 -2 1.6 -4 3.5 -6 1.9 -4 1 -4 0.1 -2 -0.2 -2 -0.8 -2.6 -2 -2.9 -2 -1.6 -2 -1.1 -4 -1.1 -10 -0.3 -18 1.6 -8 1.5 -4 1.2 -4 2 -2 1.6 -2 2.5 -2.1 5.2 -1.7 10 -1.8 6 -2.4 4 -4.1 4 -5.9 3.4 -6 2.4 -8 2.4 -6 1 -4 -0.4 -2.7 -0.8 -11.3 -6.5 -6 -2.1 -6 -0.2 -3.5 0.8 -2.5 1.1 -4 2.9 -2 2 -12 16 -10 10 -10.4 16 -6.6 8 -4.5 4 -4.5 2.9 -4 1.8 -6 1.4z"/>
<path fill="#ceceff" d="M970.8 389l-6 0.5 -4 -0.4 -4 -1 -6 -3 -6 -4.9 -6 -7.5 -4.9 -7.9 -3.1 -6 -5.6 -8 -10.4 -20.1 -4 -6.6 -4 -4.9 -2 -1.8 -2 -1.4 -4 -1.8 -6 -1.1 -24 -1.9 -6 -0.2 -6 0.4 -6 1.1 -6 2.1 -4.4 2.2 -9.6 5.9 -4 1.4 -2 0.2 -2 -0.1 -4 -1.1 -10 -5.9 -6 -1.7 -4 -0.1 -4 0.5 -18 5.3 -4 0.8 -4 0.3 -4 -0.3 -4 -1.2 -12 -5.3 -4 -1.2 -6 -0.1 -8 1.9 -4 0.6 -4 -0.8 -2 -1.3 -2 -2.6 -1.2 -3.2 -0.3 -2 0.2 -4 1.8 -6 6.6 -12 1.2 -4 -0.2 -4 -1.6 -4 -8.5 -12 -4 -8.3 -2 -7 -3 -14.7 -5.6 -18 -8.4 -7.8 0 -8.2 7.5 -4 1.5 -6 4.9 -16 4.3 -22 2.8 -7.5 2 -3.3 2 -2.2 4 -2.7 2 -0.6 4 -0.6 4 0.3 12 1.6 8 0.2 20 -0.6 24 -2.5 16 1.1 6 0 8 -1.2 18 -5.2 8 -1.2 6 0.2 16 2.8 6 0.6 8 -0.3 6 -1.5 6 -2.6 4 -2.6 4 -3.6 6 -7.2 6 -8.8 4 -6.9 7.2 -15.7 5.2 -10 4 -6 3.3 -4 4.5 -4 5.8 -3.5 6 -1.9 6 -0.4 6 1 4 1.5 5.2 3.3 4.5 4 3.3 4 2.7 4 14.3 26 6 8.3 16 18.4 3.2 3.3 4.8 3.6 3.8 2.4 8.2 3.7 7.7 2.3 6.3 0.9 6 0 14 -0.9 14 0.9 4 -0.1 4 -1 4 -1.9 10 -7.9 4 -2.5 4 -1.5 6 -0.5 4 0.8 14 4.7 22 2.9 24 5 6 1.9 6 2.4 4 2.3 4 3.2 2.9 3.3 2.4 4 1.5 4 1.2 6 0.3 10 -1.4 38 0.3 8 1.6 16 0 10 -0.8 7.7 -1.7 8.3 -6.3 24 -2 5.1 -1.6 2.9 -4.4 5.5 -16 15.9 -4 3.2 -2.3 1.4 -3.7 1.5 -2.7 0.5 -3.3 0 -2 -0.5 -2 -1.1 -1.6 -2.4 0.1 -4 2 -10 0 -4 -0.9 -4 -1.6 -3.4 -2 -2.6 -2.2 -2 -3.8 -2.4 -6 -1.7 -6 0.1 -34 5.8 -6 1.5 -5 2.7 -3.2 4 -2.1 6 -1.6 12 -1.2 4 -2.3 4 -4.3 4 -4.3 2.2 -5.7 1.8 -6.3 1 -4 0.1 -6 -1.2 -10 -4.9 -4 -1.4 -4 -0.9 -4 -0.4 -4 0.2 -4 0.8 -4 1.9 -3.7 2.8 -2.3 2.5 -12.6 17.5 -11.5 12 -8.8 14 -5.1 6.5 -4 3.8 -4 2.8 -4 1.9 -4 1.2z"/>
<path fill="#cacaff" d="M972.8 385l-6 1.1 -4 -0.1 -4 -0.8 -6 -2.6 -6 -4.7 -6 -7.3 -3.7 -5.8 -3.2 -6 -5.6 -8 -2.3 -4 -9.2 -18.4 -6 -10.3 -2.6 -3.3 -3.4 -3.1 -6 -3.2 -6 -1.5 -8 -0.8 -24 1 -12 1.8 -6.8 1.8 -9.2 3.3 -4 0.8 -2 0.1 -4 -1 -10 -5.2 -6 -1.6 -4 -0.2 -6 0.5 -6 1.3 -14 4 -8 1 -4 -0.3 -6 -1.6 -14 -6.9 -4 -1.4 -4 -0.4 -2 0.4 -6 2.3 -2 -0.5 -0.5 -0.6 -0.1 -2 0.6 -1.4 6 -6.5 3.1 -6.1 4.9 -14 0.3 -2 -0.3 -2 -2.5 -2 -7.5 -2.3 -6 -3.1 -4 -3.5 -4 -5.5 -2.5 -5.6 -4.3 -18 -6.3 -18 -1 -4 -0.7 -6 0.1 -6 1.1 -6 6.5 -20 4.8 -22 2.3 -5.7 3.2 -4.3 2.6 -2 2.2 -1 4 -0.7 22 1.4 20 -0.4 24 -1.8 16 1.2 6 0.2 10 -1.1 22 -4.6 6 -0.8 6 0 16 1.7 6 0.1 6 -0.5 6 -1.6 6 -2.5 4 -2.5 4 -3.3 4 -4.7 6 -8.9 6 -10.1 9.1 -20.1 4.3 -8 4 -6 2.6 -3.1 4 -3.7 6 -3.8 6 -2 6 -0.4 4 0.5 6 2.1 4 2.5 4.5 3.9 3.5 4 4 6 5.5 10 6.5 13 4 6.6 16 21 4 4.6 5.8 4.8 6.2 3.7 6 2.7 8 2.5 8 1.1 20 -0.5 14 1.4 6 -0.1 4 -1 4 -2 10 -7.7 4 -2.4 4 -1.2 4 -0.1 4 0.9 10 3.9 4 1 22 1.5 18 2.7 8 1.7 6 1.8 4 1.8 4 2.3 4 3.5 2 2.5 2.1 4 1.4 4 0.9 6 0.1 8 -1.3 26 -0.1 10 0.4 8 1.7 18 0 10 -0.7 6 -1.6 8 -4.9 16.5 -4 8.9 -2 3.1 -4 4.3 -16 12.8 -2 1.2 -2 0.6 -2 -0.6 -0.7 -0.8 -4.5 -12 -4.4 -6 -4.4 -4 -4 -2.8 -4 -2.2 -4 -1.6 -4 -0.6 -4 0.4 -14.3 4.8 -5.7 1.5 -8 1.4 -12 1.3 -6 1.6 -2 1.1 -2 1.8 -2 2.8 -1.2 2.5 -1.6 6 -1.7 14 -1.6 4 -1.5 2 -2.3 2 -4.1 2 -6 0.8 -6 -0.9 -12 -4.6 -10 -1.7 -6 -0.3 -6 0.2 -4 0.8 -4 1.6 -4 3 -4 4.4 -12.9 18.7 -12.7 14 -6.1 10 -4.4 6 -6.1 6 -3.8 2.5 -4 1.7z"/>
<path fill="#c7c7ff" d="M964.8 382.8l-6 -1 -4 -1.7 -6 -4.4 -4.5 -4.9 -4.1 -6 -3.3 -6 -7 -10 -15.4 -30 -3.7 -6 -2 -2.5 -2 -2 -4 -2.9 -12.8 -6.6 -3.2 -2 -2.3 -2 -1.6 -2 -0.9 -2 -0.4 -2 -1.5 -10 -3.9 -14 -1.9 -4 -1.5 -2 -2 -1.3 -2 -0.7 -4 -0.1 -2 0.5 -3.6 1.6 -2.5 2 -1.4 2 -0.8 2 -0.3 2 0.5 4 2.1 4.3 4 4.5 10.3 9.2 1.5 2 0.9 2 0 2 -1 2 -2.3 2 -4.1 2 -7.9 2 -12 2 -7.4 1.1 -6 0.3 -6 -1.2 -12 -4.5 -6 -0.9 -6 0.1 -10 1.7 -16 4.6 -4 0.8 -4 0.2 -6 -0.8 -4 -1.5 -4 -2.3 -4.2 -3.6 -1.8 -2.4 -1.7 -3.6 -0.4 -4 0.9 -4 1.2 -2.6 2.3 -3.4 3.7 -3.7 6 -5.1 2.8 -3.2 1.1 -2 0.5 -2 0.1 -2 -0.5 -2.3 -1 -1.7 -1.9 -2 -3.1 -1.4 -2 -0.4 -6 0.6 -12 4.2 -6 1.2 -4 -0.3 -2 -0.7 -4 -2.4 -2 -2 -2 -2.8 -2 -4.2 -4.4 -15.8 -6.4 -16 -2.2 -8 -0.5 -8 1.3 -8 7.2 -20 5 -20.4 2 -4.8 2 -2.9 2 -1.9 2 -1.2 2 -0.7 4 -0.6 22 0.6 18 -0.3 22 -1.3 6 0.3 12 1.4 6 0.1 28 -2.6 16 -2.7 6 -0.1 12 0.4 6 -0.3 6 -1.1 6 -1.9 6 -2.9 4.4 -3.1 3.6 -3.3 4 -5.4 10 -17.1 9 -20.2 4.2 -8 3.7 -6 3.1 -3.9 4.1 -4.1 5.9 -3.8 4 -1.5 6 -1 6 0.6 6 2.2 5.2 3.5 4.2 4 3.1 4 3.7 6 13.8 26.8 17.1 25.2 4.9 5.2 4 3.3 6 3.7 6 2.8 6 2 8 1.6 6 0.3 18 -0.2 14 1.8 6 0.2 6 -1.3 4 -2.1 8 -5.7 4 -2.4 4 -1.2 2 -0.2 4 0.6 10 3.9 6 1.6 4 0.2 10 -0.5 8 0.2 16 1.2 8 1.2 6 1.5 4 1.5 4 2.1 4 3.2 2.8 3.5 2 4 1.1 4 0.6 4 0.1 8 -1.5 32 0.5 10 2.1 20 0 8 -1.7 12 -3.6 12 -2.4 6 -2 3.7 -4 5.3 -4 3.2 -6 2.9 -6 1.3 -4 -0.6 -6 -3.2 -20 -13.7 -6 -2.9 -4 -0.9 -2 0 -4 1.1 -12 6.7 -8 2.9 -8 1 -16 -0.6 -4 1.1 -3.1 2.7 -2.1 4 -2.3 8 -2.5 16.5 -1.7 3.5 -2.3 2 -2 0.7 -4 -0.4 -10 -4.3 -4 -1 -4 -0.3 -22 1.3 -4 0.6 -4 1.5 -4 2.7 -2 2.1 -4 5.5 -11.4 17.6 -4.6 6 -10.8 12 -6.2 10 -4.9 6 -4.1 3.6 -4 2.3 -4 1.5 -6 0.6z"/>
<path fill="#c4c4ff" d="M968.8 379.2l-6 0.1 -6 -1.8 -6 -3.9 -6 -6.6 -5.1 -8.2 -4.7 -6 -3.8 -6 -16.1 -32 -2.3 -3.9 -4 -5.1 -4 -3.6 -8 -6.2 -3.1 -3.2 -1.4 -2 -2 -4 -2.2 -6 -5.9 -20 -1.4 -3.8 -2 -3 -2 -1.8 -2 -1 -4 -0.8 -4 0.1 -8 2.2 -4.3 2.1 -2.7 2 -3.1 4 -0.9 2 -0.6 4 0.3 4 0.9 4 2.4 5.4 5.4 8.6 0.8 2 0.1 2 -0.9 2 -3.4 2.2 -4 1.2 -4 0.6 -8 -0.1 -6 -1.4 -14 -4.3 -10 -1.3 -6 0.2 -6 1.2 -17.1 5.7 -6.9 1.4 -6 -0.6 -2.3 -0.8 -3.7 -2.6 -2 -2.7 -1 -2.7 0.3 -4 0.8 -2 3.4 -4 9.6 -8 1.5 -2 1.4 -2.9 0.5 -3.1 -0.1 -4 -1.1 -4 -1.3 -2.9 -2 -2.8 -2.6 -2.3 -3.4 -1.8 -4 -0.8 -4 -0.1 -6 0.9 -12 4 -4 1 -4 -0.1 -4 -1.7 -2 -1.7 -2.4 -3.7 -1.6 -3.8 -3.4 -10.2 -6.6 -13.9 -3 -8.1 -0.8 -4 -0.3 -4 0.3 -4 1.2 -6 2.6 -7.1 5.4 -12.9 5 -18 1.6 -3.8 2 -3 2 -1.8 2.5 -1.4 3.5 -0.9 4 -0.3 34 -0.5 22 -1 22 2.4 18 -0.9 14 0.9 4 -0.2 4 -0.8 10 -3 6 -0.8 16 -1.1 6 -1.3 6 -2 6 -2.9 4 -2.6 4 -3.5 4 -5.1 12 -22.1 8.9 -20.3 4.3 -8 4.1 -6 4.7 -4.9 6 -4 4 -1.7 6 -0.9 6 0.5 4 1.4 6 3.5 4.4 4.1 3.2 4 3.8 6 4.2 8 8.4 17.4 16 26.7 4.7 5.9 5.3 4.9 6 3.9 6 2.9 8 2.5 6 1.1 6 0.4 20 0 16 2.6 6 0.3 6 -1.6 14 -8.3 4 -1.2 2 -0.1 4 0.7 12 4.9 6 1.4 4 0 12 -1.8 8.8 -0.6 11.2 0 8 0.8 6 1.4 4 1.5 3.9 2.3 2.4 2 1.8 2 2.4 4 1.3 4 0.6 4 0.1 8 -1.3 20 -0.2 10 0.6 10 2.3 20 0.2 8 -1.2 10 -2.9 10.6 -4 8.8 -4 5.2 -4 3 -6 2.3 -6 0.7 -6 -0.9 -6 -2.4 -6 -3.5 -18 -13.3 -4 -1.6 -2 -0.4 -4 0.2 -4 1.3 -4 2.5 -6.5 5.5 -3 2 -4.5 1.9 -4 0.7 -6 -0.6 -4 -1.3 -5.2 -2.7 -8.8 -5.7 -4 -1.3 -2 0.1 -3.5 0.9 -8.5 4.6 -4 1.4 -4 0.1 -10 -1.6 -4 0.3 -2 0.6 -3.8 2.6 -2.4 4 -0.3 2 0.2 2 1.9 2 2.4 0.5 4 -0.3 12 -3.3 4 -0.6 4 1 2 1.3 2 2 2 4.3 0.5 5.1 -0.5 4.3 -2 4.9 -2 1.9 -2 0.8 -2 0.1 -10 -1 -4 0 -22 3.4 -6 1.6 -4 2.3 -4 3.7 -2 2.7 -9.8 17.3 -5.2 8 -6.2 8 -10.5 12 -6.6 10 -3.7 4.1 -4 3.1 -4 2.1 -4 1.1z"/>
<path fill="#c1c1ff" d="M970.8 375.4l-4 0.8 -4 -0.2 -4 -1.1 -4 -2 -4 -3.2 -2.8 -2.9 -5.6 -8 -4.9 -6 -3.9 -6 -5.5 -10 -11.3 -23.4 -2.6 -4.6 -5.4 -7.2 -8.9 -8.8 -4.2 -6 -4.1 -10 -6.1 -22 -2.7 -4.7 -2 -1.9 -2 -1.3 -2 -0.6 -4 -0.5 -8 1 -6 1.8 -5.5 2.2 -3.6 2 -2.7 2 -3.4 4 -1 2 -1 4 -0.2 6 0.8 10 -0.3 4 -0.9 2 -2.2 1.6 -2 0.5 -4 0.2 -8 -1.3 -20 -4.5 -6 -0.7 -12 -0.8 -3 -1 -1.4 -2 -2.2 -14 -1.7 -6 -1.6 -4 -2.1 -4 -2 -2.9 -3.2 -3.1 -3.1 -2 -3.7 -1.3 -6 -0.8 -10 0.7 -14 2.3 -4 -0.5 -2 -1.1 -2 -2 -2 -3.2 -3.1 -6.1 -9.7 -16 -1.8 -4 -1.2 -4 -0.7 -6 0.5 -6 2 -6.5 8.2 -17.5 5.8 -17.4 1.5 -2.6 1.6 -2 2.8 -2 2.1 -0.8 6.1 -1.2 15.9 -1 18 -0.2 16 -0.8 8 0.5 16 2.6 20 -0.5 6 0.9 8 2 4 0.4 2 -0.2 4 -1 8 -3.7 4 -1.3 20 -3.5 10 -3.2 6 -2.9 4 -2.6 4 -3.3 4 -4.7 12 -23.3 10.7 -24.2 4.6 -8 2.9 -4 3.8 -4 6 -4.1 4 -1.7 6 -1 6 0.6 6 2.4 4 2.6 5.2 5.2 4.2 6 3.4 6 9.2 19.6 9.2 16.4 6.1 12 2.7 4.2 4 5.1 6 5.4 5.3 3.3 6.7 3.1 6 2 6 1.1 6 0.3 16 -0.2 6 0.4 6 0.9 12 2.9 4 0.5 4 -0.4 2 -0.6 4 -2.1 8 -5 4 -1.6 2 -0.4 2 0 4 0.7 4 1.7 8 4.3 4 1.8 4 0.9 2 0 4 -0.6 10.9 -3.7 7.1 -1.7 8 -1.1 6 -0.1 6 0.7 6 1.7 4 2.1 2.9 2.4 3.1 4.2 1.4 3.8 0.7 4 0.1 8 -1.6 20 -0.2 8 0.6 8 3 21.2 0.3 8.8 -0.7 8 -2.6 10 -3 7.3 -4 5.6 -4 3.2 -6 2.2 -4 0.6 -4 0 -6 -1.1 -6 -2.5 -5.2 -3.3 -4.7 -4 -6.1 -6.5 -4 -3.5 -4 -2 -4 -0.7 -6 0.4 -6 1.7 -5.6 2.6 -8.4 4.8 -4 1.2 -4 0 -4 -1.4 -4 -2.4 -10 -7.6 -4 -1.5 -2 -0.1 -4 1.1 -10 5.4 -4 1.6 -6 1 -12 0.3 -6 1.7 -3.2 1.9 -2.8 2.4 -3.1 3.6 -2.5 4 -4.4 10 -2.9 10 -1.7 4 -9.4 14.8 -7.2 15.2 -3.3 6 -3.9 6 -7.6 10 -10.5 12 -3.5 5.3 -3.9 4.7 -4.1 3.6 -2 1.3 -4 1.7z"/>
<path fill="#bebeff" d="M966.8 372.8l-4 -0.1 -4 -1.2 -4 -2.2 -2 -1.6 -4 -4 -3.6 -4.9 -4.4 -5 -5 -7 -7.9 -14 -5.9 -12 -3.2 -7.4 -4 -7.6 -4 -5.8 -9.2 -11.2 -2.4 -4 -2.8 -6 -2 -6 -3.7 -16 -1.9 -5.8 -2.4 -4.2 -3.6 -3.1 -2 -1 -4 -0.9 -4 0.1 -4 0.6 -6 1.5 -8 2.6 -9.1 4.2 -5.2 4 -2.9 4 -1.5 4 -1.5 10 -0.5 2 -1.3 2.7 -2 1.8 -2 0.8 -2 0.3 -4 0 -7.9 -1.6 -10.1 -3.1 -8 -2.9 -4 -2.1 -4 -3.8 -2 -2.8 -7.1 -13.3 -2.9 -4.7 -4 -4.6 -4 -2.9 -4 -1.6 -4 -0.9 -18 -0.6 -8 -1.3 -6 -2.9 -6 -4.9 -8 -8.3 -4 -6.3 -2.4 -7 -0.3 -6 0.7 -4.6 2 -5.9 8.8 -15.5 1.8 -4 3.5 -10 1.9 -3.6 1.8 -2.4 2.4 -2 3.8 -1.7 10 -2 10 -0.8 16 -0.1 16 -0.6 8 0.9 14 2.9 4 0.1 12 -0.7 6 0.4 6 1.5 8 2.9 4 0.8 2 -0.1 2 -0.3 4 -1.4 8 -4.3 6 -2.4 16 -4 8 -2.8 6 -2.7 6 -3.6 4 -3.2 4 -4.6 2 -3.1 12 -25.3 8.4 -19.8 4.4 -8 4.3 -6 4.9 -4.7 4 -2.6 4 -1.8 6 -1 6 0.6 4 1.4 6 3.8 4.3 4.3 4.3 6 4.4 8 9 19.5 8.7 16.5 5.3 11.6 4 6.8 4 5 4 3.6 6 3.8 8 4 6 2 4 0.7 6 0.1 16 -0.5 8 0.5 8 1.8 14 5.1 4 0.7 2 -0.3 2 -0.7 2 -1.2 6.2 -5 3.8 -2.2 4 -1.1 2 -0.1 4 1 4 2.2 8 6.5 4 2.7 2 0.9 4 0.7 2 -0.2 4 -1 4 -2 11.1 -7.4 4.9 -2 6 -1.4 6 -0.3 6 0.8 2.7 0.9 3.3 1.6 3 2.4 3 4.3 1.2 3.7 0.5 4 -0.1 6 -2.2 20 -0.2 6 0.9 8 3.6 20 0.7 10 -0.7 8 -2 8 -1.7 4.6 -2 3.8 -4 4.8 -4 2.6 -4 1.3 -6 0.7 -6 -0.5 -6 -2 -5.1 -3.3 -4.1 -4 -7.3 -10 -2.2 -2 -3.3 -1.6 -6 -0.9 -6 0.5 -8 1.8 -14 4.2 -6 0.7 -2 -0.3 -4 -1.2 -4 -2.4 -8 -6.6 -4 -1.9 -2 -0.2 -4 1.1 -12 7.7 -6 2.7 -4 0.8 -14 1.2 -6 2 -4.2 2.4 -3.8 3.4 -3.9 4.6 -2.4 4 -3.7 8 -6.5 18 -7.5 16.5 -3.8 9.5 -4 8 -3.7 6 -9.1 12 -10.7 12 -2.9 4 -3.8 4.3 -2.1 1.7 -3.9 2.4 -2 0.8 -4 0.8z"/>
<path fill="#babaff" d="M968.8 369.2l-4 0.4 -4 -0.8 -4 -1.8 -2 -1.3 -3.3 -2.9 -7.4 -8 -6.2 -8 -10.3 -18 -10.8 -23.2 -4 -6.8 -8.4 -12 -3.4 -6 -3.6 -10 -3.3 -16 -1.8 -6 -0.8 -2 -2.7 -3.9 -4 -3.5 -2 -1 -4 -0.8 -6 0.6 -16 4.6 -12 4.7 -6 3.3 -4.8 4 -2.9 4 -4.3 9.7 -2 2.2 -2 0.9 -2 0.5 -4 -0.2 -6 -1.4 -6 -1.9 -6 -2.6 -4 -2.4 -3.2 -2.8 -2.8 -3.3 -8.1 -12.7 -3.9 -5.3 -4 -3.8 -4 -2.6 -6 -2 -14 -1.1 -4 -0.7 -4 -1.2 -18 -8.1 -4 -2.5 -2 -1.8 -4 -5.1 -2 -4.8 -0.8 -5 0.6 -6 2.2 -5.7 2 -3.4 9.4 -12.9 5.1 -12 2.5 -4 3 -2.7 4 -2 4 -1.4 6 -1.1 8 -0.6 14 0.1 14 -0.5 8 0.9 10 2.9 6 1.1 14 -1 6 0.2 6 1.6 10 4.4 4 0.9 2 0.1 2 -0.3 4 -1.3 14 -7.5 24 -8.9 8 -3.9 6 -4 4 -3.7 4 -5.4 14 -30.9 7.1 -17 4.5 -8 2.8 -4 5.6 -5.8 4 -2.8 4 -1.7 6 -1.1 6 0.6 4 1.5 5.2 3.3 4.8 4.7 5 7.3 4.3 8 6.7 15.1 9.3 18.9 4.7 11.5 4 7.9 2 3.2 4 4.8 4 3.1 10 6.2 8 4.1 2 0.6 4 0.4 14 -1.5 8 -0.3 6 0.4 6.9 1.6 5.1 2.1 6.2 3.9 4.3 4 5.5 6.1 4 3.2 4 1.9 4 0.7 2 -0.4 2.1 -1.5 0.6 -2 -1.6 -8 0.3 -4 1 -2 1.6 -1.6 2 -1 2 -0.1 2 0.5 2.8 2.2 1.5 2 3.7 7.2 2 2.3 2 1.2 2 0.6 4 0.4 4 -0.3 4 -1 4 -1.4 4 -2.1 6 -4.2 9.5 -8.7 3.3 -2 3.2 -1.2 4 -0.9 6 0.2 4 1.2 4.3 2.7 1.7 2 1.9 4 0.7 6 -0.6 8.8 -3 17.2 0 6 5.6 20 1.3 8 0.4 6 -0.4 6 -1.9 8.4 -2.5 5.6 -3.5 5.1 -4 3 -6 1.8 -4 0.2 -4 -0.3 -6 -1.8 -3 -2 -3.4 -4 -1.9 -4 -1.7 -6.9 -1.3 -3.1 -2.2 -2 -2.5 -0.7 -6 0.1 -8 1.1 -26 5.7 -6 0.3 -4 -0.7 -3.9 -1.8 -2.6 -2 -3.8 -4 -5.7 -8.6 -2 -2 -2 0.1 -2 1.4 -11.9 11.1 -6.1 4.5 -4 1.9 -4 1.2 -12 1.2 -6 1.4 -4 1.8 -4 2.4 -6.4 5.6 -3.6 4.9 -4 8.1 -8.8 25 -8.4 22 -1.7 4 -4.3 8 -4 6 -7.8 10 -15 16.5 -4.3 3.5 -3.7 1.9 -2 0.5z"/>
<path fill="#b7b7ff" d="M970.8 365.3l-4 0.9 -4 -0.2 -3.7 -1.2 -2.3 -1.3 -10.1 -8.7 -3.9 -4.4 -4 -5.5 -8.5 -14.1 -4.1 -8 -5.4 -12.6 -4 -8.2 -10.2 -17.2 -3.1 -6 -3.3 -10 -3.3 -18 -1.1 -4 -0.9 -2 -4.1 -6.9 -4 -4.3 -2 -1.2 -2 -0.5 -2 0 -4 1 -33.7 11.9 -6.3 2.9 -5.7 3.1 -5.2 4 -5.1 4.9 -2 1.4 -4 1.3 -4 0.1 -8 -1.9 -4 -1.8 -4 -2.7 -5.1 -5.3 -8.2 -12 -4.7 -5.8 -6 -5.4 -6 -4.1 -4 -1.6 -2 -0.2 -8 0.4 -6 -1 -10 -3.6 -12 -2.9 -4 -2 -2 -1.7 -2.8 -4.1 -1.4 -4 0.1 -6 1.2 -4 2.3 -4 2.6 -3.1 10.4 -8.9 2.3 -4 3.3 -10 2.7 -4 2.2 -2 3.6 -2 7.5 -2.1 6 -0.5 14 0.2 14 -0.4 6 0.8 12 4.7 4 0.8 4 -0.2 12 -1.8 6 0.3 6 2.1 10 5.2 4 1.1 4 -0.2 6 -2.2 44 -22.4 6 -3.9 4 -3.6 4 -5.3 2 -3.6 5.1 -13 6.9 -15.3 6.9 -16.7 5.4 -10 4.6 -6 5.1 -4.5 6 -3.1 6 -1.1 6 0.7 6 2.5 6 4.9 5.1 6.6 5.5 10 7.4 16.8 6.4 13.2 5.6 14.6 4 9.3 3.5 6.1 2.5 2.9 4 3.4 10.5 7.7 7.5 7.4 2 1.3 2 0.7 2 -0.1 2 -0.7 6 -2.6 4 -1.3 8 -1.3 6 0 4 0.5 4 1 4 1.7 4 2.8 2.6 2.6 9.4 14.6 10 12 2 1.8 2 0.7 4 -0.3 28 -6 6 -1.6 4 -2.1 2 -1.6 14 -13.2 8 -8.4 2.1 -1.9 3 -2 4.9 -1.5 4 0.1 3.5 1.4 2.4 2 2.1 3.9 0.4 2.1 0.1 4 -0.3 4 -2.2 9.8 -2 5.1 -2 3.7 -2 2.8 -2 1.6 -2 0.5 -12 -2.3 -6 -0.7 -4 0.1 -2 0.5 -1.5 0.9 -1.3 2 -0.3 2 0.3 4 1.8 8 0.5 4 -0.3 4 -0.7 2 -2.2 4 -3.6 4 -4.7 3.1 -6 2.5 -12 3.5 -10 2.1 -6 0.4 -4 -0.4 -2 -0.7 -4 -2.4 -2 -2.1 -1.2 -2 -1.4 -4 0 -6 3 -12 0.6 -4 -0.3 -4 -0.7 -1.6 -2 -1.2 -2 -0.3 -18 0.2 -5.8 0.9 -2.2 1.7 -0.4 2.3 3.6 10 0.9 6 -0.4 4 -0.7 2 -2.1 4 -4.9 5.5 -3.4 2.5 -2.6 1.5 -6 1.8 -12 1.6 -6 2 -4 2 -4.9 3.1 -4.8 4 -2.3 2.5 -3.7 5.5 -2.3 5.2 -11.4 34.8 -6.6 18 -4.1 8 -5.9 8.9 -12 14.4 -10 9.5 -2 1.5 -4 2.2zM1058.7 204.8l4.8 -2 2.9 -2 1.4 -2 0.1 -2 -0.9 -2 -3 -4 -7.2 -7.6 -4 -3.4 -2 -0.9 -2 0.2 -2 2.2 -1.6 5.5 -0.1 4 1.3 6 2.1 4 2.3 2.4 2 1.2 2 0.6 3.9 -0.2zM763.4 212.8l1.4 -0.8 2 -2.2 2.8 -5 2.1 -6 0.9 -6 -0.4 -4 -1.8 -4 -1.6 -1.6 -2 -1.1 -4 -0.8 -6 1.1 -4.6 2.4 -1.9 2 -1 2 -0.5 4 0.4 4 1.6 5.4 2 4.4 2 3.1 2 2.2 2 1.3 2 0.6 2 -0.5 0.6 -0.5zM1198.8 254.9l-4 0 -2 -0.5 -3.3 -1.6 -1.8 -2 -1.3 -4 -0.9 -8 -2.4 -12 -0.3 -4 0.6 -4 0.7 -2 4 -6 6.7 -7.2 2 -1.1 2 -0.1 2 0.8 4 3.6 2 2.8 2 3.8 2.4 7.4 1.1 6 0.3 4 -0.2 4 -0.6 4 -1 3.9 -2 4.4 -2 3 -2 2 -2 1.4 -4 1.4z"/>
<path fill="#b4b4ff" d="M966.8 362.9l-4 -0.2 -2 -0.6 -4 -2 -8 -5.9 -6.7 -7.4 -7.3 -11 -5.1 -9 -10.9 -24.3 -11.2 -21.7 -2.6 -6 -1.7 -6 -3.5 -22 -5.1 -12 -0.5 -2 -0.3 -6 1.4 -10 -0.1 -6 -0.4 -2.3 -1.4 -3.7 -0.6 -1.3 -2 -2.3 -2 -0.3 -2 1.1 -2 2.4 -2.3 4.4 -2.4 10 -1.4 4 -2.9 4 -5.3 4 -5.7 3 -6 2.5 -24.4 8.5 -19.6 7.6 -6 1.1 -6 -0.6 -4 -1.6 -2 -1.2 -4 -3.5 -16.3 -21.8 -2.3 -4 -0.9 -4 0.2 -4 4.3 -18 0.8 -6 -0.4 -6 -1.9 -4 -3.5 -3.3 -2 -1.1 -4 -1 -4 -0.1 -12 1.1 -4 -0.6 -2 -1.1 -1.7 -1.9 -0.8 -2 -0.2 -2 0.3 -2 0.8 -2 1.5 -2 2.1 -1.6 4 -1.8 6 -0.9 14 0.5 12 -0.5 4 0.4 5.2 1.9 8.8 5.7 4 0.7 4 -0.8 11.1 -3.6 2.9 -0.4 4 0.1 6 1.8 12 7.4 4 1.3 2 0.1 4 -0.9 12 -5.4 10 -3.5 4 -2.6 6 -5.9 2.6 -2 19.4 -12 4 -3.6 2 -2.3 2.6 -4.1 3 -6 5.1 -14 11.9 -28 3 -6 3.4 -6 4.7 -6 4.6 -4 5.7 -2.9 6 -1.1 6 0.6 6 2.7 5.7 4.7 4.3 5.5 3.9 6.5 3 6 5.1 12 6.5 14 2.6 6 6.9 19.5 3 6.5 1.3 2 3.7 4.2 9.2 7.8 5.6 8 1.6 4 0.9 4 0.1 4 -0.7 12 0.6 8 1.6 6 3.1 6.2 4 4.8 2 1.5 4 1.6 4 0 10 -1.8 4 0.6 2 1 2 1.6 1.8 2.5 0.9 2 0.7 4 -0.8 4 -1 2 -3.3 4 -2.3 1.8 -6 2.4 -12 2.1 -6 2.5 -10 5.9 -4.4 3.3 -4.2 4 -2.8 4 -2.6 6 -11.3 38 -6.5 18 -4.2 8 -3.9 6 -4.1 5.3 -6 7.2 -6 6.3 -4 3.3 -6 4 -2 1 -4 1zM1088.8 189l-6 0 -6 -0.8 -6 -2.4 -4 -2.8 -4.1 -4.2 -2.6 -4 -0.7 -2 -0.3 -4 0.6 -2 1.4 -2 2.3 -2 3.4 -1.6 4 -0.9 4 -0.3 4 0.4 4 1.2 2.4 1.2 2.7 2 1.8 2 2.3 4 2.2 6 1.3 6 0 2 -1 2 -1.7 1.2 -4 1zM1194.8 183.1l-4 1.6 -4 -0.3 -2 -0.7 -2 -1.3 -1.2 -1.6 -0.2 -2 0.5 -2 1.1 -2 5.8 -6.7 4 -3.2 2 -0.7 2 0 2 1.2 0.7 1.4 0.6 2 -0.1 4 -0.9 4 -0.8 2 -1.5 2.5 -2 1.8zM726.8 209l-4 -0.3 -2 -0.7 -2 -1.4 -1.5 -1.8 -1 -2 -0.4 -4 0.9 -3.7 2 -3.1 2 -1.8 2 -1.2 4 -0.9 4 0.8 2 1.3 2 2 2.4 4.6 0.8 4 -0.2 2 -0.8 2 -2.2 2 -4 1.5 -4 0.7zM1136.8 235l-6 0.8 -6 -0.3 -4 -1.6 -2 -1.7 -2 -3.4 -0.5 -4 1.1 -6 2.5 -6 2.9 -5 2.4 -3 3.6 -2.8 4 -1.9 4 -1.1 6 -0.6 6 0.6 4 1.4 4 2.8 2 2.5 1.6 3.1 0.7 2 0.7 4 -0.5 4 -0.7 2 -2.5 4 -1.9 2 -3.4 2.4 -8 3.6 -8 2.2zM1202.8 243.5l-2 0.3 -2 -0.6 -2 -1.4 -2 -2.6 -2.9 -6.4 -1.3 -6 0.2 -4.4 0.3 -1.6 1.7 -3.4 2.3 -2.6 1.7 -1.1 2 -0.7 2 0 2 0.8 2 1.7 2 3 0.9 2.3 1.4 6 0 6 -0.9 4 -2.1 4 -1.3 1.5 -2 1.2z"/>
<path fill="#b1b1ff" d="M968.8 359.3l-2 0.3 -4 -0.2 -4 -1.2 -4 -1.9 -6 -4.6 -6 -6.8 -7 -10.1 -6.7 -12 -12.3 -28.2 -7.4 -15.8 -2.2 -6 -1.5 -6 -2.3 -20 -3.9 -12 0 -6 1.6 -12 0.2 -6 -2.9 -26 -1.6 -6.6 -5 -9.4 -1.7 -4 -0.5 -4 1 -4 2.3 -4 4.6 -4 13.3 -9.2 4 -4.2 2 -2.8 4 -7.8 5.5 -16 11.8 -28 4 -8 3.9 -6 4.8 -5.3 4 -3 4 -1.9 6 -1.2 4 0.3 4 1.1 6 3.4 2.8 2.6 3.4 4 6.1 10 15 34 6.7 20.3 3 7.7 1 2 4 5.2 6.9 6.8 3.9 6 1.9 4 1.1 4 0.6 4 0.1 14 0.8 8 2.7 9 4 7.7 6 7.5 4 3.4 2 1.3 2 0.7 2 0.2 8 -1.4 2 0.5 1.2 1.1 0.4 2 -1 2 -2.6 2 -8 1.6 -4 2 -11.6 8.4 -9.1 6 -4.7 4 -2.6 3 -2 3.4 -2 5.1 -11 40.5 -5.7 16 -2.8 6 -6.3 10 -12.2 14.4 -4 3.8 -4 2.9 -4 2.1 -4 1.3zM826.8 243l-6 0.8 -12 1 -4 -0.1 -4 -0.9 -4 -2.2 -4 -3.7 -10 -13.1 -2.2 -4 -1.4 -4 -0.4 -4 0.3 -4 1.2 -6 2.5 -8.1 4 -9.3 2 -3.2 2 -2 2 -1 6 -1.3 4 -1.4 4 -2.5 8 -5.8 4 -2.1 4 -1 4 0 2 0.4 4 1.8 4 2.8 8 6.9 4 2.1 2 0.2 2 -0.3 2 -0.9 6 -3.6 4 -1.8 4 -0.7 4 0.8 2.5 2 2.4 4 1.2 4 0.7 6 -0.9 6 -3.8 12 -2 12 -1.5 4 -1.2 2 -1.8 2 -3.6 2.9 -8 4.2 -16 5.5 -14 3.6zM1080.8 178l-2 0.6 -2 0 -2 -0.5 -2.7 -1.3 -2.2 -2 -1.1 -2 -0.3 -2 0.7 -2 2.6 -2 3 -0.5 3.4 0.5 2.6 1.5 2 2.5 0.6 2 -0.1 2 -0.5 1.5 -2 1.7zM1134.8 230.9l-4 0.1 -4 -1 -2 -1.2 -1.4 -2 -0.6 -2 0.1 -4 2.4 -6 3.5 -4.4 2 -1.7 4 -2.1 4 -1 4 0 4 0.9 2 0.9 2 1.4 1.8 2 1.1 2 0.6 4 -1.1 4 -1.4 2 -1.9 2 -3.1 2.2 -6 2.6 -6 1.3zM1200.8 227.8l-0.3 -1 0.3 -0.7 0.5 0.7 -0.5 1z"/>
<path fill="#aeaeff" d="M968.8 356.9l-4 0.3 -4 -0.6 -6 -2.6 -4 -2.9 -4 -3.8 -6 -7.6 -6 -8.9 -5.4 -10 -17.6 -42 -2.1 -6 -1.3 -6 -1.7 -20 -3.3 -12 0.2 -6 1.5 -12 0.2 -6 -1.6 -26 -1.3 -6 -5.9 -14 -0.9 -4 0.4 -4 1.6 -4 4.2 -4 11 -8.6 4 -5 2 -3.5 3.7 -8.9 5.3 -16 10 -24 3.8 -8 3.7 -6 4.9 -6 4.6 -3.6 4 -1.9 6 -1.2 4 0.2 4 1.2 6 3.5 3.9 3.8 2.1 2.6 3.4 5.4 3.3 6 13.8 32 7.5 24.4 2 5.2 4 6.3 5.2 6.1 3.6 6 1.8 4 1.1 4 0.7 4 0.5 16 1.8 10 2.9 8 2.4 4.8 6.5 11.2 1.6 4 0.4 2 -0.6 4 -2.2 4 -5.7 5.1 -10 7 -3.7 3.9 -2.3 4 -2 5.7 -4.7 20.3 -5.8 22 -5.7 16 -4 8 -7.1 10 -10.7 12 -4 3.4 -4 2.6 -6 2.1zM836.8 237.2l-8 1.3 -6 -0.1 -22 -4.7 -4 -1.9 -6 -5.2 -4.5 -5.8 -1.5 -3.3 -0.9 -2.7 -0.4 -6 1.2 -6 2.1 -5.1 3.4 -4.9 4.6 -3.6 10 -5.1 4 -3.1 8 -7.4 4 -2.4 2 -0.6 2 -0.3 3.3 0.5 4.7 2.4 4 3.7 10 11.7 4 3.1 2 0.9 2 0.4 2 -0.3 2 -1.1 4 -4.9 2 -1.5 2 -0.2 2 2 0.3 3.8 -2.7 10 0.7 12 -0.1 4 -0.9 4 -0.9 2 -3.4 4 -6.1 4 -8.9 3.6 -10 2.8zM1140.8 222.9l-4 1.2 -2 -0.1 -2 -0.7 -0.6 -0.5 -0.7 -2 0.3 -2 1.1 -2 1.9 -1.6 2 -1 2 -0.4 2 0.1 2.1 0.9 1.4 2 0 2 -1 2 -2.5 2.1z"/>
<path fill="#ababff" d="M966.8 355l-4 -0.2 -4 -1 -6 -3.4 -6 -5.6 -8 -10.1 -4.9 -7.9 -4.1 -8 -7.6 -18 -8.3 -22 -2.8 -10 -1 -8 -0.5 -14 -2.9 -12 1.7 -24 -1.1 -26 -1.7 -8 -4.5 -12 -0.9 -4 -0.1 -2 0.3 -2 1.3 -4 1.7 -2 11.4 -10.4 4 -6.1 4 -9.5 2.8 -10 3.7 -10 10 -24 5.3 -10 4.2 -5.6 4.7 -4.4 5.3 -2.9 6 -1.2 4 0.3 4 1.1 4 2.2 3.1 2.5 3.7 4 2.8 4 5.4 10 12 28 2.1 6 6.9 24.4 4 7.7 4.3 5.9 4.7 10 1.8 8 0.7 16 1.7 10 2.8 8 7.8 16 1.2 4 0.2 2 -0.6 4 -2.1 4 -4.3 4 -10.6 8 -1.6 2.2 -2 3.9 -2 6.7 -3.3 17.2 -5.9 24 -5.6 16 -3.8 8 -6.8 10 -11 12 -3.6 3.1 -4 2.7 -4 1.7 -4 0.7zM838.8 233.2l-8 1 -6 -0.7 -4 -1.5 -10 -5 -12 -2.9 -4 -2.3 -2 -1.8 -2.5 -3.2 -1.5 -4 -0.4 -4 0.7 -4 1.7 -3.7 2 -2.7 4 -3.2 11.3 -6.4 10.7 -9.4 4 -2.2 2 -0.4 2 0.1 4 1.8 2 1.7 4 4.8 8 12 4 4.4 8 7.2 2 3.1 1.1 2.9 0.2 4 -0.6 2 -1 2 -1.7 2.2 -2.2 1.8 -3.8 2.3 -4 1.7 -8 2.4z"/>
<path fill="#a7a7ff" d="M966.8 352.9l-4 -0.2 -4 -1.1 -6 -3.4 -6 -5.6 -7.8 -9.8 -6.1 -10 -3.7 -8 -5.8 -14 -7.7 -22 -1.8 -6 -1.1 -6 -0.5 -6 -0.3 -14 -2.5 -12 1.5 -24 -0.3 -18 -0.5 -8 -1.4 -7.9 -4.5 -14.1 -0.4 -4 0.2 -2 1.2 -4 11.5 -12.6 4 -7.5 2 -5.3 4.2 -14.6 2.8 -8 10 -24 4.2 -8 4.1 -6 4.7 -4.7 2 -1.4 4 -2.1 6 -1.3 4 0.3 4 1.2 3.6 2 2.6 2 3.8 3.9 2.9 4.1 3.6 6 2.8 6 11.7 28 8.3 30 2.7 5.6 3.8 6.4 4.1 10 1.7 8 0.6 16 1.1 8 2.7 8.7 7.7 17.3 0.9 4 0.1 2 -0.7 4 -2.3 4 -11.7 9.9 -1.9 2.1 -1.8 4 -1.7 6 -3.4 20 -4.6 20 -3.7 12 -3.9 10 -1.9 4 -3.7 6 -4.6 6 -4.8 5.4 -6 5.9 -4 3.1 -4 2.2 -6 1.5zM838.8 229l-6 0.5 -4.1 -0.7 -4.1 -2 -5.8 -4.6 -4 -2.5 -4 -1.3 -8 -1.3 -4 -1.7 -2 -1.8 -1.5 -2.8 -0.3 -2 0.3 -2 0.8 -2 1.4 -2 2.3 -2 11 -6.7 10 -8 2 -1 2 -0.4 2 0.2 2 0.9 2 1.5 2 2.3 8 13.1 9.2 10.1 2.1 4 0.1 2 -0.4 2 -1.2 2 -1.8 1.8 -4 2.4 -6 2z"/>
<path fill="#a4a4ff" d="M964.8 350.8l-6 -1.3 -6 -3.5 -4 -3.5 -4 -4.2 -6 -7.9 -5.7 -9.6 -5.4 -12 -3.9 -10 -6.5 -20 -1.6 -6 -1.1 -6 -0.4 -6 -0.2 -14 -2.2 -12 1.3 -24 -0.4 -24 -1.5 -10 -3.8 -14 -0.2 -4 1.2 -6 8.4 -10.3 2 -3 2 -4.2 4 -11.6 2.8 -10.9 2 -6 9.9 -24 3.9 -8 3.9 -6 5.5 -5.9 2.9 -2.1 3.1 -1.6 6 -1.3 6 0.8 4 1.8 4 2.8 4 4.3 3.6 5.2 3.3 6 10.4 24 4.3 12 6.4 25.6 2 4.9 3.8 7.5 3.4 10 1.5 8 0.6 18 1.1 8 2.6 8 6 14 1.4 6 -0.4 4 -1.7 4 -1.5 2 -4.8 4.3 -4 4.2 -2.5 3.5 -0.7 2 -1.9 8 -3.5 22 -3.9 18 -3.1 10 -5.6 14 -3.6 6 -4.4 6 -4.8 5.5 -6 5.7 -4 3.1 -4 2.2 -4 1.2 -4 0.3zM836.8 221.2l-2 0.1 -1.8 -0.5 -2.2 -1.6 -4 -5.7 -2 -2.3 -6.3 -4.4 -1.5 -2 0.2 -2 1.2 -2 2.4 -2.2 2 -1 2 -0.2 2 1.2 2 3 2.4 5.2 1.5 2 6.1 6 1.1 2 0.1 2 -1.2 1.6 -2 0.8z"/>
<path fill="#a1a1ff" d="M964.8 348.8l-6 -1.3 -6 -3.5 -4 -3.5 -4 -4.1 -5.8 -7.6 -4.8 -8 -6.3 -14 -3.7 -10 -4.9 -16 -2.1 -8 -1 -6 -0.4 -6 0 -14 -2 -12 1.1 -24 -0.3 -24 -1.3 -10 -3.2 -14 -0.2 -4 1.1 -6 7.8 -11 2 -3.9 4 -11.6 2.8 -11.5 2.6 -8 9.8 -24 2.9 -6 5 -8 4.9 -5.2 2 -1.5 4 -2.2 6 -1.3 6 0.8 4 1.7 4 3 4 4.3 4.2 6.4 3.1 6 10.2 24 3.4 10 5.6 24 1.5 4.5 4.2 9.5 2.8 10 1.2 8 0.3 18 0.9 8 2.2 8 5.4 14 1 6 -0.6 4 -1.8 4 -7.6 9.4 -2.6 4.6 -1.8 8 -2.6 20 -4.1 20 -3.6 12 -5.8 14 -3.5 5.8 -4 5.3 -4 4.5 -6 5.6 -4 3 -4 2.3 -4 1.2 -4 0.3z"/>
<path fill="#9e9eff" d="M966.8 346.9l-6 -0.7 -6 -2.8 -6 -4.7 -6 -6.6 -5.1 -7.3 -4.3 -8 -6.1 -14 -3.3 -10 -4.5 -16 -1.9 -10 -0.3 -6 0 -14 -1.8 -12 1 -24 -0.3 -24 -0.8 -8 -2.4 -12 -0.8 -6 0.2 -4 0.9 -4 5.5 -8.8 2.6 -5.2 3.4 -9.9 3.4 -14.1 1.8 -6 12.4 -30 4.7 -8 3.2 -4 2.5 -2.5 2 -1.5 4 -2.3 2 -0.7 4 -0.6 4 0.3 2 0.5 4 1.8 4 3 4 4.5 3.6 5.5 3.2 6 10.9 26 3.1 10 5.2 23.6 4.7 12.4 2.4 10 1 8 0 18 0.7 8 1.2 6 5.1 16 0.6 4 -0.2 4 -2 6 -5.5 9 -2.3 5 -1.5 8 -2.1 18 -3.9 20 -3.2 12 -4.8 12 -3.1 6 -3.1 4.6 -4 5 -4 4.2 -6 5.1 -4 2.6 -4 1.8 -4 0.8z"/>
<path fill="#9b9bff" d="M966.8 345l-6 -0.7 -4 -1.6 -6 -4 -6 -5.9 -4.6 -6 -4.8 -8 -5.5 -12 -4.3 -12 -5.4 -20 -1.3 -8 -0.3 -8 0.1 -12 -1.6 -12 0.7 -26 -0.1 -22 -0.8 -8 -2.4 -14 -0.3 -4 0.2 -4 0.8 -4 5.6 -10.2 2 -4.6 2 -6.4 4.5 -18.8 2 -6 11.6 -28 4.8 -8 5.1 -5.7 2.9 -2.3 3.1 -1.6 2 -0.8 4 -0.6 4 0.3 2 0.5 4 1.9 4 3.1 4 4.5 3.1 4.7 3.2 6 10.9 26 3 10 4.5 22 1.3 4.4 3.5 9.6 1.6 8 1.2 10 -0.2 18 0.5 8 1.4 7.8 3.2 12.2 0.9 6 -0.3 4 -1.4 6 -4.4 9.2 -1.8 4.8 -3.1 26 -3.8 20 -2.6 10 -3.8 10 -3.9 8 -2.5 4 -4.5 5.9 -4 4.2 -6 5.1 -4 2.5 -4 1.7 -4 0.8z"/>
<path fill="#9797ff" d="M968.8 342.9l-2 0.3 -4 -0.2 -6 -2 -6 -3.9 -6 -6 -6 -8.2 -3.4 -6.1 -5.5 -12 -3.4 -10 -4.7 -18 -1.9 -12 -0.1 -18 -1.4 -12 0.7 -26 -0.1 -22 -0.5 -6 -2.1 -14 -0.5 -6 0.9 -8 6.5 -14 1.5 -4.6 4.5 -19.4 1.8 -6 11.4 -28 3.2 -6 2.6 -4 4.5 -5 2 -1.7 4 -2.3 2 -0.7 4 -0.7 2 0 4 0.8 4 1.9 4 3.2 3.8 4.5 3.9 6 3 6 10.7 26 2.2 8 4.4 22.2 4.3 13.8 1.5 8 0.9 10 -0.3 18 0.4 8 1.2 8.2 2.6 11.8 0.6 6 -0.1 4 -1.1 6 -5.1 14 -2.5 24 -3.7 20 -2.3 10 -2.9 8 -5.7 12 -3.8 5.6 -4 4.8 -4 3.9 -6 4.5 -4 2.1 -4 1.2z"/>
<path fill="#9494ff" d="M968.8 341.2l-6 0.1 -6 -1.9 -6 -3.9 -4.9 -4.7 -5.1 -6.6 -4.4 -7.4 -5.6 -12 -3.4 -10 -5 -20 -1.4 -10 0 -18 -1.4 -12 0.6 -26 0 -20 -0.5 -8 -2 -14 -0.4 -6 0.9 -8 4.6 -10.2 2 -5.8 5 -22 1.7 -6 11.5 -28 4.5 -8 5.3 -6.3 2 -1.7 4 -2.4 2 -0.7 4 -0.7 4 0.3 2 0.5 4 2 4 3.2 3.2 3.8 4 6 3 6 10.7 26 2.2 8 4.6 24 3.6 12 1.3 8 0.7 10 -0.3 18 0.3 8 0.7 6.6 2.4 13.4 0.6 6 -0.3 6 -1.1 6 -3.9 12 -2 22 -1.2 8 -4 20 -3.1 10 -3.4 7.8 -3.3 6.2 -6.7 8.8 -4 4 -6 4.4 -4 2.1 -4 1.1z"/>
<path fill="#9191ff" d="M970.8 339.2l-6 0.8 -6 -1.3 -6 -3.2 -6 -5.3 -5.9 -7.4 -4.1 -7.1 -5.2 -10.9 -3.4 -10 -4.4 -18 -1.8 -12 -0.1 -18 -1.2 -12 0.5 -26 0 -20 -0.4 -8.2 -2.1 -17.8 0.1 -4 0.7 -6 5.4 -14 6.5 -28 2.8 -8 8.3 -20 4.3 -8 2.8 -4 3.2 -3.6 2.9 -2.4 3.1 -1.8 2 -0.7 4 -0.8 4 0.4 2 0.5 4 2 4 3.3 4 4.9 3.8 6.2 2.8 6 8.4 20 2 6 2 8 3.6 20 3.8 14 0.9 6 0.8 12 -0.5 18 0.3 8 2.7 20 0.5 6 -0.7 10 -3.7 14 -1.7 20 -1.4 10 -3.4 18 -3 10 -3.2 7.7 -3.3 6.3 -2.6 4 -3.1 4 -5 5.2 -4 3.2 -4 2.4 -4 1.6z"/>
<path fill="#8e8eff" d="M972.8 337.1l-4 1.1 -6 0.1 -6 -1.9 -4 -2.4 -4 -3.3 -5.3 -5.9 -2.8 -4 -4.5 -8 -3.7 -8 -2.9 -8 -5.7 -24 -1.1 -10 0.1 -16 -1.2 -12 0.5 -42 -0.5 -12 -1.9 -18 0.1 -4 0.7 -6 5 -14 4.7 -22 2.1 -8 3 -8 8.5 -20 4.9 -8.1 2 -2.6 3.2 -3.3 4.8 -3.2 4 -1.2 2 -0.3 4 0.4 2 0.5 4 2.1 4 3.3 4 5 3.3 5.4 2.9 6 6.8 16 3.6 10 1.8 8 3.6 20.3 3.5 13.7 1.1 8 0.5 10 -0.5 24 2.9 28 -0.1 6 -0.7 6 -3 12 -1.3 18 -1.3 10 -3.8 20 -2.2 8 -5.3 12 -3.4 6 -2.4 3.3 -4 4.5 -4 3.6 -4 2.9 -4 2z"/>
<path fill="#8b8bff" d="M966.8 337.1l-6 -0.6 -4 -1.5 -6 -4 -4.3 -4.2 -4.8 -6 -4.6 -8 -4.6 -10 -2.7 -8 -4.3 -18 -1.7 -12 -0.1 -18 -1.1 -12 0.5 -46 -0.4 -8 -1.8 -18 0.7 -10 5.2 -15.9 4.9 -24.1 2.5 -8 8.3 -20 4.3 -8.3 2.4 -3.7 3.6 -4.2 2 -1.8 4 -2.5 2 -0.8 4 -0.8 4 0.4 2 0.5 4 2.1 4 3.5 4 5 2.8 4.6 3.8 8 6.7 16 3.4 10 5 28 3.1 12 0.7 6 0.5 10 -0.5 20 0.1 8 2.1 20 0.5 8 -0.7 10 -2.7 12 -1.2 18 -1 8 -4 22 -3.1 10 -3.5 7.9 -3.5 6.1 -2.8 4 -3.7 4.3 -4 3.7 -4 2.9 -4 2 -6 1.4z"/>
<path fill="#8787ff" d="M970.8 335l-6 0.7 -6 -1.2 -6 -3.3 -4 -3.4 -6 -7 -3.7 -6 -5 -10 -3 -8 -5.2 -22 -1.3 -10 -0.1 -18 -1.1 -12 0.5 -46 -2.1 -26 0.7 -10 4.3 -13.4 5.3 -26.6 3.3 -10 6.7 -16 5 -10 5.7 -7.5 2.8 -2.5 3.2 -1.9 2 -0.9 4 -0.7 4 0.3 2 0.6 4 2.1 4 3.6 3.8 4.9 2.5 4 3 6 7.6 18 2.8 8 1.4 6 4.1 24 2.8 12 0.7 6 0.5 10 -0.6 26 2.4 28 -0.3 10 -2.8 14 -1.1 18 -0.9 8 -3.7 20 -2.7 10 -2.5 6 -3 5.9 -3.9 6.1 -2.1 2.7 -4 4.1 -4 3.3 -4 2.5 -4 1.6z"/>
<path fill="#8484ff" d="M972.8 333l-4 1.1 -6 0.1 -6 -1.9 -4 -2.4 -4 -3.5 -5 -5.6 -3.8 -6 -4.3 -8 -2.5 -6 -1.9 -6 -3.8 -16 -1.5 -8 -0.8 -10 0.1 -14 -1.1 -12 0.5 -44 -0.4 -10 -1.5 -16 0.1 -8 0.4 -4 4.2 -14 4.5 -24 1.7 -6 2.1 -6 7.6 -18 4.2 -8 3.2 -4.5 4 -4.2 4 -2.6 2 -0.9 4 -0.8 4 0.4 4 1.5 4 2.9 4 4.4 4.9 7.8 8.8 20 2.9 8 2.1 8 3.5 22 3.1 14 1 12 -0.6 30 0.4 8 1.7 18 0 10 -0.3 4 -2.3 12 -1.8 24 -3.9 22 -2.1 8 -2.3 6 -3.1 6.2 -4 6.4 -4 4.9 -4 3.7 -4 2.9 -4 2.1z"/>
<path fill="#8181ff" d="M968.8 332.9l-4 0.3 -6 -1.3 -4 -2 -6 -4.8 -4 -4.5 -6 -9.5 -4.1 -8.3 -2.7 -8 -4.2 -18 -1.7 -12 -0.1 -18 -1 -12 0.4 -46 -1.9 -26 0.6 -10 3.9 -14 4.9 -26 4.1 -12 8.8 -20 5 -7.8 2 -2.3 4 -3.5 4 -2 4 -0.8 4 0.4 4 1.5 4 2.9 4.8 5.6 2.6 4 3 6 6.9 16 3.5 10 1.8 8 3.4 21.7 2.7 12.3 0.4 4 0.5 10 -0.7 28 2.1 30 -0.4 10 -2.2 12 -1.7 24 -3.9 22 -2.1 8 -2.5 6 -3.1 6 -3.1 5.1 -3.9 4.9 -4.1 3.9 -4 3 -4 2 -4 1.2z"/>
<path fill="#7a7aff" d="M970.8 331.1l-6 0.8 -4 -0.6 -4 -1.5 -4 -2.5 -4 -3.5 -4 -4.6 -4 -6 -4.5 -8.4 -2.4 -6 -1.7 -6 -4.7 -22 -0.9 -10 0.1 -14 -1 -12 0.4 -44 -0.4 -10 -1.4 -16 0.1 -6 0.5 -6 3.9 -14.8 4.5 -25.2 4.1 -12 6.9 -16 4.5 -8.3 4 -5.1 4 -3.6 4 -2 4 -0.8 4 0.3 4 1.6 4 3 4 4.5 5 8.4 7.9 18 2.9 8 2 8 3.7 24 2.5 12 0.9 12 -0.8 30 1.8 26 -0.1 12 -2.1 14 -1.4 22 -4.2 24 -1.5 6 -2.2 6 -4.2 8 -4 6 -4.2 4.8 -4 3.4 -4 2.5 -4 1.6z"/>
<path fill="#7070ff" d="M970.8 327.4l-6 0.7 -4 -0.6 -4 -1.6 -4 -2.5 -4 -3.6 -4 -4.9 -4 -6.2 -3.1 -5.9 -3.4 -10 -4.8 -22 -0.7 -8 -0.1 -16 -0.9 -12 0.3 -44 -1.6 -26 0 -6 0.4 -6 3.2 -14 3.9 -24 1.6 -6 2.1 -6 7.9 -18 3.2 -6 4 -5.3 4 -3.7 4 -2.2 4 -0.9 4 0.4 4 1.7 4 3.1 2.6 2.9 2.8 4 2.6 4.6 8.6 19.4 2.7 8 1.3 6 3.4 23.6 2.3 12.4 0.6 10 -1 32 1.5 26 0.1 12 -1.8 14 -1.3 22 -3.6 20 -1.3 6 -1.8 6 -2.8 6 -3.6 6 -3.3 4.5 -4 4.2 -6 4.2 -4 1.7z"/>
<path fill="#6666ff" d="M972.8 323.2l-4 1.2 -6 0.1 -4 -1.1 -4 -2.1 -4 -3.2 -4 -4.4 -4 -5.7 -3 -5.2 -1.7 -4 -1.8 -6 -4.9 -22 -0.8 -8 -0.2 -16 -0.8 -12 0.3 -44 -1.6 -26 0 -6 0.4 -6 2.8 -14 3.6 -24 2.2 -8 2.3 -6 7.2 -15.8 3.5 -6.2 2.5 -3.3 4 -3.8 4 -2.3 4 -0.9 4 0.4 4 1.8 4 3.2 2 2.2 3.2 4.7 2.2 4 8.1 18 2.1 6 1.9 8 2.9 22 2.4 14 0.4 8 -1.1 34 1.2 26 0.1 12 -1.5 14 -0.9 18 -1.4 10 -4.1 20 -2 6 -1.9 4 -3.6 5.9 -4 5 -5.7 5.1 -4.3 2.4z"/>
<path fill="#5c5cff" d="M968.8 321.2l-4 0.3 -2 -0.2 -4 -1.2 -4 -2.2 -4 -3.3 -5 -5.8 -3.8 -6 -2.6 -6 -1.8 -6 -4.1 -18 -1.3 -10 -0.2 -16 -0.7 -12 0.1 -46 -1.6 -26 0.4 -10 2.5 -14 2.7 -20 1.7 -8 1.9 -6 8.1 -18 4.7 -8 3 -3.5 4 -3.1 2 -1.1 4 -0.9 4 0.4 4 1.9 2.9 2.3 3.1 3.4 3 4.6 2.1 4 7.3 16 2.8 8 1.6 8 2.7 22 1.9 12 0.4 8 -1.3 34 1.1 28 -0.1 12 -1.2 12 -0.9 18 -1.9 12 -4 18 -2.1 6 -2.1 4 -4.2 6 -5.1 5.2 -6 3.9 -4 1.3z"/>
<path fill="#5252ff" d="M970.8 317.5l-4 0.8 -4 -0.2 -4 -1.2 -4 -2.2 -4 -3.4 -4 -4.5 -2.7 -4 -2 -4 -3.2 -10 -2.9 -12 -1.6 -8 -0.8 -8 -0.1 -14 -0.7 -12 0.1 -44 -1.6 -26 0 -8 0.2 -4 2.3 -14 3.3 -24 2.2 -8 2.3 -6 5.7 -12 3.5 -6.4 2.6 -3.6 3.4 -3.5 4 -2.4 4 -1 2 0 4 1.2 4 2.7 2.8 3 2.9 4 2.3 4.1 8.2 17.9 2.5 8 1.1 6 4.3 34 0.4 8 -1.5 32 0.9 30 0 12 -1.1 12 -0.8 16 -1.3 10 -4.7 20.8 -1.8 5.2 -2 4 -4.2 6 -4 4 -4 2.9 -4 1.8z"/>
<path fill="#4747ff" d="M968.8 315.1l-4 0.3 -2 -0.2 -4 -1.2 -6 -3.8 -4 -4.1 -3.7 -5.3 -1.9 -4 -2 -6 -3.7 -14 -1.9 -10 -0.6 -8 -0.1 -12 -0.7 -12 0 -44 -1.7 -28 0.3 -10 2 -12.8 2.5 -21.2 1.1 -6 1.8 -6 2.4 -6 4.2 -8.7 6 -10.6 2.2 -2.7 3.8 -3.2 2 -1.1 4 -1 4 0.5 2 0.8 3 2 3 2.9 4.7 7.1 6 12 2.6 6 2 6 1.6 8 4.1 34 0.3 8 -1.6 32 0.8 42 -1.1 12 -0.8 16 -1.4 10 -5.2 21.4 -1.8 4.6 -2.2 4 -4 5.1 -4 3.5 -4 2.4 -4 1.3z"/>
<path fill="#3d3dff" d="M972.8 311l-4 1.4 -4 0.3 -4 -0.7 -2 -0.7 -4 -2.3 -4 -3.6 -2.3 -2.6 -2.5 -4 -3.2 -8.6 -3.7 -13.4 -1.7 -8 -1.1 -10 -0.1 -12 -0.7 -12 0 -44 -1.8 -26 0 -6 0.2 -6 4.5 -36 1.4 -6 2.8 -8 4.2 -8.7 5.1 -9.3 2.9 -3.9 4 -3.6 2 -1.1 4 -1.1 4 0.5 2 0.8 3.3 2.4 2.7 2.7 2.3 3.3 3.7 6.5 6.4 13.5 2.5 8 1.1 6 3.7 32 0.4 6 0 8 -1.7 30 0.7 40 -2.3 32 -1.5 8 -3.6 14 -1.8 6 -1.7 4 -2.5 4 -3.6 4 -2.1 1.8 -4 2.4z"/>
<path fill="#3333ff" d="M970.8 309.3l-4 0.9 -4 -0.2 -2 -0.5 -4 -1.8 -2 -1.4 -3.8 -3.5 -2.9 -4 -2 -4 -6.1 -20 -1.6 -8 -0.8 -8 -0.9 -24 0 -44 -1.9 -28 0.2 -10 3.9 -34 1.2 -6 1.8 -6 2.5 -6 4.4 -8.5 3.1 -5.5 2.8 -4 4.1 -3.8 2 -1.2 4 -1.1 4 0.5 2 0.8 2 1.4 3.4 3.4 2.6 3.5 4 6.9 5.6 11.6 2 6 1.6 8 3.7 34 0.2 4 -0.1 8 -1.3 18 -0.5 12 0.6 40 -1.5 24 -1.1 10 -1.8 8 -4 14 -1.3 4 -1.9 4 -2.9 4 -3.3 3.2 -2 1.4 -4 1.9z"/>
<path fill="#2929ff" d="M970.8 306.9l-4 0.9 -4 -0.2 -2 -0.6 -4.6 -2.2 -4.4 -4 -2.8 -4 -1.8 -4 -6.3 -20 -1.5 -8 -0.6 -8 -0.9 -22 -0.1 -44 -2 -28 0.1 -10 3.6 -32 0.9 -6 1.6 -6 2.3 -6 2.5 -5 4 -7.2 3.8 -5.8 4.2 -4.2 2 -1.2 4 -1.2 4 0.6 2 0.9 4 3.2 3 3.9 3 4.7 4 7.3 2.8 6 2 6 1.6 8 3.4 32 0.3 6 -0.1 8 -1.9 30 0.4 40 -1.4 24 -0.9 8 -1.7 8 -2.5 8.8 -3 9.2 -1.8 4 -2.7 4 -2.5 2.5 -2 1.6 -4 2z"/>
<path fill="#1f1fff" d="M968.8 305.1l-4 0.4 -4 -0.8 -4 -2 -4.2 -3.9 -2.6 -4 -1.7 -4 -4.2 -12 -2.3 -8 -1.4 -8 -0.5 -8 -0.8 -20 -0.3 -44 -2.1 -30 0.2 -8 3.6 -34 1.1 -6 1.9 -6 4.7 -10 6.6 -10.4 4 -4.1 2.5 -1.5 3.5 -1 4 0.6 2 0.9 4.1 3.5 3.9 5.2 2.9 4.8 3.2 6 2.6 6 1.9 6 1.1 6 3.2 32 0.3 6 -0.1 8 -1.5 18 -0.6 12 0.4 40 -1.5 24 -1 8 -3 12 -3.9 11.8 -2 4.6 -2.4 3.6 -3.6 3.5 -2 1.3 -4 1.5z"/>
<path fill="#1414ff" d="M966.8 303.1l-4 -0.2 -4 -1.5 -3.5 -2.6 -2.5 -3.1 -2.6 -4.9 -3.4 -8.6 -2.6 -7.4 -1.5 -6 -1.1 -6 -0.6 -8 -0.8 -20 -0.4 -44 -2.2 -30 0.2 -8 3.2 -32 0.9 -6 1.6 -6 2.4 -6 2.1 -4 6.8 -10.6 4 -4.2 2 -1.4 4 -1.2 4 0.5 2 1 4 3.5 4 5.3 3.1 5.1 2.9 5.3 2 4.7 1.8 6 1.2 6 3.2 34 0.1 6 -0.1 6 -2.1 28 0.1 42 -1.4 24 -1.1 8 -1.4 6 -2.3 7.5 -4 10.5 -2 4.1 -2 2.8 -3.6 3.1 -2.4 1.3 -4 1z"/>
<path fill="#0a0aff" d="M964.8 300.8l-4 -0.9 -2 -1.1 -2.5 -2 -3 -4 -2.5 -4.9 -4 -9.9 -3.3 -11.2 -1.2 -10 -1.1 -22 -0.4 -46 -2 -22 -0.3 -8 0.1 -6 3.1 -32 0.9 -6 1.7 -6 3.4 -8 3.1 -5.2 4 -5.7 2 -2.4 3.1 -2.7 2.9 -1.5 2 -0.4 4 0.6 2 1 4 3.6 6 8.4 2.5 4.3 2.7 6 1.9 6 1.1 6 3.2 34 0.1 6 -0.3 8 -2.1 26 0 42 -1.3 22 -1.3 10 -1.5 6 -3 8.7 -4 9.3 -2 3.5 -2.1 2.5 -3.9 2.8 -2 0.8 -4 0.4z"/>
<path fill="#0000ff" d="M970.8 296.9l-4 1.4 -4 -0.3 -2.7 -1.2 -3.3 -2.8 -4 -6.1 -3.4 -7.1 -2.6 -6.8 -2 -7 -1.4 -10.2 -1.1 -22 -0.6 -46 -2.3 -28 0 -8 3 -32 0.9 -6 1.7 -6 3.8 -8.4 6 -8.9 4 -4.3 2 -1.4 4 -1.3 2 0 2 0.6 2 1 4 3.6 6 8.2 4.5 8.9 1.9 6 1.1 6 3.1 34 -0.1 12 -1.7 18 -0.8 12 0 40 -1.2 20 -0.8 8 -2.3 10 -2.2 6 -3.5 7.9 -4 6.7 -2 2.1 -2 1.4z"/>
<path fill="#0a00f5" d="M968.8 294.9l-2 0.5 -4 -0.3 -3.8 -2.3 -2.2 -2.4 -2 -2.9 -4 -7.4 -3.1 -7.3 -1.7 -6 -1.1 -6 -0.7 -8 -0.9 -18 -0.5 -44 -2.6 -30 0 -8 2.9 -32 0.9 -6 1.7 -6 3.7 -8 5.4 -7.8 4 -4.2 2 -1.4 4 -1.4 2 0.1 2 0.5 2 1.1 4 3.5 6 8.1 3.7 7.5 2 6 1.2 6 2.9 34 -0.1 12 -1.9 18 -0.7 12 -0.1 40 -1.3 20 -0.9 8 -2.5 10 -4.3 10.1 -4.9 7.9 -3.1 3 -2 1.1z"/>
<path fill="#1400eb" d="M968.8 291.6l-2 0.7 -2 0 -2 -0.4 -2 -1.1 -4 -4 -4 -6.3 -2 -3.9 -2.4 -5.8 -1.7 -6 -1.2 -10 -1.1 -20 -0.7 -44 -2.7 -30 0 -8 2.3 -28 1 -8 1.4 -6 3.4 -8 5.7 -8.4 4 -4.1 2 -1.4 2 -1 2 -0.4 2 0.1 2 0.5 2 1.1 4 3.5 4.7 6.1 4.3 8 2 6 1.2 6 2.9 34 -0.2 12 -2.6 28 -0.4 42 -1.9 26 -2 9.1 -4 9.5 -4 6.6 -2 2.5 -2 1.9 -2 1.2z"/>
<path fill="#1f00e0" d="M966.8 288.9l-2 0.1 -2 -0.6 -2 -1.1 -4 -3.9 -4 -6.1 -2 -4.1 -2 -5.4 -1.2 -5 -1 -8 -1.2 -20 -0.8 -44 -2.5 -24 -0.4 -8 0 -6 2.3 -28 0.9 -8 1.5 -6 3.4 -8 5 -7.1 4 -4 2 -1.4 4 -1.3 2 0 2 0.6 2 1 4 3.4 5.2 6.8 3.9 8 1.8 6 0.9 6 2.6 34 -0.3 10 -2.8 28 -0.4 42 -2.1 26 -0.8 4.6 -1.7 5.4 -4.3 8.9 -4 5.4 -2 1.8 -2 1.3 -2 0.7z"/>
<path fill="#2900d6" d="M968.8 284.9l-2 0.7 -2 0.1 -2 -0.5 -2 -1.1 -4 -3.8 -2 -2.8 -2.7 -4.7 -1.7 -4 -1.6 -6 -1.1 -8 -1.3 -20 -0.9 -44 -2.6 -24 -0.4 -8 0 -6 2.1 -28 1 -8 1.5 -6 3.5 -8 4.2 -5.8 4 -4 2 -1.3 4 -1.4 2 0.1 2 0.6 2 1 4 3.3 4.3 5.5 2.3 4 1.8 4 1.3 4 1.2 6 2.7 34 -0.2 12 -3 28 -0.6 42 -1.8 24.2 -2 8.9 -3 6.9 -3 4.7 -2 2.4 -4 3z"/>
<path fill="#3300cc" d="M968.8 281.9l-2 0.7 -2 0 -2 -0.4 -4 -2.7 -3.9 -4.7 -2.1 -3.9 -2.8 -8.1 -1.2 -8.4 -1.3 -19.6 -1.1 -44 -2.7 -24 -0.5 -8 0 -6 2 -28 1 -8 1.5 -6 3.1 -6.8 4 -5.8 4 -3.9 2 -1.3 4 -1.3 4 0.6 2 1 4 3.3 4 4.9 3.7 7.3 1.9 6 0.9 6 2.4 32 -0.3 12 -2.2 18 -0.9 10 -0.7 42 -2 24 -1.8 8 -3 6.8 -4 5.4 -4 2.9z"/>
<path fill="#3d00c2" d="M968.8 279.1l-2 0.7 -2 0.1 -2 -0.5 -4 -2.7 -2 -2.2 -2.4 -3.7 -1.9 -4 -1.6 -6 -1.1 -8 -1.3 -18 -0.6 -30 -0.6 -14 -2.9 -24 -0.5 -8 0 -6 2 -28 0.9 -8 1.6 -6 2.7 -6 3.7 -5.4 4 -3.9 2 -1.3 4 -1.3 4 0.6 4 2.4 2 1.8 4 5.1 2.2 4 1.6 4 1.1 4 1 6 2.3 32 -0.3 12 -2.3 18 -1 10 -0.8 42 -1.9 22 -1.7 8 -2.2 5.7 -2 3.2 -2 2.5 -4 2.9z"/>
<path fill="#4700b8" d="M966.8 277.1l-2 0.1 -2 -0.5 -2 -1 -2 -1.7 -2 -2.4 -2 -3.3 -1.5 -3.5 -1.5 -6 -1 -7.7 -1.2 -16.3 -1.2 -42 -1 -10 -2.5 -18 -0.3 -8 1.9 -32 1 -8 1.3 -5.1 2 -4.9 4 -6.3 2 -2.1 4 -3 4 -1.3 2 0.1 4 1.4 4 3.3 4 5.2 3.1 6.7 1.2 4 1 6 2.2 32 -0.3 12 -2.5 18 -1 10 -1 42 -2 22 -1.9 8 -2.8 6 -2 2.6 -2 1.9 -2 1.2 -2 0.6z"/>
<path fill="#5200ad" d="M968.8 273.9l-2 0.7 -2 0 -2 -0.5 -2 -1.1 -2 -1.8 -2 -2.6 -2 -3.8 -1.7 -6 -1 -6 -1.5 -18 -1.3 -42 -1 -10 -2.4 -16 -0.6 -8 0 -6 1.8 -28 0.6 -6 1.4 -6 2.4 -6 4 -6 3.3 -3 2 -1.3 4 -1.3 4 0.6 4 2.4 2 1.8 3.6 4.8 2.8 6 1.3 4 1 6 2.2 32 -0.4 12 -2.6 18 -1.1 10 -1.2 42 -1.8 20 -1.8 8 -1.6 4 -2.4 3.8 -2 2 -2 1.3z"/>
<path fill="#5c00a3" d="M968.8 271.3l-2 0.7 -2 0 -2 -0.5 -2 -1.2 -1.6 -1.5 -2.6 -4 -1.6 -4 -0.9 -4 -0.9 -6 -1.4 -16 -1.6 -42 -1.1 -10 -2.5 -16 -0.6 -8 -0.1 -6 1.8 -28 0.7 -6 1.3 -6 3.1 -6.9 3.8 -5.1 4.2 -3.2 4 -1.3 4 0.6 4 2.4 4 4.3 2 3.2 1.8 4 1.2 4 1.1 6 2.1 32 -0.4 12 -3 20 -1 10 -1.3 40 -1.8 18 -1.1 6 -1.6 5.2 -2 3.6 -2 2.2 -2 1.5z"/>
<path fill="#660099" d="M966.8 269.3l-2 0.1 -2 -0.6 -2 -1.4 -2 -2.4 -2.1 -4.2 -1.9 -8 -1.9 -18 -1 -30 -0.7 -12 -1.2 -10 -2.9 -18 -0.5 -8 1.7 -32 0.7 -6 1.4 -6 2.6 -6 3.8 -5.1 4 -3.1 4 -1.2 4 0.5 2 1 2.5 1.9 1.9 2 2.8 4 2.6 6 1.4 6 0.6 6 1.7 28 -0.4 12 -2.9 18 -1.4 12 -1.5 40 -1.9 18 -1.4 6.5 -2 4.8 -2 2.8 -2 1.6 -2 0.8z"/>
<path fill="#70008f" d="M968.8 265.4l-2 0.9 -2 0.1 -2 -0.7 -1.2 -0.9 -2.8 -3.8 -2.1 -6.2 -2.5 -20 -1.1 -28 -0.9 -14 -1.3 -10 -2.8 -16 -0.7 -8 -0.1 -6 1.5 -26 0.8 -8 0.8 -4 2.4 -6.2 2 -3.3 1.9 -2.5 4.1 -3.2 4 -1.2 4 0.6 4 2.4 4 4.6 3.2 6.8 1.4 6 0.6 6 1.7 28 -0.5 12 -3.4 20 -1.2 10 -1.7 40 -1.9 16 -2.2 8.9 -2 3.7 -2 2z"/>
<path fill="#7a0085" d="M966.8 262.9l-2 0.2 -2 -1 -2 -2.2 -2 -4.5 -1.1 -4.6 -2.2 -16 -2.1 -40 -1.3 -10 -3.6 -20 -0.5 -10 1.6 -30 0.6 -6 0.9 -4 2.3 -6 3.4 -4.9 4 -3.3 4 -1.2 4 0.6 4 2.4 2 2.1 2 2.8 2.5 5.5 1.1 4 0.8 6 1.8 30 -0.6 12 -3.2 18 -1.6 12 -2.1 40 -1 8 -1.6 10 -1.2 4 -0.9 2.2 -1.3 1.8 -0.7 0.9 -2 1.2z"/>
<path fill="#85007a" d="M968.8 256.8l-2 1.8 -2 0.1 -2 -1.3 -2 -3.3 -1.5 -5.3 -2.3 -14 -1.5 -28 -1.2 -14 -1.3 -8 -3.5 -18 -0.8 -10 1.5 -32 0.6 -6 0.9 -4 2.5 -6 2.6 -3.8 4 -3.3 4 -1.3 4 0.6 4 2.5 2 2.2 2 3 2 4.5 1.3 5.6 0.7 6 1.5 28 -0.6 12 -4.1 22 -1.3 10 -2.3 38 -2.7 16 -0.6 2 -1.9 4z"/>
<path fill="#8f0070" d="M966.8 252.5l-2 0.3 -2 -2.1 -2 -5.9 -2 -9.8 -3.1 -40.2 -1.6 -10 -3.8 -18 -0.8 -6 -0.2 -6 1.5 -30 0.7 -6 0.9 -4 1.5 -4 2.9 -4.6 4 -3.5 4 -1.3 4 0.6 4 2.6 3.2 4.2 2.6 6 0.9 4 0.7 6 1.5 28 -0.7 12 -4.5 22 -1.2 8 -3.1 40 -1.4 8 -1.8 6 -2.2 3.7z"/>
<path fill="#990066" d="M966.8 242.9l-2 0.4 -0.4 -0.5 -1.6 -2.5 -1.7 -5.5 -3.9 -38 -1.7 -10 -4.7 -21.5 -0.6 -4.5 -0.2 -8 1.4 -28 0.7 -6 1 -4 2.7 -6 3 -3.6 2 -1.5 2 -0.9 2 -0.5 2 0.1 2 0.6 2 1 2 1.7 2.4 3.1 2.7 6 1 4 0.7 6 1.4 28 -0.7 12 -4.9 22 -1.7 10 -3.8 38 -1.1 4.1 -2 4z"/>
<path fill="#a3005c" d="M964.8 229.3l-2 -5.8 -5.1 -32.7 -5.9 -24 -0.9 -6 -0.3 -8 1.4 -28 1.2 -8 2.3 -6 2.8 -4 2.5 -2.1 2 -0.9 2 -0.5 2 0.1 2 0.6 2 1.1 1.9 1.7 2.8 4 1.7 4 1 4 0.7 6 1.4 28 -0.8 12 -6.2 26 -1.7 10 -2.8 20.1 -2 7.4 -2 1z"/>
<path fill="#ad0052" d="M966.8 209.3l-2 0.7 -2 -4.8 -3.1 -12.4 -6.9 -25.1 -1.1 -6.9 -0.4 -8 1.4 -28 1.2 -8 2.4 -6 2.5 -3.3 2 -1.7 2 -1 2 -0.5 2 0.1 2 0.6 2.7 1.8 3.2 4 2.1 4.8 0.8 3.2 0.7 6 1.3 28 -0.3 8 -0.9 6 -6.6 24 -3 12.5 -2 6z"/>
<path fill="#b80047" d="M966.8 197.1l-2 0.4 -2 -2.8 -6 -16.3 -3.8 -13.6 -0.7 -6 -0.2 -6 1.1 -26 1.4 -10 1.5 -4 2.7 -4.1 2.2 -1.9 1.8 -1 2 -0.4 2 0 2 0.7 3.5 2.7 2.5 3.6 1.6 4.4 1.2 8 1.3 28 -0.6 10 -1.5 7.4 -6 18.3 -2 5.1 -2 3.5z"/>
<path fill="#c2003d" d="M966.8 190l-2 0.3 -2 -1.9 -2 -3.5 -2 -4.6 -3.4 -9.5 -1.6 -6 -0.8 -6 -0.2 -6 1.1 -26 0.9 -8 2 -5.7 2 -3.1 2 -1.9 2 -1.2 2 -0.5 3 0.4 3 1.7 2 2.2 1.3 2.1 1.6 4 1.3 8 1.2 28 -0.6 10 -2 8 -4.8 13 -2 3.8 -2 2.4z"/>
<path fill="#cc0033" d="M966.8 185.2l-2 0.2 -2 -1.5 -2 -2.9 -4 -9 -2.6 -9.2 -0.7 -10 1.1 -26 1 -8 1.2 -4 2 -3.4 2.7 -2.6 3.3 -1.3 2 0.1 2 0.7 2 1.4 2.4 3.1 1.7 4 0.9 4 0.6 6 1.1 26 -0.7 10 -2 7.7 -4 9.5 -2 3.3 -2 1.9z"/>
<path fill="#d60029" d="M966.8 181.3l-2 0.2 -2 -1.3 -2 -2.6 -2 -3.7 -2 -4.8 -1.7 -6.3 -0.8 -10 1 -26 1 -8 0.6 -2 1.9 -4 2 -2.2 2 -1.4 2 -0.6 2 0.1 2 0.8 2 1.6 2 2.7 1.9 5 1 8 1 26 -0.5 8 -1.4 6.7 -2 5.3 -2 3.9 -2 3 -2 1.6z"/>
<path fill="#e0001f" d="M966.8 178l-2 0.2 -2 -1.2 -2 -2.4 -2 -3.5 -2 -5.1 -0.8 -3.2 -0.9 -10 1 -26 0.7 -6.3 1 -3.7 2.2 -4 2.8 -2.3 2 -0.7 2 0.1 2 0.8 2 1.8 2 3.2 1 3.1 1.1 8 1 26 -0.6 8 -1.4 6 -3.1 7 -2 2.7 -2 1.5z"/>
<path fill="#eb0014" d="M966.8 175.1l-2 0.2 -2 -1.1 -2 -2.3 -2 -3.5 -2 -6.3 -0.9 -9.3 0.9 -24 0.8 -8 1.2 -4.1 2 -3.2 2 -1.7 2 -0.7 2 0.1 2.7 1.6 1.7 2 1.8 4 1.1 8 1 26 -0.7 8 -1.6 6.3 -2 4 -2 2.6 -2 1.4z"/>
<path fill="#f5000a" d="M968.8 171.1l-2 1.4 -2 0.1 -2 -1 -2 -2.3 -2 -3.9 -0.8 -2.6 -1.1 -8 0.8 -26 0.8 -8 0.5 -2 1.8 -3.6 2 -1.9 2 -0.8 2 0.1 2 1.1 2 2.4 1.7 4.7 0.7 6 1 26 -0.5 6 -1.3 6 -1.6 3.7 -2 2.6z"/>
<path fill="#fc0003" d="M966.8 169.9l-2 0.2 -2 -1.1 -2 -2.5 -2 -5.1 -0.6 -4.6 0.6 -30.9 1.4 -7.1 0.6 -1.3 2.3 -2.7 1.7 -0.7 2 0.1 2 1.4 2 2.9 0.5 2.3 1.8 30 -0.3 7.6 -1.7 6.4 -2.3 3.7 -2 1.4z"/>
</g>
<path d="M851.4 47.81V580.24M1048.6 47.81V580.24" stroke="#fff" stroke-width="1" opacity="0.85"/>
<path d="M699.76 358.69L1232.19 358.69" stroke="#cd2626" stroke-width="1.5" stroke-dasharray="6 6" stroke-linecap="round" fill="none"/>
<path d="M920.89 580.24L920.89 47.81" stroke="#006400" stroke-width="1.5" stroke-dasharray="6 6" stroke-linecap="round" fill="none"/>
<path d="M1010.11 580.24L1010.11 47.81" stroke="#006400" stroke-width="1.5" stroke-dasharray="6 6" stroke-linecap="round" fill="none"/>
</g>
<rect x="699.76" y="47.81" width="532.43" height="532.43" fill="none" stroke="#000" stroke-width="0.75"/>
<path d="M750.5 580.24H1180.5M750.5 580.24v5.98M858 580.24v5.98M965.5 580.24v5.98M1073 580.24v5.98M1180.5 580.24v5.98M699.76 545.21V47.81M699.76 545.21h-5.98M699.76 420.86h-5.98M699.76 296.51h-5.98M699.76 172.16h-5.98M699.76 47.81h-5.98" fill="none" stroke="#000" stroke-width="0.75"/>
<g font-size="10.5" text-anchor="middle">
<text x="750.5" y="601.54">-400</text>
<text x="858" y="601.54">-200</text>
<text x="965.5" y="601.54">0</text>
<text x="1073" y="601.54">200</text>
<text x="1180.5" y="601.54">400</text>
<text transform="translate(685.16 545.71) rotate(-90)">80</text>
<text transform="translate(685.16 421.36) rotate(-90)">85</text>
<text transform="translate(685.16 297.01) rotate(-90)">90</text>
<text transform="translate(685.16 172.66) rotate(-90)">95</text>
<text transform="translate(685.16 48.31) rotate(-90)">100</text>
</g>
<g font-size="15.94" text-anchor="middle">
<text x="965.98" y="625.54">Distance to peak summit</text>
<text transform="translate(662.3 314.02) rotate(-90)">Motif score</text>
</g>
<text x="965.98" y="31.8" font-size="21.5" font-weight="bold" text-anchor="middle">Density heat map for the top hits</text>
<polygon points="79.25,1200.23 80.25,1200.2 81.25,1200.17 82.25,1200.12 83.25,1200.08 84.25,1200.05 85.25,1200.01 86.25,1199.97 87.25,1199.94 88.25,1199.9 89.25,1199.87 90.25,1199.83 91.25,1199.8 92.25,1199.77 93.25,1199.75 94.25,1199.72 95.25,1199.69 96.25,1199.67 97.25,1199.65 98.25,1199.63 99.25,1199.61 100.25,1199.59 101.25,1199.57 102.25,1199.56 103.25,1199.54 104.25,1199.53 105.25,1199.52 106.25,1199.51 107.25,1199.51 108.25,1199.5 109.25,1199.5 110.25,1199.5 111.25,1199.5 112.25,1199.51 113.25,1199.51 114.25,1199.52 115.25,1199.53 116.25,1199.54 117.25,1199.55 118.25,1199.56 119.25,1199.58 120.25,1199.59 121.25,1199.61 122.25,1199.62 123.25,1199.64 124.25,1199.65 125.25,1199.67 126.25,1199.68 127.25,1199.69 128.25,1199.7 129.25,1199.72 130.25,1199.73 131.25,1199.73 132.25,1199.74 133.25,1199.74 134.25,1199.74 135.25,1199.73 136.25,1199.7 137.25,1199.64 138.25,1199.56 139.25,1199.45 140.25,1199.32 141.25,1199.18 142.25,1199.03 143.25,1198.87 144.25,1198.72 145.25,1198.57 146.25,1198.42 147.25,1198.29 148.25,1198.16 149.25,1198.03 150.25,1197.91 151.25,1197.78 152.25,1197.65 153.25,1197.52 154.25,1197.39 155.25,1197.27 156.25,1197.15 157.25,1197.04 158.25,1196.93 159.25,1196.83 160.25,1196.73 161.25,1196.65 162.25,1196.58 163.25,1196.51 164.25,1196.45 165.25,1196.38 166.25,1196.32 167.25,1196.25 168.25,1196.16 169.25,1196.07 170.25,1195.95 171.25,1195.82 172.25,1195.66 173.25,1195.47 174.25,1195.27 175.25,1195.04 176.25,1194.79 177.25,1194.53 178.25,1194.25 179.25,1193.96 180.25,1193.66 181.25,1193.33 182.25,1192.98 183.25,1192.59 184.25,1192.18 185.25,1191.73 186.25,1191.26 187.25,1190.76 188.25,1190.23 189.25,1189.66 190.25,1189.06 191.25,1188.4 192.25,1187.67 193.25,1186.88 194.25,1186.04 195.25,1185.14 196.25,1184.2 197.25,1183.21 198.25,1182.15 199.25,1181.02 200.25,1179.81 201.25,1178.55 202.25,1177.26 203.25,1175.97 204.25,1174.7 205.25,1173.45 206.25,1172.22 207.25,1171 208.25,1169.78 209.25,1168.59 210.25,1167.43 211.25,1166.33 212.25,1165.29 213.25,1164.3 214.25,1163.37 215.25,1162.5 216.25,1161.7 217.25,1160.98 218.25,1160.36 219.25,1159.82 220.25,1159.34 221.25,1158.88 222.25,1158.43 223.25,1157.94 224.25,1157.4 225.25,1156.77 226.25,1156.04 227.25,1155.23 228.25,1154.33 229.25,1153.37 230.25,1152.37 231.25,1151.32 232.25,1150.24 233.25,1149.12 234.25,1147.93 235.25,1146.69 236.25,1145.4 237.25,1144.09 238.25,1142.77 239.25,1141.48 240.25,1140.21 241.25,1138.98 242.25,1137.77 243.25,1136.57 244.25,1135.36 245.25,1134.13 246.25,1132.86 247.25,1131.56 248.25,1130.21 249.25,1128.83 250.25,1127.41 251.25,1125.95 252.25,1124.43 253.25,1122.86 254.25,1121.22 255.25,1119.48 256.25,1117.64 257.25,1115.69 258.25,1113.66 259.25,1111.57 260.25,1109.41 261.25,1107.2 262.25,1104.94 263.25,1102.67 264.25,1100.43 265.25,1098.24 266.25,1096.1 267.25,1094.01 268.25,1092.02 269.25,1090.16 270.25,1088.47 271.25,1086.94 272.25,1085.53 273.25,1084.21 274.25,1082.95 275.25,1081.75 276.25,1080.6 277.25,1079.49 278.25,1078.36 279.25,1077.13 280.25,1075.76 281.25,1074.2 282.25,1072.47 283.25,1070.58 284.25,1068.52 285.25,1066.29 286.25,1063.86 287.25,1061.22 288.25,1058.38 289.25,1055.34 290.25,1052.11 291.25,1048.68 292.25,1045.12 293.25,1041.46 294.25,1037.79 295.25,1034.15 296.25,1030.55 297.25,1026.92 298.25,1023.17 299.25,1019.13 300.25,1014.78 301.25,1010.26 302.25,1005.85 303.25,1001.65 304.25,997.68 305.25,993.79 306.25,989.9 307.25,985.93 308.25,981.88 309.25,977.75 310.25,973.58 311.25,969.38 312.25,965.14 313.25,960.86 314.25,956.53 315.25,952.14 316.25,947.7 317.25,943.26 318.25,938.85 319.25,934.5 320.25,930.21 321.25,925.99 322.25,921.84 323.25,917.85 324.25,914.1 325.25,910.65 326.25,907.49 327.25,904.58 328.25,901.81 329.25,899.12 330.25,896.44 331.25,893.74 332.25,891.04 333.25,888.34 334.25,885.63 335.25,882.86 336.25,879.96 337.25,876.89 338.25,873.59 339.25,870.07 340.25,866.35 341.25,862.46 342.25,858.38 343.25,854.09 344.25,849.61 345.25,845.03 346.25,840.52 347.25,836.23 348.25,832.22 349.25,828.44 350.25,824.88 351.25,821.52 352.25,818.39 353.25,815.46 354.25,812.71 355.25,810.15 356.25,807.79 357.25,805.65 358.25,803.73 359.25,801.99 360.25,800.38 361.25,798.86 362.25,797.4 363.25,795.98 364.25,794.6 365.25,793.23 366.25,791.82 367.25,790.29 368.25,788.62 369.25,786.79 370.25,784.82 371.25,782.72 372.25,780.46 373.25,778.04 374.25,775.45 375.25,772.7 376.25,769.86 377.25,766.96 378.25,764.03 379.25,761.06 380.25,758.06 381.25,755.03 382.25,752 383.25,748.95 384.25,745.9 385.25,742.86 386.25,739.89 387.25,737.03 388.25,734.29 389.25,731.66 390.25,729.13 391.25,726.7 392.25,724.36 393.25,722.11 394.25,719.94 395.25,717.88 396.25,715.98 397.25,714.27 398.25,712.75 399.25,711.42 400.25,710.29 401.25,709.38 402.25,708.66 403.25,708.12 404.25,707.78 405.25,707.64 406.25,707.68 407.25,707.87 408.25,708.17 409.25,708.61 410.25,709.22 411.25,709.96 412.25,710.79 413.25,711.66 414.25,712.55 415.25,713.46 416.25,714.37 417.25,715.25 418.25,716.09 419.25,716.89 420.25,717.68 421.25,718.48 422.25,719.33 423.25,720.24 424.25,721.21 425.25,722.22 426.25,723.24 427.25,724.26 428.25,725.27 429.25,726.25 430.25,727.14 431.25,727.89 432.25,728.48 433.25,728.88 434.25,729.03 435.25,728.92 436.25,728.57 437.25,727.99 438.25,727.18 439.25,726.14 440.25,724.98 441.25,723.83 442.25,722.82 443.25,722.01 444.25,721.49 445.25,721.28 446.25,721.45 447.25,722.05 448.25,723.12 449.25,724.66 450.25,726.61 451.25,728.92 452.25,731.53 453.25,734.43 454.25,737.61 455.25,741.05 456.25,744.75 457.25,748.73 458.25,752.98 459.25,757.53 460.25,762.35 461.25,767.36 462.25,772.46 463.25,777.55 464.25,782.6 465.25,787.56 466.25,792.35 467.25,796.95 468.25,801.36 469.25,805.58 470.25,809.63 471.25,813.49 472.25,817.18 473.25,820.67 474.25,823.97 475.25,827.08 476.25,830.07 477.25,833.02 478.25,835.95 479.25,838.91 480.25,841.96 481.25,845.14 482.25,848.52 483.25,852.1 484.25,855.92 485.25,859.99 486.25,864.34 487.25,868.98 488.25,873.88 489.25,879.04 490.25,884.47 491.25,890.18 492.25,896.16 493.25,902.4 494.25,908.92 495.25,915.66 496.25,922.6 497.25,929.7 498.25,936.97 499.25,944.42 500.25,952.04 501.25,959.85 502.25,967.84 503.25,976.04 504.25,984.43 505.25,992.89 506.25,1001.16 507.25,1008.99 508.25,1016.37 509.25,1023.38 510.25,1030.17 511.25,1036.79 512.25,1043.27 513.25,1049.63 514.25,1055.91 515.25,1062.11 516.25,1068.21 517.25,1074.17 518.25,1079.94 519.25,1085.53 520.25,1090.94 521.25,1096.2 522.25,1101.3 523.25,1106.26 524.25,1111.04 525.25,1115.65 526.25,1120.09 527.25,1124.36 528.25,1128.45 529.25,1132.39 530.25,1136.18 531.25,1139.76 532.25,1143.08 533.25,1146.09 534.25,1148.8 535.25,1151.27 536.25,1153.53 537.25,1155.6 538.25,1157.51 539.25,1159.31 540.25,1161.07 541.25,1162.81 542.25,1164.56 543.25,1166.31 544.25,1168.09 545.25,1169.91 546.25,1171.79 547.25,1173.75 548.25,1175.77 549.25,1177.82 550.25,1179.89 551.25,1181.97 552.25,1184.05 553.25,1186.09 554.25,1188.03 555.25,1189.8 556.25,1191.42 557.25,1192.9 558.25,1194.21 559.25,1195.35 560.25,1196.3 561.25,1197.1 562.25,1197.77 563.25,1198.32 564.25,1198.77 565.25,1199.12 566.25,1199.41 567.25,1199.63 568.25,1199.82 569.25,1199.96 570.25,1200.07 571.25,1200.16 572.25,1200.21 572.75,1200.24" fill="#f5deb3" stroke="#000" stroke-width="1.05" stroke-linejoin="round"/>
<path d="M288.88 1220.24L288.88 687.81" stroke="#cd2626" stroke-width="1.5" stroke-dasharray="6 6" stroke-linecap="round" fill="none"/>
<rect x="59.76" y="687.81" width="532.43" height="532.43" fill="none" stroke="#000" stroke-width="0.75"/>
<path d="M135.2 1220.24H545M135.2 1220.24v5.98M237.65 1220.24v5.98M340.1 1220.24v5.98M442.55 1220.24v5.98M545 1220.24v5.98M59.76 1200.25V751.25M59.76 1200.25h-5.98M59.76 1110.45h-5.98M59.76 1020.65h-5.98M59.76 930.85h-5.98M59.76 841.05h-5.98M59.76 751.25h-5.98" fill="none" stroke="#000" stroke-width="0.75"/>
<g font-size="10.5" text-anchor="middle">
<text x="135.2" y="1241.54">80</text>
<text x="237.65" y="1241.54">85</text>
<text x="340.1" y="1241.54">90</text>
<text x="442.55" y="1241.54">95</text>
<text x="545" y="1241.54">100</text>
<text transform="translate(45.16 1200.75) rotate(-90)">0.00</text>
<text transform="translate(45.16 1110.95) rotate(-90)">0.02</text>
<text transform="translate(45.16 1021.15) rotate(-90)">0.04</text>
<text transform="translate(45.16 931.35) rotate(-90)">0.06</text>
<text transform="translate(45.16 841.55) rotate(-90)">0.08</text>
<text transform="translate(45.16 751.75) rotate(-90)">0.10</text>
</g>
<g font-size="15.94" text-anchor="middle">
<text x="325.98" y="1265.54">Motif score</text>
<text transform="translate(22.3 954.02) rotate(-90)">Density</text>
</g>
<text x="325.98" y="671.8" font-size="21.5" font-weight="bold" text-anchor="middle">Motif score threshold: 87.500</text>
<polygon points="719.3,1200.39 720.3,1200.37 721.3,1200.32 722.3,1200.25 723.3,1200.16 724.3,1200.04 725.3,1199.9 726.3,1199.71 727.3,1199.44 728.3,1199.05 729.3,1198.53 730.3,1197.9 731.3,1197.14 732.3,1196.21 733.3,1195.07 734.3,1193.71 735.3,1192.15 736.3,1190.41 737.3,1188.46 738.3,1186.26 739.3,1183.85 740.3,1181.26 741.3,1178.55 742.3,1175.71 743.3,1172.76 744.3,1169.73 745.3,1166.72 746.3,1163.83 747.3,1161.09 748.3,1158.48 749.3,1156.01 750.3,1153.68 751.3,1151.52 752.3,1149.51 753.3,1147.66 754.3,1146.01 755.3,1144.59 756.3,1143.4 757.3,1142.43 758.3,1141.67 759.3,1141.15 760.3,1140.85 761.3,1140.71 762.3,1140.65 763.3,1140.64 764.3,1140.7 765.3,1140.87 766.3,1141.14 767.3,1141.47 768.3,1141.81 769.3,1142.08 770.3,1142.27 771.3,1142.4 772.3,1142.48 773.3,1142.55 774.3,1142.61 775.3,1142.65 776.3,1142.67 777.3,1142.66 778.3,1142.58 779.3,1142.45 780.3,1142.25 781.3,1142.01 782.3,1141.76 783.3,1141.5 784.3,1141.24 785.3,1140.98 786.3,1140.7 787.3,1140.41 788.3,1140.13 789.3,1139.9 790.3,1139.74 791.3,1139.65 792.3,1139.61 793.3,1139.6 794.3,1139.6 795.3,1139.6 796.3,1139.61 797.3,1139.64 798.3,1139.75 799.3,1139.94 800.3,1140.24 801.3,1140.59 802.3,1140.96 803.3,1141.3 804.3,1141.59 805.3,1141.82 806.3,1142.03 807.3,1142.21 808.3,1142.37 809.3,1142.51 810.3,1142.61 811.3,1142.65 812.3,1142.64 813.3,1142.57 814.3,1142.44 815.3,1142.26 816.3,1142.05 817.3,1141.83 818.3,1141.59 819.3,1141.36 820.3,1141.13 821.3,1140.88 822.3,1140.62 823.3,1140.35 824.3,1140.07 825.3,1139.81 826.3,1139.57 827.3,1139.35 828.3,1139.17 829.3,1139.02 830.3,1138.89 831.3,1138.78 832.3,1138.67 833.3,1138.56 834.3,1138.44 835.3,1138.31 836.3,1138.16 837.3,1137.99 838.3,1137.81 839.3,1137.61 840.3,1137.39 841.3,1137.14 842.3,1136.85 843.3,1136.5 844.3,1136.06 845.3,1135.53 846.3,1134.91 847.3,1134.22 848.3,1133.51 849.3,1132.8 850.3,1132.09 851.3,1131.36 852.3,1130.62 853.3,1129.88 854.3,1129.19 855.3,1128.6 856.3,1128.11 857.3,1127.72 858.3,1127.4 859.3,1127.14 860.3,1126.96 861.3,1126.87 862.3,1126.87 863.3,1126.94 864.3,1127.05 865.3,1127.21 866.3,1127.37 867.3,1127.56 868.3,1127.77 869.3,1128.01 870.3,1128.28 871.3,1128.56 872.3,1128.82 873.3,1129.05 874.3,1129.21 875.3,1129.33 876.3,1129.4 877.3,1129.46 878.3,1129.5 879.3,1129.54 880.3,1129.58 881.3,1129.63 882.3,1129.68 883.3,1129.74 884.3,1129.8 885.3,1129.87 886.3,1129.95 887.3,1130.03 888.3,1130.1 889.3,1130.18 890.3,1130.26 891.3,1130.33 892.3,1130.41 893.3,1130.5 894.3,1130.57 895.3,1130.63 896.3,1130.66 897.3,1130.63 898.3,1130.53 899.3,1130.34 900.3,1130.07 901.3,1129.75 902.3,1129.34 903.3,1128.84 904.3,1128.21 905.3,1127.49 906.3,1126.72 907.3,1125.91 908.3,1125.08 909.3,1124.21 910.3,1123.28 911.3,1122.3 912.3,1121.25 913.3,1120.11 914.3,1118.9 915.3,1117.6 916.3,1116.21 917.3,1114.75 918.3,1113.2 919.3,1111.55 920.3,1109.78 921.3,1107.86 922.3,1105.77 923.3,1103.46 924.3,1100.9 925.3,1098.07 926.3,1094.91 927.3,1091.38 928.3,1087.37 929.3,1082.75 930.3,1077.44 931.3,1071.52 932.3,1065.24 933.3,1058.87 934.3,1052.51 935.3,1046.04 936.3,1039.17 937.3,1031.58 938.3,1023.02 939.3,1013.42 940.3,1002.94 941.3,991.88 942.3,980.51 943.3,968.9 944.3,956.94 945.3,944.5 946.3,931.46 947.3,917.78 948.3,903.42 949.3,888.38 950.3,872.74 951.3,856.67 952.3,840.4 953.3,824.18 954.3,808.34 955.3,793.19 956.3,778.99 957.3,765.89 958.3,753.99 959.3,743.33 960.3,733.9 961.3,725.7 962.3,718.87 963.3,713.55 964.3,710.07 965.3,708.46 966.3,708.73 967.3,710.67 968.3,714.12 969.3,718.92 970.3,725.01 971.3,732.39 972.3,741.12 973.3,751.27 974.3,762.83 975.3,775.63 976.3,789.4 977.3,803.89 978.3,818.84 979.3,834 980.3,849.15 981.3,864.21 982.3,879.16 983.3,893.98 984.3,908.53 985.3,922.63 986.3,936.13 987.3,949 988.3,961.31 989.3,973.15 990.3,984.54 991.3,995.35 992.3,1005.35 993.3,1014.4 994.3,1022.61 995.3,1030.32 996.3,1037.97 997.3,1045.87 998.3,1053.98 999.3,1061.97 1000.3,1069.49 1001.3,1076.29 1002.3,1082.24 1003.3,1087.25 1004.3,1091.36 1005.3,1094.74 1006.3,1097.64 1007.3,1100.23 1008.3,1102.59 1009.3,1104.76 1010.3,1106.77 1011.3,1108.65 1012.3,1110.41 1013.3,1112.08 1014.3,1113.68 1015.3,1115.19 1016.3,1116.61 1017.3,1117.91 1018.3,1119.1 1019.3,1120.17 1020.3,1121.17 1021.3,1122.09 1022.3,1122.94 1023.3,1123.73 1024.3,1124.46 1025.3,1125.12 1026.3,1125.73 1027.3,1126.29 1028.3,1126.82 1029.3,1127.31 1030.3,1127.77 1031.3,1128.2 1032.3,1128.58 1033.3,1128.92 1034.3,1129.24 1035.3,1129.53 1036.3,1129.8 1037.3,1130.06 1038.3,1130.29 1039.3,1130.5 1040.3,1130.67 1041.3,1130.81 1042.3,1130.91 1043.3,1131 1044.3,1131.07 1045.3,1131.13 1046.3,1131.19 1047.3,1131.23 1048.3,1131.27 1049.3,1131.28 1050.3,1131.26 1051.3,1131.19 1052.3,1131.07 1053.3,1130.9 1054.3,1130.68 1055.3,1130.43 1056.3,1130.18 1057.3,1129.92 1058.3,1129.66 1059.3,1129.38 1060.3,1129.08 1061.3,1128.76 1062.3,1128.46 1063.3,1128.19 1064.3,1127.98 1065.3,1127.84 1066.3,1127.75 1067.3,1127.69 1068.3,1127.65 1069.3,1127.63 1070.3,1127.64 1071.3,1127.7 1072.3,1127.83 1073.3,1128.02 1074.3,1128.26 1075.3,1128.53 1076.3,1128.79 1077.3,1129.04 1078.3,1129.27 1079.3,1129.48 1080.3,1129.7 1081.3,1129.92 1082.3,1130.14 1083.3,1130.38 1084.3,1130.63 1085.3,1130.9 1086.3,1131.19 1087.3,1131.5 1088.3,1131.82 1089.3,1132.18 1090.3,1132.57 1091.3,1133 1092.3,1133.49 1093.3,1134.02 1094.3,1134.59 1095.3,1135.16 1096.3,1135.72 1097.3,1136.29 1098.3,1136.86 1099.3,1137.42 1100.3,1137.92 1101.3,1138.33 1102.3,1138.65 1103.3,1138.89 1104.3,1139.05 1105.3,1139.11 1106.3,1139.05 1107.3,1138.86 1108.3,1138.58 1109.3,1138.24 1110.3,1137.83 1111.3,1137.35 1112.3,1136.81 1113.3,1136.24 1114.3,1135.66 1115.3,1135.1 1116.3,1134.54 1117.3,1134.02 1118.3,1133.55 1119.3,1133.19 1120.3,1132.96 1121.3,1132.83 1122.3,1132.77 1123.3,1132.75 1124.3,1132.81 1125.3,1132.99 1126.3,1133.32 1127.3,1133.76 1128.3,1134.25 1129.3,1134.74 1130.3,1135.22 1131.3,1135.71 1132.3,1136.21 1133.3,1136.69 1134.3,1137.13 1135.3,1137.54 1136.3,1137.9 1137.3,1138.23 1138.3,1138.52 1139.3,1138.76 1140.3,1138.93 1141.3,1139.05 1142.3,1139.12 1143.3,1139.17 1144.3,1139.22 1145.3,1139.26 1146.3,1139.32 1147.3,1139.4 1148.3,1139.5 1149.3,1139.64 1150.3,1139.81 1151.3,1140.01 1152.3,1140.23 1153.3,1140.47 1154.3,1140.71 1155.3,1140.96 1156.3,1141.23 1157.3,1141.52 1158.3,1141.82 1159.3,1142.13 1160.3,1142.44 1161.3,1142.74 1162.3,1143.03 1163.3,1143.3 1164.3,1143.57 1165.3,1143.83 1166.3,1144.11 1167.3,1144.4 1168.3,1144.72 1169.3,1145.07 1170.3,1145.45 1171.3,1145.88 1172.3,1146.37 1173.3,1146.94 1174.3,1147.62 1175.3,1148.46 1176.3,1149.45 1177.3,1150.61 1178.3,1151.93 1179.3,1153.44 1180.3,1155.13 1181.3,1157.01 1182.3,1159.08 1183.3,1161.36 1184.3,1163.81 1185.3,1166.36 1186.3,1168.94 1187.3,1171.5 1188.3,1174.05 1189.3,1176.55 1190.3,1179 1191.3,1181.39 1192.3,1183.69 1193.3,1185.87 1194.3,1187.88 1195.3,1189.72 1196.3,1191.39 1197.3,1192.91 1198.3,1194.29 1199.3,1195.53 1200.3,1196.63 1201.3,1197.56 1202.3,1198.31 1203.3,1198.9 1204.3,1199.34 1205.3,1199.67 1206.3,1199.91 1207.3,1200.07 1208.3,1200.18 1209.3,1200.26 1210.3,1200.32 1211.3,1200.36 1212.3,1200.39 1212.6,1200.4" fill="#f5deb3" stroke="#000" stroke-width="1.05" stroke-linejoin="round"/>
<path d="M928.4 1220.24L928.4 687.81" stroke="#006400" stroke-width="1.5" stroke-dasharray="6 6" stroke-linecap="round" fill="none"/>
<path d="M1002.6 1220.24L1002.6 687.81" stroke="#006400" stroke-width="1.5" stroke-dasharray="6 6" stroke-linecap="round" fill="none"/>
<rect x="699.76" y="687.81" width="532.43" height="532.43" fill="none" stroke="#000" stroke-width="0.75"/>
<path d="M786.7 1220.24H1144.3M786.7 1220.24v5.98M876.1 1220.24v5.98M965.5 1220.24v5.98M1054.9 1220.24v5.98M1144.3 1220.24v5.98M699.76 1200.4V783.4M699.76 1200.4h-5.98M699.76 1096.15h-5.98M699.76 991.9h-5.98M699.76 887.65h-5.98M699.76 783.4h-5.98" fill="none" stroke="#000" stroke-width="0.75"/>
<g font-size="10.5" text-anchor="middle">
<text x="786.7" y="1241.54">-400</text>
<text x="876.1" y="1241.54">-200</text>
<text x="965.5" y="1241.54">0</text>
<text x="1054.9" y="1241.54">200</text>
<text x="1144.3" y="1241.54">400</text>
<text transform="translate(685.16 1200.9) rotate(-90)">0.000</text>
<text transform="translate(685.16 1096.65) rotate(-90)">0.001</text>
<text transform="translate(685.16 992.4) rotate(-90)">0.002</text>
<text transform="translate(685.16 888.15) rotate(-90)">0.003</text>
<text transform="translate(685.16 783.9) rotate(-90)">0.004</text>
</g>
<g font-size="15.94" text-anchor="middle">
<text x="965.98" y="1265.54">Distance to peak summit</text>
<text transform="translate(662.3 954.02) rotate(-90)">Density</text>
</g>
<text x="965.98" y="671.8" font-size="21.5" font-weight="bold" text-anchor="middle">Enrichment zone: 83.00</text>
<g font-size="12.9">
<path d="M1016.9 703.4H1041" stroke="#006400" stroke-width="1.2" stroke-dasharray="1.6 2.9" fill="none"/>
<path d="M1016.9 719H1041" stroke="#cd2626" stroke-width="1.2" stroke-dasharray="1.6 2.9" fill="none"/>
<ellipse cx="1028.9" cy="734.5" rx="3.1" ry="2.8" fill="#0000ff"/>
<text x="1052.1" y="707.7">enrichment zone = 83</text>
<text x="1052.1" y="723.4">motif score threshold = 87.500</text>
<text x="1052.1" y="738.6">centrality p-val = -17.7755</text>
</g>
</svg>
</body></html>
